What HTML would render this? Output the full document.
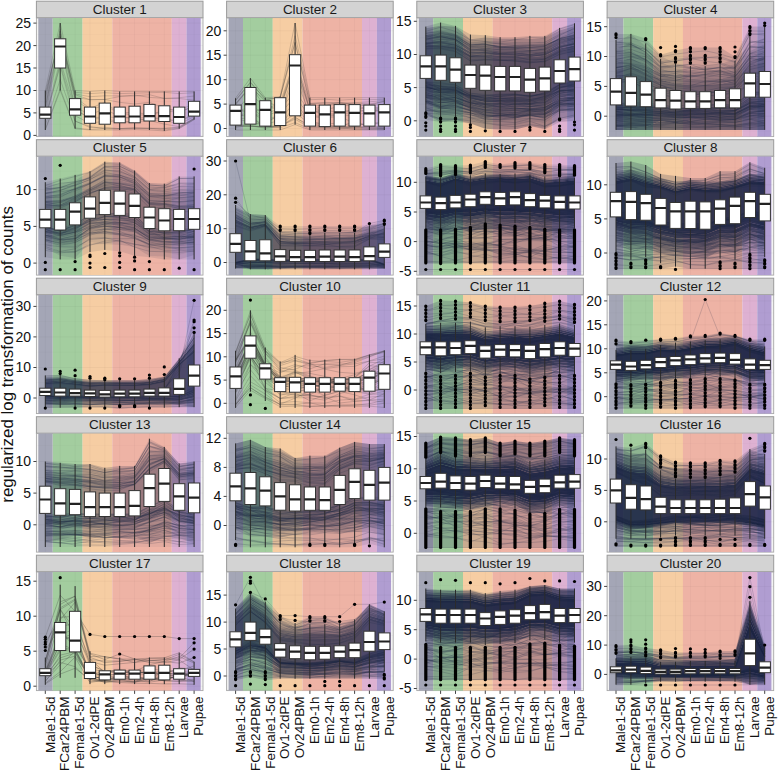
<!DOCTYPE html>
<html><head><meta charset="utf-8"><style>html,body{margin:0;padding:0;background:#fff}svg{display:block}</style></head>
<body><svg width="778" height="770" viewBox="0 0 778 770">
<defs><clipPath id="c1"><rect x="36.4" y="18" width="166.6" height="118.6"/></clipPath><clipPath id="c2"><rect x="226.6" y="18" width="166.6" height="118.6"/></clipPath><clipPath id="c3"><rect x="416.8" y="18" width="166.6" height="118.6"/></clipPath><clipPath id="c4"><rect x="607.1" y="18" width="166.6" height="118.6"/></clipPath><clipPath id="c5"><rect x="36.4" y="156.5" width="166.6" height="118.6"/></clipPath><clipPath id="c6"><rect x="226.6" y="156.5" width="166.6" height="118.6"/></clipPath><clipPath id="c7"><rect x="416.8" y="156.5" width="166.6" height="118.6"/></clipPath><clipPath id="c8"><rect x="607.1" y="156.5" width="166.6" height="118.6"/></clipPath><clipPath id="c9"><rect x="36.4" y="295" width="166.6" height="118.6"/></clipPath><clipPath id="c10"><rect x="226.6" y="295" width="166.6" height="118.6"/></clipPath><clipPath id="c11"><rect x="416.8" y="295" width="166.6" height="118.6"/></clipPath><clipPath id="c12"><rect x="607.1" y="295" width="166.6" height="118.6"/></clipPath><clipPath id="c13"><rect x="36.4" y="433.5" width="166.6" height="118.6"/></clipPath><clipPath id="c14"><rect x="226.6" y="433.5" width="166.6" height="118.6"/></clipPath><clipPath id="c15"><rect x="416.8" y="433.5" width="166.6" height="118.6"/></clipPath><clipPath id="c16"><rect x="607.1" y="433.5" width="166.6" height="118.6"/></clipPath><clipPath id="c17"><rect x="36.4" y="572" width="166.6" height="118.6"/></clipPath><clipPath id="c18"><rect x="226.6" y="572" width="166.6" height="118.6"/></clipPath><clipPath id="c19"><rect x="416.8" y="572" width="166.6" height="118.6"/></clipPath><clipPath id="c20"><rect x="607.1" y="572" width="166.6" height="118.6"/></clipPath></defs>
<style>
text{font-family:"Liberation Sans",sans-serif;fill:#111}
.st{font-size:13.5px;text-anchor:middle;fill:#1a1a1a}
.yl{font-size:14px;text-anchor:end}
.xl{font-size:13.5px;text-anchor:end}
.yt{font-size:16.9px;text-anchor:middle}
.tk{stroke:#444;stroke-width:1;fill:none}
.wh{stroke:#2b2b2b;stroke-width:1;fill:none}
.bx{fill:#fff;stroke:#333;stroke-width:1}
.md{stroke:#222;stroke-width:2.2}
.ob{stroke:#000;stroke-width:3.2;stroke-linecap:round}
.b1 .ob{stroke-dasharray:1.1 2.3}
.b2 .ob{stroke-dasharray:0.6 2.9}
circle{fill:#000}
</style>
<rect width="778" height="770" fill="#fff"/>
<rect x="36.4" y="1.2" width="166.6" height="16.5" fill="#d3d3d3" stroke="#9a9a9a" stroke-width="1"/><text x="119.7" y="13.5" class="st">Cluster 1</text><rect x="36.4" y="18" width="166.6" height="118.6" fill="#f3f3f3" stroke="#a8a8a8" stroke-width="0.9"/><rect x="38.3" y="18" width="14.4" height="118.6" fill="#a4a6b6"/><rect x="52.8" y="18" width="29.8" height="118.6" fill="#a3cd9f"/><rect x="82.5" y="18" width="29.8" height="118.6" fill="#f6cda3"/><rect x="112.3" y="18" width="59.5" height="118.6" fill="#eeb3a5"/><rect x="171.8" y="18" width="14.9" height="118.6" fill="#deb1d2"/><rect x="186.6" y="18" width="14.1" height="118.6" fill="#b09dd1"/><g stroke="#000" stroke-width="0.8"><path d="M36.4 135.4H203" stroke-opacity="0.045"/><path d="M36.4 124.2H203" stroke-opacity="0.025"/><path d="M36.4 112.9H203" stroke-opacity="0.045"/><path d="M36.4 101.7H203" stroke-opacity="0.025"/><path d="M36.4 90.5H203" stroke-opacity="0.045"/><path d="M36.4 79.2H203" stroke-opacity="0.025"/><path d="M36.4 68H203" stroke-opacity="0.045"/><path d="M36.4 56.8H203" stroke-opacity="0.025"/><path d="M36.4 45.6H203" stroke-opacity="0.045"/><path d="M36.4 34.3H203" stroke-opacity="0.025"/><path d="M36.4 23.1H203" stroke-opacity="0.045"/><path d="M45.3 18V136.6" stroke-opacity=".04"/><path d="M60.2 18V136.6" stroke-opacity=".04"/><path d="M75.1 18V136.6" stroke-opacity=".04"/><path d="M90 18V136.6" stroke-opacity=".04"/><path d="M104.8 18V136.6" stroke-opacity=".04"/><path d="M119.7 18V136.6" stroke-opacity=".04"/><path d="M134.6 18V136.6" stroke-opacity=".04"/><path d="M149.4 18V136.6" stroke-opacity=".04"/><path d="M164.3 18V136.6" stroke-opacity=".04"/><path d="M179.2 18V136.6" stroke-opacity=".04"/><path d="M194.1 18V136.6" stroke-opacity=".04"/></g><g transform="translate(45.32 0) scale(14.875 1)"><path vector-effect="non-scaling-stroke" d="M0 114.7 1 45.6 2 109.3 3 118.8 4 118.7 5 121.8 6 121.5 7 117.5 8 118.5 9 121.2 10 113.7M0 110.5 1 42 2 107 3 114.7 4 108.7 5 117 6 118.1 7 120.6 8 124.1 9 126.7 10 118.4M0 125.2 1 79.5 2 121.2 3 126.4 4 128.9 5 128.9 6 128.4 7 128.2 8 130 9 128.2 10 119.5M0 120.2 1 63.8 2 115.7 3 123.4 4 121 5 122.1 6 122.2 7 120.2 8 120.4 9 124.1 10 116.5M0 96.3 1 34 2 94.7 3 99.7 4 99.4 5 96.6 6 95.1 7 97.4 8 98.3 9 97.7 10 96M0 106.9 1 39.1 2 97.4 3 99.7 4 99.5 5 102.3 6 104 7 102.3 8 108.3 9 111.8 10 107M0 102.7 1 31 2 97.4 3 108.3 4 102.4 5 113.4 6 115 7 114.9 8 110.1 9 109.1 10 104.7M0 116.8 1 60.4 2 109.7 3 118 4 116.9 5 117.7 6 118 7 117.5 8 119.8 9 121.3 10 115.3M0 98.6 1 29.3 2 93.9 3 96.7 4 95.8 5 95.9 6 96 7 94.7 8 98.5 9 98.5 10 100.2M0 129 1 88.7 2 127.9 3 129.5 4 128.4 5 128.6 6 128.5 7 128.2 8 128.3 9 127.2 10 118.7M0 106.5 1 36.3 2 100.6 3 109.3 4 105.6 5 113.3 6 112 7 115 8 111.3 9 111.8 10 106M0 117.9 1 66 2 121 3 127.5 4 127.3 5 128.6 6 127.4 7 128.7 8 128.6 9 127.7 10 118.7M0 90.5 1 23.1 2 90.5 3 91.4 4 90.5 5 91.4 6 91.4 7 91.4 8 91.4 9 91.4 10 91.4M0 92.7 1 36.6 2 92.3 3 93.6 4 92.7 5 93.6 6 93.2 7 92.7 8 92.3 9 93.6 10 92.7M0 130 1 90.5 2 128.7 3 130 4 130 5 130 6 129.6 7 130 8 130.9 9 128.7 10 119.7" fill="none" stroke="#333" stroke-width="0.6" stroke-opacity="0.33"/></g><g clip-path="url(#c1)" class="b1"><path d="M45.3 90.5V107.1M45.3 118.3V130" class="wh"/><rect x="39.7" y="107.1" width="11.2" height="11.2" class="bx"/><path d="M39.7 114.7H50.9" class="md"/><path d="M60.2 23.1V38.8M60.2 68V90.5" class="wh"/><rect x="54.6" y="38.8" width="11.2" height="29.2" class="bx"/><path d="M54.6 46.5H65.8" class="md"/><path d="M75.1 90.5V98.6M75.1 115.2V128.7" class="wh"/><rect x="69.5" y="98.6" width="11.2" height="16.6" class="bx"/><path d="M69.5 109.3H80.7" class="md"/><path d="M90 91.4V107.1M90 123.3V130" class="wh"/><rect x="84.4" y="107.1" width="11.2" height="16.2" class="bx"/><path d="M84.4 116.5H95.5" class="md"/><path d="M104.8 90.5V103.1M104.8 124.2V130" class="wh"/><rect x="99.2" y="103.1" width="11.2" height="21.1" class="bx"/><path d="M99.2 113.4H110.4" class="md"/><path d="M119.7 91.4V107.1M119.7 122.8V130" class="wh"/><rect x="114.1" y="107.1" width="11.2" height="15.7" class="bx"/><path d="M114.1 116.5H125.3" class="md"/><path d="M134.6 91.4V106.2M134.6 122.8V129.6" class="wh"/><rect x="129" y="106.2" width="11.2" height="16.6" class="bx"/><path d="M129 116.5H140.2" class="md"/><path d="M149.4 91.4V104.4M149.4 121V130" class="wh"/><rect x="143.9" y="104.4" width="11.2" height="16.6" class="bx"/><path d="M143.9 116.1H155" class="md"/><path d="M164.3 91.4V105.8M164.3 121.5V130.9" class="wh"/><rect x="158.7" y="105.8" width="11.2" height="15.7" class="bx"/><path d="M158.7 116.1H169.9" class="md"/><path d="M179.2 91.4V107.1M179.2 123.3V128.7" class="wh"/><rect x="173.6" y="107.1" width="11.2" height="16.2" class="bx"/><path d="M173.6 117H184.8" class="md"/><path d="M194.1 91.4V101.3M194.1 116.1V119.7" class="wh"/><rect x="188.5" y="101.3" width="11.2" height="14.8" class="bx"/><path d="M188.5 111.6H199.7" class="md"/></g><path d="M33.4 135.4H36.4" class="tk"/><text x="31.1" y="140.3" class="yl">0</text><path d="M33.4 112.9H36.4" class="tk"/><text x="31.1" y="117.8" class="yl">5</text><path d="M33.4 90.5H36.4" class="tk"/><text x="31.1" y="95.4" class="yl">10</text><path d="M33.4 68H36.4" class="tk"/><text x="31.1" y="72.9" class="yl">15</text><path d="M33.4 45.6H36.4" class="tk"/><text x="31.1" y="50.5" class="yl">20</text><path d="M33.4 23.1H36.4" class="tk"/><text x="31.1" y="28" class="yl">25</text>
<rect x="226.6" y="1.2" width="166.6" height="16.5" fill="#d3d3d3" stroke="#9a9a9a" stroke-width="1"/><text x="309.9" y="13.5" class="st">Cluster 2</text><rect x="226.6" y="18" width="166.6" height="118.6" fill="#f3f3f3" stroke="#a8a8a8" stroke-width="0.9"/><rect x="228.6" y="18" width="14.4" height="118.6" fill="#a4a6b6"/><rect x="243" y="18" width="29.8" height="118.6" fill="#a3cd9f"/><rect x="272.7" y="18" width="29.8" height="118.6" fill="#f6cda3"/><rect x="302.5" y="18" width="59.5" height="118.6" fill="#eeb3a5"/><rect x="362" y="18" width="14.9" height="118.6" fill="#deb1d2"/><rect x="376.9" y="18" width="14.1" height="118.6" fill="#b09dd1"/><g stroke="#000" stroke-width="0.8"><path d="M226.6 128.5H393.2" stroke-opacity="0.045"/><path d="M226.6 116.3H393.2" stroke-opacity="0.025"/><path d="M226.6 104.1H393.2" stroke-opacity="0.045"/><path d="M226.6 91.9H393.2" stroke-opacity="0.025"/><path d="M226.6 79.7H393.2" stroke-opacity="0.045"/><path d="M226.6 67.4H393.2" stroke-opacity="0.025"/><path d="M226.6 55.2H393.2" stroke-opacity="0.045"/><path d="M226.6 43H393.2" stroke-opacity="0.025"/><path d="M226.6 30.8H393.2" stroke-opacity="0.045"/><path d="M226.6 18.6H393.2" stroke-opacity="0.025"/><path d="M235.6 18V136.6" stroke-opacity=".04"/><path d="M250.4 18V136.6" stroke-opacity=".04"/><path d="M265.3 18V136.6" stroke-opacity=".04"/><path d="M280.2 18V136.6" stroke-opacity=".04"/><path d="M295.1 18V136.6" stroke-opacity=".04"/><path d="M309.9 18V136.6" stroke-opacity=".04"/><path d="M324.8 18V136.6" stroke-opacity=".04"/><path d="M339.7 18V136.6" stroke-opacity=".04"/><path d="M354.6 18V136.6" stroke-opacity=".04"/><path d="M369.4 18V136.6" stroke-opacity=".04"/><path d="M384.3 18V136.6" stroke-opacity=".04"/></g><g transform="translate(235.55 0) scale(14.875 1)"><path vector-effect="non-scaling-stroke" d="M0 109.7 1 111.9 2 109 3 103 4 59 5 109.1 6 110.5 7 112.2 8 109.2 9 111.5 10 110.8M0 125.8 1 125.8 2 128.2 3 126.6 4 117.9 5 125 6 125.2 7 126.4 8 126.7 9 127.1 10 127M0 119.2 1 117.6 2 126.5 3 126.9 4 104.2 5 125.6 6 127.4 7 126.6 8 121.3 9 126.4 10 126.6M0 124.3 1 126.5 2 126.8 3 126.3 4 116.8 5 127.2 6 127 7 127.1 8 127.1 9 128 10 128.7M0 100.7 1 82.7 2 99.1 3 97.2 4 42.5 5 103.4 6 102.4 7 102.8 8 103.3 9 103.9 10 101.6M0 105 1 86.6 2 101.6 3 106.8 4 57.8 5 105 6 105.6 7 104 8 102.7 9 101.8 10 100.5M0 120.9 1 106.4 2 119.4 3 115.6 4 67.8 5 110.6 6 105.5 7 102.2 8 104.6 9 110.2 10 107.2M0 126.9 1 126.2 2 126.4 3 127.7 4 122.7 5 128.9 6 128.9 7 128.8 8 128.7 9 129.1 10 129.5M0 114.7 1 116.5 2 126.6 3 125 4 113.2 5 123.3 6 126.8 7 127 8 127.8 9 128.4 10 128.1M0 125.7 1 124.1 2 123.8 3 113.7 4 96.6 5 116.4 6 117.9 7 116.4 8 123.5 9 125.3 10 121.4M0 112.8 1 106 2 113.3 3 108.8 4 63 5 120.9 6 124.5 7 127.5 8 129.4 9 129.5 10 128.9M0 110.5 1 111.7 2 121.4 3 116 4 75.8 5 115.2 6 116.7 7 114.8 8 111.7 9 110.5 10 109.1M0 127.1 1 125.6 2 127.6 3 125.9 4 119.2 5 127.6 6 127.8 7 128.4 8 126.8 9 122.1 10 123.7M0 104.2 1 85.6 2 107.3 3 106.9 4 61.8 5 110.1 6 115.1 7 114.7 8 115.9 9 111.4 10 109.6M0 111 1 94.6 2 106.7 3 109.6 4 91.2 5 112.1 6 110 7 106.3 8 104.7 9 105.1 10 104.4M0 116.6 1 113.3 2 116.8 3 110 4 61.5 5 110.2 6 113.3 7 114.3 8 108.9 9 108 10 107.3M0 118.6 1 122.3 2 124.6 3 120.1 4 101 5 122.9 6 124.3 7 122.8 8 126.9 9 127.1 10 127.8M0 103.4 1 87.5 2 100.2 3 97.2 4 42.3 5 103.5 6 103.3 7 103.2 8 105.6 9 105.1 10 101.2M0 98.2 1 78.2 2 97.7 3 96.7 4 23 5 97.7 6 97.7 7 97.7 8 97.7 9 97.7 10 97.7M0 100.2 1 82.1 2 99.2 3 98.2 4 35.7 5 99.7 6 99.2 7 100.2 8 99.2 9 99.7 10 99.2M0 130 1 130 2 130 3 130 4 124.6 5 130 6 130 7 130 8 130 9 130 10 130" fill="none" stroke="#333" stroke-width="0.6" stroke-opacity="0.36"/></g><g clip-path="url(#c2)" class="b1"><path d="M235.6 98.2V105.1M235.6 125.1V130" class="wh"/><rect x="230" y="105.1" width="11.2" height="20" class="bx"/><path d="M230 110.9H241.1" class="md"/><path d="M250.4 78.2V87.5M250.4 124.1V130" class="wh"/><rect x="244.8" y="87.5" width="11.2" height="36.6" class="bx"/><path d="M244.8 104.1H256" class="md"/><path d="M265.3 97.7V100.7M265.3 126.1V130" class="wh"/><rect x="259.7" y="100.7" width="11.2" height="25.4" class="bx"/><path d="M259.7 109.9H270.9" class="md"/><path d="M280.2 96.7V97.7M280.2 125.6V130" class="wh"/><rect x="274.6" y="97.7" width="11.2" height="27.8" class="bx"/><path d="M274.6 112.4H285.8" class="md"/><path d="M295.1 23V54.7M295.1 115.8V124.6" class="wh"/><rect x="289.5" y="54.7" width="11.2" height="61.1" class="bx"/><path d="M289.5 65.5H300.6" class="md"/><path d="M309.9 97.7V105.1M309.9 126.1V130" class="wh"/><rect x="304.3" y="105.1" width="11.2" height="21" class="bx"/><path d="M304.3 112.9H315.5" class="md"/><path d="M324.8 97.7V105.1M324.8 126.5V130" class="wh"/><rect x="319.2" y="105.1" width="11.2" height="21.5" class="bx"/><path d="M319.2 114.3H330.4" class="md"/><path d="M339.7 97.7V104.6M339.7 126.1V130" class="wh"/><rect x="334.1" y="104.6" width="11.2" height="21.5" class="bx"/><path d="M334.1 112.4H345.3" class="md"/><path d="M354.6 97.7V104.6M354.6 126.1V130" class="wh"/><rect x="349" y="104.6" width="11.2" height="21.5" class="bx"/><path d="M349 112.9H360.1" class="md"/><path d="M369.4 97.7V105.1M369.4 126.1V130" class="wh"/><rect x="363.8" y="105.1" width="11.2" height="21" class="bx"/><path d="M363.8 113.4H375" class="md"/><path d="M384.3 97.7V104.6M384.3 126.1V130" class="wh"/><rect x="378.7" y="104.6" width="11.2" height="21.5" class="bx"/><path d="M378.7 112.4H389.9" class="md"/></g><path d="M223.6 128.5H226.6" class="tk"/><text x="221.3" y="133.4" class="yl">0</text><path d="M223.6 104.1H226.6" class="tk"/><text x="221.3" y="109" class="yl">5</text><path d="M223.6 79.7H226.6" class="tk"/><text x="221.3" y="84.6" class="yl">10</text><path d="M223.6 55.2H226.6" class="tk"/><text x="221.3" y="60.1" class="yl">15</text><path d="M223.6 30.8H226.6" class="tk"/><text x="221.3" y="35.7" class="yl">20</text>
<rect x="416.8" y="1.2" width="166.6" height="16.5" fill="#d3d3d3" stroke="#9a9a9a" stroke-width="1"/><text x="500.1" y="13.5" class="st">Cluster 3</text><rect x="416.8" y="18" width="166.6" height="118.6" fill="#f3f3f3" stroke="#a8a8a8" stroke-width="0.9"/><rect x="418.8" y="18" width="14.4" height="118.6" fill="#a4a6b6"/><rect x="433.2" y="18" width="29.8" height="118.6" fill="#a3cd9f"/><rect x="463" y="18" width="29.8" height="118.6" fill="#f6cda3"/><rect x="492.7" y="18" width="59.5" height="118.6" fill="#eeb3a5"/><rect x="552.2" y="18" width="14.9" height="118.6" fill="#deb1d2"/><rect x="567.1" y="18" width="14.1" height="118.6" fill="#b09dd1"/><g stroke="#000" stroke-width="0.8"><path d="M416.8 120.8H583.4" stroke-opacity="0.045"/><path d="M416.8 104.2H583.4" stroke-opacity="0.025"/><path d="M416.8 87.6H583.4" stroke-opacity="0.045"/><path d="M416.8 71H583.4" stroke-opacity="0.025"/><path d="M416.8 54.5H583.4" stroke-opacity="0.045"/><path d="M416.8 37.9H583.4" stroke-opacity="0.025"/><path d="M416.8 21.3H583.4" stroke-opacity="0.045"/><path d="M425.8 18V136.6" stroke-opacity=".04"/><path d="M440.6 18V136.6" stroke-opacity=".04"/><path d="M455.5 18V136.6" stroke-opacity=".04"/><path d="M470.4 18V136.6" stroke-opacity=".04"/><path d="M485.3 18V136.6" stroke-opacity=".04"/><path d="M500.1 18V136.6" stroke-opacity=".04"/><path d="M515 18V136.6" stroke-opacity=".04"/><path d="M529.9 18V136.6" stroke-opacity=".04"/><path d="M544.8 18V136.6" stroke-opacity=".04"/><path d="M559.6 18V136.6" stroke-opacity=".04"/><path d="M574.5 18V136.6" stroke-opacity=".04"/></g><g fill="#1c2545" clip-path="url(#c3)"><path d="M425.8 28.2L440.6 25.8V22.6L425.8 26.6ZM425.8 119.5L440.6 122.1V122.1L425.8 114.2ZM440.6 25.8L455.5 26.7V25.9L440.6 22.6ZM440.6 122.1L455.5 122.1V120.1L440.6 122.1ZM455.5 26.7L470.4 39.2V34.6L455.5 25.9ZM455.5 122.1L470.4 123.5V123.5L455.5 120.1ZM470.4 39.2L485.3 37.5V35.2L470.4 34.6ZM470.4 123.5L485.3 128.8V128.8L470.4 123.5ZM485.3 37.5L500.1 38.8V37.2L485.3 35.2ZM485.3 128.8L500.1 129.4V129.4L485.3 128.8ZM500.1 38.8L515 38.8V37.2L500.1 37.2ZM500.1 129.4L515 129.4V129.4L500.1 129.4ZM515 38.8L529.9 39.1V35.9L515 37.2ZM515 129.4L529.9 126.1V126.1L515 129.4ZM529.9 39.1L544.8 37.8V35.9L529.9 35.9ZM529.9 126.1L544.8 129.4V128.8L529.9 126.1ZM544.8 37.8L559.6 30.5V27.9L544.8 35.9ZM544.8 129.4L559.6 122.1V118.8L544.8 128.8ZM559.6 30.5L574.5 26.1V23.3L559.6 27.9ZM559.6 122.1L574.5 120.8V116.8L559.6 118.8Z" fill-opacity=".15"/><path d="M425.8 31.6L440.6 29.4V25.8L425.8 28.2ZM425.8 114.2L440.6 122.1V116L425.8 108.9ZM440.6 29.4L455.5 30.6V26.7L440.6 25.8ZM440.6 122.1L455.5 120.1V114.6L440.6 116ZM455.5 30.6L470.4 42.4V39.2L455.5 26.7ZM455.5 120.1L470.4 123.5V118.5L455.5 114.6ZM470.4 42.4L485.3 40.9V37.5L470.4 39.2ZM470.4 123.5L485.3 128.8V123.4L470.4 118.5ZM485.3 40.9L500.1 42.2V38.8L485.3 37.5ZM485.3 128.8L500.1 129.4V124L485.3 123.4ZM500.1 42.2L515 42.2V38.8L500.1 38.8ZM500.1 129.4L515 129.4V124L500.1 124ZM515 42.2L529.9 42.7V39.1L515 38.8ZM515 129.4L529.9 126.1V121.4L515 124ZM529.9 42.7L544.8 41.4V37.8L529.9 39.1ZM529.9 126.1L544.8 128.8V123.2L529.9 121.4ZM544.8 41.4L559.6 34.1V30.5L544.8 37.8ZM544.8 128.8L559.6 118.8V113.6L544.8 123.2ZM559.6 34.1L574.5 29.9V26.1L559.6 30.5ZM559.6 118.8L574.5 116.8V111.6L559.6 113.6Z" fill-opacity=".35"/><path d="M425.8 35L440.6 33V29.4L425.8 31.6ZM425.8 108.9L440.6 116V109.9L425.8 103.7ZM440.6 33L455.5 34.4V30.6L440.6 29.4ZM440.6 116L455.5 114.6V109L440.6 109.9ZM455.5 34.4L470.4 45.6V42.4L455.5 30.6ZM455.5 114.6L470.4 118.5V113.6L455.5 109ZM470.4 45.6L485.3 44.3V40.9L470.4 42.4ZM470.4 118.5L485.3 123.4V118L470.4 113.6ZM485.3 44.3L500.1 45.6V42.2L485.3 40.9ZM485.3 123.4L500.1 124V118.5L485.3 118ZM500.1 45.6L515 45.6V42.2L500.1 42.2ZM500.1 124L515 124V118.5L500.1 118.5ZM515 45.6L529.9 46.3V42.7L515 42.2ZM515 124L529.9 121.4V116.6L515 118.5ZM529.9 46.3L544.8 45V41.4L529.9 42.7ZM529.9 121.4L544.8 123.2V117.7L529.9 116.6ZM544.8 45L559.6 37.7V34.1L544.8 41.4ZM544.8 123.2L559.6 113.6V108.3L544.8 117.7ZM559.6 37.7L574.5 33.7V29.9L559.6 34.1ZM559.6 113.6L574.5 111.6V106.3L559.6 108.3Z" fill-opacity=".40"/><path d="M425.8 38.4L440.6 36.6V33L425.8 35ZM425.8 103.7L440.6 109.9V103.7L425.8 98.4ZM440.6 36.6L455.5 38.2V34.4L440.6 33ZM440.6 109.9L455.5 109V103.5L440.6 103.7ZM455.5 38.2L470.4 48.8V45.6L455.5 34.4ZM455.5 109L470.4 113.6V108.7L455.5 103.5ZM470.4 48.8L485.3 47.7V44.3L470.4 45.6ZM470.4 113.6L485.3 118V112.7L470.4 108.7ZM485.3 47.7L500.1 49V45.6L485.3 44.3ZM485.3 118L500.1 118.5V113L485.3 112.7ZM500.1 49L515 49V45.6L500.1 45.6ZM500.1 118.5L515 118.5V113L500.1 113ZM515 49L529.9 49.9V46.3L515 45.6ZM515 118.5L529.9 116.6V111.9L515 113ZM529.9 49.9L544.8 48.6V45L529.9 46.3ZM529.9 116.6L544.8 117.7V112.1L529.9 111.9ZM544.8 48.6L559.6 41.3V37.7L544.8 45ZM544.8 117.7L559.6 108.3V103L544.8 112.1ZM559.6 41.3L574.5 37.5V33.7L559.6 37.7ZM559.6 108.3L574.5 106.3V101.1L559.6 103Z" fill-opacity=".50"/><path d="M425.8 41.8L440.6 40.2V36.6L425.8 38.4ZM425.8 98.4L440.6 103.7V97.6L425.8 93.2ZM440.6 40.2L455.5 42V38.2L440.6 36.6ZM440.6 103.7L455.5 103.5V98L440.6 97.6ZM455.5 42L470.4 51.9V48.8L455.5 38.2ZM455.5 103.5L470.4 108.7V103.8L455.5 98ZM470.4 51.9L485.3 51.1V47.7L470.4 48.8ZM470.4 108.7L485.3 112.7V107.3L470.4 103.8ZM485.3 51.1L500.1 52.4V49L485.3 47.7ZM485.3 112.7L500.1 113V107.6L485.3 107.3ZM500.1 52.4L515 52.4V49L500.1 49ZM500.1 113L515 113V107.6L500.1 107.6ZM515 52.4L529.9 53.5V49.9L515 49ZM515 113L529.9 111.9V107.1L515 107.6ZM529.9 53.5L544.8 52.2V48.6L529.9 49.9ZM529.9 111.9L544.8 112.1V106.6L529.9 107.1ZM544.8 52.2L559.6 44.9V41.3L544.8 48.6ZM544.8 112.1L559.6 103V97.8L544.8 106.6ZM559.6 44.9L574.5 41.4V37.5L559.6 41.3ZM559.6 103L574.5 101.1V95.8L559.6 97.8Z" fill-opacity=".60"/><path d="M425.8 45.2L440.6 43.9V40.2L425.8 41.8ZM425.8 93.2L440.6 97.6V91.5L425.8 87.9ZM440.6 43.9L455.5 45.8V42L440.6 40.2ZM440.6 97.6L455.5 98V92.4L440.6 91.5ZM455.5 45.8L470.4 55.1V51.9L455.5 42ZM455.5 98L470.4 103.8V98.9L455.5 92.4ZM470.4 55.1L485.3 54.5V51.1L470.4 51.9ZM470.4 103.8L485.3 107.3V102L470.4 98.9ZM485.3 54.5L500.1 55.8V52.4L485.3 51.1ZM485.3 107.3L500.1 107.6V102.1L485.3 102ZM500.1 55.8L515 55.8V52.4L500.1 52.4ZM500.1 107.6L515 107.6V102.1L500.1 102.1ZM515 55.8L529.9 57.1V53.5L515 52.4ZM515 107.6L529.9 107.1V102.4L515 102.1ZM529.9 57.1L544.8 55.8V52.2L529.9 53.5ZM529.9 107.1L544.8 106.6V101L529.9 102.4ZM544.8 55.8L559.6 48.5V44.9L544.8 52.2ZM544.8 106.6L559.6 97.8V92.5L544.8 101ZM559.6 48.5L574.5 45.2V41.4L559.6 44.9ZM559.6 97.8L574.5 95.8V90.6L559.6 92.5Z" fill-opacity=".65"/><path d="M425.8 87.9L440.6 91.5V43.9L425.8 45.2ZM440.6 91.5L455.5 92.4V45.8L440.6 43.9ZM455.5 92.4L470.4 98.9V55.1L455.5 45.8ZM470.4 98.9L485.3 102V54.5L470.4 55.1ZM485.3 102L500.1 102.1V55.8L485.3 54.5ZM500.1 102.1L515 102.1V55.8L500.1 55.8ZM515 102.1L529.9 102.4V57.1L515 55.8ZM529.9 102.4L544.8 101V55.8L529.9 57.1ZM544.8 101L559.6 92.5V48.5L544.8 55.8ZM559.6 92.5L574.5 90.6V45.2L559.6 48.5Z" fill-opacity=".70"/></g><g transform="translate(425.77 0) scale(14.875 1)"><path vector-effect="non-scaling-stroke" d="M0 95 1 96.3 2 95.2 3 103 4 105.1 5 106.9 6 109.2 7 108.8 8 109.7 9 104.7 10 102.7M0 39.5 1 35.6 2 37 3 47.1 4 47.9 5 49.9 6 49.6 7 50.3 8 49.2 9 41.3 10 37.9M0 101.7 1 108.1 2 109.5 3 113.1 4 114.9 5 115.9 6 113 7 110 8 111.5 9 104.6 10 102.6M0 99.7 1 106.7 2 107.5 3 110.3 4 112.7 5 113 6 112.7 7 110.1 8 110.4 9 100.5 10 100.5M0 89.2 1 92.5 2 92.8 3 98.8 4 99.9 5 97.8 6 99 7 99.4 8 97.9 9 90.9 10 86M0 101.6 1 106.5 2 107.3 3 109.6 4 112.2 5 113.8 6 114.5 7 110.7 8 113.1 9 106 10 106.6M0 104.6 1 107.4 2 110.4 3 112.9 4 117.5 5 115.4 6 114.8 7 114.7 8 113.9 9 107.7 10 106.6M0 85.3 1 88.1 2 87.8 3 94.7 4 95.8 5 93.9 6 94 7 96.4 8 93.5 9 84.7 10 81.5M0 109.6 1 111.2 2 112.2 3 115 4 118.4 5 119.7 6 119.5 7 118.3 8 120 9 110.5 10 108.7M0 88.2 1 88.8 2 90.9 3 96.2 4 96.3 5 96.3 6 97.9 7 96.8 8 92.6 9 84.7 10 82.3M0 110.4 1 112.1 2 113.1 3 114.7 4 117.4 5 115.1 6 117.9 7 115.7 8 117.3 9 109.5 10 108.1M0 110.4 1 111.6 2 109.8 3 114.3 4 119.9 5 119 6 116.9 7 114.7 8 118 9 105.7 10 104.8M0 35.9 1 35 2 38.6 3 46 4 45.1 5 47.2 6 48.1 7 50.5 8 50 9 42.5 10 38.9M0 44 1 41 2 41.1 3 50.4 4 50.9 5 52.4 6 53 7 54.8 8 53.7 9 47.5 10 43.4M0 44.2 1 43.8 2 46 3 56 4 55 5 56.3 6 57.7 7 59.2 8 59.2 9 52.7 10 50.1M0 83.7 1 86.7 2 87.1 3 93.2 4 95.4 5 94.5 6 94.7 7 96.1 8 94 9 85.4 10 83M0 101.1 1 104.7 2 105.7 3 110.4 4 113.6 5 113.5 6 114.5 7 113.7 8 114.9 9 104.5 10 103.7M0 40.1 1 37 2 39.6 3 51.5 4 50.7 5 53.7 6 55 7 56.9 8 54.2 9 47.3 10 43.6M0 91.2 1 92.6 2 92.3 3 99.4 4 103.1 5 103.4 6 104.9 7 103.8 8 102.7 9 95.4 10 94.5M0 85 1 85.9 2 87.9 3 95.1 4 98.3 5 95.8 6 95.2 7 95.6 8 93.4 9 86.4 10 83.7M0 102.3 1 106.8 2 102.7 3 107.3 4 111.9 5 113.2 6 115.8 7 115.7 8 117.5 9 110.2 10 109.9M0 99.8 1 102.8 2 103.3 3 108.2 4 114 5 114.4 6 116.6 7 113.7 8 114.3 9 106 10 105.6M0 96.2 1 98.4 2 96.6 3 103.8 4 108 5 109 6 108.3 7 109.1 8 108.7 9 102.3 10 99M0 94.8 1 98.6 2 97.8 3 103.4 4 106.4 5 108 6 107 7 106.1 8 107.4 9 102.8 10 104.4M0 46.2 1 46.2 2 47.9 3 56.8 4 56.9 5 59.8 6 61.3 7 62.6 8 61.8 9 54.5 10 51.3M0 42.9 1 41.7 2 44.9 3 52.9 4 52.4 5 54.6 6 54.9 7 56.4 8 54.4 9 48.8 10 46.8M0 42 1 39.4 2 39.4 3 48.7 4 48.9 5 49.1 6 48.6 7 48.2 8 48 9 38.2 10 32.2M0 86.7 1 91.5 2 91.8 3 96.2 4 99.5 5 98.5 6 98 7 98 8 95.3 9 84.5 10 84.4M0 45.2 1 46 2 48.8 3 59.6 4 59.2 5 60.3 6 60.4 7 62 8 61.5 9 54 10 51.2M0 46.7 1 47.6 2 49.3 3 56.7 4 53.8 5 53.8 6 53.1 7 54.8 8 52 9 44.7 10 41.2M0 93.4 1 95 2 95.2 3 104.3 4 107.7 5 107.6 6 108.4 7 108.8 8 107 9 98.4 10 98.1M0 82.2 1 86.1 2 86.3 3 95.9 4 95.8 5 94.8 6 94 7 96.2 8 94.6 9 88.1 10 83.4M0 98.9 1 100.6 2 97.8 3 102.9 4 104.1 5 103.3 6 103.8 7 104.3 8 105.8 9 97.2 10 92.8M0 106.7 1 108.7 2 105.8 3 110.9 4 114.9 5 115.9 6 116 7 115.3 8 116.6 9 110.7 10 109.8M0 108 1 110.6 2 111.3 3 112.7 4 119.4 5 120 6 118.2 7 114.1 8 114.6 9 106.6 10 103.7M0 82.6 1 86.2 2 88.9 3 99.5 4 101.1 5 100.5 6 99.3 7 100.9 8 97.5 9 88.1 10 86M0 33.3 1 31.9 2 35.1 3 43.9 4 44.1 5 47.6 6 48.1 7 47.4 8 46.1 9 38.5 10 35.7M0 86 1 92.1 2 93.4 3 101.3 4 103.9 5 105.4 6 104.5 7 104.3 8 107.2 9 100.2 10 97.6M0 89 1 89.6 2 90.1 3 97 4 100.1 5 102.1 6 102.6 7 103.9 8 101.1 9 94.1 10 95.6M0 97.6 1 99.3 2 99.8 3 105.6 4 110.4 5 110.1 6 110.5 7 109.3 8 109.5 9 101.2 10 97.5M0 31.3 1 27.2 2 31.4 3 40 4 41.4 5 42.1 6 39.7 7 37.5 8 37.7 9 29 10 24.5M0 38.9 1 36.7 2 37.6 3 46.4 4 47 5 48.3 6 47.6 7 47.7 8 46.4 9 39.4 10 38M0 83.1 1 88.5 2 88.8 3 95 4 97.4 5 99.2 6 97.1 7 99.6 8 96.8 9 86.3 10 86.3M0 37.1 1 33.2 2 36.3 3 44.9 4 44.1 5 46.4 6 46.1 7 46.1 8 46 9 38.9 10 34.9M0 94 1 97.7 2 99.9 3 106.7 4 111.4 5 115.1 6 113.9 7 113.6 8 114 9 109.1 10 110.3M0 100.6 1 105.1 2 105.5 3 110.3 4 115.4 5 115.7 6 117.2 7 112.5 8 114.2 9 104.6 10 104.4M0 101.1 1 102.8 2 100.8 3 105.8 4 110.2 5 112.1 6 111.8 7 112.2 8 112.8 9 104.7 10 103.9M0 85.7 1 89.5 2 89 3 97.5 4 99.8 5 100.6 6 99.4 7 100.5 8 99.4 9 90.1 10 91.5M0 89.9 1 92.8 2 94.4 3 100.6 4 103.9 5 103.6 6 100.9 7 101 8 96 9 87.9 10 84.6M0 81.9 1 82.7 2 84.9 3 93.2 4 94.3 5 96.6 6 95.1 7 97.1 8 92.6 9 84.2 10 81.5M0 87 1 90.8 2 90.2 3 97.9 4 100.5 5 101.8 6 101.7 7 104.3 8 100.3 9 91.3 10 90.7M0 92.8 1 96.4 2 101.2 3 107.7 4 109.9 5 108.9 6 108.3 7 109 8 107.7 9 98.4 10 98M0 87.3 1 89.8 2 87.1 3 95.5 4 97.3 5 98.1 6 100.9 7 102.9 8 99.8 9 92.7 10 92.7M0 101.4 1 107.1 2 103.6 3 106.7 4 110.1 5 110 6 110.3 7 109.8 8 109.6 9 103.3 10 98M0 88.2 1 90.2 2 90.1 3 98.1 4 101.6 5 100.7 6 103.7 7 106.8 8 104.1 9 96.2 10 98.5M0 94.9 1 97.4 2 97.8 3 102.6 4 107.1 5 106.7 6 106.1 7 104.2 8 103.2 9 93.3 10 91.1M0 35.6 1 32.9 2 35.7 3 45 4 44.2 5 47 6 45.6 7 45.4 8 45.7 9 38.6 10 35.4M0 92.4 1 92.1 2 91.8 3 95.7 4 98.4 5 100 6 101 7 99.7 8 96.6 9 90.8 10 89.3M0 37.8 1 33.9 2 36.4 3 44.9 4 44.3 5 46.6 6 47.7 7 47.8 8 48.1 9 40.6 10 36.6M0 102.9 1 105.8 2 106.1 3 110.8 4 116.5 5 116.1 6 114.9 7 111.3 8 110.3 9 103.1 10 101.4M0 97.3 1 99.7 2 99.9 3 102.7 4 104.4 5 107 6 103.7 7 103.3 8 102.5 9 93.5 10 90.1M0 48.9 1 48.2 2 50.9 3 61 4 59.7 5 60.2 6 59.3 7 61.7 8 59 9 50.5 10 46M0 87.3 1 88.6 2 89.9 3 96.1 4 98.4 5 95.8 6 94.5 7 95.7 8 94.5 9 87.3 10 85.1M0 97.1 1 99.9 2 101.6 3 108.8 4 112.7 5 110.8 6 109.5 7 106.9 8 104.6 9 98.4 10 96.9M0 43.6 1 42.8 2 45.2 3 54.2 4 52.9 5 53.1 6 51.8 7 51.2 8 48.7 9 40.5 10 38.5M0 38.2 1 36.4 2 39.8 3 47.3 4 46.4 5 47.8 6 46.9 7 45.7 8 44.7 9 39.8 10 36.7M0 43.3 1 42.2 2 45.6 3 52.5 4 52.5 5 55.2 6 54.9 7 55.6 8 55.2 9 47 10 44.1M0 87.2 1 91.4 2 92.2 3 102.5 4 104.8 5 107.1 6 107 7 106.5 8 107.1 9 100.3 10 100.6M0 97.4 1 101.7 2 104.6 3 109.6 4 115.2 5 117.8 6 118.1 7 114.3 8 113.5 9 103.2 10 104.1M0 85.9 1 91.3 2 92 3 98.3 4 101.4 5 101.8 6 101 7 101.4 8 102.4 9 91.2 10 89.6M0 90 1 94.8 2 93 3 100.9 4 103.3 5 104.4 6 104.6 7 101.2 8 98.5 9 90.2 10 90.8M0 113.3 1 119.2 2 119.3 3 120.8 4 123.5 5 125.4 6 126.7 7 124.6 8 126.4 9 119.8 10 116.8M0 103.1 1 107.8 2 108.9 3 113 4 116.3 5 114.7 6 114.8 7 112.5 8 111.1 9 101 10 98.4M0 115.4 1 118.8 2 119.1 3 118.9 4 122.8 5 124.7 6 124.4 7 121.3 8 126.3 9 118.4 10 115M0 46.7 1 46.7 2 47.9 3 56.6 4 56.5 5 57.2 6 56.6 7 60.1 8 58.9 9 51.3 10 48.8M0 96.1 1 95.7 2 100.8 3 104.3 4 109.3 5 111.4 6 112.9 7 111.9 8 110.7 9 103.6 10 100.7M0 84.8 1 86.9 2 90.4 3 99.4 4 104.8 5 104.9 6 103.1 7 103 8 98.4 9 87 10 85M0 107.8 1 113 2 113.2 3 117.7 4 121.4 5 121.4 6 122.7 7 118.7 8 120.1 9 110.3 10 108.9M0 101.5 1 102.7 2 101.3 3 108.2 4 115.6 5 116.7 6 115.7 7 115.1 8 115.7 9 109.1 10 108M0 36.6 1 36.1 2 39 3 49.7 4 49.5 5 52 6 51.9 7 52.1 8 52.7 9 46.2 10 43.9M0 93.2 1 99.1 2 97.3 3 105 4 107.6 5 103.7 6 107.6 7 109.2 8 107.7 9 99.7 10 97.5M0 95.7 1 99.4 2 102.1 3 107 4 114.3 5 113.6 6 113.9 7 110.2 8 108.4 9 102.4 10 99M0 33.4 1 31 2 34.4 3 42.4 4 41.9 5 44.2 6 45.2 7 44.6 8 44.2 9 35.4 10 28M0 48.7 1 48.9 2 51.7 3 61 4 60 5 60.4 6 60.8 7 63.1 8 60.8 9 51.8 10 48.1M0 88 1 92.8 2 98.1 3 102 4 107.1 5 109.8 6 110.5 7 110.6 8 112.9 9 103.9 10 102.8M0 35.3 1 32.4 2 34.6 3 45.2 4 43 5 43.5 6 42.8 7 42.7 8 42.3 9 34 10 29.2M0 83.2 1 88.6 2 90.2 3 97 4 101.9 5 100.2 6 100.5 7 102.9 8 101.4 9 92.2 10 90.4M0 113.3 1 114 2 115.3 3 117.7 4 118.6 5 119 6 117.4 7 115 8 118.6 9 109 10 105.6M0 81.8 1 84 2 85 3 94.5 4 98.6 5 98.7 6 98.7 7 99.3 8 96.4 9 91 10 89M0 38.7 1 36.6 2 39.8 3 48.9 4 50.4 5 53.3 6 52.4 7 53.8 8 52.3 9 43.5 10 39" fill="none" stroke="#1c2545" stroke-width="0.6" stroke-opacity="0.3"/></g><g clip-path="url(#c3)" class="b1"><path d="M425.8 26.6V55.8M425.8 78.3V112.2" class="wh"/><rect x="420.2" y="55.8" width="11.2" height="22.6" class="bx"/><path d="M420.2 66.4H431.4" class="md"/><path d="M440.6 22.6V55.1M440.6 80.3V117.5" class="wh"/><rect x="435.1" y="55.1" width="11.2" height="25.2" class="bx"/><path d="M435.1 66.4H446.2" class="md"/><path d="M455.5 25.9V57.8M455.5 82.3V116.8" class="wh"/><rect x="449.9" y="57.8" width="11.2" height="24.5" class="bx"/><path d="M449.9 69.7H461.1" class="md"/><path d="M470.4 34.6V65.1M470.4 88.3V123.5" class="wh"/><rect x="464.8" y="65.1" width="11.2" height="23.2" class="bx"/><path d="M464.8 75H476" class="md"/><path d="M485.3 35.2V65.1M485.3 90.3V128.8" class="wh"/><rect x="479.7" y="65.1" width="11.2" height="25.2" class="bx"/><path d="M479.7 75.7H490.9" class="md"/><path d="M500.1 37.2V66.4M500.1 90.9V129.4" class="wh"/><rect x="494.6" y="66.4" width="11.2" height="24.5" class="bx"/><path d="M494.6 77H505.7" class="md"/><path d="M515 37.2V66.4M515 90.9V129.4" class="wh"/><rect x="509.4" y="66.4" width="11.2" height="24.5" class="bx"/><path d="M509.4 77H520.6" class="md"/><path d="M529.9 35.9V68.4M529.9 92.3V126.1" class="wh"/><rect x="524.3" y="68.4" width="11.2" height="23.9" class="bx"/><path d="M524.3 79.7H535.5" class="md"/><path d="M544.8 35.9V67.1M544.8 90.9V129.4" class="wh"/><rect x="539.2" y="67.1" width="11.2" height="23.9" class="bx"/><path d="M539.2 78.3H550.4" class="md"/><path d="M559.6 27.9V59.8M559.6 83V117.5" class="wh"/><rect x="554.1" y="59.8" width="11.2" height="23.2" class="bx"/><path d="M554.1 71H565.2" class="md"/><path d="M574.5 23.3V57.1M574.5 81V120.8" class="wh"/><rect x="568.9" y="57.1" width="11.2" height="23.9" class="bx"/><path d="M568.9 69.1H580.1" class="md"/><path d="M425.8 112.8V119.5" class="ob"/><circle cx="425.8" cy="122.8" r="1.6"/><circle cx="425.8" cy="126.1" r="1.6"/><circle cx="425.8" cy="130.1" r="1.6"/><path d="M440.6 118.1V122.1" class="ob"/><circle cx="440.6" cy="126.1" r="1.6"/><circle cx="440.6" cy="129.4" r="1.6"/><circle cx="440.6" cy="131.4" r="1.6"/><path d="M455.5 118.1V122.1" class="ob"/><circle cx="455.5" cy="126.1" r="1.6"/><circle cx="455.5" cy="129.4" r="1.6"/><circle cx="455.5" cy="131.4" r="1.6"/><circle cx="470.4" cy="124.8" r="1.6"/><circle cx="470.4" cy="127.4" r="1.6"/><circle cx="470.4" cy="131.4" r="1.6"/><circle cx="485.3" cy="130.8" r="1.6"/><circle cx="500.1" cy="131.4" r="1.6"/><circle cx="515" cy="131.4" r="1.6"/><circle cx="529.9" cy="127.4" r="1.6"/><circle cx="529.9" cy="130.1" r="1.6"/><circle cx="544.8" cy="131.4" r="1.6"/><path d="M559.6 118.8V122.1" class="ob"/><circle cx="559.6" cy="126.1" r="1.6"/><circle cx="559.6" cy="129.4" r="1.6"/><circle cx="559.6" cy="131.4" r="1.6"/><circle cx="574.5" cy="122.1" r="1.6"/><circle cx="574.5" cy="124.8" r="1.6"/><circle cx="574.5" cy="130.1" r="1.6"/></g><path d="M413.8 120.8H416.8" class="tk"/><text x="411.5" y="125.7" class="yl">0</text><path d="M413.8 87.6H416.8" class="tk"/><text x="411.5" y="92.5" class="yl">5</text><path d="M413.8 54.5H416.8" class="tk"/><text x="411.5" y="59.4" class="yl">10</text><path d="M413.8 21.3H416.8" class="tk"/><text x="411.5" y="26.2" class="yl">15</text>
<rect x="607.1" y="1.2" width="166.6" height="16.5" fill="#d3d3d3" stroke="#9a9a9a" stroke-width="1"/><text x="690.4" y="13.5" class="st">Cluster 4</text><rect x="607.1" y="18" width="166.6" height="118.6" fill="#f3f3f3" stroke="#a8a8a8" stroke-width="0.9"/><rect x="609" y="18" width="14.4" height="118.6" fill="#a4a6b6"/><rect x="623.4" y="18" width="29.8" height="118.6" fill="#a3cd9f"/><rect x="653.2" y="18" width="29.8" height="118.6" fill="#f6cda3"/><rect x="682.9" y="18" width="59.5" height="118.6" fill="#eeb3a5"/><rect x="742.4" y="18" width="14.9" height="118.6" fill="#deb1d2"/><rect x="757.3" y="18" width="14.1" height="118.6" fill="#b09dd1"/><g stroke="#000" stroke-width="0.8"><path d="M607.1 131.1H773.7" stroke-opacity="0.025"/><path d="M607.1 116.2H773.7" stroke-opacity="0.045"/><path d="M607.1 101.3H773.7" stroke-opacity="0.025"/><path d="M607.1 86.4H773.7" stroke-opacity="0.045"/><path d="M607.1 71.5H773.7" stroke-opacity="0.025"/><path d="M607.1 56.5H773.7" stroke-opacity="0.045"/><path d="M607.1 41.6H773.7" stroke-opacity="0.025"/><path d="M607.1 26.7H773.7" stroke-opacity="0.045"/><path d="M616 18V136.6" stroke-opacity=".04"/><path d="M630.9 18V136.6" stroke-opacity=".04"/><path d="M645.7 18V136.6" stroke-opacity=".04"/><path d="M660.6 18V136.6" stroke-opacity=".04"/><path d="M675.5 18V136.6" stroke-opacity=".04"/><path d="M690.4 18V136.6" stroke-opacity=".04"/><path d="M705.2 18V136.6" stroke-opacity=".04"/><path d="M720.1 18V136.6" stroke-opacity=".04"/><path d="M735 18V136.6" stroke-opacity=".04"/><path d="M749.9 18V136.6" stroke-opacity=".04"/><path d="M764.7 18V136.6" stroke-opacity=".04"/></g><g fill="#1c2545" clip-path="url(#c4)"><path d="M616 43.2L630.9 33.9V33.9L616 33.9ZM630.9 33.9L645.7 46.2V38.6L630.9 33.9ZM645.7 46.2L660.6 55.9V54.7L645.7 38.6ZM660.6 55.9L675.5 63.2V50.6L660.6 54.7ZM675.5 63.2L690.4 66V47.6L675.5 50.6ZM690.4 66L705.2 66V47.6L690.4 47.6ZM705.2 66L720.1 64.8V47.6L705.2 47.6ZM720.1 64.8L735 58.1V56.5L720.1 47.6ZM735 58.1L749.9 45.9V26.7L735 56.5ZM749.9 45.9L764.7 37.6V26.7L749.9 26.7Z" fill-opacity=".15"/><path d="M616 49.7L630.9 41.8V33.9L616 43.2ZM630.9 41.8L645.7 52.7V46.2L630.9 33.9ZM645.7 52.7L660.6 61.9V55.9L645.7 46.2ZM660.6 61.9L675.5 68.2V63.2L660.6 55.9ZM675.5 68.2L690.4 70.7V66L675.5 63.2ZM690.4 70.7L705.2 70.7V66L690.4 66ZM705.2 70.7L720.1 69.5V64.8L705.2 66ZM720.1 69.5L735 63.8V58.1L720.1 64.8ZM735 63.8L749.9 50.9V45.9L735 58.1ZM749.9 50.9L764.7 43.9V37.6L749.9 45.9Z" fill-opacity=".25"/><path d="M616 56.3L630.9 49.8V41.8L616 49.7ZM630.9 49.8L645.7 59.3V52.7L630.9 41.8ZM645.7 59.3L660.6 67.9V61.9L645.7 52.7ZM660.6 67.9L675.5 73.3V68.2L660.6 61.9ZM675.5 73.3L690.4 75.5V70.7L675.5 68.2ZM690.4 75.5L705.2 75.5V70.7L690.4 70.7ZM705.2 75.5L720.1 74.3V69.5L705.2 70.7ZM720.1 74.3L735 69.5V63.8L720.1 69.5ZM735 69.5L749.9 56V50.9L735 63.8ZM749.9 56L764.7 50.1V43.9L749.9 50.9Z" fill-opacity=".35"/><path d="M616 62.9L630.9 57.7V49.8L616 56.3ZM630.9 57.7L645.7 65.8V59.3L630.9 49.8ZM645.7 65.8L660.6 73.8V67.9L645.7 59.3ZM660.6 73.8L675.5 78.4V73.3L660.6 67.9ZM675.5 78.4L690.4 80.3V75.5L675.5 73.3ZM690.4 80.3L705.2 80.3V75.5L690.4 75.5ZM705.2 80.3L720.1 79.1V74.3L705.2 75.5ZM720.1 79.1L735 75.1V69.5L720.1 74.3ZM735 75.1L749.9 61.1V56L735 69.5ZM749.9 61.1L764.7 56.4V50.1L749.9 56Z" fill-opacity=".40"/><path d="M616 69.4L630.9 65.7V57.7L616 62.9ZM630.9 65.7L645.7 72.4V65.8L630.9 57.7ZM645.7 72.4L660.6 79.8V73.8L645.7 65.8ZM660.6 79.8L675.5 83.4V78.4L660.6 73.8ZM675.5 83.4L690.4 85.1V80.3L675.5 78.4ZM690.4 85.1L705.2 85.1V80.3L690.4 80.3ZM705.2 85.1L720.1 83.9V79.1L705.2 80.3ZM720.1 83.9L735 80.8V75.1L720.1 79.1ZM735 80.8L749.9 66.1V61.1L735 75.1ZM749.9 66.1L764.7 62.7V56.4L749.9 61.1Z" fill-opacity=".50"/><path d="M616 107.5L630.9 108.7V73.6L616 76ZM616 76L630.9 73.6V65.7L616 69.4ZM616 129.9L630.9 129.9V128.4L616 127.2ZM630.9 108.7L645.7 109V79L630.9 73.6ZM630.9 73.6L645.7 79V72.4L630.9 65.7ZM630.9 129.9L645.7 129.9V126.9L630.9 128.4ZM645.7 109L660.6 109.4V85.8L645.7 79ZM645.7 79L660.6 85.8V79.8L645.7 72.4ZM645.7 129.9L660.6 129.9V121L645.7 126.9ZM660.6 109.4L675.5 110.7V88.5L660.6 85.8ZM660.6 85.8L675.5 88.5V83.4L660.6 79.8ZM660.6 129.9L675.5 129.9V123.2L660.6 121ZM675.5 110.7L690.4 109.9V89.8L675.5 88.5ZM675.5 88.5L690.4 89.8V85.1L675.5 83.4ZM675.5 129.9L690.4 129.9V120.6L675.5 123.2ZM690.4 109.9L705.2 109.9V89.8L690.4 89.8ZM690.4 89.8L705.2 89.8V85.1L690.4 85.1ZM690.4 129.9L705.2 129.9V120.6L690.4 120.6ZM705.2 109.9L720.1 109.4V88.6L705.2 89.8ZM705.2 89.8L720.1 88.6V83.9L705.2 85.1ZM705.2 129.9L720.1 129.9V121L705.2 120.6ZM720.1 109.4L735 109.4V86.5L720.1 88.6ZM720.1 88.6L735 86.5V80.8L720.1 83.9ZM720.1 129.9L735 129.9V121L720.1 121ZM735 109.4L749.9 99.9V71.2L735 86.5ZM735 86.5L749.9 71.2V66.1L735 80.8ZM735 129.9L749.9 129.9V120.4L735 121ZM749.9 99.9L764.7 99.7V68.9L749.9 71.2ZM749.9 71.2L764.7 68.9V62.7L749.9 66.1ZM749.9 129.9L764.7 129.9V119.4L749.9 120.4Z" fill-opacity=".60"/><path d="M616 111.4L630.9 112.6V108.7L616 107.5ZM616 115.4L630.9 116.6V112.6L616 111.4ZM616 119.3L630.9 120.5V116.6L616 115.4ZM616 123.2L630.9 124.4V120.5L616 119.3ZM616 127.2L630.9 128.4V124.4L616 123.2ZM630.9 112.6L645.7 112.6V109L630.9 108.7ZM630.9 116.6L645.7 116.2V112.6L630.9 112.6ZM630.9 120.5L645.7 119.8V116.2L630.9 116.6ZM630.9 124.4L645.7 123.4V119.8L630.9 120.5ZM630.9 128.4L645.7 126.9V123.4L630.9 124.4ZM645.7 112.6L660.6 111.7V109.4L645.7 109ZM645.7 116.2L660.6 114.1V111.7L645.7 112.6ZM645.7 119.8L660.6 116.4V114.1L645.7 116.2ZM645.7 123.4L660.6 118.7V116.4L645.7 119.8ZM645.7 126.9L660.6 121V118.7L645.7 123.4ZM660.6 111.7L675.5 113.2V110.7L660.6 109.4ZM660.6 114.1L675.5 115.7V113.2L660.6 111.7ZM660.6 116.4L675.5 118.2V115.7L660.6 114.1ZM660.6 118.7L675.5 120.7V118.2L660.6 116.4ZM660.6 121L675.5 123.2V120.7L660.6 118.7ZM675.5 113.2L690.4 112V109.9L675.5 110.7ZM675.5 115.7L690.4 114.2V112L675.5 113.2ZM675.5 118.2L690.4 116.3V114.2L675.5 115.7ZM675.5 120.7L690.4 118.5V116.3L675.5 118.2ZM675.5 123.2L690.4 120.6V118.5L675.5 120.7ZM690.4 112L705.2 112V109.9L690.4 109.9ZM690.4 114.2L705.2 114.2V112L690.4 112ZM690.4 116.3L705.2 116.3V114.2L690.4 114.2ZM690.4 118.5L705.2 118.5V116.3L690.4 116.3ZM690.4 120.6L705.2 120.6V118.5L690.4 118.5ZM705.2 112L720.1 111.7V109.4L705.2 109.9ZM705.2 114.2L720.1 114.1V111.7L705.2 112ZM705.2 116.3L720.1 116.4V114.1L705.2 114.2ZM705.2 118.5L720.1 118.7V116.4L705.2 116.3ZM705.2 120.6L720.1 121V118.7L705.2 118.5ZM720.1 111.7L735 111.7V109.4L720.1 109.4ZM720.1 114.1L735 114.1V111.7L720.1 111.7ZM720.1 116.4L735 116.4V114.1L720.1 114.1ZM720.1 118.7L735 118.7V116.4L720.1 116.4ZM720.1 121L735 121V118.7L720.1 118.7ZM735 111.7L749.9 104V99.9L735 109.4ZM735 114.1L749.9 108.1V104L735 111.7ZM735 116.4L749.9 112.2V108.1L735 114.1ZM735 118.7L749.9 116.3V112.2L735 116.4ZM735 121L749.9 120.4V116.3L735 118.7ZM749.9 104L764.7 103.7V99.7L749.9 99.9ZM749.9 108.1L764.7 107.6V103.7L749.9 104ZM749.9 112.2L764.7 111.5V107.6L749.9 108.1ZM749.9 116.3L764.7 115.5V111.5L749.9 112.2ZM749.9 120.4L764.7 119.4V115.5L749.9 116.3Z" fill-opacity=".65"/></g><g transform="translate(616 0) scale(14.875 1)"><path vector-effect="non-scaling-stroke" d="M0 107.7 1 109.7 2 110.5 3 109.9 4 111.2 5 110.2 6 108 7 107.3 8 107 9 95.5 10 92.6M0 106 1 108.1 2 107 3 107.1 4 110 5 108.3 6 107.8 7 108.5 8 108 9 97.4 10 97.6M0 51 1 52.5 2 59.5 3 72.3 4 71.4 5 72.9 6 72.6 7 70.9 8 74.8 9 53.5 10 48.2M0 114.8 1 115.9 2 117.2 3 116.4 4 117.1 5 117.8 6 117.2 7 117.1 8 115.9 9 108 10 107.1M0 111.6 1 112.4 2 113.4 3 113.9 4 117.1 5 116.8 6 118.4 7 118.4 8 119.1 9 111.7 10 111.4M0 42.5 1 42.9 2 48.8 3 63 4 61.1 5 58.4 6 61.3 7 63 8 67.3 9 42.4 10 42.5M0 115.7 1 115.3 2 117.2 3 118.4 4 118.7 5 119.1 6 117.4 7 115.2 8 113.7 9 105.5 10 104.9M0 53 1 52.8 2 60.4 3 73.8 4 76 5 75.9 6 74.6 7 72.5 8 76.4 9 58.1 10 58.7M0 107.1 1 107.4 2 108.2 3 109.7 4 111.4 5 111.7 6 111.9 7 112.8 8 114.2 9 106.8 10 109.1M0 119.7 1 121.2 2 119.8 3 120.7 4 121.7 5 121.6 6 119.2 7 118.8 8 119.6 9 113.5 10 113.6M0 109.4 1 108.4 2 109.5 3 109.6 4 111.8 5 110 6 109.3 7 111.3 8 110.4 9 100.1 10 99.5M0 103.6 1 103 2 104.8 3 106.4 4 108.8 5 109.2 6 108.2 7 107.5 8 105.9 9 92.4 10 93.9M0 118.5 1 120 2 122.2 3 122.9 4 122.1 5 122.2 6 123.7 7 123 8 122.1 9 120.1 10 120.3M0 59 1 57.3 2 59.9 3 69.9 4 72.4 5 70.9 6 68.8 7 67.2 8 69.1 9 46.8 10 48M0 41.7 1 44.3 2 52.2 3 67.1 4 66.5 5 64.4 6 69.8 7 67.4 8 73 9 53.7 10 50.8M0 67.6 1 65.1 2 69.9 3 76.4 4 78 5 75.8 6 77.5 7 74.1 8 77.2 9 58.3 10 52.2M0 107.3 1 107.5 2 108.8 3 107.8 4 110.4 5 110.9 6 110.2 7 109.1 8 109.3 9 99.7 10 97.9M0 114.4 1 114.9 2 115.5 3 114.4 4 116 5 115.2 6 114.5 7 112.5 8 111.2 9 103.1 10 101.4M0 83.3 1 81.1 2 89 3 91.8 4 95.2 5 94.7 6 94.6 7 90.6 8 86.5 9 69.5 10 66.2M0 109.4 1 109.9 2 112.2 3 112.4 4 114.6 5 113.8 6 113.6 7 115.5 8 115.1 9 106.1 10 104.8M0 107.7 1 107.7 2 108.5 3 109.6 4 112.8 5 111.3 6 112 7 111.9 8 110.7 9 101.8 10 101.2M0 105.1 1 104.9 2 107 3 107.7 4 110.2 5 110.9 6 110.3 7 110.7 8 110.5 9 101.3 10 101.1M0 67.2 1 65.9 2 70.4 3 80.7 4 83.4 5 84.2 6 85.5 7 84.7 8 84.6 9 63.5 10 58.6M0 76.5 1 74.2 2 78.9 3 85.2 4 84.9 5 85.9 6 81 7 82 8 80.5 9 64.8 10 58.6M0 79.8 1 79.6 2 85.9 3 93.5 4 97.6 5 100.2 6 101 7 100.8 8 94.9 9 83.6 10 79.4M0 122.7 1 123.7 2 122.7 3 122.6 4 122 5 122.4 6 122.5 7 122.2 8 122.6 9 118.8 10 116.1M0 120.6 1 122.5 2 121.4 3 120.7 4 122.9 5 124.1 6 123.3 7 121.8 8 121.1 9 116.2 10 113.5M0 114.8 1 114.8 2 114.9 3 115.9 4 117.7 5 116.8 6 116.8 7 115.6 8 117.5 9 112.8 10 110.9M0 113.6 1 116 2 115.6 3 115.8 4 115.3 5 115 6 115.1 7 117.8 8 118 9 108.9 10 107.7M0 112.9 1 114.2 2 114.3 3 113.5 4 115.4 5 114.2 6 113.6 7 111.7 8 110.8 9 103 10 100.2M0 53.2 1 54.5 2 56.7 3 66.8 4 64.8 5 67.5 6 69.9 7 67.1 8 67.9 9 42.9 10 39.2M0 61.8 1 63.5 2 66.6 3 74 4 76.6 5 79.7 6 78.8 7 79.4 8 83.7 9 65.1 10 62.8M0 109.2 1 110.5 2 109.6 3 109.1 4 110.8 5 109.4 6 108.9 7 110.3 8 111.2 9 103.9 10 104.6M0 55.1 1 56 2 61.7 3 74.8 4 75.8 5 74.5 6 71.2 7 72 8 74.3 9 54 10 54.3M0 125.5 1 125.7 2 125.1 3 124 4 122.9 5 124.7 6 123.2 7 124.8 8 125.5 9 122.8 10 120.8M0 111.1 1 113.4 2 114 3 116.5 4 116.8 5 116.8 6 115.4 7 117.5 8 116.6 9 106.8 10 106.5M0 111.4 1 113.1 2 115.2 3 115.3 4 117.4 5 117.4 6 117.1 7 116.9 8 116.9 9 109.3 10 111.3M0 110.3 1 110.4 2 110.5 3 111.4 4 113.4 5 112.9 6 114 7 113 8 113.3 9 103 10 104.1M0 104 1 102.5 2 103 3 104.7 4 107.4 5 109.2 6 108.6 7 108.2 8 107.9 9 98.2 10 99.2M0 107.2 1 108.8 2 110.4 3 111.6 4 111.8 5 110.2 6 109.7 7 109.1 8 110.4 9 99.2 10 99.9M0 67.6 1 64.6 2 68 3 76.3 4 73.2 5 77.2 6 74.3 7 74.1 8 76.3 9 58.5 10 61.2M0 78.8 1 73.1 2 77.9 3 85.3 4 89.5 5 92.7 6 95.4 7 95.2 8 91.3 9 78.8 10 79.4M0 118.5 1 119.8 2 119.6 3 118 4 117.2 5 114.8 6 115.6 7 114.4 8 114.5 9 106.3 10 106.3M0 120.7 1 122.2 2 121.2 3 120.1 4 119.2 5 117.2 6 117.7 7 120.3 8 119.2 9 115.8 10 116.2M0 111.7 1 115 2 113 3 113.7 4 115.1 5 113.8 6 114 7 114.6 8 114.8 9 108.4 10 109.5M0 79.5 1 74.7 2 83.2 3 89.2 4 94.4 5 97.8 6 95.5 7 96 8 92.1 9 84.2 10 81.6M0 63 1 64 2 71.5 3 81.4 4 80.7 5 76.2 6 75.5 7 76.3 8 78.2 9 56.3 10 56.9M0 117.1 1 118.7 2 120.7 3 119.6 4 121.5 5 120.8 6 119.9 7 119.8 8 119.6 9 113.1 10 110.4M0 104.3 1 107 2 106.8 3 107.1 4 108.9 5 106.8 6 105.7 7 105.2 8 104.9 9 91.5 10 91.9M0 61.1 1 59.3 2 64.8 3 76 4 77.4 5 75.7 6 74.2 7 70.6 8 76.1 9 56.7 10 56.2M0 109.1 1 110.4 2 109.4 3 111.3 4 113.5 5 112.2 6 113.1 7 111.9 8 113.1 9 105 10 103.5M0 103.6 1 105.1 2 104.9 3 105.3 4 107 5 103.9 6 104.2 7 104.8 8 105.1 9 93 10 92.5M0 48.3 1 44.9 2 49.8 3 61.7 4 59.6 5 57.5 6 57.9 7 56.6 8 61.7 9 33.8 10 35M0 108.3 1 111.1 2 112.7 3 113.6 4 114.2 5 116.1 6 116.6 7 116.9 8 116.7 9 108.2 10 105.9M0 81.4 1 81.9 2 88.1 3 94.9 4 97.8 5 97.5 6 90.9 7 87.7 8 86.8 9 73.8 10 79.4M0 106.3 1 108.3 2 108.9 3 110 4 112.8 5 110.9 6 110.4 7 108.3 8 110.2 9 103.1 10 104.3M0 81 1 78.7 2 83 3 89.6 4 91.4 5 92.4 6 93.1 7 92.1 8 89.7 9 74 10 72.3M0 124.6 1 123.6 2 124.5 3 125.1 4 123.6 5 122.3 6 121.7 7 120.6 8 119.3 9 115.6 10 115.1M0 113.4 1 114.3 2 115.2 3 115.5 4 115.9 5 114.1 6 114.3 7 114.3 8 114 9 105.4 10 106.2M0 108.1 1 106.3 2 106.8 3 106.4 4 109.4 5 108.2 6 107.4 7 106.6 8 106.8 9 95.1 10 94.9M0 117.1 1 118.6 2 119.1 3 120.6 4 122.3 5 123.8 6 125 7 124.7 8 125 9 123.1 10 123.5M0 126.3 1 124.1 2 124.3 3 124.4 4 123 5 123.4 6 124.4 7 124.4 8 126.3 9 127.6 10 125.6M0 115.2 1 115.1 2 114.7 3 114 4 114.3 5 113.5 6 111.9 7 110.2 8 110.9 9 101.9 10 102.5M0 46 1 46.6 2 49.5 3 63.2 4 60.9 5 59 6 57.4 7 58.2 8 62.4 9 34.3 10 33.5M0 81.2 1 77.7 2 81.2 3 87.3 4 87.8 5 89 6 93.9 7 89.5 8 87 9 74.8 10 72.8M0 108.1 1 109.9 2 109.8 3 112.3 4 112.3 5 109.1 6 109.1 7 108.3 8 107.8 9 93.9 10 94.5M0 104.6 1 105.7 2 107.4 3 108.4 4 109.1 5 109 6 108.5 7 105.9 8 108.2 9 97.6 10 96.4M0 126.1 1 125.7 2 125.8 3 127.1 4 126.8 5 127.2 6 127.9 7 126.6 8 126.9 9 123.9 10 125.6M0 125.4 1 124.7 2 125.6 3 125.6 4 125 5 125.8 6 126.6 7 125.9 8 127.2 9 125.4 10 124.9M0 115 1 115.5 2 117.5 3 119.4 4 119.8 5 121.2 6 121.1 7 121.3 8 122.3 9 119.3 10 123.3M0 109.4 1 110.2 2 107.1 3 108.6 4 110.8 5 110.9 6 112 7 113.4 8 113.4 9 107.2 10 105.9M0 105.7 1 107.4 2 107.6 3 107 4 108.9 5 107.6 6 105.9 7 104 8 106 9 92.4 10 92.6M0 116 1 116.9 2 118.1 3 117.5 4 117.1 5 117.6 6 118.9 7 119 8 118.3 9 113.6 10 113.7M0 114.5 1 114.1 2 114.6 3 114.9 4 115.4 5 115.2 6 113.6 7 113.2 8 113.7 9 106.6 10 108.3M0 107.1 1 110.8 2 111.8 3 111.1 4 113.2 5 111.5 6 109.9 7 112.4 8 112.7 9 105.9 10 106.7M0 109.8 1 109.3 2 111.3 3 113.2 4 114.9 5 114.4 6 114.6 7 113.5 8 115.2 9 109.5 10 110.2M0 75.6 1 75.8 2 80 3 82.8 4 86 5 87.4 6 85.3 7 82.1 8 80.7 9 66.5 10 63.3M0 104.7 1 107 2 111 3 112.2 4 114.1 5 112.4 6 111.7 7 110.1 8 109.5 9 98.2 10 96.9M0 38.9 1 37.7 2 42.4 3 56.7 4 54.1 5 52.3 6 50.8 7 53.9 8 58.7 9 30.9 10 31.2M0 126.1 1 127.2 2 127.3 3 126.8 4 128 5 126.8 6 127.1 7 126.5 8 125.5 9 124.2 10 122.5M0 112.2 1 113.9 2 112.7 3 111.5 4 112.9 5 112.9 6 111.5 7 112.4 8 111.5 9 103.1 10 103.6M0 67.7 1 66.7 2 74.2 3 85 4 90.4 5 90.7 6 91.5 7 92.8 8 90.4 9 73.2 10 71.6M0 116 1 116 2 114.5 3 113.4 4 114 5 113 6 113.4 7 113.6 8 113.9 9 106.8 10 105M0 44.4 1 44.4 2 52.1 3 67 4 65.7 5 64.2 6 65.7 7 64.1 8 68.9 9 47.6 10 46.5M0 73.8 1 68.2 2 75.3 3 79.5 4 80.7 5 81.7 6 82.2 7 79.9 8 80 9 62 10 57.2M0 116 1 118.1 2 117 3 118.5 4 119.7 5 121.2 6 119.8 7 119.8 8 119.5 9 112.1 10 110.8M0 59.6 1 56 2 58.9 3 71.7 4 71.4 5 68.4 6 69.9 7 71 8 72.3 9 46.2 10 47.9M0 51.7 1 49.3 2 54.7 3 68.3 4 66.8 5 67.9 6 68 7 68.8 8 67.6 9 41.2 10 42.4M0 111.1 1 111.2 2 112.5 3 112.3 4 112.6 5 110.4 6 109.1 7 108.5 8 108.3 9 100.1 10 99M0 72.5 1 68.7 2 70.9 3 79.2 4 78.9 5 80.1 6 80.9 7 81.5 8 79.7 9 60.2 10 59.1" fill="none" stroke="#1c2545" stroke-width="0.6" stroke-opacity="0.3"/></g><g clip-path="url(#c4)" class="b1"><path d="M616 39.8V78.6M616 104.9V129.9" class="wh"/><rect x="610.4" y="78.6" width="11.2" height="26.3" class="bx"/><path d="M610.4 91.7H621.6" class="md"/><path d="M630.9 33.9V76.8M630.9 106.1V129.9" class="wh"/><rect x="625.3" y="76.8" width="11.2" height="29.2" class="bx"/><path d="M625.3 92.9H636.5" class="md"/><path d="M645.7 43.4V81.6M645.7 106.7V129.9" class="wh"/><rect x="640.2" y="81.6" width="11.2" height="25.1" class="bx"/><path d="M640.2 94.7H651.3" class="md"/><path d="M660.6 58.9V88.2M660.6 107.8V129.9" class="wh"/><rect x="655" y="88.2" width="11.2" height="19.7" class="bx"/><path d="M655 100.1H666.2" class="md"/><path d="M675.5 63.7V90.5M675.5 109V129.9" class="wh"/><rect x="669.9" y="90.5" width="11.2" height="18.5" class="bx"/><path d="M669.9 100.7H681.1" class="md"/><path d="M690.4 66.1V91.7M690.4 108.4V129.9" class="wh"/><rect x="684.8" y="91.7" width="11.2" height="16.7" class="bx"/><path d="M684.8 101.3H696" class="md"/><path d="M705.2 66.1V91.7M705.2 108.4V129.9" class="wh"/><rect x="699.7" y="91.7" width="11.2" height="16.7" class="bx"/><path d="M699.7 101.3H710.8" class="md"/><path d="M720.1 63.1V90.5M720.1 107.8V129.9" class="wh"/><rect x="714.5" y="90.5" width="11.2" height="17.3" class="bx"/><path d="M714.5 100.1H725.7" class="md"/><path d="M735 60.7V88.8M735 107.8V129.9" class="wh"/><rect x="729.4" y="88.8" width="11.2" height="19.1" class="bx"/><path d="M729.4 100.1H740.6" class="md"/><path d="M749.9 35.7V73.2M749.9 97.1V129.9" class="wh"/><rect x="744.3" y="73.2" width="11.2" height="23.9" class="bx"/><path d="M744.3 83.4H755.5" class="md"/><path d="M764.7 26.7V71.5M764.7 97.1V129.9" class="wh"/><rect x="759.2" y="71.5" width="11.2" height="25.7" class="bx"/><path d="M759.2 84H770.3" class="md"/><path d="M616 33.9V37.4" class="ob"/><path d="M645.7 38.6V41.6" class="ob"/><path d="M660.6 54.7V56.5" class="ob"/><circle cx="660.6" cy="47.6" r="1.6"/><path d="M675.5 57.7V62.5" class="ob"/><path d="M675.5 50.6V53.6" class="ob"/><circle cx="675.5" cy="46.4" r="1.6"/><path d="M690.4 55.3V64.9" class="ob"/><path d="M690.4 47.6V51.8" class="ob"/><path d="M705.2 55.3V64.9" class="ob"/><path d="M705.2 47.6V50.6" class="ob"/><path d="M720.1 57.7V61.9" class="ob"/><path d="M720.1 47.6V54.7" class="ob"/><path d="M735 56.5V59.5" class="ob"/><circle cx="735" cy="51.8" r="1.6"/><circle cx="735" cy="47" r="1.6"/><path d="M749.9 26.7V35.1" class="ob"/><circle cx="764.7" cy="25.5" r="1.6"/><circle cx="764.7" cy="23.1" r="1.6"/></g><path d="M604.1 116.2H607.1" class="tk"/><text x="601.8" y="121.1" class="yl">0</text><path d="M604.1 86.4H607.1" class="tk"/><text x="601.8" y="91.3" class="yl">5</text><path d="M604.1 56.5H607.1" class="tk"/><text x="601.8" y="61.4" class="yl">10</text><path d="M604.1 26.7H607.1" class="tk"/><text x="601.8" y="31.6" class="yl">15</text>
<rect x="36.4" y="139.7" width="166.6" height="16.5" fill="#d3d3d3" stroke="#9a9a9a" stroke-width="1"/><text x="119.7" y="152" class="st">Cluster 5</text><rect x="36.4" y="156.5" width="166.6" height="118.6" fill="#f3f3f3" stroke="#a8a8a8" stroke-width="0.9"/><rect x="38.3" y="156.5" width="14.4" height="118.6" fill="#a4a6b6"/><rect x="52.8" y="156.5" width="29.8" height="118.6" fill="#a3cd9f"/><rect x="82.5" y="156.5" width="29.8" height="118.6" fill="#f6cda3"/><rect x="112.3" y="156.5" width="59.5" height="118.6" fill="#eeb3a5"/><rect x="171.8" y="156.5" width="14.9" height="118.6" fill="#deb1d2"/><rect x="186.6" y="156.5" width="14.1" height="118.6" fill="#b09dd1"/><g stroke="#000" stroke-width="0.8"><path d="M36.4 263.1H203" stroke-opacity="0.045"/><path d="M36.4 244.7H203" stroke-opacity="0.025"/><path d="M36.4 226.4H203" stroke-opacity="0.045"/><path d="M36.4 208H203" stroke-opacity="0.025"/><path d="M36.4 189.6H203" stroke-opacity="0.045"/><path d="M36.4 171.2H203" stroke-opacity="0.025"/><path d="M45.3 156.5V275.1" stroke-opacity=".04"/><path d="M60.2 156.5V275.1" stroke-opacity=".04"/><path d="M75.1 156.5V275.1" stroke-opacity=".04"/><path d="M90 156.5V275.1" stroke-opacity=".04"/><path d="M104.8 156.5V275.1" stroke-opacity=".04"/><path d="M119.7 156.5V275.1" stroke-opacity=".04"/><path d="M134.6 156.5V275.1" stroke-opacity=".04"/><path d="M149.4 156.5V275.1" stroke-opacity=".04"/><path d="M164.3 156.5V275.1" stroke-opacity=".04"/><path d="M179.2 156.5V275.1" stroke-opacity=".04"/><path d="M194.1 156.5V275.1" stroke-opacity=".04"/></g><g fill="#1c2545" clip-path="url(#c5)"><path d="M45.3 183.7L60.2 183.7V178.6L45.3 182.2ZM45.3 257.2L60.2 259.4V255.8L45.3 248ZM60.2 183.7L75.1 180.8V174.9L60.2 178.6ZM60.2 259.4L75.1 259.4V258L60.2 255.8ZM75.1 180.8L90 171.2V171.2L75.1 174.9ZM75.1 259.4L90 252.1V242.2L75.1 258ZM90 171.2L104.8 161.7V161.7L90 171.2ZM90 252.1L104.8 249.9V244L90 242.2ZM104.8 161.7L119.7 162.4V162.4L104.8 161.7ZM104.8 249.9L119.7 251.3V244.7L104.8 244ZM119.7 162.4L134.6 170.5V170.5L119.7 162.4ZM119.7 251.3L134.6 255.8V246.9L119.7 244.7ZM134.6 170.5L149.4 183V183L134.6 170.5ZM134.6 255.8L149.4 257.2V256.1L134.6 246.9ZM149.4 183L164.3 183.7V183.7L149.4 183ZM149.4 257.2L164.3 259.4V256.5L149.4 256.1ZM164.3 183.7L179.2 185.6V176.4L164.3 183.7ZM164.3 259.4L179.2 259.4V259.4L164.3 256.5ZM179.2 185.6L194.1 183V176.4L179.2 176.4ZM179.2 259.4L194.1 259.4V255L179.2 259.4Z" fill-opacity=".10"/><path d="M45.3 187.8L60.2 187.8V183.7L45.3 183.7ZM45.3 248L60.2 255.8V251.6L45.3 244.8ZM60.2 187.8L75.1 184.3V180.8L60.2 183.7ZM60.2 255.8L75.1 258V252.7L60.2 251.6ZM75.1 184.3L90 175.2V171.2L75.1 180.8ZM75.1 258L90 242.2V238.3L75.1 252.7ZM90 175.2L104.8 166.2V161.7L90 171.2ZM90 242.2L104.8 244V239.3L90 238.3ZM104.8 166.2L119.7 166.9V162.4L104.8 161.7ZM104.8 244L119.7 244.7V240L104.8 239.3ZM119.7 166.9L134.6 174V170.5L119.7 162.4ZM119.7 244.7L134.6 246.9V242.2L119.7 240ZM134.6 174L149.4 186.8V183L134.6 170.5ZM134.6 246.9L149.4 256.1V251.7L134.6 242.2ZM149.4 186.8L164.3 187.5V183.7L149.4 183ZM149.4 256.1L164.3 256.5V252.4L149.4 251.7ZM164.3 187.5L179.2 189.4V185.6L164.3 183.7ZM164.3 256.5L179.2 259.4V254.9L164.3 252.4ZM179.2 189.4L194.1 187.1V183L179.2 185.6ZM179.2 259.4L194.1 255V250.9L179.2 254.9Z" fill-opacity=".20"/><path d="M45.3 192L60.2 192V187.8L45.3 187.8ZM45.3 244.8L60.2 251.6V247.5L45.3 241.6ZM60.2 192L75.1 187.8V184.3L60.2 187.8ZM60.2 251.6L75.1 252.7V247.4L60.2 247.5ZM75.1 187.8L90 179.2V175.2L75.1 184.3ZM75.1 252.7L90 238.3V234.5L75.1 247.4ZM90 179.2L104.8 170.6V166.2L90 175.2ZM90 238.3L104.8 239.3V234.6L90 234.5ZM104.8 170.6L119.7 171.4V166.9L104.8 166.2ZM104.8 239.3L119.7 240V235.3L104.8 234.6ZM119.7 171.4L134.6 177.5V174L119.7 166.9ZM119.7 240L134.6 242.2V237.5L119.7 235.3ZM134.6 177.5L149.4 190.6V186.8L134.6 174ZM134.6 242.2L149.4 251.7V247.3L134.6 237.5ZM149.4 190.6L164.3 191.4V187.5L149.4 186.8ZM149.4 251.7L164.3 252.4V248.3L149.4 247.3ZM164.3 191.4L179.2 193.2V189.4L164.3 187.5ZM164.3 252.4L179.2 254.9V250.3L164.3 248.3ZM179.2 193.2L194.1 191.2V187.1L179.2 189.4ZM179.2 254.9L194.1 250.9V246.8L179.2 250.3Z" fill-opacity=".25"/><path d="M45.3 196.1L60.2 196.1V192L45.3 192ZM45.3 241.6L60.2 247.5V243.4L45.3 238.3ZM60.2 196.1L75.1 191.4V187.8L60.2 192ZM60.2 247.5L75.1 247.4V242.1L60.2 243.4ZM75.1 191.4L90 183.1V179.2L75.1 187.8ZM75.1 247.4L90 234.5V230.7L75.1 242.1ZM90 183.1L104.8 175.1V170.6L90 179.2ZM90 234.5L104.8 234.6V229.9L90 230.7ZM104.8 175.1L119.7 175.9V171.4L104.8 170.6ZM104.8 234.6L119.7 235.3V230.6L104.8 229.9ZM119.7 175.9L134.6 181.1V177.5L119.7 171.4ZM119.7 235.3L134.6 237.5V232.8L119.7 230.6ZM134.6 181.1L149.4 194.5V190.6L134.6 177.5ZM134.6 237.5L149.4 247.3V242.9L134.6 232.8ZM149.4 194.5L164.3 195.2V191.4L149.4 190.6ZM149.4 247.3L164.3 248.3V244.1L149.4 242.9ZM164.3 195.2L179.2 197V193.2L164.3 191.4ZM164.3 248.3L179.2 250.3V245.8L164.3 244.1ZM179.2 197L194.1 195.3V191.2L179.2 193.2ZM179.2 250.3L194.1 246.8V242.7L179.2 245.8Z" fill-opacity=".30"/><path d="M45.3 200.2L60.2 200.2V196.1L45.3 196.1ZM45.3 238.3L60.2 243.4V239.3L45.3 235.1ZM60.2 200.2L75.1 194.9V191.4L60.2 196.1ZM60.2 243.4L75.1 242.1V236.8L60.2 239.3ZM75.1 194.9L90 187.1V183.1L75.1 191.4ZM75.1 242.1L90 230.7V226.9L75.1 236.8ZM90 187.1L104.8 179.6V175.1L90 183.1ZM90 230.7L104.8 229.9V225.2L90 226.9ZM104.8 179.6L119.7 180.3V175.9L104.8 175.1ZM104.8 229.9L119.7 230.6V225.9L104.8 225.2ZM119.7 180.3L134.6 184.6V181.1L119.7 175.9ZM119.7 230.6L134.6 232.8V228.1L119.7 225.9ZM134.6 184.6L149.4 198.3V194.5L134.6 181.1ZM134.6 232.8L149.4 242.9V238.5L134.6 228.1ZM149.4 198.3L164.3 199V195.2L149.4 194.5ZM149.4 242.9L164.3 244.1V240L149.4 238.5ZM164.3 199L179.2 200.8V197L164.3 195.2ZM164.3 244.1L179.2 245.8V241.2L164.3 240ZM179.2 200.8L194.1 199.4V195.3L179.2 197ZM179.2 245.8L194.1 242.7V238.6L179.2 241.2Z" fill-opacity=".35"/><path d="M45.3 204.3L60.2 204.3V200.2L45.3 200.2ZM45.3 235.1L60.2 239.3V235.2L45.3 231.9ZM60.2 204.3L75.1 198.4V194.9L60.2 200.2ZM60.2 239.3L75.1 236.8V231.5L60.2 235.2ZM75.1 198.4L90 191.1V187.1L75.1 194.9ZM75.1 236.8L90 226.9V223L75.1 231.5ZM90 191.1L104.8 184.1V179.6L90 187.1ZM90 226.9L104.8 225.2V220.5L90 223ZM104.8 184.1L119.7 184.8V180.3L104.8 179.6ZM104.8 225.2L119.7 225.9V221.2L104.8 220.5ZM119.7 184.8L134.6 188.1V184.6L119.7 180.3ZM119.7 225.9L134.6 228.1V223.4L119.7 221.2ZM134.6 188.1L149.4 202.1V198.3L134.6 184.6ZM134.6 228.1L149.4 238.5V234.1L134.6 223.4ZM149.4 202.1L164.3 202.8V199L149.4 198.3ZM149.4 238.5L164.3 240V235.9L149.4 234.1ZM164.3 202.8L179.2 204.7V200.8L164.3 199ZM164.3 240L179.2 241.2V236.6L164.3 235.9ZM179.2 204.7L194.1 203.6V199.4L179.2 200.8ZM179.2 241.2L194.1 238.6V234.4L179.2 236.6Z" fill-opacity=".40"/><path d="M45.3 231.9L60.2 235.2V204.3L45.3 204.3ZM60.2 235.2L75.1 231.5V198.4L60.2 204.3ZM75.1 231.5L90 223V191.1L75.1 198.4ZM90 223L104.8 220.5V184.1L90 191.1ZM104.8 220.5L119.7 221.2V184.8L104.8 184.1ZM119.7 221.2L134.6 223.4V188.1L119.7 184.8ZM134.6 223.4L149.4 234.1V202.1L134.6 188.1ZM149.4 234.1L164.3 235.9V202.8L149.4 202.1ZM164.3 235.9L179.2 236.6V204.7L164.3 202.8ZM179.2 236.6L194.1 234.4V203.6L179.2 204.7Z" fill-opacity=".45"/></g><g transform="translate(45.32 0) scale(14.875 1)"><path vector-effect="non-scaling-stroke" d="M0 229.2 1 234.9 2 231.6 3 223.2 4 223 5 225.5 6 227.9 7 238 8 238.5 9 238.3 10 233.2M0 235.4 1 237.2 2 233.6 3 225.6 4 224.1 5 227.8 6 231.2 7 240.7 8 241.9 9 243.3 10 242M0 227 1 231.1 2 226 3 216.2 4 214.7 5 212.5 6 214.5 7 229.6 8 229.8 9 229.9 10 227.9M0 241 1 245.2 2 242.7 3 235.2 4 231.3 5 233.7 6 234.8 7 241.9 8 245.1 9 244.2 10 242.2M0 203.9 1 206 2 200 3 193.3 4 187.4 5 188 6 191.4 7 204.6 8 206 9 207.9 10 206.7M0 236.2 1 240 2 238.6 3 233.8 4 233.4 5 234.9 6 237.7 7 244.8 8 246.8 9 249 10 249.3M0 196.2 1 195.2 2 188.5 3 183.2 4 175.5 5 176.8 6 183.7 7 196.4 8 198.4 9 199 10 199.2M0 201.5 1 201.1 2 197.4 3 189.9 4 182.3 5 183.1 6 184.8 7 197.9 8 198 9 197.3 10 196.8M0 248.6 1 251.9 2 252.2 3 245.3 4 241 5 240.3 6 247.1 7 251.4 8 251.7 9 252.3 10 251.2M0 250.4 1 252.9 2 251.5 3 244.3 4 242.9 5 240.8 6 243.9 7 247.7 8 248.1 9 247.8 10 246.5M0 188.7 1 187.6 2 185.3 3 179.7 4 170.5 5 170.7 6 178.1 7 190.2 8 191.7 9 190 10 190.4M0 193.5 1 190.4 2 185.6 3 179.3 4 172.5 5 175.2 6 179.8 7 194.5 8 195.6 9 194.1 10 194.1M0 231.4 1 234.7 2 232.1 3 226.6 4 222.1 5 223 6 225 7 235.9 8 238 9 239.5 10 237M0 201.9 1 201.7 2 197.6 3 188.6 4 181.5 5 183.9 6 186.4 7 201 8 201.2 9 202.2 10 200.8M0 202.2 1 205 2 199 3 191.1 4 185.4 5 187.8 6 188.4 7 202.8 8 201.3 9 201.6 10 200.5M0 227.4 1 231.1 2 227.1 3 220.6 4 219.4 5 218.4 6 219.3 7 231.5 8 232.5 9 232.9 10 229M0 233.1 1 239.1 2 235.9 3 232.7 4 231.9 5 233.7 6 236 7 239.5 8 241.2 9 242 10 242.9M0 235.7 1 235.5 2 232 3 223.1 4 221.6 5 222.5 6 222.8 7 234.8 8 237.6 9 239 10 238.4M0 185.5 1 180.4 2 176.5 3 172.4 4 163.6 5 164.3 6 171.9 7 184.9 8 186.4 9 178.6 10 178.2M0 190.6 1 187.3 2 183.1 3 178.1 4 169.8 5 171.9 6 176.7 7 189.3 8 187.5 9 183.1 10 183M0 239.9 1 243 2 241 3 232.8 4 232 5 234.7 6 238.4 7 244.9 8 246.5 9 247.6 10 247.7M0 231.5 1 233.5 2 230.7 3 223 4 222.9 5 223.8 6 227.8 7 238.9 8 242.1 9 241.9 10 239.9M0 197.8 1 197.3 2 189.5 3 183.9 4 176.2 5 177.2 6 182.8 7 195.9 8 196.6 9 192.9 10 191.4M0 189.1 1 187.8 2 182.1 3 177.4 4 166.5 5 166.4 6 172.8 7 185.2 8 185.8 9 178.4 10 178.5M0 227 1 230.2 2 224.7 3 215 4 214.3 5 215 6 217.2 7 232 8 237.1 9 236.6 10 235.9M0 204.6 1 202.4 2 195.9 3 188.6 4 179.7 5 179.3 6 183.4 7 196.6 8 195.5 9 193 10 192.5M0 193.7 1 191.6 2 189.5 3 183.5 4 174.7 5 175.2 6 181.5 7 193.6 8 195.1 9 195.1 10 195.9M0 201.2 1 200.4 2 196.4 3 190.1 4 184.1 5 185 6 190 7 204 8 204 9 206.7 10 204.8M0 198.2 1 195.8 2 191.2 3 183.7 4 176.1 5 175 6 179.9 7 193.7 8 193.6 9 192.2 10 192.9M0 239 1 241.4 2 240.9 3 232.1 4 228.5 5 231.5 6 237 7 244.2 8 244 9 243.7 10 243M0 237.4 1 239.6 2 238.6 3 230.3 4 229.5 5 229.4 6 229.7 7 237.2 8 238.3 9 237.6 10 237.2M0 244.9 1 246.8 2 247.1 3 239.7 4 238.2 5 238.7 6 238.6 7 243.9 8 244.5 9 245.4 10 244.2M0 231.4 1 233.5 2 229.2 3 219.6 4 216.3 5 217.8 6 222.8 7 231.4 8 233.2 9 234 10 231.5M0 207.4 1 208.1 2 201.9 3 193.9 4 187.5 5 187 6 189.8 7 203.7 8 204.5 9 208.7 10 208.7M0 229.7 1 233.4 2 230.3 3 219 4 219.1 5 219.8 6 221.8 7 234.2 8 236.2 9 236.1 10 236.9M0 232.3 1 235.5 2 232.4 3 227.9 4 223.9 5 224.7 6 228.3 7 237.7 8 238 9 239.2 10 237.4M0 197 1 194.3 2 188.8 3 182.6 4 175.9 5 176.8 6 181.6 7 195.4 8 196 9 195.9 10 192.9M0 234.8 1 239.6 2 237.3 3 229.2 4 226.4 5 227.5 6 228.3 7 238.5 8 239.4 9 240.7 10 239.1M0 231.9 1 236 2 232.1 3 224 4 221.6 5 223.9 6 222.7 7 234 8 233.9 9 236.2 10 231.2M0 239.8 1 242.9 2 239.6 3 228.6 4 225.6 5 227.5 6 229.9 7 239.9 8 241.4 9 241.9 10 239.7M0 230 1 232.6 2 227.4 3 221.1 4 216.7 5 215.8 6 217.5 7 229.3 8 233.6 9 231.4 10 229.2M0 246.6 1 251.4 2 248.8 3 238.5 4 237.7 5 241.4 6 244.5 7 246.3 8 250.3 9 250.3 10 251M0 187.9 1 183.2 2 181.9 3 178.1 4 167.3 5 168.5 6 176.6 7 189.6 8 190.4 9 186.5 10 186.8M0 227.2 1 230.3 2 225.7 3 219.1 4 217.1 5 217.5 6 220.4 7 232.4 8 235.7 9 237 10 237.3M0 239.8 1 243.9 2 242.4 3 234.2 4 229.4 5 227.3 6 230.6 7 240.2 8 243.1 9 242 10 241.8M0 229.1 1 231.7 2 224.4 3 214.5 4 214.4 5 215.7 6 217.6 7 231.1 8 233.3 9 233.4 10 231.3M0 235.6 1 238.8 2 235.7 3 227 4 225.9 5 229.6 6 231.8 7 239.6 8 238.6 9 239.1 10 236.5M0 205.9 1 206.7 2 201.8 3 193.1 4 188.3 5 189.4 6 189.8 7 203.9 8 204.1 9 206.8 10 207.4M0 235.2 1 240.1 2 238.8 3 228.1 4 224 5 222.1 6 226.3 7 236.9 8 239.7 9 239.2 10 235.7M0 232.5 1 234.4 2 227.4 3 218.4 4 216 5 216.2 6 217.3 7 228.8 8 231.5 9 232.3 10 229.8M0 231.2 1 232.8 2 228.3 3 221.7 4 219.4 5 222.5 6 224.6 7 234.5 8 234.5 9 234.6 10 234.2M0 228.4 1 230.4 2 225.6 3 217.1 4 215.6 5 217 6 219.7 7 231.6 8 232.4 9 232.9 10 229.1M0 202.7 1 202.9 2 198.6 3 191.3 4 182.7 5 183.7 6 186.6 7 200.4 8 201.5 9 197.8 10 196.8M0 237 1 241.1 2 238.5 3 228.1 4 226.4 5 226.8 6 228.9 7 236.1 8 237.2 9 237 10 234.8M0 205 1 206 2 201.1 3 192.3 4 188.6 5 189.8 6 193.2 7 207.6 8 207.4 9 212.5 10 210.9M0 227.4 1 229.1 2 223.4 3 216.3 4 213.3 5 213.5 6 215.7 7 227.3 8 230 9 231 10 228.9M0 206.3 1 205 2 197.9 3 190.1 4 182.2 5 186.2 6 188.4 7 202.7 8 203.3 9 205.9 10 206.8M0 228.4 1 230.7 2 228.5 3 218.6 4 219.3 5 220.1 6 220.6 7 233.3 8 237.4 9 236.2 10 236.1M0 193 1 190.5 2 184.6 3 177.1 4 166.2 5 166.1 6 173.6 7 186.9 8 187.9 9 183.9 10 184M0 229.1 1 233.5 2 228.9 3 221.2 4 216.6 5 216.3 6 214.8 7 229.7 8 232.3 9 231.6 10 228.9" fill="none" stroke="#1c2545" stroke-width="0.6" stroke-opacity="0.3"/></g><g clip-path="url(#c5)" class="b1"><path d="M45.3 182.2V209.4M45.3 227.8V257.2" class="wh"/><rect x="39.7" y="209.4" width="11.2" height="18.4" class="bx"/><path d="M39.7 219.7H50.9" class="md"/><path d="M60.2 178.6V209.4M60.2 230V259.4" class="wh"/><rect x="54.6" y="209.4" width="11.2" height="20.6" class="bx"/><path d="M54.6 219.7H65.8" class="md"/><path d="M75.1 174.9V202.8M75.1 224.9V259.4" class="wh"/><rect x="69.5" y="202.8" width="11.2" height="22.1" class="bx"/><path d="M69.5 211.7H80.7" class="md"/><path d="M90 171.2V196.9M90 218.3V252.1" class="wh"/><rect x="84.4" y="196.9" width="11.2" height="21.3" class="bx"/><path d="M84.4 208.7H95.5" class="md"/><path d="M104.8 161.7V190.3M104.8 214.6V249.9" class="wh"/><rect x="99.2" y="190.3" width="11.2" height="24.3" class="bx"/><path d="M99.2 202.8H110.4" class="md"/><path d="M119.7 162.4V191.1M119.7 215.3V251.3" class="wh"/><rect x="114.1" y="191.1" width="11.2" height="24.3" class="bx"/><path d="M114.1 203.6H125.3" class="md"/><path d="M134.6 170.5V194M134.6 217.5V255.8" class="wh"/><rect x="129" y="194" width="11.2" height="23.5" class="bx"/><path d="M129 205.8H140.2" class="md"/><path d="M149.4 183V207.2M149.4 228.6V257.2" class="wh"/><rect x="143.9" y="207.2" width="11.2" height="21.3" class="bx"/><path d="M143.9 217.5H155" class="md"/><path d="M164.3 183.7V208.7M164.3 230.8V259.4" class="wh"/><rect x="158.7" y="208.7" width="11.2" height="22.1" class="bx"/><path d="M158.7 220.5H169.9" class="md"/><path d="M179.2 176.4V209.4M179.2 230.8V259.4" class="wh"/><rect x="173.6" y="209.4" width="11.2" height="21.3" class="bx"/><path d="M173.6 219H184.8" class="md"/><path d="M194.1 176.4V208.7M194.1 229.3V259.4" class="wh"/><rect x="188.5" y="208.7" width="11.2" height="20.6" class="bx"/><path d="M188.5 219H199.7" class="md"/><circle cx="45.3" cy="178.6" r="1.6"/><circle cx="45.3" cy="262.4" r="1.6"/><circle cx="45.3" cy="269.7" r="1.6"/><circle cx="60.2" cy="165.3" r="1.6"/><circle cx="60.2" cy="269.7" r="1.6"/><circle cx="75.1" cy="261.6" r="1.6"/><circle cx="75.1" cy="269.7" r="1.6"/><circle cx="90" cy="255" r="1.6"/><circle cx="90" cy="256.5" r="1.6"/><circle cx="90" cy="263.1" r="1.6"/><circle cx="90" cy="267.5" r="1.6"/><circle cx="104.8" cy="253.5" r="1.6"/><circle cx="104.8" cy="267.5" r="1.6"/><circle cx="119.7" cy="252.8" r="1.6"/><circle cx="119.7" cy="255.8" r="1.6"/><circle cx="119.7" cy="262.4" r="1.6"/><circle cx="119.7" cy="267.5" r="1.6"/><circle cx="134.6" cy="257.2" r="1.6"/><circle cx="134.6" cy="260.9" r="1.6"/><circle cx="134.6" cy="269.7" r="1.6"/><circle cx="149.4" cy="261.6" r="1.6"/><circle cx="149.4" cy="269.7" r="1.6"/><circle cx="164.3" cy="269.7" r="1.6"/><circle cx="179.2" cy="268.2" r="1.6"/><circle cx="194.1" cy="169" r="1.6"/><circle cx="194.1" cy="269.7" r="1.6"/></g><path d="M33.4 263.1H36.4" class="tk"/><text x="31.1" y="268" class="yl">0</text><path d="M33.4 226.4H36.4" class="tk"/><text x="31.1" y="231.3" class="yl">5</text><path d="M33.4 189.6H36.4" class="tk"/><text x="31.1" y="194.5" class="yl">10</text>
<rect x="226.6" y="139.7" width="166.6" height="16.5" fill="#d3d3d3" stroke="#9a9a9a" stroke-width="1"/><text x="309.9" y="152" class="st">Cluster 6</text><rect x="226.6" y="156.5" width="166.6" height="118.6" fill="#f3f3f3" stroke="#a8a8a8" stroke-width="0.9"/><rect x="228.6" y="156.5" width="14.4" height="118.6" fill="#a4a6b6"/><rect x="243" y="156.5" width="29.8" height="118.6" fill="#a3cd9f"/><rect x="272.7" y="156.5" width="29.8" height="118.6" fill="#f6cda3"/><rect x="302.5" y="156.5" width="59.5" height="118.6" fill="#eeb3a5"/><rect x="362" y="156.5" width="14.9" height="118.6" fill="#deb1d2"/><rect x="376.9" y="156.5" width="14.1" height="118.6" fill="#b09dd1"/><g stroke="#000" stroke-width="0.8"><path d="M226.6 262.5H393.2" stroke-opacity="0.045"/><path d="M226.6 245.6H393.2" stroke-opacity="0.025"/><path d="M226.6 228.7H393.2" stroke-opacity="0.045"/><path d="M226.6 211.8H393.2" stroke-opacity="0.025"/><path d="M226.6 194.8H393.2" stroke-opacity="0.045"/><path d="M226.6 177.9H393.2" stroke-opacity="0.025"/><path d="M226.6 161H393.2" stroke-opacity="0.045"/><path d="M235.6 156.5V275.1" stroke-opacity=".04"/><path d="M250.4 156.5V275.1" stroke-opacity=".04"/><path d="M265.3 156.5V275.1" stroke-opacity=".04"/><path d="M280.2 156.5V275.1" stroke-opacity=".04"/><path d="M295.1 156.5V275.1" stroke-opacity=".04"/><path d="M309.9 156.5V275.1" stroke-opacity=".04"/><path d="M324.8 156.5V275.1" stroke-opacity=".04"/><path d="M339.7 156.5V275.1" stroke-opacity=".04"/><path d="M354.6 156.5V275.1" stroke-opacity=".04"/><path d="M369.4 156.5V275.1" stroke-opacity=".04"/><path d="M384.3 156.5V275.1" stroke-opacity=".04"/></g><g fill="#1c2545" clip-path="url(#c6)"><path d="M235.6 207.4L250.4 214.1V214.1L235.6 205ZM250.4 214.1L265.3 215.1V215.1L250.4 214.1ZM265.3 215.1L280.2 232.1V226L265.3 215.1ZM280.2 232.1L295.1 232.7V226L280.2 226ZM295.1 232.7L309.9 232.7V226L295.1 226ZM309.9 232.7L324.8 232.4V226L309.9 226ZM324.8 232.4L339.7 232.4V226L324.8 226ZM339.7 232.4L354.6 231.5V226L339.7 226ZM354.6 231.5L369.4 225.3V225.3L354.6 226ZM369.4 225.3L384.3 223.7V220.2L369.4 225.3Z" fill-opacity=".10"/><path d="M235.6 210.4L250.4 217V214.1L235.6 207.4ZM235.6 268.6L250.4 269.3V269.3L235.6 265ZM250.4 217L265.3 217.1V215.1L250.4 214.1ZM250.4 269.3L265.3 269.3V269.3L250.4 269.3ZM265.3 217.1L280.2 234.1V232.1L265.3 215.1ZM265.3 269.3L280.2 269.3V269.1L265.3 269.3ZM280.2 234.1L295.1 234.8V232.7L280.2 232.1ZM280.2 269.3L295.1 269.3V268.1L280.2 269.1ZM295.1 234.8L309.9 234.8V232.7L295.1 232.7ZM295.1 269.3L309.9 269.3V268.1L295.1 268.1ZM309.9 234.8L324.8 234.4V232.4L309.9 232.7ZM309.9 269.3L324.8 269.3V268.6L309.9 268.1ZM324.8 234.4L339.7 234.4V232.4L324.8 232.4ZM324.8 269.3L339.7 269.3V268.6L324.8 268.6ZM339.7 234.4L354.6 233.6V231.5L339.7 232.4ZM339.7 269.3L354.6 269.3V268.1L339.7 268.6ZM354.6 233.6L369.4 227.6V225.3L354.6 231.5ZM354.6 269.3L369.4 269.3V267.9L354.6 268.1ZM369.4 227.6L384.3 226V223.7L369.4 225.3ZM369.4 269.3L384.3 268.6V266.1L369.4 267.9Z" fill-opacity=".30"/><path d="M235.6 213.4L250.4 219.9V217L235.6 210.4ZM250.4 219.9L265.3 219.1V217.1L250.4 217ZM265.3 219.1L280.2 236.1V234.1L265.3 217.1ZM280.2 236.1L295.1 236.8V234.8L280.2 234.1ZM295.1 236.8L309.9 236.8V234.8L295.1 234.8ZM309.9 236.8L324.8 236.4V234.4L309.9 234.8ZM324.8 236.4L339.7 236.4V234.4L324.8 234.4ZM339.7 236.4L354.6 235.8V233.6L339.7 234.4ZM354.6 235.8L369.4 229.9V227.6L354.6 233.6ZM369.4 229.9L384.3 228.3V226L369.4 227.6Z" fill-opacity=".35"/><path d="M235.6 216.5L250.4 222.8V219.9L235.6 213.4ZM250.4 222.8L265.3 221V219.1L250.4 219.9ZM265.3 221L280.2 238.1V236.1L265.3 219.1ZM280.2 238.1L295.1 238.8V236.8L280.2 236.1ZM295.1 238.8L309.9 238.8V236.8L295.1 236.8ZM309.9 238.8L324.8 238.5V236.4L309.9 236.8ZM324.8 238.5L339.7 238.5V236.4L324.8 236.4ZM339.7 238.5L354.6 237.9V235.8L339.7 236.4ZM354.6 237.9L369.4 232.2V229.9L354.6 235.8ZM369.4 232.2L384.3 230.7V228.3L369.4 229.9Z" fill-opacity=".45"/><path d="M235.6 265L250.4 269.3V269.3L235.6 264.7ZM250.4 269.3L265.3 269.3V269.3L250.4 269.3ZM265.3 269.3L280.2 269.1V268.9L265.3 269.3ZM280.2 269.1L295.1 268.1V267.9L280.2 268.9ZM295.1 268.1L309.9 268.1V267.9L295.1 267.9ZM309.9 268.1L324.8 268.6V268.4L309.9 267.9ZM324.8 268.6L339.7 268.6V268.4L324.8 268.4ZM339.7 268.6L354.6 268.1V267.9L339.7 268.4ZM354.6 268.1L369.4 267.9V267.7L354.6 267.9ZM369.4 267.9L384.3 266.1V265.8L369.4 267.7Z" fill-opacity=".50"/><path d="M235.6 219.5L250.4 225.7V222.8L235.6 216.5ZM235.6 264.7L250.4 269.3V269.3L235.6 264.4ZM250.4 225.7L265.3 223V221L250.4 222.8ZM250.4 269.3L265.3 269.3V269.3L250.4 269.3ZM265.3 223L280.2 240.2V238.1L265.3 221ZM265.3 269.3L280.2 268.9V268.7L265.3 269.3ZM280.2 240.2L295.1 240.8V238.8L280.2 238.1ZM280.2 268.9L295.1 267.9V267.7L280.2 268.7ZM295.1 240.8L309.9 240.8V238.8L295.1 238.8ZM295.1 267.9L309.9 267.9V267.7L295.1 267.7ZM309.9 240.8L324.8 240.5V238.5L309.9 238.8ZM309.9 267.9L324.8 268.4V268.2L309.9 267.7ZM324.8 240.5L339.7 240.5V238.5L324.8 238.5ZM324.8 268.4L339.7 268.4V268.2L324.8 268.2ZM339.7 240.5L354.6 240V237.9L339.7 238.5ZM339.7 268.4L354.6 267.9V267.7L339.7 268.2ZM354.6 240L369.4 234.6V232.2L354.6 237.9ZM354.6 267.9L369.4 267.7V267.5L354.6 267.7ZM369.4 234.6L384.3 233V230.7L369.4 232.2ZM369.4 267.7L384.3 265.8V265.6L369.4 267.5Z" fill-opacity=".55"/><path d="M235.6 222.6L250.4 228.6V225.7L235.6 219.5ZM235.6 264L250.4 269.3V269.3L235.6 263.7ZM235.6 264.4L250.4 269.3V269.3L235.6 264ZM250.4 228.6L265.3 224.9V223L250.4 225.7ZM250.4 269.3L265.3 269.3V269.3L250.4 269.3ZM250.4 269.3L265.3 269.3V269.3L250.4 269.3ZM265.3 224.9L280.2 242.2V240.2L265.3 223ZM265.3 269.3L280.2 268.5V268.3L265.3 269.3ZM265.3 269.3L280.2 268.7V268.5L265.3 269.3ZM280.2 242.2L295.1 242.9V240.8L280.2 240.2ZM280.2 268.5L295.1 267.6V267.4L280.2 268.3ZM280.2 268.7L295.1 267.7V267.6L280.2 268.5ZM295.1 242.9L309.9 242.9V240.8L295.1 240.8ZM295.1 267.6L309.9 267.6V267.4L295.1 267.4ZM295.1 267.7L309.9 267.7V267.6L295.1 267.6ZM309.9 242.9L324.8 242.5V240.5L309.9 240.8ZM309.9 267.6L324.8 268V267.8L309.9 267.4ZM309.9 267.7L324.8 268.2V268L309.9 267.6ZM324.8 242.5L339.7 242.5V240.5L324.8 240.5ZM324.8 268L339.7 268V267.8L324.8 267.8ZM324.8 268.2L339.7 268.2V268L324.8 268ZM339.7 242.5L354.6 242.2V240L339.7 240.5ZM339.7 268L354.6 267.6V267.4L339.7 267.8ZM339.7 268.2L354.6 267.7V267.6L339.7 268ZM354.6 242.2L369.4 236.9V234.6L354.6 240ZM354.6 267.6L369.4 267.3V267.2L354.6 267.4ZM354.6 267.7L369.4 267.5V267.3L354.6 267.6ZM369.4 236.9L384.3 235.3V233L369.4 234.6ZM369.4 267.3L384.3 265.4V265.1L369.4 267.2ZM369.4 267.5L384.3 265.6V265.4L369.4 267.3Z" fill-opacity=".60"/><path d="M235.6 263.3L250.4 269.3V228.6L235.6 222.6ZM235.6 263.7L250.4 269.3V269.3L235.6 263.3ZM250.4 269.3L265.3 269.3V224.9L250.4 228.6ZM250.4 269.3L265.3 269.3V269.3L250.4 269.3ZM265.3 269.3L280.2 268.1V242.2L265.3 224.9ZM265.3 269.3L280.2 268.3V268.1L265.3 269.3ZM280.2 268.1L295.1 267.2V242.9L280.2 242.2ZM280.2 268.3L295.1 267.4V267.2L280.2 268.1ZM295.1 267.2L309.9 267.2V242.9L295.1 242.9ZM295.1 267.4L309.9 267.4V267.2L295.1 267.2ZM309.9 267.2L324.8 267.6V242.5L309.9 242.9ZM309.9 267.4L324.8 267.8V267.6L309.9 267.2ZM324.8 267.6L339.7 267.6V242.5L324.8 242.5ZM324.8 267.8L339.7 267.8V267.6L324.8 267.6ZM339.7 267.6L354.6 267.2V242.2L339.7 242.5ZM339.7 267.8L354.6 267.4V267.2L339.7 267.6ZM354.6 267.2L369.4 267V236.9L354.6 242.2ZM354.6 267.4L369.4 267.2V267L354.6 267.2ZM369.4 267L384.3 264.9V235.3L369.4 236.9ZM369.4 267.2L384.3 265.1V264.9L369.4 267Z" fill-opacity=".65"/></g><g transform="translate(235.55 0) scale(14.875 1)"><path vector-effect="non-scaling-stroke" d="M0 264.6 1 262.5 2 262.6 3 263.5 4 263.1 5 262.6 6 263.1 7 262.7 8 263.2 9 262.8 10 265.9M0 262.6 1 259.2 2 259.5 3 261 4 261.6 5 262.6 6 262.7 7 262.8 8 263.2 9 262.7 10 265.7M0 266 1 264.4 2 264.9 3 264.8 4 265.2 5 264.5 6 264.3 7 264.8 8 264.5 9 264.1 10 266.2M0 263.2 1 260.8 2 260.4 3 260.7 4 260.7 5 260.4 6 261.4 7 260.7 8 261.1 9 260.8 10 264.5M0 264.2 1 262.8 2 262.6 3 262.7 4 261.5 5 261.6 6 261.2 7 261.3 8 261.4 9 260.1 10 264.9M0 267.4 1 267.1 2 266.9 3 266.6 4 266.8 5 266.9 6 267 7 266.8 8 267.4 9 267.3 10 267.2M0 262.6 1 259.6 2 259.3 3 260.3 4 260.2 5 259.9 6 259.6 7 259.8 8 259.6 9 258.6 10 264.1M0 222 1 227.3 2 224.4 3 241.4 4 243.2 5 241.7 6 241 7 239.7 8 239.7 9 236.4 10 233.4M0 222.4 1 228 2 225.4 3 242 4 243.1 5 243.6 6 241.7 7 240.8 8 240.8 9 237.1 10 235.5M0 267.5 1 266.9 2 267 3 267.5 4 267.9 5 267.6 6 267.7 7 268 8 267.7 9 267.5 10 268.3M0 214.7 1 223.5 2 221.5 3 235.4 4 233.8 5 232.7 6 232 7 231.9 8 232.3 9 229.9 10 225.8M0 222 1 228.9 2 226.1 3 245.3 4 245 5 245.2 6 244.6 7 243.6 8 242.1 9 237.1 10 234.6M0 265 1 263.1 2 263 3 263.8 4 263.6 5 263.6 6 264 7 264.6 8 264.9 9 265.1 10 266.7M0 265.4 1 264.9 2 264.8 3 264.7 4 264.9 5 265.7 6 265.8 7 266.3 8 266.1 9 265.6 10 266.8M0 263 1 259.8 2 260.5 3 260.8 4 260.7 5 261.1 6 261.3 7 261.4 8 260.7 9 260.2 10 264.4M0 221.3 1 227.9 2 225.2 3 241.7 4 242.6 5 242.1 6 242.4 7 242.8 8 241.3 9 236.9 10 236.8M0 266.1 1 264.9 2 265.3 3 265.3 4 265.9 5 266.5 6 266.3 7 266.2 8 265.8 9 265.6 10 267.2M0 216.8 1 225.2 2 221.5 3 236.5 4 236.7 5 237.3 6 236.1 7 238.1 8 237.8 9 232.3 10 229.7M0 264.1 1 262.4 2 262.5 3 263.2 4 263 5 263.2 6 263.2 7 263.8 8 264.1 9 263.6 10 265.6M0 263.7 1 260.8 2 261.3 3 261.5 4 261.3 5 261.4 6 261.9 7 261.9 8 261.8 9 260.9 10 265.3M0 212.1 1 219.5 2 219.2 3 231.8 4 231.7 5 231.5 6 230.7 7 230.3 8 231 9 229.1 10 223.2M0 220.1 1 227.2 2 224.7 3 241.3 4 241 5 239.7 6 239.4 7 238.5 8 239.1 9 234.6 10 232.9M0 263.5 1 260.6 2 261.2 3 261.7 4 261.2 5 261.1 6 260.5 7 260.5 8 260.6 9 259.8 10 264.6M0 267.4 1 267 2 266.8 3 267 4 267 5 266.3 6 265.7 7 265.5 8 265.7 9 265.6 10 267.2M0 217.7 1 225.4 2 223 3 238.7 4 239.1 5 239.1 6 238.9 7 238.4 8 237.9 9 233.6 10 230.8M0 264.5 1 262.6 2 262.4 3 263.9 4 263.6 5 263.5 6 263.6 7 263.1 8 263.2 9 263.5 10 266.3M0 262.4 1 259.1 2 259.2 3 260.4 4 260.5 5 260.8 6 260 7 260.5 8 261.5 9 261.4 10 265.1M0 263.1 1 260.2 2 260.7 3 261.9 4 261.1 5 261.2 6 260.9 7 260.3 8 260 9 259.1 10 264.4M0 226 1 231 2 226.6 3 245.9 4 246.2 5 245.9 6 244.8 7 242.5 8 241.5 9 236.1 10 233M0 266.4 1 266.1 2 266 3 267 4 267.6 5 268 6 267.8 7 268.1 8 268.4 9 267.9 10 268M0 262.4 1 258.9 2 259 3 259.5 4 259.7 5 259.3 6 259.7 7 259.9 8 260.3 9 259.5 10 264M0 262.4 1 259.6 2 260.4 3 261.3 4 261.9 5 261.3 6 261.6 7 261.5 8 261.5 9 260.8 10 265M0 209.3 1 216.8 2 217.2 3 228.9 4 229.4 5 228.8 6 227.8 7 228.2 8 228.1 9 227.7 10 223.1M0 215 1 223.8 2 222.4 3 238.5 4 239 5 239.1 6 238.9 7 238.2 8 238.4 9 235 10 233.9M0 264.4 1 262.7 2 262.3 3 262.8 4 263.2 5 263.7 6 263.3 7 263.7 8 263.8 9 263.8 10 266.5M0 225.1 1 230.1 2 225.9 3 241.6 4 243.2 5 242.3 6 242.5 7 242.5 8 242 9 235.8 10 234.7M0 216.1 1 223 2 221.7 3 237.1 4 236.6 5 236.8 6 236 7 235.5 8 235.6 9 233.2 10 229.7M0 267.8 1 267 2 266.6 3 267.3 4 267.5 5 267.5 6 267.5 7 267.9 8 267.7 9 267.8 10 268M0 222.9 1 229 2 225.5 3 243.6 4 243.3 5 243.6 6 244.1 7 247 8 247 9 239.1 10 239.8M0 267 1 267 2 266.6 3 267.1 4 266.4 5 265.9 6 265.3 7 264.8 8 265.2 9 264.2 10 266.2M0 263.1 1 260.1 2 259.5 3 260.1 4 260.1 5 259.7 6 259.8 7 260.6 8 260.3 9 259.6 10 264.6M0 266.5 1 266.2 2 266.1 3 266.4 4 266.9 5 267.3 6 266.7 7 266.7 8 266.7 9 266.8 10 267.5M0 220 1 227.3 2 224.3 3 242.1 4 243.8 5 243.2 6 243.3 7 242.9 8 243.5 9 237.8 10 238M0 262.5 1 259.3 2 259.7 3 260.5 4 260.8 5 261.1 6 261 7 260.9 8 261 9 260.1 10 264.6M0 266.4 1 265.6 2 265.5 3 266.3 4 266.1 5 266 6 266.3 7 266.1 8 266 9 266.5 10 267.7M0 262.7 1 259.7 2 259.8 3 260.3 4 260.3 5 260.2 6 260.3 7 260.9 8 261 9 259.5 10 264.1M0 263 1 259.9 2 260 3 260.4 4 259.8 5 259.2 6 259.5 7 260.1 8 259.5 9 259.2 10 264.5M0 265.9 1 265.3 2 265.3 3 266 4 266.5 5 266.6 6 266.7 7 266.7 8 266.8 9 266 10 267.2M0 220.8 1 227.9 2 224.3 3 243 4 244.5 5 245.9 6 246.5 7 246.6 8 245.9 9 238.9 10 237.3M0 264.1 1 261.8 2 261.5 3 262.7 4 263.1 5 263.1 6 263.4 7 263.8 8 263.2 9 262.6 10 265.4M0 161 1 221.9 2 225.3 3 238.8 4 242.2 5 240.5 6 242.2 7 241.5 8 242.2 9 238.8 10 232.1M0 198.2 1 218.5 2 220.2 3 235.4 4 237.1 5 238.8 6 238.1 7 238.8 8 237.8 9 235.4 10 228.7M0 202.3 1 215.1 2 218.5 3 232.1 4 232.1 5 233.7 6 232.7 7 232.7 8 232.7 9 223.6 10 220.2" fill="none" stroke="#1c2545" stroke-width="0.6" stroke-opacity="0.3"/></g><g clip-path="url(#c6)" class="b1"><path d="M235.6 205V233.7M235.6 252.3V268.6" class="wh"/><rect x="230" y="233.7" width="11.2" height="18.6" class="bx"/><path d="M230 243.9H241.1" class="md"/><path d="M250.4 214.1V240.5M250.4 260.8V269.3" class="wh"/><rect x="244.8" y="240.5" width="11.2" height="20.3" class="bx"/><path d="M244.8 251.3H256" class="md"/><path d="M265.3 215.1V239.8M265.3 260.8V269.3" class="wh"/><rect x="259.7" y="239.8" width="11.2" height="21" class="bx"/><path d="M259.7 253.4H270.9" class="md"/><path d="M280.2 232.1V249.6M280.2 261.5V269.3" class="wh"/><rect x="274.6" y="249.6" width="11.2" height="11.8" class="bx"/><path d="M274.6 256.4H285.8" class="md"/><path d="M295.1 232.1V250.3M295.1 261.5V269.3" class="wh"/><rect x="289.5" y="250.3" width="11.2" height="11.2" class="bx"/><path d="M289.5 257.1H300.6" class="md"/><path d="M309.9 233.4V250.3M309.9 261.5V269.3" class="wh"/><rect x="304.3" y="250.3" width="11.2" height="11.2" class="bx"/><path d="M304.3 257.1H315.5" class="md"/><path d="M324.8 232.7V250M324.8 261.5V269.3" class="wh"/><rect x="319.2" y="250" width="11.2" height="11.5" class="bx"/><path d="M319.2 256.7H330.4" class="md"/><path d="M339.7 232.7V250M339.7 261.5V269.3" class="wh"/><rect x="334.1" y="250" width="11.2" height="11.5" class="bx"/><path d="M334.1 256.7H345.3" class="md"/><path d="M354.6 232.7V250M354.6 261.5V269.3" class="wh"/><rect x="349" y="250" width="11.2" height="11.5" class="bx"/><path d="M349 257.1H360.1" class="md"/><path d="M369.4 225.3V246.9M369.4 260.8V269.3" class="wh"/><rect x="363.8" y="246.9" width="11.2" height="13.9" class="bx"/><path d="M363.8 256.1H375" class="md"/><path d="M384.3 225.3V243.9M384.3 257.4V268.6" class="wh"/><rect x="378.7" y="243.9" width="11.2" height="13.5" class="bx"/><path d="M378.7 251.7H389.9" class="md"/><circle cx="235.6" cy="202.3" r="1.6"/><circle cx="235.6" cy="198.2" r="1.6"/><circle cx="235.6" cy="161" r="1.6"/><path d="M280.2 226V231" class="ob"/><path d="M295.1 226V231" class="ob"/><path d="M309.9 226V233.4" class="ob"/><path d="M324.8 226V232.1" class="ob"/><path d="M339.7 226V232.1" class="ob"/><path d="M354.6 226V232.1" class="ob"/><circle cx="369.4" cy="223.6" r="1.6"/><path d="M384.3 220.2V224.3" class="ob"/></g><path d="M223.6 262.5H226.6" class="tk"/><text x="221.3" y="267.4" class="yl">0</text><path d="M223.6 228.7H226.6" class="tk"/><text x="221.3" y="233.6" class="yl">10</text><path d="M223.6 194.8H226.6" class="tk"/><text x="221.3" y="199.7" class="yl">20</text><path d="M223.6 161H226.6" class="tk"/><text x="221.3" y="165.9" class="yl">30</text>
<rect x="416.8" y="139.7" width="166.6" height="16.5" fill="#d3d3d3" stroke="#9a9a9a" stroke-width="1"/><text x="500.1" y="152" class="st">Cluster 7</text><rect x="416.8" y="156.5" width="166.6" height="118.6" fill="#f3f3f3" stroke="#a8a8a8" stroke-width="0.9"/><rect x="418.8" y="156.5" width="14.4" height="118.6" fill="#a4a6b6"/><rect x="433.2" y="156.5" width="29.8" height="118.6" fill="#a3cd9f"/><rect x="463" y="156.5" width="29.8" height="118.6" fill="#f6cda3"/><rect x="492.7" y="156.5" width="59.5" height="118.6" fill="#eeb3a5"/><rect x="552.2" y="156.5" width="14.9" height="118.6" fill="#deb1d2"/><rect x="567.1" y="156.5" width="14.1" height="118.6" fill="#b09dd1"/><g stroke="#000" stroke-width="0.8"><path d="M416.8 271.3H583.4" stroke-opacity="0.045"/><path d="M416.8 256.5H583.4" stroke-opacity="0.025"/><path d="M416.8 241.6H583.4" stroke-opacity="0.045"/><path d="M416.8 226.8H583.4" stroke-opacity="0.025"/><path d="M416.8 212H583.4" stroke-opacity="0.045"/><path d="M416.8 197.1H583.4" stroke-opacity="0.025"/><path d="M416.8 182.3H583.4" stroke-opacity="0.045"/><path d="M416.8 167.5H583.4" stroke-opacity="0.025"/><path d="M425.8 156.5V275.1" stroke-opacity=".04"/><path d="M440.6 156.5V275.1" stroke-opacity=".04"/><path d="M455.5 156.5V275.1" stroke-opacity=".04"/><path d="M470.4 156.5V275.1" stroke-opacity=".04"/><path d="M485.3 156.5V275.1" stroke-opacity=".04"/><path d="M500.1 156.5V275.1" stroke-opacity=".04"/><path d="M515 156.5V275.1" stroke-opacity=".04"/><path d="M529.9 156.5V275.1" stroke-opacity=".04"/><path d="M544.8 156.5V275.1" stroke-opacity=".04"/><path d="M559.6 156.5V275.1" stroke-opacity=".04"/><path d="M574.5 156.5V275.1" stroke-opacity=".04"/></g><g fill="#1c2545" clip-path="url(#c7)"><path d="M425.8 175.1L440.6 178.1V164.5L425.8 168.7ZM440.6 178.1L455.5 172.6V165.7L440.6 164.5ZM455.5 172.6L470.4 177.1V165.1L455.5 165.7ZM470.4 177.1L485.3 174.7V161.5L470.4 165.1ZM485.3 174.7L500.1 173.4V164.5L485.3 161.5ZM500.1 173.4L515 174.7V162.7L500.1 164.5ZM515 174.7L529.9 172.7V162.7L515 162.7ZM529.9 172.7L544.8 178.3V164.5L529.9 162.7ZM544.8 178.3L559.6 177V164.5L544.8 164.5ZM559.6 177L574.5 175.1V165.7L559.6 164.5Z" fill-opacity=".10"/><path d="M425.8 263L440.6 263.6V231.8L425.8 228.6ZM440.6 263.6L455.5 263V226L440.6 231.8ZM455.5 263L470.4 263V230.8L455.5 226ZM470.4 263L485.3 263V228.5L470.4 230.8ZM485.3 263L500.1 263V229.6L485.3 228.5ZM500.1 263L515 263V231.1L500.1 229.6ZM515 263L529.9 263V228.8L515 231.1ZM529.9 263L544.8 263V232L529.9 228.8ZM544.8 263L559.6 263V233.2L544.8 232ZM559.6 263L574.5 263V231.2L559.6 233.2Z" fill-opacity=".25"/><path d="M425.8 176.1L440.6 179.1V178.1L425.8 175.1ZM440.6 179.1L455.5 173.7V172.6L440.6 178.1ZM455.5 173.7L470.4 177.9V177.1L455.5 172.6ZM470.4 177.9L485.3 175.6V174.7L470.4 177.1ZM485.3 175.6L500.1 174.3V173.4L485.3 174.7ZM500.1 174.3L515 175.6V174.7L500.1 173.4ZM515 175.6L529.9 173.7V172.7L515 174.7ZM529.9 173.7L544.8 179.1V178.3L529.9 172.7ZM544.8 179.1L559.6 177.9V177L544.8 178.3ZM559.6 177.9L574.5 176.1V175.1L559.6 177Z" fill-opacity=".35"/><path d="M425.8 177.2L440.6 180V179.1L425.8 176.1ZM425.8 228.6L440.6 231.8V228.5L425.8 225.6ZM440.6 180L455.5 174.8V173.7L440.6 179.1ZM440.6 231.8L455.5 226V223.3L440.6 228.5ZM455.5 174.8L470.4 178.8V177.9L455.5 173.7ZM455.5 226L470.4 230.8V227.3L455.5 223.3ZM470.4 178.8L485.3 176.4V175.6L470.4 177.9ZM470.4 230.8L485.3 228.5V224.9L470.4 227.3ZM485.3 176.4L500.1 175.3V174.3L485.3 175.6ZM485.3 228.5L500.1 229.6V226.1L485.3 224.9ZM500.1 175.3L515 176.4V175.6L500.1 174.3ZM500.1 229.6L515 231.1V227.2L500.1 226.1ZM515 176.4L529.9 174.8V173.7L515 175.6ZM515 231.1L529.9 228.8V225.6L515 227.2ZM529.9 174.8L544.8 180V179.1L529.9 173.7ZM529.9 228.8L544.8 232V228.5L529.9 225.6ZM544.8 180L559.6 178.9V177.9L544.8 179.1ZM544.8 232L559.6 233.2V229.6L544.8 228.5ZM559.6 178.9L574.5 177.2V176.1L559.6 177.9ZM559.6 233.2L574.5 231.2V227.9L559.6 229.6Z" fill-opacity=".50"/><path d="M425.8 225.6L440.6 228.5V225.3L425.8 222.6ZM440.6 228.5L455.5 223.3V220.6L440.6 225.3ZM455.5 223.3L470.4 227.3V223.7L455.5 220.6ZM470.4 227.3L485.3 224.9V221.3L470.4 223.7ZM485.3 224.9L500.1 226.1V222.5L485.3 221.3ZM500.1 226.1L515 227.2V223.4L500.1 222.5ZM515 227.2L529.9 225.6V222.3L515 223.4ZM529.9 225.6L544.8 228.5V224.9L529.9 222.3ZM544.8 228.5L559.6 229.6V226.1L544.8 224.9ZM559.6 229.6L574.5 227.9V224.7L559.6 226.1Z" fill-opacity=".60"/><path d="M425.8 178.2L440.6 181V180L425.8 177.2ZM440.6 181L455.5 176V174.8L440.6 180ZM455.5 176L470.4 179.6V178.8L455.5 174.8ZM470.4 179.6L485.3 177.3V176.4L470.4 178.8ZM485.3 177.3L500.1 176.2V175.3L485.3 176.4ZM500.1 176.2L515 177.3V176.4L500.1 175.3ZM515 177.3L529.9 175.8V174.8L515 176.4ZM529.9 175.8L544.8 180.8V180L529.9 174.8ZM544.8 180.8L559.6 179.8V178.9L544.8 180ZM559.6 179.8L574.5 178.2V177.2L559.6 178.9Z" fill-opacity=".65"/><path d="M425.8 222.6L440.6 225.3V222L425.8 219.7ZM440.6 225.3L455.5 220.6V218L440.6 222ZM455.5 220.6L470.4 223.7V220.2L455.5 218ZM470.4 223.7L485.3 221.3V217.8L470.4 220.2ZM485.3 221.3L500.1 222.5V219L485.3 217.8ZM500.1 222.5L515 223.4V219.5L500.1 219ZM515 223.4L529.9 222.3V219L515 219.5ZM529.9 222.3L544.8 224.9V221.3L529.9 219ZM544.8 224.9L559.6 226.1V222.5L544.8 221.3ZM559.6 226.1L574.5 224.7V221.4L559.6 222.5Z" fill-opacity=".70"/><path d="M425.8 179.2L440.6 181.9V181L425.8 178.2ZM440.6 181.9L455.5 177.1V176L440.6 181ZM455.5 177.1L470.4 180.5V179.6L455.5 176ZM470.4 180.5L485.3 178.1V177.3L470.4 179.6ZM485.3 178.1L500.1 177.2V176.2L485.3 177.3ZM500.1 177.2L515 178.1V177.3L500.1 176.2ZM515 178.1L529.9 176.9V175.8L515 177.3ZM529.9 176.9L544.8 181.7V180.8L529.9 175.8ZM544.8 181.7L559.6 180.8V179.8L544.8 180.8ZM559.6 180.8L574.5 179.2V178.2L559.6 179.8Z" fill-opacity=".75"/><path d="M425.8 219.7L440.6 222V218.7L425.8 216.7ZM440.6 222L455.5 218V215.3L440.6 218.7ZM455.5 218L470.4 220.2V216.6L455.5 215.3ZM470.4 220.2L485.3 217.8V214.2L470.4 216.6ZM485.3 217.8L500.1 219V215.4L485.3 214.2ZM500.1 219L515 219.5V215.6L500.1 215.4ZM515 219.5L529.9 219V215.8L515 215.6ZM529.9 219L544.8 221.3V217.8L529.9 215.8ZM544.8 221.3L559.6 222.5V219L544.8 217.8ZM559.6 222.5L574.5 221.4V218.1L559.6 219Z" fill-opacity=".80"/><path d="M425.8 180.3L440.6 182.9V181.9L425.8 179.2ZM425.8 216.7L440.6 218.7V215.5L425.8 213.7ZM440.6 182.9L455.5 178.3V177.1L440.6 181.9ZM440.6 218.7L455.5 215.3V212.6L440.6 215.5ZM455.5 178.3L470.4 181.4V180.5L455.5 177.1ZM455.5 215.3L470.4 216.6V213L455.5 212.6ZM470.4 181.4L485.3 179V178.1L470.4 180.5ZM470.4 216.6L485.3 214.2V210.7L470.4 213ZM485.3 179L500.1 178.1V177.2L485.3 178.1ZM485.3 214.2L500.1 215.4V211.8L485.3 210.7ZM500.1 178.1L515 179V178.1L500.1 177.2ZM500.1 215.4L515 215.6V211.8L500.1 211.8ZM515 179L529.9 177.9V176.9L515 178.1ZM515 215.6L529.9 215.8V212.5L515 211.8ZM529.9 177.9L544.8 182.5V181.7L529.9 176.9ZM529.9 215.8L544.8 217.8V214.2L529.9 212.5ZM544.8 182.5L559.6 181.7V180.8L544.8 181.7ZM544.8 217.8L559.6 219V215.4L544.8 214.2ZM559.6 181.7L574.5 180.3V179.2L559.6 180.8ZM559.6 219L574.5 218.1V214.9L559.6 215.4Z" fill-opacity=".90"/><path d="M425.8 213.7L440.6 215.5V182.9L425.8 180.3ZM440.6 215.5L455.5 212.6V178.3L440.6 182.9ZM455.5 212.6L470.4 213V181.4L455.5 178.3ZM470.4 213L485.3 210.7V179L470.4 181.4ZM485.3 210.7L500.1 211.8V178.1L485.3 179ZM500.1 211.8L515 211.8V179L500.1 178.1ZM515 211.8L529.9 212.5V177.9L515 179ZM529.9 212.5L544.8 214.2V182.5L529.9 177.9ZM544.8 214.2L559.6 215.4V181.7L544.8 182.5ZM559.6 215.4L574.5 214.9V180.3L559.6 181.7Z" fill-opacity=".95"/></g><g transform="translate(425.77 0) scale(14.875 1)"><path vector-effect="non-scaling-stroke" d="M0 182.2 1 186.9 2 181 3 186 4 184 5 181.7 6 183.1 7 181.5 8 187.2 9 185.8 10 183.5M0 211.2 1 213.4 2 211.4 3 213.6 4 209.4 5 211 6 207.5 7 204.2 8 207.5 9 208.6 10 203.5M0 213.9 1 217.5 2 209.7 3 209.7 4 208.4 5 210.6 6 211.5 7 211.4 8 217.7 9 222.5 10 221.7M0 225.5 1 231.8 2 227 3 227.9 4 225.1 5 227.2 6 227.9 7 233.6 8 236 9 236.5 10 239.1M0 221.7 1 221.8 2 219.2 3 216.5 4 208.1 5 212.1 6 209.7 7 208.8 8 209.4 9 208 10 204.4M0 218.4 1 215.9 2 212.8 3 209.8 4 209.3 5 209.8 6 209.6 7 210 8 210.1 9 207.2 10 208M0 228.8 1 230.8 2 231.3 3 232 4 231 5 231.6 6 233.8 7 228.9 8 230.9 9 229.1 10 225.3M0 220.2 1 215.4 2 212.2 3 217.9 4 218 5 223 6 223 7 219.4 8 217.8 9 220.6 10 222.5M0 241.6 1 241.6 2 244.3 3 250.3 4 249.2 5 254.5 6 252.9 7 250.6 8 244.9 9 247.7 10 246.4M0 178.4 1 180.3 2 176.7 3 181.3 4 178.1 5 176.8 6 177.9 7 176.9 8 181 9 179.4 10 178.3M0 245.3 1 239.5 2 235.4 3 238.2 4 237.6 5 235.7 6 236.5 7 231.1 8 231.3 9 233.3 10 234.7M0 181 1 183.4 2 179.7 3 185 4 182.4 5 180.8 6 182 7 181.3 8 186.9 9 185.2 10 181.9M0 236.5 1 239.4 2 238 3 244.5 4 243.6 5 245.4 6 240 7 238.6 8 237.4 9 237.8 10 238.3M0 248.8 1 250.2 2 245.4 3 247 4 247.9 5 247.3 6 252.5 7 252.7 8 253.7 9 251.3 10 246.5M0 176.9 1 180.1 2 177.2 3 181.6 4 178 5 177.8 6 179.1 7 179 8 183 9 182.6 10 180.9M0 214.3 1 219.1 2 215.8 3 215.6 4 215.2 5 217.4 6 216.5 7 217.1 8 217.2 9 220.1 10 221.9M0 171.1 1 166.6 2 167.5 3 168.9 4 164.3 5 166.3 6 165.9 7 165.1 8 168.4 9 169.6 10 170.1M0 213.2 1 215 2 211.9 3 214.2 4 210.5 5 207.8 6 203.8 7 203.8 8 209.9 9 213.3 10 210.9M0 212.9 1 216.5 2 215.3 3 214.8 4 213.4 5 211.3 6 210.9 7 214.6 8 227.1 9 229.7 10 229.4M0 253.8 1 255.4 2 251 3 255.2 4 257.9 5 256.2 6 254.5 7 250.9 8 247.4 9 248.8 10 250.2M0 225.5 1 222.9 2 220.3 3 224.6 4 226.4 5 225.8 6 224.7 7 228.9 8 234.8 9 231.4 10 229.8M0 242.4 1 242.6 2 247.5 3 248.7 4 247.5 5 246.7 6 249.6 7 251.5 8 248.9 9 249.7 10 245.9M0 245.4 1 243.6 2 243.4 3 245.7 4 244 5 241.2 6 243.3 7 237.8 8 233.3 9 235.9 10 237.2M0 241.4 1 243.9 2 240.1 3 238.2 4 232.9 5 230.2 6 232.4 7 233.9 8 231.7 9 229.5 10 227.5M0 231.7 1 229.6 2 228.4 3 231.1 4 226.1 5 224.6 6 226.7 7 226 8 225.7 9 227.8 10 227.8M0 234.5 1 235.5 2 229.7 3 227.2 4 228.1 5 224.3 6 227 7 228.2 8 228.9 9 231 10 231.8M0 210.5 1 217.2 2 216.9 3 214.6 4 211.3 5 210.3 6 210.2 7 211.4 8 219.2 9 215.4 10 217.5M0 178.5 1 180.1 2 175.7 3 179.4 4 175.7 5 175.9 6 174.9 7 173.8 8 176.5 9 175.4 10 174.1M0 222.2 1 229.2 2 221.3 3 221 4 222 5 219.3 6 218.5 7 224.9 8 229.9 9 228.3 10 231.6M0 213.3 1 212.7 2 208.1 3 210.5 4 208.4 5 214.7 6 213.6 7 207.6 8 208.5 9 210.4 10 210.8M0 205.2 1 209 2 204.9 3 202.1 4 203.2 5 197.4 6 198 7 200.1 8 201.2 9 204.6 10 203.6M0 233.1 1 231.4 2 227.2 3 229.2 4 229.2 5 229.9 6 227.8 7 230.1 8 226.6 9 226.6 10 225.4M0 174.1 1 171.3 2 169.8 3 169.4 4 166.1 5 167.4 6 165.5 7 164.3 8 166.8 9 166.9 10 167.5M0 244.4 1 247.1 2 244.1 3 247.4 4 250.3 5 249.4 6 253.4 7 258.3 8 259.7 9 257.2 10 260.1M0 229.2 1 233.4 2 233.5 3 237.1 4 237.6 5 235.9 6 235.4 7 238.3 8 238 9 246.3 10 245.4M0 228.8 1 229.6 2 228.6 3 231.1 4 231.8 5 231.7 6 232.9 7 235.6 8 238.6 9 231.1 10 228.4M0 240.7 1 243.5 2 241.6 3 241.8 4 245.9 5 244.6 6 245.4 7 250 8 251.4 9 246.3 10 247.1M0 236.4 1 236.9 2 237.5 3 238.9 4 238 5 239.5 6 240.1 7 239.5 8 239.1 9 239.7 10 237M0 178.8 1 180.7 2 176.8 3 179.4 4 176.8 5 177.1 6 176.9 7 176.5 8 179.9 9 181 10 180.5M0 177.3 1 179.2 2 175.7 3 180 4 178 5 177.9 6 178.2 7 176.4 8 181.6 9 179.3 10 178.7M0 211 1 211.1 2 206 3 203.4 4 204.5 5 205.6 6 210.6 7 210.8 8 206.2 9 209.8 10 208.2M0 245.4 1 246.4 2 242.9 3 244.5 4 241.9 5 245.8 6 248.5 7 248.9 8 251 9 252.8 10 251.9M0 232.4 1 234 2 233.2 3 231.3 4 228.6 5 227.8 6 229.9 7 228.3 8 230.7 9 235.5 10 236.1M0 178.8 1 179.4 2 175.4 3 177.3 4 174.9 5 175.3 6 175.8 7 174.9 8 178.5 9 177.4 10 176.9M0 178.6 1 181 2 177.1 3 180.1 4 177.8 5 177.9 6 178.1 7 176.8 8 182.9 9 182 10 181.4M0 227 1 227.9 2 225.5 3 230.1 4 229.3 5 232.4 6 235.6 7 233.3 8 238.9 9 241.4 10 243.7M0 236.5 1 243.8 2 243.9 3 243.5 4 243.1 5 246.2 6 249.4 7 251.3 8 255 9 259.1 10 255.8M0 222.5 1 225.8 2 220.6 3 220.2 4 221.2 5 220.7 6 220.4 7 221.9 8 218.5 9 221.7 10 222.2M0 174 1 172.7 2 171.2 3 172.1 4 167.4 5 168.1 6 167.6 7 167.8 8 168.8 9 168.9 10 168.3M0 179.4 1 182.4 2 178.6 3 182.1 4 178.9 5 178.4 6 179.5 7 178.7 8 184.9 9 182.5 10 182.8M0 251.7 1 255.9 2 252.7 3 253.4 4 249.8 5 251.6 6 251.9 7 252.7 8 256.7 9 258.2 10 259.4M0 176.4 1 178.1 2 174.1 3 175.8 4 172.7 5 173.9 6 173.8 7 172.8 8 176.8 9 176.1 10 177.3M0 177.7 1 179.7 2 175.9 3 179.1 4 174.4 5 174.1 6 172.4 7 172.6 8 175.6 9 176 10 174.9M0 236.4 1 233.7 2 229.7 3 227.4 4 221.6 5 222.8 6 224.3 7 221.3 8 221.2 9 222.3 10 221.3M0 206.9 1 208.3 2 210.6 3 215.9 4 212.5 5 213.3 6 216.7 7 215.1 8 217.8 9 219.1 10 216.8M0 213.7 1 221.5 2 223.1 3 226.8 4 226 5 229.7 6 233.2 7 236.5 8 239.9 9 238.1 10 239M0 228 1 232.2 2 226.3 3 231.4 4 234.2 5 233.8 6 232.5 7 232.7 8 236.4 9 236 10 232.8M0 174.5 1 173.4 2 171.3 3 171.9 4 168.1 5 169.5 6 169.4 7 169.2 8 172.3 9 170.7 10 169.6M0 230.3 1 235.3 2 234.3 3 234.4 4 230.9 5 234.1 6 234.8 7 235.1 8 236.3 9 241.4 10 240.7M0 209.3 1 210.8 2 205.4 3 205.1 4 199.8 5 202.6 6 202.6 7 205 8 209.2 9 202.4 10 202.5M0 217.6 1 222.8 2 215.6 3 216.5 4 214.1 5 209.9 6 211.6 7 212.5 8 212.8 9 212.1 10 220.1M0 248.9 1 248.8 2 247.3 3 244.5 4 245.2 5 244.2 6 240.4 7 238.4 8 238.2 9 241.1 10 242.1M0 204.5 1 204.8 2 202.8 3 205.3 4 199.8 5 201.8 6 202.2 7 201.7 8 205.3 9 209.4 10 211.8M0 182.1 1 185.5 2 179.4 3 182.7 4 179.8 5 178.7 6 178.9 7 176.8 8 181.4 9 180.5 10 179.3M0 251.1 1 256.5 2 260.2 3 257.2 4 254.2 5 258.6 6 256.6 7 256.6 8 259.4 9 256.7 10 258.8M0 173.6 1 172.9 2 170.7 3 170.5 4 168.6 5 170.4 6 170.1 7 170.6 8 174.9 9 174.4 10 174.2M0 209.1 1 208.5 2 209.7 3 213.7 4 206.7 5 204.2 6 205.2 7 202.7 8 204.1 9 204.3 10 205.1M0 253.3 1 253.7 2 247.9 3 249.4 4 250.8 5 250.4 6 249.5 7 250.9 8 254.5 9 255.1 10 256.4M0 171.3 1 169 2 168.9 3 168.4 4 164.6 5 166.3 6 166.2 7 165.5 8 168.4 9 169 10 170.2M0 245.8 1 246.9 2 244.2 3 248.9 4 244.1 5 239.3 6 238.6 7 239 8 240.1 9 242.7 10 247.9M0 245.1 1 248.4 2 246.4 3 249.7 4 249.2 5 253.8 6 254.7 7 251.9 8 250.6 9 246.8 10 242.1M0 217.3 1 218.3 2 212.6 3 215.7 4 214.6 5 214 6 215.9 7 218.1 8 214.6 9 217.7 10 217.6M0 182.4 1 186.4 2 179.6 3 181.4 4 180.2 5 179.6 6 179.9 7 179.8 8 185.4 9 186.2 10 182.6M0 230.5 1 232.4 2 229.2 3 228.4 4 228.5 5 227.3 6 230.7 7 229.8 8 228.6 9 232.8 10 232.1M0 172.7 1 172.3 2 170.3 3 172.4 4 171.2 5 171.8 6 171 7 170.4 8 174.8 9 173.5 10 174.5M0 229.7 1 229.4 2 228.8 3 231 4 224.5 5 222.1 6 221 7 219.9 8 222.2 9 218.2 10 219.6M0 228.3 1 228.3 2 227.6 3 227.6 4 228.1 5 227.6 6 231.7 7 225.7 8 224.2 9 226.5 10 222.1M0 207.2 1 207.9 2 205.1 3 205.3 4 201.5 5 208.9 6 208.9 7 207 8 211.4 9 214.8 10 217.5M0 210 1 211.8 2 209.4 3 201.6 4 197.1 5 203.6 6 198.5 7 197.9 8 200.9 9 203.9 10 207.6M0 226.6 1 227.9 2 230.8 3 234.7 4 234.9 5 228.2 6 227.8 7 229.4 8 229.7 9 230.3 10 238.1M0 211.7 1 212.6 2 209.4 3 212 4 210.3 5 208.1 6 207.6 7 209.7 8 210.3 9 214.6 10 216.1M0 204 1 205.8 2 205 3 203.6 4 196.6 5 199.7 6 200.3 7 202.6 8 204.6 9 206.9 10 204.9M0 218.9 1 221.2 2 218.3 3 215.2 4 214 5 217.3 6 213.1 7 215.3 8 218.3 9 220.5 10 217M0 213 1 211.7 2 212.4 3 216 4 211.9 5 219.2 6 216.4 7 217.9 8 222.6 9 217.6 10 219.8M0 242 1 240.2 2 235.8 3 234.8 4 229.9 5 235.1 6 231.3 7 229.6 8 229.9 9 230.7 10 232.5M0 175.9 1 175.1 2 172.4 3 174.3 4 173.4 5 172.1 6 171 7 170.2 8 173.1 9 173.2 10 173.8M0 247 1 247.2 2 247.4 3 246.2 4 245.4 5 240 6 239.4 7 239.4 8 236.9 9 233 10 233.8M0 172.3 1 170.6 2 170.9 3 171.9 4 169.1 5 169.9 6 169.6 7 169.5 8 171.7 9 170.2 10 169.9M0 177.3 1 177.7 2 174.7 3 176.6 4 171.6 5 172.3 6 172.3 7 171.9 8 175.5 9 174.8 10 175.3M0 238.4 1 240 2 241.5 3 246.2 4 246.5 5 245.3 6 242 7 240.1 8 241 9 236.1 10 236M0 214.3 1 214 2 209.8 3 205.4 4 203 5 208.8 6 209.1 7 210.9 8 210.1 9 215.1 10 212.5M0 206.4 1 208.3 2 205.7 3 207.4 4 204.7 5 204.9 6 206.2 7 205.8 8 208 9 207.6 10 203M0 177 1 179.3 2 175.7 3 180.1 4 178.6 5 178.2 6 181.1 7 181.4 8 186.6 9 185.5 10 183.6M0 217.1 1 223.2 2 222.4 3 221.7 4 223.2 5 224.5 6 226.3 7 227.5 8 225.9 9 229.4 10 229.4M0 178 1 179.3 2 175.3 3 177.4 4 176.3 5 175.5 6 175 7 173.5 8 175.7 9 174.8 10 173.8M0 176.3 1 175.7 2 172.1 3 172.6 4 170.4 5 170.6 6 169.7 7 168.9 8 171.7 9 170.1 10 170M0 215.8 1 216.4 2 212.5 3 211.3 4 209.8 5 213.9 6 219.1 7 223.1 8 227.2 9 231 10 234.2M0 178.3 1 180.2 2 176.7 3 179.6 4 178.3 5 177.2 6 177.9 7 176.8 8 180.9 9 179.5 10 178.9M0 205.9 1 209.1 2 210 3 209.2 4 211.3 5 217.7 6 220.3 7 227.5 8 230.4 9 229.3 10 230.3M0 174.2 1 173.8 2 172.1 3 173.9 4 170.9 5 172 6 172 7 172.4 8 177.4 9 177.5 10 176.5M0 205.2 1 206.9 2 200 3 200.6 4 198.4 5 199.1 6 203.6 7 205.4 8 210.5 9 210.8 10 206.6M0 181.2 1 185 2 179.9 3 183.6 4 181.7 5 181.2 6 182.5 7 180.9 8 185.7 9 185.8 10 183.8M0 218.2 1 218.4 2 212.8 3 208.4 4 210.9 5 212.9 6 213.7 7 220.3 8 221.5 9 224.1 10 223.7M0 182.2 1 185.6 2 179.3 3 184.5 4 182.5 5 181.2 6 182.8 7 181.8 8 186.4 9 186.2 10 184.2M0 233.6 1 232.4 2 229.6 3 229.9 4 228.6 5 229.1 6 235.2 7 236.9 8 234.6 9 233.7 10 231.8M0 250.9 1 252 2 250 3 249.5 4 248.3 5 252.7 6 254.1 7 257.4 8 249.3 9 250.6 10 253.4M0 231.3 1 234.3 2 230.7 3 226.2 4 222.7 5 226.7 6 230.2 7 232.7 8 231 9 238.5 10 235.2M0 210.9 1 215.2 2 212.7 3 213 4 211.2 5 207.2 6 210 7 213.4 8 214.2 9 215.4 10 215.8M0 174 1 174.5 2 172.9 3 174.3 4 171.6 5 172.3 6 171.3 7 170.3 8 173.2 9 172.2 10 172M0 247.7 1 245.3 2 246.3 3 246.6 4 249.2 5 249.7 6 247.2 7 250.5 8 251.6 9 252.3 10 252.5M0 269.5 1 269.5 2 269.5 3 269.5 4 269.5 5 269.5 6 269.5 7 269.5 8 269.5 9 269.5 10 269.5M0 263 1 263 2 263 3 263 4 263 5 263 6 263 7 263 8 263 9 263 10 263M0 261.2 1 261.8 2 260.6 3 262.4 4 261.2 5 261.8 6 260.6 7 261.2 8 261.8 9 261.2 10 260.6" fill="none" stroke="#1c2545" stroke-width="0.6" stroke-opacity="0.3"/></g><g clip-path="url(#c7)" class="b0"><path d="M425.8 176.4V195.9M425.8 208.4V228.6" class="wh"/><rect x="420.2" y="195.9" width="11.2" height="12.5" class="bx"/><path d="M420.2 202.5H431.4" class="md"/><path d="M440.6 177.6V197.1M440.6 209.6V228.6" class="wh"/><rect x="435.1" y="197.1" width="11.2" height="12.5" class="bx"/><path d="M435.1 203.1H446.2" class="md"/><path d="M455.5 176.4V195.4M455.5 207.8V227.4" class="wh"/><rect x="449.9" y="195.4" width="11.2" height="12.5" class="bx"/><path d="M449.9 202.5H461.1" class="md"/><path d="M470.4 175.2V194.2M470.4 206.6V225" class="wh"/><rect x="464.8" y="194.2" width="11.2" height="12.5" class="bx"/><path d="M464.8 199.5H476" class="md"/><path d="M485.3 173.4V191.8M485.3 204.3V222.6" class="wh"/><rect x="479.7" y="191.8" width="11.2" height="12.5" class="bx"/><path d="M479.7 197.1H490.9" class="md"/><path d="M500.1 174V192.4M500.1 205.4V223.8" class="wh"/><rect x="494.6" y="192.4" width="11.2" height="13.1" class="bx"/><path d="M494.6 198.3H505.7" class="md"/><path d="M515 173.4V191.8M515 204.8V223.2" class="wh"/><rect x="509.4" y="191.8" width="11.2" height="13.1" class="bx"/><path d="M509.4 197.1H520.6" class="md"/><path d="M529.9 174.6V193.6M529.9 206.6V225" class="wh"/><rect x="524.3" y="193.6" width="11.2" height="13.1" class="bx"/><path d="M524.3 200.1H535.5" class="md"/><path d="M544.8 176.4V195.4M544.8 207.8V226.8" class="wh"/><rect x="539.2" y="195.4" width="11.2" height="12.5" class="bx"/><path d="M539.2 200.7H550.4" class="md"/><path d="M559.6 177.6V195.9M559.6 209V228" class="wh"/><rect x="554.1" y="195.9" width="11.2" height="13.1" class="bx"/><path d="M554.1 201.9H565.2" class="md"/><path d="M574.5 177.6V195.9M574.5 209V228" class="wh"/><rect x="568.9" y="195.9" width="11.2" height="13.1" class="bx"/><path d="M568.9 202.5H580.1" class="md"/><path d="M425.8 229.8V263" class="ob"/><path d="M425.8 168.7V173.4" class="ob"/><circle cx="425.8" cy="269.5" r="1.6"/><path d="M440.6 229.8V263.6" class="ob"/><path d="M440.6 164.5V175.8" class="ob"/><circle cx="440.6" cy="269.5" r="1.6"/><path d="M455.5 229.2V263" class="ob"/><path d="M455.5 165.7V174.6" class="ob"/><circle cx="455.5" cy="269.5" r="1.6"/><path d="M470.4 227.4V263" class="ob"/><path d="M470.4 165.1V172.8" class="ob"/><circle cx="470.4" cy="269.5" r="1.6"/><path d="M485.3 223.8V263" class="ob"/><path d="M485.3 161.5V167.5" class="ob"/><circle cx="485.3" cy="269.5" r="1.6"/><path d="M500.1 225V263" class="ob"/><path d="M500.1 164.5V167.5" class="ob"/><circle cx="500.1" cy="269.5" r="1.6"/><path d="M515 226.2V263" class="ob"/><path d="M515 162.7V168.1" class="ob"/><circle cx="515" cy="269.5" r="1.6"/><path d="M529.9 227.4V263" class="ob"/><path d="M529.9 162.7V168.7" class="ob"/><circle cx="529.9" cy="269.5" r="1.6"/><path d="M544.8 229.2V263" class="ob"/><path d="M544.8 164.5V172.8" class="ob"/><circle cx="544.8" cy="269.5" r="1.6"/><path d="M559.6 229.8V263" class="ob"/><path d="M559.6 164.5V175.8" class="ob"/><circle cx="559.6" cy="269.5" r="1.6"/><path d="M574.5 229.8V263" class="ob"/><path d="M574.5 165.7V175.2" class="ob"/><circle cx="574.5" cy="269.5" r="1.6"/></g><path d="M413.8 271.3H416.8" class="tk"/><text x="411.5" y="276.2" class="yl">-5</text><path d="M413.8 241.6H416.8" class="tk"/><text x="411.5" y="246.5" class="yl">0</text><path d="M413.8 212H416.8" class="tk"/><text x="411.5" y="216.9" class="yl">5</text><path d="M413.8 182.3H416.8" class="tk"/><text x="411.5" y="187.2" class="yl">10</text>
<rect x="607.1" y="139.7" width="166.6" height="16.5" fill="#d3d3d3" stroke="#9a9a9a" stroke-width="1"/><text x="690.4" y="152" class="st">Cluster 8</text><rect x="607.1" y="156.5" width="166.6" height="118.6" fill="#f3f3f3" stroke="#a8a8a8" stroke-width="0.9"/><rect x="609" y="156.5" width="14.4" height="118.6" fill="#a4a6b6"/><rect x="623.4" y="156.5" width="29.8" height="118.6" fill="#a3cd9f"/><rect x="653.2" y="156.5" width="29.8" height="118.6" fill="#f6cda3"/><rect x="682.9" y="156.5" width="59.5" height="118.6" fill="#eeb3a5"/><rect x="742.4" y="156.5" width="14.9" height="118.6" fill="#deb1d2"/><rect x="757.3" y="156.5" width="14.1" height="118.6" fill="#b09dd1"/><g stroke="#000" stroke-width="0.8"><path d="M607.1 270.1H773.7" stroke-opacity="0.025"/><path d="M607.1 253H773.7" stroke-opacity="0.045"/><path d="M607.1 235.9H773.7" stroke-opacity="0.025"/><path d="M607.1 218.9H773.7" stroke-opacity="0.045"/><path d="M607.1 201.9H773.7" stroke-opacity="0.025"/><path d="M607.1 184.8H773.7" stroke-opacity="0.045"/><path d="M607.1 167.8H773.7" stroke-opacity="0.025"/><path d="M616 156.5V275.1" stroke-opacity=".04"/><path d="M630.9 156.5V275.1" stroke-opacity=".04"/><path d="M645.7 156.5V275.1" stroke-opacity=".04"/><path d="M660.6 156.5V275.1" stroke-opacity=".04"/><path d="M675.5 156.5V275.1" stroke-opacity=".04"/><path d="M690.4 156.5V275.1" stroke-opacity=".04"/><path d="M705.2 156.5V275.1" stroke-opacity=".04"/><path d="M720.1 156.5V275.1" stroke-opacity=".04"/><path d="M735 156.5V275.1" stroke-opacity=".04"/><path d="M749.9 156.5V275.1" stroke-opacity=".04"/><path d="M764.7 156.5V275.1" stroke-opacity=".04"/></g><g fill="#1c2545" clip-path="url(#c8)"><path d="M616 173.7L630.9 170.1V161.6L616 163ZM616 268.7L630.9 268.7V248.8L616 242.7ZM630.9 170.1L645.7 175.7V165L630.9 161.6ZM630.9 268.7L645.7 268.7V248.4L630.9 248.8ZM645.7 175.7L660.6 178.4V173.9L645.7 165ZM645.7 268.7L660.6 268.7V253.2L645.7 248.4ZM660.6 178.4L675.5 183.9V175.9L660.6 173.9ZM660.6 268.7L675.5 266.6V256.6L660.6 253.2ZM675.5 183.9L690.4 179.7V178L675.5 175.9ZM675.5 266.6L690.4 268.7V256.6L675.5 256.6ZM690.4 179.7L705.2 181.8V178L690.4 178ZM690.4 268.7L705.2 268.7V258.4L690.4 256.6ZM705.2 181.8L720.1 181.2V171.2L705.2 178ZM705.2 268.7L720.1 268.7V250.2L705.2 258.4ZM720.1 181.2L735 178.5V171.2L720.1 171.2ZM720.1 268.7L735 268.7V252.9L720.1 250.2ZM735 178.5L749.9 173.7V162.3L735 171.2ZM735 268.7L749.9 268.7V244.5L735 252.9ZM749.9 173.7L764.7 174.3V167.8L749.9 162.3ZM749.9 268.7L764.7 268.7V249.1L749.9 244.5Z" fill-opacity=".20"/><path d="M616 242.7L630.9 248.8V244.1L616 238.5ZM630.9 248.8L645.7 248.4V243.8L630.9 244.1ZM645.7 248.4L660.6 253.2V248.6L645.7 243.8ZM660.6 253.2L675.5 256.6V252L660.6 248.6ZM675.5 256.6L690.4 256.6V252L675.5 252ZM690.4 256.6L705.2 258.4V253.6L690.4 252ZM705.2 258.4L720.1 250.2V246L705.2 253.6ZM720.1 250.2L735 252.9V248.1L720.1 246ZM735 252.9L749.9 244.5V240.1L735 248.1ZM749.9 244.5L764.7 249.1V244.5L749.9 240.1Z" fill-opacity=".40"/><path d="M616 175.1L630.9 171.8V170.1L616 173.7ZM630.9 171.8L645.7 177.1V175.7L630.9 170.1ZM645.7 177.1L660.6 179.9V178.4L645.7 175.7ZM660.6 179.9L675.5 185.3V183.9L660.6 178.4ZM675.5 185.3L690.4 181.3V179.7L675.5 183.9ZM690.4 181.3L705.2 183.3V181.8L690.4 179.7ZM705.2 183.3L720.1 182.6V181.2L705.2 181.8ZM720.1 182.6L735 179.9V178.5L720.1 181.2ZM735 179.9L749.9 175.1V173.7L735 178.5ZM749.9 175.1L764.7 175.8V174.3L749.9 173.7Z" fill-opacity=".45"/><path d="M616 238.5L630.9 244.1V239.3L616 234.3ZM630.9 244.1L645.7 243.8V239.2L630.9 239.3ZM645.7 243.8L660.6 248.6V244L645.7 239.2ZM660.6 248.6L675.5 252V247.4L660.6 244ZM675.5 252L690.4 252V247.4L675.5 247.4ZM690.4 252L705.2 253.6V248.8L690.4 247.4ZM705.2 253.6L720.1 246V241.8L705.2 248.8ZM720.1 246L735 248.1V243.4L720.1 241.8ZM735 248.1L749.9 240.1V235.7L735 243.4ZM749.9 240.1L764.7 244.5V239.9L749.9 235.7Z" fill-opacity=".50"/><path d="M616 176.5L630.9 173.4V171.8L616 175.1ZM630.9 173.4L645.7 178.6V177.1L630.9 171.8ZM645.7 178.6L660.6 181.4V179.9L645.7 177.1ZM660.6 181.4L675.5 186.8V185.3L660.6 179.9ZM675.5 186.8L690.4 183V181.3L675.5 185.3ZM690.4 183L705.2 184.9V183.3L690.4 181.3ZM705.2 184.9L720.1 184V182.6L705.2 183.3ZM720.1 184L735 181.3V179.9L720.1 182.6ZM735 181.3L749.9 176.5V175.1L735 179.9ZM749.9 176.5L764.7 177.4V175.8L749.9 175.1Z" fill-opacity=".55"/><path d="M616 234.3L630.9 239.3V234.5L616 230ZM630.9 239.3L645.7 239.2V234.6L630.9 234.5ZM645.7 239.2L660.6 244V239.4L645.7 234.6ZM660.6 244L675.5 247.4V242.8L660.6 239.4ZM675.5 247.4L690.4 247.4V242.8L675.5 242.8ZM690.4 247.4L705.2 248.8V244L690.4 242.8ZM705.2 248.8L720.1 241.8V237.5L705.2 244ZM720.1 241.8L735 243.4V238.6L720.1 237.5ZM735 243.4L749.9 235.7V231.3L735 238.6ZM749.9 235.7L764.7 239.9V235.3L749.9 231.3Z" fill-opacity=".60"/><path d="M616 177.9L630.9 175V173.4L616 176.5ZM630.9 175L645.7 180V178.6L630.9 173.4ZM645.7 180L660.6 183V181.4L645.7 178.6ZM660.6 183L675.5 188.2V186.8L660.6 181.4ZM675.5 188.2L690.4 184.6V183L675.5 186.8ZM690.4 184.6L705.2 186.4V184.9L690.4 183ZM705.2 186.4L720.1 185.4V184L705.2 184.9ZM720.1 185.4L735 182.7V181.3L720.1 184ZM735 182.7L749.9 177.9V176.5L735 181.3ZM749.9 177.9L764.7 178.9V177.4L749.9 176.5Z" fill-opacity=".65"/><path d="M616 179.4L630.9 176.7V175L616 177.9ZM616 230L630.9 234.5V229.7L616 225.8ZM630.9 176.7L645.7 181.4V180L630.9 175ZM630.9 234.5L645.7 234.6V230L630.9 229.7ZM645.7 181.4L660.6 184.5V183L645.7 180ZM645.7 234.6L660.6 239.4V234.8L645.7 230ZM660.6 184.5L675.5 189.6V188.2L660.6 183ZM660.6 239.4L675.5 242.8V238.2L660.6 234.8ZM675.5 189.6L690.4 186.2V184.6L675.5 188.2ZM675.5 242.8L690.4 242.8V238.2L675.5 238.2ZM690.4 186.2L705.2 187.9V186.4L690.4 184.6ZM690.4 242.8L705.2 244V239.2L690.4 238.2ZM705.2 187.9L720.1 186.9V185.4L705.2 186.4ZM705.2 244L720.1 237.5V233.3L705.2 239.2ZM720.1 186.9L735 184.1V182.7L720.1 185.4ZM720.1 237.5L735 238.6V233.8L720.1 233.3ZM735 184.1L749.9 179.4V177.9L735 182.7ZM735 238.6L749.9 231.3V226.9L735 233.8ZM749.9 179.4L764.7 180.4V178.9L749.9 177.9ZM749.9 231.3L764.7 235.3V230.7L749.9 226.9Z" fill-opacity=".75"/><path d="M616 180.8L630.9 178.3V176.7L616 179.4ZM616 225.8L630.9 229.7V224.9L616 221.6ZM630.9 178.3L645.7 182.8V181.4L630.9 176.7ZM630.9 229.7L645.7 230V225.4L630.9 224.9ZM645.7 182.8L660.6 186V184.5L645.7 181.4ZM645.7 230L660.6 234.8V230.2L645.7 225.4ZM660.6 186L675.5 191V189.6L660.6 184.5ZM660.6 234.8L675.5 238.2V233.6L660.6 230.2ZM675.5 191L690.4 187.9V186.2L675.5 189.6ZM675.5 238.2L690.4 238.2V233.6L675.5 233.6ZM690.4 187.9L705.2 189.4V187.9L690.4 186.2ZM690.4 238.2L705.2 239.2V234.4L690.4 233.6ZM705.2 189.4L720.1 188.3V186.9L705.2 187.9ZM705.2 239.2L720.1 233.3V229.1L705.2 234.4ZM720.1 188.3L735 185.6V184.1L720.1 186.9ZM720.1 233.3L735 233.8V229L720.1 229.1ZM735 185.6L749.9 180.8V179.4L735 184.1ZM735 233.8L749.9 226.9V222.4L735 229ZM749.9 180.8L764.7 181.9V180.4L749.9 179.4ZM749.9 226.9L764.7 230.7V226.1L749.9 222.4Z" fill-opacity=".85"/><path d="M616 221.6L630.9 224.9V178.3L616 180.8ZM630.9 224.9L645.7 225.4V182.8L630.9 178.3ZM645.7 225.4L660.6 230.2V186L645.7 182.8ZM660.6 230.2L675.5 233.6V191L660.6 186ZM675.5 233.6L690.4 233.6V187.9L675.5 191ZM690.4 233.6L705.2 234.4V189.4L690.4 187.9ZM705.2 234.4L720.1 229.1V188.3L705.2 189.4ZM720.1 229.1L735 229V185.6L720.1 188.3ZM735 229L749.9 222.4V180.8L735 185.6ZM749.9 222.4L764.7 226.1V181.9L749.9 180.8Z" fill-opacity=".90"/></g><g transform="translate(616 0) scale(14.875 1)"><path vector-effect="non-scaling-stroke" d="M0 227.3 1 229.4 2 230.2 3 238.3 4 241.4 5 241.8 6 244.8 7 240.9 8 241 9 236.9 10 236M0 214.3 1 218.8 2 222.8 3 226.6 4 228.7 5 229.3 6 227.4 7 218.2 8 217.2 9 210 10 214.1M0 229.7 1 231.5 2 233.6 3 239.6 4 243.4 5 245.5 6 240 7 233.4 8 232.8 9 227.5 10 227.1M0 171.8 1 170.1 2 174.8 3 180.2 4 184.1 5 184 6 185.4 7 182.3 8 181.3 9 174 10 177.5M0 173 1 169.9 2 174 3 180.7 4 184.3 5 182.4 6 183.9 7 179.5 8 178.1 9 171.3 10 174.9M0 220.3 1 227.6 2 225.1 3 231.5 4 235.2 5 237.7 6 239.3 7 237.1 8 237.2 9 234.6 10 238.3M0 182 1 179.2 2 184.3 3 186.7 4 193 5 189.9 6 191.3 7 192.4 8 187.8 9 183.9 10 184.1M0 226.5 1 229.3 2 232.4 3 239 4 243.6 5 245.1 6 245.4 7 238.3 8 239.8 9 237.4 10 239.1M0 235.4 1 238.7 2 235.1 3 237.9 4 239.6 5 241.2 6 240.4 7 235.1 8 233.1 9 227.4 10 231M0 232.4 1 235.5 2 239.7 3 237.8 4 239.9 5 241.1 6 244 7 237.9 8 238.8 9 236.3 10 237.9M0 255.4 1 254.5 2 259 3 260.6 4 258.3 5 259.1 6 257.4 7 256.6 8 260 9 258.2 10 261.4M0 178.3 1 174.8 2 177.9 3 183.9 4 189.4 5 187.3 6 188.1 7 186.7 8 184.3 9 178.3 10 179.9M0 174.5 1 170.8 2 175.1 3 181.2 4 184.4 5 183.3 6 185.3 7 181.8 8 181.1 9 175.9 10 177.5M0 252.6 1 253.7 2 251.2 3 250.9 4 249.9 5 251.3 6 251.9 7 251.5 8 252 9 249.7 10 252.1M0 213 1 215.8 2 212.4 3 220.1 4 225.6 5 225.6 6 225.9 7 220.3 8 219.2 9 208.8 10 217.8M0 182.3 1 180.8 2 182.8 3 186.6 4 191.8 5 189 6 190.6 7 191.3 8 188 9 182.8 10 183.3M0 232.3 1 234.3 2 235.3 3 239.2 4 241.6 5 242.1 6 241.4 7 236 8 237 9 231.7 10 232M0 169.6 1 167.7 2 172.1 3 178.7 4 183 5 184.2 6 185.2 7 183.4 8 182.2 9 177.6 10 179M0 172.6 1 172.1 2 175.7 3 180.9 4 184 5 182.2 6 182.7 7 178 8 177 9 169.6 10 173.6M0 254.7 1 256.8 2 257.4 3 256.6 4 255.9 5 256.5 6 254.8 7 252.5 8 251.6 9 247.4 10 250.7M0 235.5 1 238 2 238.9 3 240.1 4 240.7 5 239.5 6 240.6 7 237.8 8 240.1 9 234.1 10 237M0 167 1 166.8 2 172.3 3 178.5 4 182.3 5 183.1 6 182.4 7 177.7 8 176.9 9 169 10 173.5M0 256.6 1 255.6 2 259 3 256.6 4 254.9 5 256.7 6 258 7 258.4 8 259.1 9 263 10 262.3M0 233.6 1 234.9 2 233.6 3 235 4 236.7 5 233.8 6 235.3 7 226.5 8 230.9 9 228.9 10 234.5M0 223.1 1 227.6 2 226.2 3 233.1 4 234.5 5 234.7 6 232.3 7 225 8 225.9 9 217.6 10 220.4M0 226.2 1 230.5 2 232 3 232.6 4 233.3 5 234.8 6 233.6 7 226.6 8 227.7 9 220 10 224.8M0 220 1 218.1 2 220.1 3 225.4 4 227.8 5 230 6 227.6 7 225.1 8 223.5 9 219.9 10 223.5M0 212.3 1 218.7 2 217 3 223.6 4 229.2 5 228.3 6 227.5 7 218.8 8 220.2 9 214.1 10 216.3M0 167.3 1 166.4 2 171.9 3 178.5 4 181.9 5 181.2 6 180.3 7 174.8 8 173.5 9 164.3 10 169.7M0 220.7 1 223.2 2 223.3 3 226.9 4 232 5 234.2 6 234.3 7 225.8 8 225.7 9 214.7 10 217.3M0 248.7 1 251.8 2 246.5 3 247.4 4 251 5 253.4 6 251.1 7 244.6 8 246.3 9 242.4 10 242.9M0 245.2 1 243.5 2 244.2 3 245.1 4 247.4 5 247.7 6 250.1 7 246.2 8 244.7 9 235.6 10 235.5M0 251.7 1 253.6 2 254.7 3 254.7 4 254.7 5 252.8 6 252.5 7 251.8 8 255.2 9 252.5 10 253M0 223.6 1 227.5 2 230.1 3 232.8 4 233.3 5 234.1 6 235.6 7 232.4 8 232.4 9 224.6 10 226.9M0 222.1 1 228 2 225.4 3 229.9 4 232.2 5 234.9 6 236.1 7 230.1 8 231.7 9 225.6 10 227.8M0 216.3 1 221.8 2 222.5 3 225.2 4 230.5 5 230.3 6 232.5 7 226.7 8 225 9 215.1 10 220.9M0 180.4 1 178.7 2 183.6 3 187.4 4 191.7 5 188.2 6 190.2 7 191 8 188 9 182.9 10 183.8M0 257.8 1 259.9 2 258 3 257.4 4 257.3 5 258.5 6 258.3 7 257 8 257.4 9 253.1 10 252.6M0 179.3 1 176 2 179.6 3 183.9 4 188 5 185.5 6 185.6 7 183.5 8 181.1 9 175.2 10 177.9M0 234.8 1 237.6 2 234.6 3 240.1 4 241.9 5 242.6 6 243.9 7 243.8 8 243.8 9 238.7 10 245M0 220.1 1 224.1 2 225.6 3 230.7 4 233.7 5 232.2 6 231.6 7 226.6 8 226.7 9 223.8 10 225.5M0 227.6 1 232.3 2 236 3 239.3 4 242.6 5 239.1 6 239 7 230.7 8 231 9 224.7 10 226.3M0 246.2 1 244.2 2 244 3 251.1 4 250.2 5 252 6 251.3 7 250.3 8 251.1 9 247.6 10 245M0 222.5 1 224.6 2 220.6 3 226.8 4 231.2 5 229.9 6 230.1 7 224.6 8 223.2 9 216.5 10 220.1M0 237.2 1 240.3 2 239.4 3 243.7 4 247.1 5 248.2 6 245.8 7 240.6 8 242.4 9 237.4 10 237.9M0 239 1 239.1 2 238.7 3 241.5 4 243.2 5 239.7 6 240 7 232.5 8 235.4 9 233.8 10 240.4M0 220.7 1 225.5 2 223.8 3 227.5 4 232.1 5 235.3 6 236.1 7 235.8 8 241.6 9 233.9 10 236.5M0 215.6 1 221.6 2 224.3 3 229.7 4 233.2 5 233.3 6 234.4 7 230.2 8 230.1 9 225 10 225.3M0 180.8 1 177.1 2 181.8 3 187.3 4 192.8 5 188.7 6 190.2 7 188.3 8 185.1 9 180.1 10 182.9M0 222.9 1 224.6 2 226.2 3 226.8 4 227.2 5 226.3 6 227.8 7 220.4 8 218.9 9 210.7 10 214.4M0 224.7 1 226.5 2 228.9 3 235.9 4 239.2 5 242 6 241.5 7 239.2 8 239.7 9 232.4 10 235M0 178.5 1 176.5 2 180.8 3 185.6 4 190.4 5 186.8 6 187.8 7 185.3 8 183.5 9 179.1 10 180.8M0 243.6 1 249.6 2 246.5 3 249.8 4 248.3 5 249.5 6 248 7 244.8 8 244.4 9 239.3 10 242.7M0 230.2 1 232.8 2 238.4 3 237.1 4 238.3 5 235.1 6 235.4 7 229.6 8 237.7 9 233.5 10 240.4M0 238.5 1 241.1 2 241.8 3 245.8 4 244.3 5 243.4 6 244.6 7 242 8 239.9 9 234.3 10 236.7M0 182.3 1 181.1 2 186.8 3 188.5 4 195.4 5 190.6 6 192.7 7 192.9 8 189 9 185.9 10 185.9M0 235.2 1 239.8 2 239.2 3 237.2 4 242 5 240.4 6 240.9 7 233.6 8 231.1 9 223.6 10 229.1M0 246.5 1 248.3 2 248.8 3 252.3 4 251.4 5 252.2 6 253 7 250.6 8 248.8 9 249.8 10 250.2M0 177.2 1 173.1 2 177.5 3 183.2 4 187.4 5 184.3 6 185 7 182.9 8 181.4 9 174.1 10 177.9M0 183.9 1 180.1 2 185.4 3 188.4 4 193.1 5 188.9 6 191.8 7 191.2 8 187.5 9 183.9 10 184.2M0 216.4 1 219.4 2 216.7 3 222.3 4 224 5 223.5 6 224.4 7 219.2 8 220.9 9 217.8 10 224.8M0 240.4 1 240.9 2 241.1 3 247 4 248.9 5 249 6 248.2 7 244 8 245.1 9 245.9 10 245.1M0 249.3 1 251.9 2 248.7 3 248.6 4 251.5 5 253.2 6 254.5 7 251.1 8 250.1 9 248.1 10 248.5M0 181.9 1 178.4 2 182.3 3 186.3 4 191.3 5 188.1 6 189.4 7 187.6 8 186 9 182.8 10 182.7M0 183.7 1 180.2 2 185.6 3 187.5 4 191.7 5 189.1 6 190.6 7 190.4 8 187.5 9 183.3 10 184.7M0 257.8 1 260.5 2 259.2 3 257.1 4 260.8 5 264.5 6 265.3 7 262.4 8 261.1 9 260.4 10 258.7M0 174.8 1 173.6 2 178.6 3 183 4 187.4 5 185.7 6 186.8 7 184.1 8 180.9 9 175 10 178.3M0 240.8 1 241.4 2 241.7 3 243.9 4 246 5 247.2 6 246.2 7 242 8 244 9 242.5 10 246.6M0 177.9 1 176.7 2 181.1 3 186.1 4 191.5 5 188.6 6 191 7 190.1 8 187.7 9 183.9 10 184.6M0 222.2 1 222.3 2 221.7 3 226.1 4 229.5 5 228 6 229.3 7 226.3 8 225.9 9 218.4 10 221.4M0 220.5 1 222.2 2 222.2 3 227.7 4 231.6 5 229.8 6 229.3 7 224.2 8 224.7 9 212.1 10 216.6M0 216.7 1 222.3 2 220.1 3 222.8 4 226.6 5 230.6 6 230.4 7 221.6 8 222.5 9 215.3 10 223.3M0 241.8 1 244.5 2 247.2 3 246.4 4 246 5 246.5 6 248.5 7 246.3 8 245.3 9 238.8 10 243.1M0 179.2 1 177.9 2 183 3 186.6 4 192.1 5 189.1 6 191.2 7 191 8 188.2 9 183.5 10 184.1M0 221.9 1 225.1 2 225.6 3 231.5 4 233.2 5 235.3 6 239 7 236.7 8 235.6 9 226.1 10 228.3M0 251.6 1 256.3 2 254.8 3 258.5 4 259.5 5 258.5 6 259.2 7 256.5 8 254.3 9 247.3 10 245.3M0 219.6 1 222.3 2 222.1 3 223.9 4 225.2 5 225.5 6 226.8 7 218.1 8 217.8 9 211 10 219.6M0 183.9 1 180 2 187.1 3 188 4 193.5 5 190.5 6 192 7 191.2 8 187.1 9 181.6 10 182.6M0 171.1 1 169.7 2 173.6 3 179.2 4 182.3 5 180.9 6 180.1 7 175.4 8 175.2 9 168.8 10 173.7M0 237.5 1 241.5 2 240.9 3 243.2 4 246.3 5 248 6 249.3 7 248.2 8 245.9 9 242.6 10 243.1M0 175 1 173.9 2 177.1 3 182 4 186.7 5 185.7 6 187.1 7 184.8 8 183.2 9 177.3 10 180.3M0 225.3 1 229 2 226.4 3 225.8 4 228.7 5 227.9 6 230.5 7 223.4 8 226.4 9 223 10 229M0 214.2 1 220.3 2 221.3 3 225.9 4 227.1 5 227.9 6 229.5 7 220.5 8 220.6 9 214.4 10 218.3M0 233 1 236.6 2 239.1 3 245.2 4 243 5 243.4 6 245.3 7 244.2 8 247.7 9 241.8 10 243M0 212.6 1 212.2 2 213.7 3 221.2 4 224 5 223.2 6 224.3 7 219.1 8 219.6 9 212.1 10 215.4M0 222.3 1 228 2 224.4 3 231.7 4 234.5 5 236.7 6 237.6 7 234.5 8 237.6 9 231 10 234M0 240.4 1 241.8 2 240.1 3 242.8 4 241.6 5 244.7 6 246.1 7 246.5 8 244.5 9 237.5 10 240.5M0 215.8 1 220.1 2 220.7 3 229.8 4 234.3 5 231.8 6 234.5 7 226.2 8 226.2 9 216 10 218.1M0 217.2 1 220 2 223.9 3 226.3 4 227.9 5 228.6 6 226.6 7 219.1 8 221.4 9 213.5 10 216.6M0 245.2 1 249.7 2 252.1 3 252.6 4 251.5 5 253.8 6 250.7 7 246.9 8 246 9 239.4 10 239.3M0 255.5 1 254.8 2 255 3 253.5 4 255.5 5 256.2 6 255.9 7 253 8 251.4 9 245.9 10 250.2M0 181.9 1 178.9 2 183.4 3 187.1 4 191.7 5 189.2 6 190.6 7 190.9 8 187.5 9 182 10 182.5M0 212.5 1 213.6 2 214.2 3 221.1 4 224.7 5 223.9 6 225.8 7 219.2 8 217.4 9 211.3 10 213.7M0 264.8 1 265.6 2 266 3 264.5 4 262.3 5 261.3 6 261.6 7 261.4 8 259.8 9 255.8 10 255.5M0 176.3 1 175.4 2 182.4 3 185.4 4 189.2 5 187.5 6 189.4 7 188.1 8 184.7 9 179.2 10 179.8M0 225.7 1 231.4 2 233 3 238.8 4 240.1 5 242.3 6 240.8 7 237 8 231.2 9 222.2 10 227.3M0 257.9 1 259.8 2 259.6 3 261.3 4 260.7 5 264.8 6 265.1 7 261.2 8 260.4 9 262 10 263.6M0 218.1 1 217.8 2 216 3 223 4 226.8 5 226.9 6 231.3 7 224.6 8 224.8 9 215.9 10 218.4M0 240 1 242.1 2 242.5 3 246.5 4 248.7 5 247.2 6 249.8 7 244.5 8 244.7 9 246.8 10 248.5M0 241.6 1 244.3 2 242.3 3 243.1 4 245.1 5 242.7 6 241.6 7 238.5 8 236.9 9 229.2 10 229.5M0 268.7 1 268.7 2 268.7 3 268.7 4 268.7 5 268.7 6 268.7 7 268.7 8 268.7 9 268.7 10 268.7" fill="none" stroke="#1c2545" stroke-width="0.6" stroke-opacity="0.3"/></g><g clip-path="url(#c8)" class="b1"><path d="M616 163V192.3M616 216.9V253" class="wh"/><rect x="610.4" y="192.3" width="11.2" height="24.6" class="bx"/><path d="M610.4 201.2H621.6" class="md"/><path d="M630.9 161.6V191.6M630.9 219.6V259.8" class="wh"/><rect x="625.3" y="191.6" width="11.2" height="28" class="bx"/><path d="M625.3 201.9H636.5" class="md"/><path d="M645.7 165V194.3M645.7 220.3V257.1" class="wh"/><rect x="640.2" y="194.3" width="11.2" height="25.9" class="bx"/><path d="M640.2 203.2H651.3" class="md"/><path d="M660.6 173.9V198.4M660.6 225V263.2" class="wh"/><rect x="655" y="198.4" width="11.2" height="26.6" class="bx"/><path d="M655 208H666.2" class="md"/><path d="M675.5 175.9V202.5M675.5 228.4V266.6" class="wh"/><rect x="669.9" y="202.5" width="11.2" height="25.9" class="bx"/><path d="M669.9 211.4H681.1" class="md"/><path d="M690.4 178V201.2M690.4 228.4V268.7" class="wh"/><rect x="684.8" y="201.2" width="11.2" height="27.3" class="bx"/><path d="M684.8 211.4H696" class="md"/><path d="M705.2 178V201.9M705.2 229.1V268.7" class="wh"/><rect x="699.7" y="201.9" width="11.2" height="27.3" class="bx"/><path d="M699.7 211.4H710.8" class="md"/><path d="M720.1 171.2V199.8M720.1 224.4V258.5" class="wh"/><rect x="714.5" y="199.8" width="11.2" height="24.6" class="bx"/><path d="M714.5 208.7H725.7" class="md"/><path d="M735 171.2V197.1M735 223.7V259.8" class="wh"/><rect x="729.4" y="197.1" width="11.2" height="26.6" class="bx"/><path d="M729.4 205.9H740.6" class="md"/><path d="M749.9 162.3V192.3M749.9 217.5V253" class="wh"/><rect x="744.3" y="192.3" width="11.2" height="25.2" class="bx"/><path d="M744.3 201.2H755.5" class="md"/><path d="M764.7 167.8V194.3M764.7 220.9V257.1" class="wh"/><rect x="759.2" y="194.3" width="11.2" height="26.6" class="bx"/><path d="M759.2 203.9H770.3" class="md"/><path d="M616 253.7V268.7" class="ob"/><path d="M630.9 263.2V268.7" class="ob"/><path d="M645.7 259.8V268.7" class="ob"/><path d="M660.6 266.6V268.7" class="ob"/><circle cx="675.5" cy="269.4" r="1.6"/><path d="M720.1 261.9V268.7" class="ob"/><path d="M735 263.2V268.7" class="ob"/><path d="M749.9 254.4V268.7" class="ob"/><path d="M764.7 259.8V268.7" class="ob"/></g><path d="M604.1 253H607.1" class="tk"/><text x="601.8" y="257.9" class="yl">0</text><path d="M604.1 218.9H607.1" class="tk"/><text x="601.8" y="223.8" class="yl">5</text><path d="M604.1 184.8H607.1" class="tk"/><text x="601.8" y="189.7" class="yl">10</text>
<rect x="36.4" y="278.2" width="166.6" height="16.5" fill="#d3d3d3" stroke="#9a9a9a" stroke-width="1"/><text x="119.7" y="290.5" class="st">Cluster 9</text><rect x="36.4" y="295" width="166.6" height="118.6" fill="#f3f3f3" stroke="#a8a8a8" stroke-width="0.9"/><rect x="38.3" y="295" width="14.4" height="118.6" fill="#a4a6b6"/><rect x="52.8" y="295" width="29.8" height="118.6" fill="#a3cd9f"/><rect x="82.5" y="295" width="29.8" height="118.6" fill="#f6cda3"/><rect x="112.3" y="295" width="59.5" height="118.6" fill="#eeb3a5"/><rect x="171.8" y="295" width="14.9" height="118.6" fill="#deb1d2"/><rect x="186.6" y="295" width="14.1" height="118.6" fill="#b09dd1"/><g stroke="#000" stroke-width="0.8"><path d="M36.4 413.3H203" stroke-opacity="0.025"/><path d="M36.4 398H203" stroke-opacity="0.045"/><path d="M36.4 382.7H203" stroke-opacity="0.025"/><path d="M36.4 367.5H203" stroke-opacity="0.045"/><path d="M36.4 352.2H203" stroke-opacity="0.025"/><path d="M36.4 336.9H203" stroke-opacity="0.045"/><path d="M36.4 321.7H203" stroke-opacity="0.025"/><path d="M36.4 306.4H203" stroke-opacity="0.045"/><path d="M45.3 295V413.6" stroke-opacity=".04"/><path d="M60.2 295V413.6" stroke-opacity=".04"/><path d="M75.1 295V413.6" stroke-opacity=".04"/><path d="M90 295V413.6" stroke-opacity=".04"/><path d="M104.8 295V413.6" stroke-opacity=".04"/><path d="M119.7 295V413.6" stroke-opacity=".04"/><path d="M134.6 295V413.6" stroke-opacity=".04"/><path d="M149.4 295V413.6" stroke-opacity=".04"/><path d="M164.3 295V413.6" stroke-opacity=".04"/><path d="M179.2 295V413.6" stroke-opacity=".04"/><path d="M194.1 295V413.6" stroke-opacity=".04"/></g><g fill="#1c2545" clip-path="url(#c9)"><path d="M45.3 377.2L60.2 375.4V374.8L45.3 375.4ZM60.2 375.4L75.1 378.2V378.2L60.2 374.8ZM75.1 378.2L90 380V379.7L75.1 378.2ZM90 380L104.8 380.3V380.3L90 379.7ZM104.8 380.3L119.7 380.3V380.3L104.8 380.3ZM119.7 380.3L134.6 380.3V380.3L119.7 380.3ZM134.6 380.3L149.4 379.1V379.1L134.6 380.3ZM149.4 379.1L164.3 376.6V376.6L149.4 379.1ZM164.3 376.6L179.2 358.3V358.3L164.3 376.6ZM179.2 358.3L194.1 333.9V333.9L179.2 358.3Z" fill-opacity=".10"/><path d="M45.3 407.8L60.2 407.8V403.5L45.3 402.9ZM60.2 407.8L75.1 407.8V402.3L60.2 403.5ZM75.1 407.8L90 407.8V402.6L75.1 402.3ZM90 407.8L104.8 407.8V402.6L90 402.6ZM104.8 407.8L119.7 408.7V402.9L104.8 402.6ZM119.7 408.7L134.6 408.1V402.9L119.7 402.9ZM134.6 408.1L149.4 407.8V402.9L134.6 402.9ZM149.4 407.8L164.3 407.8V402.9L149.4 402.9ZM164.3 407.8L179.2 407.2V405.3L164.3 402.9ZM179.2 407.2L194.1 407.2V406.9L179.2 405.3Z" fill-opacity=".20"/><path d="M45.3 378.3L60.2 376.7V375.4L45.3 377.2ZM60.2 376.7L75.1 379.2V378.2L60.2 375.4ZM75.1 379.2L90 381V380L75.1 378.2ZM90 381L104.8 381.1V380.3L90 380ZM104.8 381.1L119.7 381.1V380.3L104.8 380.3ZM119.7 381.1L134.6 381.1V380.3L119.7 380.3ZM134.6 381.1L149.4 380V379.1L134.6 380.3ZM149.4 380L164.3 377.4V376.6L149.4 379.1ZM164.3 377.4L179.2 359.4V358.3L164.3 376.6ZM179.2 359.4L194.1 336.9V333.9L179.2 358.3Z" fill-opacity=".25"/><path d="M45.3 379.4L60.2 378V376.7L45.3 378.3ZM60.2 378L75.1 380.2V379.2L60.2 376.7ZM75.1 380.2L90 382V381L75.1 379.2ZM90 382L104.8 381.9V381.1L90 381ZM104.8 381.9L119.7 382V381.1L104.8 381.1ZM119.7 382L134.6 382V381.1L119.7 381.1ZM134.6 382L149.4 380.9V380L134.6 381.1ZM149.4 380.9L164.3 378.2V377.4L149.4 380ZM164.3 378.2L179.2 360.4V359.4L164.3 377.4ZM179.2 360.4L194.1 339.9V336.9L179.2 359.4Z" fill-opacity=".35"/><path d="M45.3 402.9L60.2 403.5V402.4L45.3 401.8ZM60.2 403.5L75.1 402.3V401.4L60.2 402.4ZM75.1 402.3L90 402.6V401.7L75.1 401.4ZM90 402.6L104.8 402.6V401.8L90 401.7ZM104.8 402.6L119.7 402.9V402L104.8 401.8ZM119.7 402.9L134.6 402.9V402L119.7 402ZM134.6 402.9L149.4 402.9V401.9L134.6 402ZM149.4 402.9L164.3 402.9V401.9L149.4 401.9ZM164.3 402.9L179.2 405.3V403.7L164.3 401.9ZM179.2 405.3L194.1 406.9V403.7L179.2 403.7Z" fill-opacity=".40"/><path d="M45.3 401.8L60.2 402.4V401.3L45.3 400.7ZM60.2 402.4L75.1 401.4V400.4L60.2 401.3ZM75.1 401.4L90 401.7V400.7L75.1 400.4ZM90 401.7L104.8 401.8V400.9L90 400.7ZM104.8 401.8L119.7 402V401.1L104.8 400.9ZM119.7 402L134.6 402V401.1L119.7 401.1ZM134.6 402L149.4 401.9V400.9L134.6 401.1ZM149.4 401.9L164.3 401.9V400.9L149.4 400.9ZM164.3 401.9L179.2 403.7V402L164.3 400.9ZM179.2 403.7L194.1 403.7V400.6L179.2 402Z" fill-opacity=".45"/><path d="M45.3 380.5L60.2 379.3V378L45.3 379.4ZM60.2 379.3L75.1 381.2V380.2L60.2 378ZM75.1 381.2L90 383V382L75.1 380.2ZM90 383L104.8 382.8V381.9L90 382ZM104.8 382.8L119.7 382.9V382L104.8 381.9ZM119.7 382.9L134.6 382.9V382L119.7 382ZM134.6 382.9L149.4 381.8V380.9L134.6 382ZM149.4 381.8L164.3 379V378.2L149.4 380.9ZM164.3 379L179.2 361.5V360.4L164.3 378.2ZM179.2 361.5L194.1 342.9V339.9L179.2 360.4Z" fill-opacity=".50"/><path d="M45.3 400.7L60.2 401.3V400.2L45.3 399.6ZM60.2 401.3L75.1 400.4V399.5L60.2 400.2ZM75.1 400.4L90 400.7V399.8L75.1 399.5ZM90 400.7L104.8 400.9V400.1L90 399.8ZM104.8 400.9L119.7 401.1V400.1L104.8 400.1ZM119.7 401.1L134.6 401.1V400.1L119.7 400.1ZM134.6 401.1L149.4 400.9V399.9L134.6 400.1ZM149.4 400.9L164.3 400.9V399.9L149.4 399.9ZM164.3 400.9L179.2 402V400.4L164.3 399.9ZM179.2 402L194.1 400.6V397.5L179.2 400.4Z" fill-opacity=".55"/><path d="M45.3 381.6L60.2 380.5V379.3L45.3 380.5ZM60.2 380.5L75.1 382.2V381.2L60.2 379.3ZM75.1 382.2L90 384V383L75.1 381.2ZM90 384L104.8 383.6V382.8L90 383ZM104.8 383.6L119.7 383.7V382.9L104.8 382.8ZM119.7 383.7L134.6 383.7V382.9L119.7 382.9ZM134.6 383.7L149.4 382.7V381.8L134.6 382.9ZM149.4 382.7L164.3 379.8V379L149.4 381.8ZM164.3 379.8L179.2 362.6V361.5L164.3 379ZM179.2 362.6L194.1 346V342.9L179.2 361.5Z" fill-opacity=".60"/><path d="M45.3 399.6L60.2 400.2V399.1L45.3 398.5ZM60.2 400.2L75.1 399.5V398.6L60.2 399.1ZM75.1 399.5L90 399.8V398.9L75.1 398.6ZM90 399.8L104.8 400.1V399.3L90 398.9ZM104.8 400.1L119.7 400.1V399.2L104.8 399.3ZM119.7 400.1L134.6 400.1V399.2L119.7 399.2ZM134.6 400.1L149.4 399.9V398.9L134.6 399.2ZM149.4 399.9L164.3 399.9V398.9L149.4 398.9ZM164.3 399.9L179.2 400.4V398.7L164.3 398.9ZM179.2 400.4L194.1 397.5V394.4L179.2 398.7Z" fill-opacity=".65"/><path d="M45.3 382.7L60.2 381.8V380.5L45.3 381.6ZM45.3 398.5L60.2 399.1V398L45.3 397.4ZM60.2 381.8L75.1 383.2V382.2L60.2 380.5ZM60.2 399.1L75.1 398.6V397.7L60.2 398ZM75.1 383.2L90 385V384L75.1 382.2ZM75.1 398.6L90 398.9V398L75.1 397.7ZM90 385L104.8 384.4V383.6L90 384ZM90 398.9L104.8 399.3V398.5L90 398ZM104.8 384.4L119.7 384.6V383.7L104.8 383.6ZM104.8 399.3L119.7 399.2V398.3L104.8 398.5ZM119.7 384.6L134.6 384.6V383.7L119.7 383.7ZM119.7 399.2L134.6 399.2V398.3L119.7 398.3ZM134.6 384.6L149.4 383.6V382.7L134.6 383.7ZM134.6 399.2L149.4 398.9V397.8L134.6 398.3ZM149.4 383.6L164.3 380.6V379.8L149.4 382.7ZM149.4 398.9L164.3 398.9V397.8L149.4 397.8ZM164.3 380.6L179.2 363.6V362.6L164.3 379.8ZM164.3 398.9L179.2 398.7V397.1L164.3 397.8ZM179.2 363.6L194.1 349V346L179.2 362.6ZM179.2 398.7L194.1 394.4V391.3L179.2 397.1Z" fill-opacity=".70"/><path d="M45.3 397.4L60.2 398V381.8L45.3 382.7ZM60.2 398L75.1 397.7V383.2L60.2 381.8ZM75.1 397.7L90 398V385L75.1 383.2ZM90 398L104.8 398.5V384.4L90 385ZM104.8 398.5L119.7 398.3V384.6L104.8 384.4ZM119.7 398.3L134.6 398.3V384.6L119.7 384.6ZM134.6 398.3L149.4 397.8V383.6L134.6 384.6ZM149.4 397.8L164.3 397.8V380.6L149.4 383.6ZM164.3 397.8L179.2 397.1V363.6L164.3 380.6ZM179.2 397.1L194.1 391.3V349L179.2 363.6Z" fill-opacity=".75"/></g><g transform="translate(45.32 0) scale(14.875 1)"><path vector-effect="non-scaling-stroke" d="M0 403.9 1 404 2 404.8 3 404.6 4 403.7 5 404.2 6 403.8 7 403.4 8 402.5 9 402.4 10 399.5M0 383 1 381.6 2 383.2 3 385.4 4 384.7 5 385.1 6 385 7 384.4 8 381.3 9 364.7 10 352M0 381.6 1 380.8 2 382.5 3 385 4 384.4 5 384.3 6 384.2 7 383.2 8 380.1 9 363.2 10 348.8M0 399.7 1 400.3 2 400 3 400.3 4 400.6 5 400.9 6 400.2 7 399.4 8 399.6 9 398.6 10 391.6M0 397.4 1 398.3 2 397.6 3 397.3 4 397.7 5 397.4 6 397 7 396.5 8 396.8 9 396.3 10 389.1M0 395.7 1 397.2 2 397.7 3 398.1 4 399 5 399.8 6 399.7 7 399.3 8 399.7 9 398.9 10 393.7M0 402.9 1 402.9 2 403.5 3 404.2 4 403.7 5 404.7 6 404.1 7 404.4 8 404.6 9 403.9 10 402.5M0 398.1 1 398.8 2 398 3 398.5 4 398.3 5 398.4 6 398.6 7 398.5 8 398.2 9 399 10 394M0 379.6 1 378.5 2 381 3 382.7 4 382.7 5 382.6 6 382.7 7 381.8 8 378.9 9 361.8 10 344.5M0 400.3 1 400.2 2 400.1 3 400.6 4 400.6 5 400.6 6 400.8 7 400.8 8 400.7 9 399.6 10 394.4M0 381.9 1 380.5 2 382.3 3 384.2 4 383.9 5 383.6 6 384.1 7 383.1 8 380 9 362.9 10 345M0 401.7 1 401.9 2 401.7 3 402 4 402 5 402.6 6 403.1 7 403.3 8 403.4 9 401.7 10 399.4M0 403 1 402.9 2 403.1 3 402.7 4 402.5 5 402.8 6 401.8 7 401.4 8 401.7 9 400.3 10 397.1M0 383.9 1 383.6 2 384.6 3 386.5 4 385.2 5 385.2 6 385.5 7 384.4 8 381.2 9 364.6 10 351.3M0 380 1 379.5 2 381.5 3 383.3 4 383.2 5 383.5 6 383.4 7 382.2 8 379.3 9 362.1 10 344.1M0 396.4 1 397 2 396.4 3 396.3 4 397.8 5 398.1 6 397.2 7 396.9 8 396.6 9 396.5 10 390.4M0 399.1 1 399.5 2 399.1 3 399.6 4 399.5 5 399.4 6 399.3 7 398.6 8 399 9 397.6 10 391.8M0 403.1 1 403.6 2 402.6 3 403 4 402.9 5 403.1 6 402.8 7 402.8 8 403.2 9 403.4 10 401.4M0 380.4 1 379.5 2 381.7 3 383.3 4 383 5 383.1 6 383.3 7 382.9 8 380 9 362.6 10 345.9M0 380.4 1 379.3 2 381.6 3 383.2 4 383 5 383.3 6 383.2 7 382.5 8 379.3 9 361.9 10 344.9M0 400.7 1 402 2 401.9 3 401.9 4 402.2 5 402.3 6 402.8 7 402.5 8 401.5 9 401.9 10 399.6M0 403.4 1 403.8 2 403.8 3 403.6 4 403.5 5 404.3 6 403.9 7 404.7 8 404.3 9 404 10 402.3M0 379.3 1 378.7 2 380.7 3 382.7 4 382.3 5 382.2 6 382.3 7 380.9 8 377.9 9 359.8 10 338M0 402.1 1 402.3 2 401.9 3 401.4 4 402.1 5 402.4 6 402.2 7 402.5 8 402.2 9 401.5 10 398.5M0 396.5 1 397.8 2 397.1 3 397.5 4 397.3 5 397 6 396.7 7 396.9 8 397.3 9 396.8 10 392.4M0 404.3 1 404.5 2 404.2 3 404 4 404 5 403.6 6 404.1 7 403.1 8 402.8 9 402.4 10 398.3M0 380.4 1 379.7 2 382.2 3 383.5 4 383.3 5 383.5 6 383.7 7 382.6 8 379.4 9 362.4 10 345.9M0 396 1 396.7 2 396.1 3 396.1 4 397 5 395.8 6 396.4 7 396 8 395.7 9 394.5 10 388M0 401.1 1 401.2 2 400.9 3 400.5 4 400.7 5 400.8 6 400.4 7 399.6 8 398.8 9 397.4 10 390.9M0 400.3 1 401.1 2 400.4 3 400.3 4 401 5 401.4 6 400.7 7 400.5 8 400.4 9 400.3 10 395.6M0 403.4 1 404.2 2 403.4 3 404.5 4 404.1 5 404.1 6 403.6 7 403.6 8 403.9 9 403.2 10 402M0 382.5 1 382.5 2 383.8 3 386 4 385.1 5 385.3 6 385.6 7 385 8 381.8 9 365.2 10 351.5M0 398.8 1 398.8 2 398.5 3 399.3 4 400.2 5 400.5 6 400.3 7 399.4 8 400.1 9 399.7 10 395M0 376 1 375.3 2 378.7 3 380.4 4 380.7 5 380.5 6 380.8 7 379.7 8 377.4 9 359.9 10 338.1M0 397 1 397.8 2 398 3 397.5 4 397.1 5 397.8 6 398 7 398.4 8 398.5 9 398.6 10 393.1M0 383.7 1 382.4 2 383.8 3 386.1 4 385.1 5 385 6 384.8 7 384.2 8 380.9 9 363.8 10 349.8M0 383.1 1 382.9 2 384.4 3 386 4 385 5 385 6 385.1 7 384.1 8 381.1 9 364.4 10 351.9M0 398 1 398.2 2 398.9 3 398.5 4 399.2 5 399.8 6 400.4 7 398.7 8 399.3 9 399.2 10 395.9M0 403.1 1 404.1 2 403.6 3 404.4 4 404.8 5 404.6 6 403.7 7 403 8 403.1 9 403 10 400.4M0 407.2 1 407 2 406.8 3 406.3 4 406.6 5 407.9 6 407.2 7 406.5 8 406.1 9 406.5 10 406.1M0 395.9 1 397.1 2 397.2 3 397.8 4 398.8 5 398.4 6 398.3 7 397.6 8 398 9 396.9 10 391.3M0 404.7 1 404.9 2 404.7 3 404.7 4 403.8 5 404.9 6 404.2 7 403.7 8 403.2 9 403.1 10 400M0 397.9 1 398.8 2 397.8 3 398.8 4 399.8 5 400.3 6 400.6 7 400.3 8 400 9 399.9 10 396.8M0 395.5 1 396.4 2 396.7 3 397.6 4 398.5 5 397.6 6 398.1 7 397.6 8 397 9 396.6 10 389.4M0 378.2 1 377.9 2 380.2 3 381.7 4 381.7 5 382 6 381.9 7 380.7 8 377.9 9 360 10 337.8M0 382.4 1 381.1 2 382.6 3 384.2 4 383.9 5 383.8 6 383.6 7 382.6 8 379.5 9 362 10 345.3M0 396.6 1 397.4 2 396.8 3 398.1 4 398.6 5 398.4 6 398.1 7 397.8 8 397.5 9 396.3 10 390M0 396.2 1 396.6 2 395.5 3 396.8 4 396.2 5 396.7 6 396 7 395.6 8 396.8 9 394.9 10 386.7M0 395.9 1 396.2 2 395.9 3 397 4 397.4 5 397.2 6 397.9 7 398.5 8 398.2 9 397.7 10 391.7M0 400.9 1 400.3 2 399.7 3 400 4 401 5 400.9 6 400.7 7 400.6 8 401 9 400.3 10 396.3M8 388.8 9 370.5 10 300.3M8 389.5 9 364.4 10 320.1M8 387.9 9 373.6 10 321.7M8 391.3 9 361.4 10 327.8M8 390.4 9 367.5 10 332.4" fill="none" stroke="#1c2545" stroke-width="0.6" stroke-opacity="0.3"/></g><g clip-path="url(#c9)" class="b1"><path d="M45.3 375.4V388.2M45.3 395.6V407.8" class="wh"/><rect x="39.7" y="388.2" width="11.2" height="7.3" class="bx"/><path d="M39.7 391.9H50.9" class="md"/><path d="M60.2 374.8V388.2M60.2 396.2V407.8" class="wh"/><rect x="54.6" y="388.2" width="11.2" height="7.9" class="bx"/><path d="M54.6 392.5H65.8" class="md"/><path d="M75.1 378.2V389.1M75.1 396.2V407.8" class="wh"/><rect x="69.5" y="389.1" width="11.2" height="7" class="bx"/><path d="M69.5 393.1H80.7" class="md"/><path d="M90 379.7V390.1M90 396.5V407.8" class="wh"/><rect x="84.4" y="390.1" width="11.2" height="6.4" class="bx"/><path d="M84.4 393.4H95.5" class="md"/><path d="M104.8 380.3V390.4M104.8 397.1V407.8" class="wh"/><rect x="99.2" y="390.4" width="11.2" height="6.7" class="bx"/><path d="M99.2 394.3H110.4" class="md"/><path d="M119.7 380.3V390.1M119.7 396.8V405" class="wh"/><rect x="114.1" y="390.1" width="11.2" height="6.7" class="bx"/><path d="M114.1 393.7H125.3" class="md"/><path d="M134.6 380.3V390.1M134.6 396.8V405" class="wh"/><rect x="129" y="390.1" width="11.2" height="6.7" class="bx"/><path d="M129 393.7H140.2" class="md"/><path d="M149.4 379.1V389.1M149.4 396.2V407.8" class="wh"/><rect x="143.9" y="389.1" width="11.2" height="7" class="bx"/><path d="M143.9 392.8H155" class="md"/><path d="M164.3 376.6V387.9M164.3 396.2V407.8" class="wh"/><rect x="158.7" y="387.9" width="11.2" height="8.2" class="bx"/><path d="M158.7 392.8H169.9" class="md"/><path d="M179.2 358.3V378.8M179.2 394.3V407.2" class="wh"/><rect x="173.6" y="378.8" width="11.2" height="15.6" class="bx"/><path d="M173.6 388.8H184.8" class="md"/><path d="M194.1 333.9V365M194.1 386.1V407.2" class="wh"/><rect x="188.5" y="365" width="11.2" height="21.1" class="bx"/><path d="M188.5 375.7H199.7" class="md"/><circle cx="45.3" cy="369" r="1.6"/><circle cx="45.3" cy="408.1" r="1.6"/><circle cx="60.2" cy="373.6" r="1.6"/><circle cx="60.2" cy="371.4" r="1.6"/><circle cx="75.1" cy="375.7" r="1.6"/><circle cx="75.1" cy="370.2" r="1.6"/><circle cx="75.1" cy="408.1" r="1.6"/><circle cx="90" cy="378.2" r="1.6"/><circle cx="90" cy="376.6" r="1.6"/><circle cx="90" cy="408.1" r="1.6"/><circle cx="104.8" cy="379.7" r="1.6"/><circle cx="104.8" cy="378.2" r="1.6"/><circle cx="104.8" cy="408.1" r="1.6"/><circle cx="119.7" cy="378.8" r="1.6"/><path d="M119.7 405.6V408.7" class="ob"/><circle cx="134.6" cy="378.8" r="1.6"/><path d="M134.6 405.6V408.1" class="ob"/><circle cx="149.4" cy="378.2" r="1.6"/><circle cx="149.4" cy="375.1" r="1.6"/><circle cx="149.4" cy="408.1" r="1.6"/><circle cx="164.3" cy="374.5" r="1.6"/><circle cx="164.3" cy="366.9" r="1.6"/><circle cx="194.1" cy="332.4" r="1.6"/><circle cx="194.1" cy="327.8" r="1.6"/><circle cx="194.1" cy="321.7" r="1.6"/><circle cx="194.1" cy="320.1" r="1.6"/><circle cx="194.1" cy="300.3" r="1.6"/></g><path d="M33.4 398H36.4" class="tk"/><text x="31.1" y="402.9" class="yl">0</text><path d="M33.4 367.5H36.4" class="tk"/><text x="31.1" y="372.4" class="yl">10</text><path d="M33.4 336.9H36.4" class="tk"/><text x="31.1" y="341.8" class="yl">20</text><path d="M33.4 306.4H36.4" class="tk"/><text x="31.1" y="311.3" class="yl">30</text>
<rect x="226.6" y="278.2" width="166.6" height="16.5" fill="#d3d3d3" stroke="#9a9a9a" stroke-width="1"/><text x="309.9" y="290.5" class="st">Cluster 10</text><rect x="226.6" y="295" width="166.6" height="118.6" fill="#f3f3f3" stroke="#a8a8a8" stroke-width="0.9"/><rect x="228.6" y="295" width="14.4" height="118.6" fill="#a4a6b6"/><rect x="243" y="295" width="29.8" height="118.6" fill="#a3cd9f"/><rect x="272.7" y="295" width="29.8" height="118.6" fill="#f6cda3"/><rect x="302.5" y="295" width="59.5" height="118.6" fill="#eeb3a5"/><rect x="362" y="295" width="14.9" height="118.6" fill="#deb1d2"/><rect x="376.9" y="295" width="14.1" height="118.6" fill="#b09dd1"/><g stroke="#000" stroke-width="0.8"><path d="M226.6 403.3H393.2" stroke-opacity="0.045"/><path d="M226.6 391.7H393.2" stroke-opacity="0.025"/><path d="M226.6 380.1H393.2" stroke-opacity="0.045"/><path d="M226.6 368.4H393.2" stroke-opacity="0.025"/><path d="M226.6 356.8H393.2" stroke-opacity="0.045"/><path d="M226.6 345.2H393.2" stroke-opacity="0.025"/><path d="M226.6 333.6H393.2" stroke-opacity="0.045"/><path d="M226.6 321.9H393.2" stroke-opacity="0.025"/><path d="M226.6 310.3H393.2" stroke-opacity="0.045"/><path d="M226.6 298.7H393.2" stroke-opacity="0.025"/><path d="M235.6 295V413.6" stroke-opacity=".04"/><path d="M250.4 295V413.6" stroke-opacity=".04"/><path d="M265.3 295V413.6" stroke-opacity=".04"/><path d="M280.2 295V413.6" stroke-opacity=".04"/><path d="M295.1 295V413.6" stroke-opacity=".04"/><path d="M309.9 295V413.6" stroke-opacity=".04"/><path d="M324.8 295V413.6" stroke-opacity=".04"/><path d="M339.7 295V413.6" stroke-opacity=".04"/><path d="M354.6 295V413.6" stroke-opacity=".04"/><path d="M369.4 295V413.6" stroke-opacity=".04"/><path d="M384.3 295V413.6" stroke-opacity=".04"/></g><g transform="translate(235.55 0) scale(14.875 1)"><path vector-effect="non-scaling-stroke" d="M0 352.8 1 314.5 2 351.2 3 369.5 4 364.6 5 368.8 6 363.8 7 364.2 8 362.7 9 356.9 10 351.2M0 399.7 1 364.4 2 382.3 3 393.9 4 395 5 396.1 6 396.9 7 403 8 401.4 9 400.5 10 401.9M0 376.9 1 337.8 2 364.2 3 378.6 4 371.1 5 377.1 6 377.9 7 379.1 8 379.6 9 371.7 10 363.5M0 388.5 1 358.5 2 378.5 3 392.2 4 392.3 5 395 6 397.4 7 395.9 8 399.5 9 397.1 10 396M0 392.9 1 369.7 2 388.2 3 398.4 4 397.7 5 397.9 6 400.2 7 393.5 8 390.3 9 387.8 10 379.6M0 371.3 1 341.3 2 366.2 3 372.9 4 366.2 5 365.8 6 367.4 7 365.4 8 361.1 9 356.4 10 351.3M0 357.6 1 319 2 350.3 3 364.2 4 358.2 5 363.6 6 360.6 7 359.7 8 359.8 9 355 10 351M0 376 1 348.7 2 370.8 3 385.3 4 383.6 5 385.1 6 386.8 7 387.1 8 387.5 9 386.1 10 377.6M0 366.9 1 335.1 2 365.5 3 378.6 4 380.7 5 381.3 6 381.2 7 382.6 8 384.6 9 382.4 10 369.7M0 380.7 1 350.9 2 368.8 3 381.4 4 379.7 5 383.4 6 386.5 7 378.4 8 378.6 9 372.9 10 366.6M0 361.3 1 335.6 2 362.6 3 377 4 372.5 5 373.4 6 376.4 7 379 8 384.6 9 376 10 377.8M0 383.2 1 344.9 2 369.3 3 381.2 4 381.9 5 381.6 6 381.6 7 382.7 8 379.7 9 374 10 372.9M0 381.9 1 348.6 2 375.1 3 385 4 382.5 5 379.2 6 380.6 7 379.2 8 382.9 9 377.8 10 373.1M0 370.3 1 339.6 2 365.7 3 380.4 4 381.4 5 381.9 6 380.7 7 379.4 8 377.2 9 365.8 10 366.6M0 385.2 1 355.1 2 378.4 3 387.3 4 384.9 5 386.1 6 385.6 7 382.1 8 382.9 9 377.5 10 370.2M0 369.5 1 332 2 360.1 3 371.4 4 372.1 5 378.1 6 378.2 7 383.9 8 382.9 9 374.5 10 368.9M0 379.9 1 344.4 2 367.9 3 379.9 4 373.5 5 371.7 6 368.5 7 366.8 8 366.4 9 360.9 10 356M0 360.1 1 336 2 364.3 3 376.6 4 378.3 5 379.3 6 380.8 7 379.9 8 378.2 9 366.2 10 359M0 388.2 1 356.6 2 375.4 3 383 4 390.7 5 389.6 6 395.6 7 391.1 8 390.2 9 385.9 10 377.8M0 370.6 1 341.9 2 366.1 3 378.2 4 378.1 5 378.7 6 381.3 7 378.9 8 380 9 375.4 10 371.8M0 391.3 1 364.2 2 376.6 3 386.4 4 381.9 5 380 6 381.9 7 380.9 8 377.9 9 362.6 10 362.3M0 400.8 1 375.7 2 391.2 3 402.7 4 401.5 5 402.9 6 406.1 7 405.7 8 405.3 9 403.7 10 400.2M0 373.4 1 343.4 2 368.6 3 387.8 4 389.4 5 386.7 6 384.5 7 379.8 8 380.1 9 378.5 10 371.2M0 360.9 1 334.5 2 366.1 3 379.6 4 378.3 5 381.4 6 382.2 7 383.9 8 387.3 9 389.5 10 386.1M0 382.7 1 354.8 2 388.4 3 391 4 394.9 5 394.9 6 398.7 7 396.2 8 401.1 9 400.1 10 399.2M0 362.9 1 336.6 2 365.2 3 379.4 4 372.2 5 379.1 6 378.7 7 380.1 8 379.5 9 371.9 10 365.4M0 372.5 1 340.7 2 367.1 3 381.1 4 386.4 5 388.1 6 390.1 7 389.9 8 388.1 9 383 10 376.7M0 360.1 1 338.4 2 364.4 3 378.4 4 378.4 5 381.9 6 380.8 7 378.5 8 374.8 9 369.5 10 361.2M0 363 1 320.5 2 351.6 3 365.6 4 360.9 5 364.5 6 364.4 7 365.5 8 363.9 9 361.2 10 358.7M0 371.3 1 342.5 2 367.4 3 387.2 4 384.7 5 385.7 6 386 7 384.4 8 383.8 9 381.3 10 369.3M0 384.3 1 349.4 2 366.6 3 381.3 4 381.5 5 384.8 6 382.2 7 382.9 8 385.9 9 376.3 10 368.7M0 392.4 1 356 2 376.3 3 380.8 4 378.1 5 379.9 6 380.6 7 382.6 8 382.3 9 376.1 10 369M0 375.1 1 350.8 2 375.7 3 383.4 4 381 5 382.5 6 382.8 7 383.2 8 383.2 9 384.8 10 376.4M0 387.7 1 356.5 2 389.9 3 398.5 4 392.9 5 400.8 6 394.9 7 391.5 8 394.8 9 400 10 393.7M0 372.7 1 339.9 2 366.2 3 381.2 4 379.9 5 383 6 381.1 7 385.1 8 387.8 9 390.8 10 381.6M0 404.3 1 387.7 2 396.9 3 404.2 4 398.2 5 390.9 6 389 7 386.4 8 391.4 9 394.3 10 393.9M0 379.6 1 355 2 379.4 3 395.3 4 391.1 5 389.9 6 390.6 7 390.3 8 389.8 9 390.7 10 389.7M0 404.1 1 381.7 2 390.5 3 398.5 4 396.5 5 394.6 6 387.7 7 386.7 8 390.3 9 393.3 10 387.5M0 360.8 1 322.7 2 353.5 3 367.4 4 370.3 5 376 6 380.8 7 381.8 8 385.2 9 379.7 10 376.8M0 405.5 1 385 2 394.1 3 405 4 404.6 5 402.9 6 403.1 7 400.1 8 399.2 9 394.3 10 391.3M0 379.5 1 346.5 2 367.4 3 380.6 4 381.7 5 385.2 6 386.4 7 387.6 8 387.1 9 382.5 10 379.5M0 376.6 1 345.3 2 365.6 3 377.8 4 378.5 5 378.5 6 379.3 7 379.7 8 380.3 9 375.6 10 376.6M0 407.3 1 390.1 2 398.6 3 406.7 4 406.2 5 406.3 6 405.8 7 406.3 8 406.3 9 406.2 10 407.4M0 373.5 1 343.3 2 375.7 3 386.2 4 386.8 5 386.9 6 385.7 7 386.7 8 389.8 9 389.7 10 389.4M0 351.9 1 311 2 348.2 3 362.6 4 356.4 5 360.6 6 361.4 7 362.4 8 360.2 9 355.3 10 352.4M0 404.7 1 387.7 2 397.7 3 404.4 4 404.8 5 406.4 6 406 7 404.9 8 404.7 9 405.1 10 403.3M0 377.9 1 352.6 2 373.9 3 391.1 4 388.3 5 387.4 6 390.3 7 388.9 8 385.6 9 390.9 10 389.4M0 354.5 1 323.1 2 356.8 3 377.4 4 377.4 5 383.3 6 388.2 7 389.1 8 389 9 384.7 10 379.2M0 359.7 1 321.8 2 353.3 3 370.8 4 369.3 5 362.8 6 360.6 7 359.4 8 359.3 9 354.8 10 350.8M0 352.7 1 314.5 2 350.7 3 362.6 4 360.3 5 363.7 6 369.2 7 372.3 8 373.4 9 369.7 10 363.2" fill="none" stroke="#333" stroke-width="0.6" stroke-opacity="0.35"/></g><g clip-path="url(#c10)" class="b1"><path d="M235.6 350.8V367M235.6 388.4V407.9" class="wh"/><rect x="230" y="367" width="11.2" height="21.4" class="bx"/><path d="M230 376.3H241.1" class="md"/><path d="M250.4 310.3V335.9M250.4 358.2V391.7" class="wh"/><rect x="244.8" y="335.9" width="11.2" height="22.3" class="bx"/><path d="M244.8 345.6H256" class="md"/><path d="M265.3 347.5V363.8M265.3 379.1V401" class="wh"/><rect x="259.7" y="363.8" width="11.2" height="15.3" class="bx"/><path d="M259.7 368.4H270.9" class="md"/><path d="M280.2 361.4V377.7M280.2 391.7V407.9" class="wh"/><rect x="274.6" y="377.7" width="11.2" height="13.9" class="bx"/><path d="M274.6 381.9H285.8" class="md"/><path d="M295.1 354.9V377.3M295.1 392.1V407.9" class="wh"/><rect x="289.5" y="377.3" width="11.2" height="14.9" class="bx"/><path d="M289.5 382.4H300.6" class="md"/><path d="M309.9 359.6V377.7M309.9 392.1V407.9" class="wh"/><rect x="304.3" y="377.7" width="11.2" height="14.4" class="bx"/><path d="M304.3 383.8H315.5" class="md"/><path d="M324.8 359.6V377.7M324.8 392.1V407.9" class="wh"/><rect x="319.2" y="377.7" width="11.2" height="14.4" class="bx"/><path d="M319.2 383.8H330.4" class="md"/><path d="M339.7 358.7V377.7M339.7 391.2V407.9" class="wh"/><rect x="334.1" y="377.7" width="11.2" height="13.5" class="bx"/><path d="M334.1 383.8H345.3" class="md"/><path d="M354.6 358.7V377.7M354.6 391.7V407.9" class="wh"/><rect x="349" y="377.7" width="11.2" height="13.9" class="bx"/><path d="M349 383.8H360.1" class="md"/><path d="M369.4 354.5V371.2M369.4 391.2V407.9" class="wh"/><rect x="363.8" y="371.2" width="11.2" height="20" class="bx"/><path d="M363.8 377.7H375" class="md"/><path d="M384.3 350.3V364.7M384.3 389.4V407.9" class="wh"/><rect x="378.7" y="364.7" width="11.2" height="24.6" class="bx"/><path d="M378.7 373.5H389.9" class="md"/><circle cx="250.4" cy="300.1" r="1.6"/><circle cx="250.4" cy="394.9" r="1.6"/><circle cx="250.4" cy="404.7" r="1.6"/><circle cx="265.3" cy="408.4" r="1.6"/></g><path d="M223.6 403.3H226.6" class="tk"/><text x="221.3" y="408.2" class="yl">0</text><path d="M223.6 380.1H226.6" class="tk"/><text x="221.3" y="384.9" class="yl">5</text><path d="M223.6 356.8H226.6" class="tk"/><text x="221.3" y="361.7" class="yl">10</text><path d="M223.6 333.6H226.6" class="tk"/><text x="221.3" y="338.4" class="yl">15</text><path d="M223.6 310.3H226.6" class="tk"/><text x="221.3" y="315.2" class="yl">20</text>
<rect x="416.8" y="278.2" width="166.6" height="16.5" fill="#d3d3d3" stroke="#9a9a9a" stroke-width="1"/><text x="500.1" y="290.5" class="st">Cluster 11</text><rect x="416.8" y="295" width="166.6" height="118.6" fill="#f3f3f3" stroke="#a8a8a8" stroke-width="0.9"/><rect x="418.8" y="295" width="14.4" height="118.6" fill="#a4a6b6"/><rect x="433.2" y="295" width="29.8" height="118.6" fill="#a3cd9f"/><rect x="463" y="295" width="29.8" height="118.6" fill="#f6cda3"/><rect x="492.7" y="295" width="59.5" height="118.6" fill="#eeb3a5"/><rect x="552.2" y="295" width="14.9" height="118.6" fill="#deb1d2"/><rect x="567.1" y="295" width="14.1" height="118.6" fill="#b09dd1"/><g stroke="#000" stroke-width="0.8"><path d="M416.8 404H583.4" stroke-opacity="0.025"/><path d="M416.8 390H583.4" stroke-opacity="0.045"/><path d="M416.8 376H583.4" stroke-opacity="0.025"/><path d="M416.8 362H583.4" stroke-opacity="0.045"/><path d="M416.8 348H583.4" stroke-opacity="0.025"/><path d="M416.8 334H583.4" stroke-opacity="0.045"/><path d="M416.8 320H583.4" stroke-opacity="0.025"/><path d="M416.8 306H583.4" stroke-opacity="0.045"/><path d="M425.8 295V413.6" stroke-opacity=".04"/><path d="M440.6 295V413.6" stroke-opacity=".04"/><path d="M455.5 295V413.6" stroke-opacity=".04"/><path d="M470.4 295V413.6" stroke-opacity=".04"/><path d="M485.3 295V413.6" stroke-opacity=".04"/><path d="M500.1 295V413.6" stroke-opacity=".04"/><path d="M515 295V413.6" stroke-opacity=".04"/><path d="M529.9 295V413.6" stroke-opacity=".04"/><path d="M544.8 295V413.6" stroke-opacity=".04"/><path d="M559.6 295V413.6" stroke-opacity=".04"/><path d="M574.5 295V413.6" stroke-opacity=".04"/></g><g fill="#1c2545" clip-path="url(#c11)"><path d="M425.8 325.6L440.6 325.6V300.4L425.8 306ZM440.6 325.6L455.5 324V301L440.6 300.4ZM455.5 324L470.4 326.1V302.6L455.5 301ZM470.4 326.1L485.3 331.1V306L470.4 302.6ZM485.3 331.1L500.1 330V307.1L485.3 306ZM500.1 330L515 328.4V307.1L500.1 307.1ZM515 328.4L529.9 329V306L515 307.1ZM529.9 329L544.8 327.3V303.2L529.9 306ZM544.8 327.3L559.6 324V301L544.8 303.2ZM559.6 324L574.5 328.9V304.3L559.6 301Z" fill-opacity=".20"/><path d="M425.8 408.5L440.6 408.5V372.6L425.8 369.3ZM440.6 408.5L455.5 408.5V368.2L440.6 372.6ZM455.5 408.5L470.4 408.5V369.3L455.5 368.2ZM470.4 408.5L485.3 408.5V372.6L470.4 369.3ZM485.3 408.5L500.1 408.5V369.8L485.3 372.6ZM500.1 408.5L515 408.5V370.4L500.1 369.8ZM515 408.5L529.9 408.5V374.3L515 370.4ZM529.9 408.5L544.8 408.5V372.6L529.9 374.3ZM544.8 408.5L559.6 408.5V369.8L544.8 372.6ZM559.6 408.5L574.5 408.5V372.1L559.6 369.8Z" fill-opacity=".25"/><path d="M425.8 327.3L440.6 327.3V325.6L425.8 325.6ZM440.6 327.3L455.5 325.8V324L440.6 325.6ZM455.5 325.8L470.4 327.6V326.1L455.5 324ZM470.4 327.6L485.3 332.7V331.1L470.4 326.1ZM485.3 332.7L500.1 331.5V330L485.3 331.1ZM500.1 331.5L515 330.1V328.4L500.1 330ZM515 330.1L529.9 330.6V329L515 328.4ZM529.9 330.6L544.8 329V327.3L529.9 329ZM544.8 329L559.6 325.8V324L544.8 327.3ZM559.6 325.8L574.5 330.4V328.9L559.6 324Z" fill-opacity=".40"/><path d="M425.8 369.3L440.6 372.6V369.6L425.8 366.7ZM440.6 372.6L455.5 368.2V365.7L440.6 369.6ZM455.5 368.2L470.4 369.3V366.5L455.5 365.7ZM470.4 369.3L485.3 372.6V370L470.4 366.5ZM485.3 372.6L500.1 369.8V367.4L485.3 370ZM500.1 369.8L515 370.4V368L500.1 367.4ZM515 370.4L529.9 374.3V371.5L515 368ZM529.9 374.3L544.8 372.6V369.8L529.9 371.5ZM544.8 372.6L559.6 369.8V367.2L544.8 369.8ZM559.6 369.8L574.5 372.1V369.3L559.6 367.2Z" fill-opacity=".45"/><path d="M425.8 329L440.6 329V327.3L425.8 327.3ZM440.6 329L455.5 327.7V325.8L440.6 327.3ZM455.5 327.7L470.4 329.1V327.6L455.5 325.8ZM470.4 329.1L485.3 334.2V332.7L470.4 327.6ZM485.3 334.2L500.1 333V331.5L485.3 332.7ZM500.1 333L515 331.8V330.1L500.1 331.5ZM515 331.8L529.9 332.3V330.6L515 330.1ZM529.9 332.3L544.8 330.6V329L529.9 330.6ZM544.8 330.6L559.6 327.7V325.8L544.8 329ZM559.6 327.7L574.5 331.9V330.4L559.6 325.8Z" fill-opacity=".55"/><path d="M425.8 366.7L440.6 369.6V366.6L425.8 364ZM440.6 369.6L455.5 365.7V363.3L440.6 366.6ZM455.5 365.7L470.4 366.5V363.6L455.5 363.3ZM470.4 366.5L485.3 370V367.4L470.4 363.6ZM485.3 370L500.1 367.4V365L485.3 367.4ZM500.1 367.4L515 368V365.6L500.1 365ZM515 368L529.9 371.5V368.7L515 365.6ZM529.9 371.5L544.8 369.8V367L529.9 368.7ZM544.8 369.8L559.6 367.2V364.6L544.8 367ZM559.6 367.2L574.5 369.3V366.4L559.6 364.6Z" fill-opacity=".60"/><path d="M425.8 330.6L440.6 330.6V329L425.8 329ZM440.6 330.6L455.5 329.5V327.7L440.6 329ZM455.5 329.5L470.4 330.6V329.1L455.5 327.7ZM470.4 330.6L485.3 335.7V334.2L470.4 329.1ZM485.3 335.7L500.1 334.6V333L485.3 334.2ZM500.1 334.6L515 333.4V331.8L500.1 333ZM515 333.4L529.9 334V332.3L515 331.8ZM529.9 334L544.8 332.3V330.6L529.9 332.3ZM544.8 332.3L559.6 329.5V327.7L544.8 330.6ZM559.6 329.5L574.5 333.4V331.9L559.6 327.7Z" fill-opacity=".65"/><path d="M425.8 364L440.6 366.6V363.6L425.8 361.4ZM440.6 366.6L455.5 363.3V360.9L440.6 363.6ZM455.5 363.3L470.4 363.6V360.8L455.5 360.9ZM470.4 363.6L485.3 367.4V364.8L470.4 360.8ZM485.3 367.4L500.1 365V362.6L485.3 364.8ZM500.1 365L515 365.6V363.1L500.1 362.6ZM515 365.6L529.9 368.7V365.9L515 363.1ZM529.9 368.7L544.8 367V364.2L529.9 365.9ZM544.8 367L559.6 364.6V362L544.8 364.2ZM559.6 364.6L574.5 366.4V363.6L559.6 362Z" fill-opacity=".70"/><path d="M425.8 332.3L440.6 332.3V330.6L425.8 330.6ZM425.8 361.4L440.6 363.6V360.5L425.8 358.8ZM440.6 332.3L455.5 331.4V329.5L440.6 330.6ZM440.6 363.6L455.5 360.9V358.5L440.6 360.5ZM455.5 331.4L470.4 332.2V330.6L455.5 329.5ZM455.5 360.9L470.4 360.8V358L455.5 358.5ZM470.4 332.2L485.3 337.2V335.7L470.4 330.6ZM470.4 360.8L485.3 364.8V362.2L470.4 358ZM485.3 337.2L500.1 336.1V334.6L485.3 335.7ZM485.3 364.8L500.1 362.6V360.2L485.3 362.2ZM500.1 336.1L515 335.1V333.4L500.1 334.6ZM500.1 362.6L515 363.1V360.7L500.1 360.2ZM515 335.1L529.9 335.7V334L515 333.4ZM515 363.1L529.9 365.9V363L515 360.7ZM529.9 335.7L544.8 334V332.3L529.9 334ZM529.9 365.9L544.8 364.2V361.4L529.9 363ZM544.8 334L559.6 331.4V329.5L544.8 332.3ZM544.8 364.2L559.6 362V359.4L544.8 361.4ZM559.6 331.4L574.5 335V333.4L559.6 329.5ZM559.6 362L574.5 363.6V360.8L559.6 359.4Z" fill-opacity=".80"/><path d="M425.8 334L440.6 334V332.3L425.8 332.3ZM425.8 358.8L440.6 360.5V357.5L425.8 356.2ZM440.6 334L455.5 333.2V331.4L440.6 332.3ZM440.6 360.5L455.5 358.5V356.1L440.6 357.5ZM455.5 333.2L470.4 333.7V332.2L455.5 331.4ZM455.5 358.5L470.4 358V355.2L455.5 356.1ZM470.4 333.7L485.3 338.7V337.2L470.4 332.2ZM470.4 358L485.3 362.2V359.5L470.4 355.2ZM485.3 338.7L500.1 337.6V336.1L485.3 337.2ZM485.3 362.2L500.1 360.2V357.7L485.3 359.5ZM500.1 337.6L515 336.8V335.1L500.1 336.1ZM500.1 360.2L515 360.7V358.3L500.1 357.7ZM515 336.8L529.9 337.4V335.7L515 335.1ZM515 360.7L529.9 363V360.2L515 358.3ZM529.9 337.4L544.8 335.7V334L529.9 335.7ZM529.9 363L544.8 361.4V358.5L529.9 360.2ZM544.8 335.7L559.6 333.2V331.4L544.8 334ZM544.8 361.4L559.6 359.4V356.7L544.8 358.5ZM559.6 333.2L574.5 336.5V335L559.6 331.4ZM559.6 359.4L574.5 360.8V358L559.6 356.7Z" fill-opacity=".90"/><path d="M425.8 356.2L440.6 357.5V334L425.8 334ZM440.6 357.5L455.5 356.1V333.2L440.6 334ZM455.5 356.1L470.4 355.2V333.7L455.5 333.2ZM470.4 355.2L485.3 359.5V338.7L470.4 333.7ZM485.3 359.5L500.1 357.7V337.6L485.3 338.7ZM500.1 357.7L515 358.3V336.8L500.1 337.6ZM515 358.3L529.9 360.2V337.4L515 336.8ZM529.9 360.2L544.8 358.5V335.7L529.9 337.4ZM544.8 358.5L559.6 356.7V333.2L544.8 335.7ZM559.6 356.7L574.5 358V336.5L559.6 333.2Z" fill-opacity=".95"/></g><g transform="translate(425.77 0) scale(14.875 1)"><path vector-effect="non-scaling-stroke" d="M0 377 1 373.9 2 374.7 3 370.3 4 375.2 5 372.7 6 372.2 7 376.6 8 375.7 9 369.1 10 371.4M0 351.1 1 352.8 2 350.2 3 354.9 4 358.1 5 361.5 6 365.7 7 365.6 8 361.8 9 363.8 10 364.4M0 395 1 392.6 2 387.7 3 386.4 4 392.9 5 396.7 6 396.6 7 397.3 8 398.3 9 401.7 10 402.6M0 339.3 1 341.5 2 341.7 3 340.5 4 346.1 5 344.3 6 341.4 7 342.1 8 343 9 341.8 10 345.1M0 361.9 1 365.7 2 360.1 3 358.2 4 361 5 360.9 6 365 7 366.1 8 362.2 9 366 10 367.9M0 357.3 1 360.4 2 361.2 3 357.8 4 360.2 5 358.1 6 358.8 7 360.7 8 359.8 9 358 10 358M0 373.8 1 376 2 376.1 3 375.7 4 373.4 5 368.7 6 367.4 7 373.2 8 369.5 9 367 10 364.9M0 335.7 1 334.9 2 334.1 3 335.5 4 339 5 336.3 6 339 7 340 8 336.5 9 335.2 10 339.1M0 386.4 1 383.2 2 384 3 378.5 4 383.5 5 378 6 378.4 7 375.5 8 373.5 9 375 10 378.9M0 363.5 1 366.3 2 363.9 3 366.3 4 370.6 5 372.3 6 373.9 7 377 8 373.8 9 371.3 10 368.5M0 357.8 1 368.1 2 366.5 3 369.4 4 375.4 5 367 6 366.7 7 372.1 8 364.1 9 364.6 10 363.1M0 311.3 1 308 2 309.6 3 309.8 4 308 5 308.8 6 309.3 7 308.4 8 307 9 304.4 10 306.8M0 322.9 1 323.8 2 322.5 3 322.4 4 326.4 5 328.1 6 329.5 7 330.1 8 328 9 327.8 10 333M0 361.2 1 360.3 2 365.9 3 366.6 4 369.7 5 371 6 377.7 7 381.9 8 376.9 9 375.4 10 375M0 327.2 1 325.3 2 324.9 3 328.1 4 336 5 335.9 6 334.2 7 333.8 8 332.2 9 335.7 10 339.9M0 385.7 1 384.3 2 391.4 3 393 4 393.7 5 392.9 6 392.6 7 393.6 8 391.9 9 391.1 10 394.3M0 347.5 1 346.2 2 341.4 3 340.2 4 345.5 5 344.2 6 347.8 7 348.5 8 344.1 9 343.8 10 348.5M0 381.9 1 382.3 2 375.4 3 378.7 4 382.7 5 382 6 380.9 7 378.6 8 377.1 9 375.6 10 379.3M0 338.5 1 341.3 2 339.7 3 337.9 4 343 5 344.1 6 343.8 7 343.9 8 345 9 340.7 10 343.5M0 376.2 1 374.7 2 378 3 374.8 4 377.4 5 376.9 6 374.5 7 378.6 8 377.9 9 378 10 373.9M0 323.9 1 320.6 2 317.8 3 319.3 4 324.1 5 323.3 6 320.5 7 321.6 8 318.3 9 316.5 10 320.4M0 378.7 1 379.3 2 377.6 3 376.6 4 380.4 5 378.3 6 380.6 7 382.7 8 385.7 9 388.4 10 391.2M0 361.3 1 361.7 2 361.9 3 365 4 364.8 5 360.8 6 360.1 7 359.2 8 353.9 9 350.4 10 355.3M0 355.3 1 358.5 2 358.2 3 354.1 4 359 5 356.6 6 355.6 7 354.9 8 351.1 9 346.3 10 348.9M0 348.9 1 356 2 349.1 3 351.5 4 357 5 355.2 6 354.3 7 355.7 8 350.6 9 344.4 10 345.6M0 366.4 1 365.9 2 360.1 3 360 4 364.5 5 363.1 6 364.7 7 368.2 8 369.1 9 372.7 10 373.6M0 378.8 1 383.4 2 389.3 3 390.5 4 388.4 5 387.3 6 387.5 7 388.8 8 391 9 393.1 10 386M0 391 1 390.7 2 386.1 3 381.8 4 384.1 5 385.7 6 390 7 390.2 8 388.2 9 392 10 391.1M0 351.7 1 353.9 2 351 3 347.9 4 352.5 5 348.5 6 350 7 352.4 8 349.6 9 346.9 10 347.6M0 375.8 1 378.4 2 376.9 3 375.9 4 377.8 5 377.1 6 378.4 7 380.7 8 375.2 9 370.9 10 364.4M0 347.2 1 351.9 2 350.1 3 348.7 4 349.4 5 345 6 344 7 348.8 8 351.2 9 347.7 10 350.1M0 401.3 1 397.4 2 396.1 3 395.4 4 395.9 5 394.9 6 396.3 7 394.2 8 396.1 9 390.8 10 391.3M0 401.4 1 399.6 2 401.5 3 403.6 4 403.9 5 403.6 6 405.6 7 405.5 8 402.8 9 403 10 404.5M0 369.9 1 368.2 2 362.9 3 365.3 4 367.1 5 366.1 6 362.4 7 364.5 8 360.6 9 367.2 10 365.3M0 356 1 357.9 2 358.9 3 354.4 4 360.6 5 357.3 6 355.1 7 356.1 8 352.9 9 346.9 10 354.5M0 347.4 1 352.6 2 350.1 3 350.1 4 355 5 353.5 6 353.4 7 355.1 8 357.8 9 354 10 353.7M0 355.3 1 352.9 2 351.9 3 350.4 4 354.3 5 352.7 6 347.8 7 350.8 8 349.1 9 342.8 10 344M0 334.1 1 335.7 2 336.5 3 337.6 4 340.6 5 338 6 338.4 7 337.4 8 336 9 334.8 10 337.3M0 363.2 1 365.8 2 360.2 3 359.2 4 362.6 5 359.6 6 354.1 7 355.8 8 353.8 9 349.3 10 350.4M0 330.2 1 328.8 2 327.1 3 323.7 4 326.6 5 325.6 6 322.9 7 324.5 8 320.5 9 319.1 10 323.5M0 357 1 359 2 356 3 354.3 4 353.6 5 354.1 6 355.2 7 354.6 8 349 9 344.4 10 349.7M0 360.1 1 361.9 2 362.7 3 362.8 4 368.8 5 364 6 364.7 7 365.4 8 364.1 9 362.4 10 361.7M0 385.5 1 387.7 2 389.8 3 388.7 4 390.6 5 387.7 6 387.3 7 391 8 392.5 9 392.3 10 392M0 376.2 1 382.5 2 382.8 3 385.1 4 384.1 5 386.5 6 389.1 7 393.4 8 394.6 9 395.4 10 399.7M0 326.4 1 327 2 325.7 3 326.3 4 329.8 5 328.2 6 328.9 7 328.4 8 324.5 9 322.7 10 326.4M0 346.7 1 350.4 2 351.3 3 348.8 4 352.7 5 347.9 6 346.5 7 349.3 8 349 9 347.2 10 351.1M0 353.4 1 353 2 356.4 3 356.9 4 361.5 5 365.1 6 358.9 7 356.7 8 356.8 9 354.3 10 353.1M0 361 1 364.6 2 368.4 3 362.1 4 366.6 5 364.1 6 360 7 361.4 8 355.6 9 352.3 10 358.1M0 336.8 1 335.5 2 336.6 3 337.5 4 341.2 5 341 6 340.8 7 339.5 8 335.2 9 333.7 10 338.3M0 357.7 1 360.6 2 359.6 3 367.3 4 374.3 5 375.4 6 378.6 7 387.5 8 389.9 9 387.3 10 388.8M0 352.5 1 353.9 2 351.1 3 352.6 4 353.1 5 353.5 6 354.2 7 357.1 8 349 9 351.7 10 348.5M0 363.9 1 359.1 2 356.5 3 356.4 4 362.6 5 360.2 6 361.5 7 364.5 8 361.3 9 357.6 10 364.3M0 332.3 1 333 2 331.3 3 331.2 4 336.4 5 334.9 6 335.3 7 335.8 8 334.7 9 330.9 10 334.2M0 366.9 1 371.7 2 372 3 373.9 4 374.8 5 372.6 6 375.9 7 373.5 8 373.4 9 372.5 10 372.1M0 328.8 1 330 2 326.9 3 328.7 4 337.1 5 334.4 6 334.9 7 341.2 8 339.7 9 335.5 10 338M0 323.3 1 320.8 2 317.8 3 317.9 4 321.8 5 325 6 325 7 327 8 323.5 9 322.4 10 325M0 393.4 1 401.2 2 401.7 3 399.2 4 401.7 5 404.4 6 405 7 400.2 8 400.6 9 394.5 10 400.1M0 369.9 1 367.7 2 371.3 3 370.1 4 368.7 5 371.3 6 376 7 380.6 8 381.3 9 377.9 10 381.4M0 363.5 1 367.6 2 369.2 3 364.4 4 363.8 5 360.3 6 361.2 7 364.3 8 362.3 9 360.6 10 361.6M0 359 1 361.1 2 358.6 3 360.3 4 363 5 366 6 366.6 7 369 8 365.7 9 363.4 10 365M0 310.8 1 305.7 2 305 3 304.3 4 308.2 5 312.4 6 312.5 7 314.7 8 314.4 9 310.2 10 312.4M0 369.3 1 371.8 2 369.9 3 374.8 4 374.8 5 376.5 6 375.2 7 379.3 8 375.7 9 376.8 10 376.5M0 357.4 1 363.2 2 364.5 3 356.2 4 359.5 5 352.4 6 352.1 7 356 8 350.7 9 345.4 10 347.5M0 363.3 1 369.5 2 367.1 3 366.6 4 367.5 5 366.9 6 370.3 7 375.6 8 374.5 9 371.4 10 370.3M0 336.2 1 340.6 2 336.9 3 339.9 4 344.6 5 345 6 342.7 7 342.1 8 340.2 9 336.1 10 339.2M0 337.7 1 339.8 2 339.1 3 339.6 4 344.7 5 344.1 6 342 7 342.7 8 340.4 9 337.8 10 339.8M0 337.4 1 336.8 2 333.9 3 332.9 4 337.4 5 336.5 6 338.3 7 338.5 8 337.3 9 335.2 10 334.1M0 345.9 1 351.2 2 346.1 3 342.5 4 349.7 5 347 6 352.6 7 355.5 8 354.4 9 354 10 354.7M0 376.3 1 378.1 2 373.4 3 368.6 4 373.4 5 372.9 6 370.9 7 371.9 8 368 9 372.6 10 369.4M0 326.3 1 325.3 2 323 3 322.3 4 327.1 5 328.2 6 324.1 7 321.4 8 318.7 9 316.7 10 319.4M0 395.3 1 393.7 2 397.3 3 402.6 4 403.1 5 404.7 6 403.1 7 402.7 8 400.2 9 403.1 10 404.9M0 356.8 1 359.4 2 358.1 3 363 4 366.9 5 365.1 6 367 7 369.5 8 364.5 9 363.5 10 363.9M0 394.3 1 392.6 2 390.5 3 388.5 4 390.5 5 393.1 6 390 7 386.8 8 381.3 9 383.7 10 388.2M0 334.8 1 333 2 331.7 3 330.9 4 335 5 334.9 6 330.9 7 331 8 330.9 9 329.2 10 335M0 396.6 1 403 2 404.2 3 401 4 399.6 5 398.6 6 395.4 7 392.8 8 391.8 9 391 10 393.4M0 348.5 1 348.4 2 352 3 350.3 4 360.2 5 361.7 6 360 7 360.9 8 364.7 9 366.2 10 367.1M0 376.8 1 376 2 374.2 3 375.2 4 375.6 5 376.7 6 377.6 7 381.1 8 382.8 9 385.7 10 388.3M0 348.1 1 349.3 2 350 3 349.1 4 355.5 5 350.8 6 355.5 7 356.2 8 355.8 9 354.1 10 358.2M0 391.6 1 388.9 2 390.2 3 394.4 4 389.8 5 385.8 6 387.1 7 391.5 8 392 9 392.6 10 394.7M0 335.6 1 336.6 2 335.1 3 336.7 4 342.2 5 341.6 6 341.7 7 341.2 8 340.2 9 339.5 10 343.8M0 369.1 1 371.7 2 364.7 3 365.4 4 366.8 5 361.8 6 359.6 7 366.5 8 360.9 9 357.7 10 362.4M0 337.6 1 338.6 2 336.1 3 337.3 4 342.9 5 338.9 6 340.9 7 342.2 8 339.7 9 339.3 10 343.5M0 359.7 1 364.1 2 363.3 3 361.6 4 366.4 5 365.3 6 362.6 7 367.5 8 366.9 9 368 10 365.4M0 334.7 1 334.6 2 333.7 3 333.6 4 338.9 5 336.8 6 336.6 7 336.6 8 336 9 333.2 10 334.5M0 357.7 1 358.5 2 361 3 358.2 4 365.8 5 360.4 6 360.7 7 365.2 8 365.9 9 361.7 10 359.6M0 357 1 358.6 2 364.1 3 368.2 4 374 5 369.1 6 370.7 7 372.5 8 371.2 9 373.9 10 370.2M0 385.9 1 386.8 2 386.7 3 380 4 378.7 5 375.1 6 377.9 7 381.8 8 382.8 9 382.8 10 377.4M0 370.1 1 377.7 2 379.1 3 381.2 4 380.9 5 380.3 6 377.4 7 381.2 8 377.2 9 375.6 10 374.3M0 386.6 1 384.6 2 388.2 3 386.2 4 390.9 5 396.6 6 390.1 7 388.3 8 387.3 9 390.1 10 389.4M0 352.6 1 356.6 2 346.6 3 340.2 4 350.9 5 349.5 6 347.9 7 356.3 8 357.6 9 359.3 10 359.4M0 400.1 1 400 2 403.8 3 403.8 4 402.6 5 400.9 6 401.7 7 403.9 8 402.8 9 402.5 10 404.6M0 349 1 345.7 2 346.5 3 344.6 4 349.1 5 346.3 6 343.8 7 346.1 8 350.3 9 347.2 10 346.3M0 389.9 1 392.7 2 390.2 3 389.4 4 390.2 5 396.8 6 397.3 7 392.5 8 394.4 9 401.6 10 399.3M0 351.5 1 351.5 2 349.3 3 344.7 4 347.2 5 346 6 350.2 7 349.4 8 348.6 9 347.6 10 347.3M0 323.6 1 321.3 2 322.7 3 325.8 4 331.8 5 330.9 6 327.8 7 325.2 8 322.4 9 318.2 10 321.1M0 366.8 1 368 2 372.7 3 368.6 4 372 5 369.2 6 372.5 7 379 8 377.3 9 368.2 10 371M0 355.6 1 350.5 2 351 3 351.5 4 357 5 352.2 6 350.9 7 351.5 8 351 9 346.2 10 352.1M0 332.9 1 333.7 2 332.6 3 336.2 4 340.9 5 343.9 6 344.6 7 343 8 339.1 9 337.2 10 342.1M0 381.8 1 379.5 2 381.2 3 374.4 4 381.4 5 376 6 374.7 7 374.3 8 375.3 9 376.4 10 378.3M0 378.4 1 372.6 2 364.8 3 364 4 367.1 5 365.3 6 366.5 7 367.6 8 363.4 9 357.5 10 353.3M0 351.4 1 354.2 2 357.6 3 355 4 359.9 5 361.6 6 357.2 7 357.3 8 355.5 9 351.5 10 359.1M0 349.3 1 352.7 2 349.7 3 347.4 4 348.4 5 346.1 6 349.3 7 354.4 8 354.3 9 354.9 10 354.6M0 324.8 1 322 2 320.1 3 319.7 4 323.8 5 324.5 6 323.4 7 320.1 8 317.4 9 316.3 10 318.9M0 318 1 314.6 2 312.6 3 309.7 4 313.8 5 315.8 6 314.7 7 314.2 8 311.3 9 310.1 10 312.4M0 324.6 1 320.4 2 321.2 3 323.5 4 325.8 5 326.5 6 325.8 7 324.9 8 321.3 9 318.9 10 324.2M0 386.6 1 389.8 2 386.2 3 384.4 4 385.7 5 382.8 6 377.6 7 381.1 8 382.4 9 382.2 10 381.8M0 391.5 1 390.4 2 392 3 392.6 4 390.3 5 387.9 6 393.3 7 391.2 8 391.1 9 388.7 10 392.8M0 390.2 1 393.1 2 394.7 3 390.5 4 396.4 5 395.3 6 392.4 7 393.4 8 391.2 9 388.9 10 387.6M0 391.5 1 390.5 2 393.6 3 395 4 397.9 5 398 6 401.9 7 401.3 8 398.2 9 398.9 10 391.3M0 320.7 1 316.7 2 316.4 3 318.2 4 320.3 5 321.6 6 321.9 7 320.3 8 316.9 9 310.8 10 314.5M0 338.9 1 336.9 2 332.7 3 334.3 4 340.3 5 341.2 6 339.4 7 338.8 8 336.1 9 335.9 10 340.5M0 387.9 1 387.9 2 388.6 3 390.1 4 391.6 5 389 6 389.2 7 391.5 8 390.1 9 389.6 10 389.2M0 314.3 1 313.4 2 312.6 3 316.2 4 317.5 5 316.3 6 317.4 7 317.7 8 317.4 9 315.2 10 317.7M0 366.6 1 368.5 2 369.9 3 370.9 4 375.2 5 373.4 6 373.8 7 375.5 8 377.7 9 372.3 10 371.8M0 375.4 1 382.5 2 385.8 3 381.8 4 384.2 5 380 6 381.6 7 386.1 8 387 9 388.8 10 388.8M0 353.5 1 350.2 2 350.3 3 353.1 4 356.7 5 355 6 356.3 7 361.2 8 359.3 9 354.4 10 358.8M0 399.8 1 395.1 2 388.7 3 387.7 4 388.2 5 389.1 6 393.4 7 393.8 8 398.4 9 396.3 10 398.8M0 354.1 1 357.2 2 350.1 3 349.5 4 352.1 5 350.3 6 352.1 7 353.2 8 350.2 9 344.8 10 347.8M0 399 1 396.3 2 399.3 3 397.8 4 400.2 5 399.5 6 401.5 7 401.8 8 405.1 9 404.8 10 405.1M0 336.7 1 340.1 2 338.2 3 338.8 4 341 5 340.6 6 339.6 7 339.9 8 341.8 9 338.4 10 343.4M0 408.5 1 408.5 2 408.5 3 408.5 4 408.5 5 408.5 6 408.5 7 408.5 8 408.5 9 408.5 10 408.5" fill="none" stroke="#1c2545" stroke-width="0.6" stroke-opacity="0.3"/></g><g clip-path="url(#c11)" class="b2"><path d="M425.8 323.9V341.8M425.8 354.7V371.5" class="wh"/><rect x="420.2" y="341.8" width="11.2" height="12.9" class="bx"/><path d="M420.2 347.4H431.4" class="md"/><path d="M440.6 322.8V341.8M440.6 355.8V373.2" class="wh"/><rect x="435.1" y="341.8" width="11.2" height="14" class="bx"/><path d="M435.1 347.4H446.2" class="md"/><path d="M455.5 322.8V341.8M455.5 354.7V372.1" class="wh"/><rect x="449.9" y="341.8" width="11.2" height="12.9" class="bx"/><path d="M449.9 348H461.1" class="md"/><path d="M470.4 321.7V340.7M470.4 353.6V371.5" class="wh"/><rect x="464.8" y="340.7" width="11.2" height="12.9" class="bx"/><path d="M464.8 345.8H476" class="md"/><path d="M485.3 327.3V345.8M485.3 358.1V376" class="wh"/><rect x="479.7" y="345.8" width="11.2" height="12.3" class="bx"/><path d="M479.7 350.8H490.9" class="md"/><path d="M500.1 326.2V344.6M500.1 356.4V374.3" class="wh"/><rect x="494.6" y="344.6" width="11.2" height="11.8" class="bx"/><path d="M494.6 349.7H505.7" class="md"/><path d="M515 326.2V344.6M515 357V374.3" class="wh"/><rect x="509.4" y="344.6" width="11.2" height="12.3" class="bx"/><path d="M509.4 350.2H520.6" class="md"/><path d="M529.9 326.7V345.2M529.9 358.6V377.1" class="wh"/><rect x="524.3" y="345.2" width="11.2" height="13.4" class="bx"/><path d="M524.3 350.8H535.5" class="md"/><path d="M544.8 325V343.5M544.8 357V375.4" class="wh"/><rect x="539.2" y="343.5" width="11.2" height="13.4" class="bx"/><path d="M539.2 349.1H550.4" class="md"/><path d="M559.6 323.4V341.8M559.6 355.3V373.8" class="wh"/><rect x="554.1" y="341.8" width="11.2" height="13.4" class="bx"/><path d="M554.1 348H565.2" class="md"/><path d="M574.5 325V343.5M574.5 356.4V374.3" class="wh"/><rect x="568.9" y="343.5" width="11.2" height="12.9" class="bx"/><path d="M568.9 348.6H580.1" class="md"/><path d="M425.8 373.2V408.5" class="ob"/><path d="M425.8 306V321.7" class="ob"/><path d="M440.6 376.6V408.5" class="ob"/><path d="M440.6 300.4V320" class="ob"/><path d="M455.5 375.4V408.5" class="ob"/><path d="M455.5 301V321.7" class="ob"/><path d="M470.4 373.2V408.5" class="ob"/><path d="M470.4 302.6V320" class="ob"/><path d="M485.3 377.1V408.5" class="ob"/><path d="M485.3 306V322.8" class="ob"/><path d="M500.1 375.4V408.5" class="ob"/><path d="M500.1 307.1V322.8" class="ob"/><path d="M515 375.4V408.5" class="ob"/><path d="M515 307.1V322.8" class="ob"/><path d="M529.9 378.8V408.5" class="ob"/><path d="M529.9 306V322.8" class="ob"/><path d="M544.8 377.1V408.5" class="ob"/><path d="M544.8 303.2V322.8" class="ob"/><path d="M559.6 375.4V408.5" class="ob"/><path d="M559.6 301V321.7" class="ob"/><path d="M574.5 375.4V408.5" class="ob"/><path d="M574.5 304.3V322.8" class="ob"/></g><path d="M413.8 390H416.8" class="tk"/><text x="411.5" y="394.9" class="yl">0</text><path d="M413.8 362H416.8" class="tk"/><text x="411.5" y="366.9" class="yl">5</text><path d="M413.8 334H416.8" class="tk"/><text x="411.5" y="338.9" class="yl">10</text><path d="M413.8 306H416.8" class="tk"/><text x="411.5" y="310.9" class="yl">15</text>
<rect x="607.1" y="278.2" width="166.6" height="16.5" fill="#d3d3d3" stroke="#9a9a9a" stroke-width="1"/><text x="690.4" y="290.5" class="st">Cluster 12</text><rect x="607.1" y="295" width="166.6" height="118.6" fill="#f3f3f3" stroke="#a8a8a8" stroke-width="0.9"/><rect x="609" y="295" width="14.4" height="118.6" fill="#a4a6b6"/><rect x="623.4" y="295" width="29.8" height="118.6" fill="#a3cd9f"/><rect x="653.2" y="295" width="29.8" height="118.6" fill="#f6cda3"/><rect x="682.9" y="295" width="59.5" height="118.6" fill="#eeb3a5"/><rect x="742.4" y="295" width="14.9" height="118.6" fill="#deb1d2"/><rect x="757.3" y="295" width="14.1" height="118.6" fill="#b09dd1"/><g stroke="#000" stroke-width="0.8"><path d="M607.1 408.7H773.7" stroke-opacity="0.025"/><path d="M607.1 396.7H773.7" stroke-opacity="0.045"/><path d="M607.1 384.7H773.7" stroke-opacity="0.025"/><path d="M607.1 372.8H773.7" stroke-opacity="0.045"/><path d="M607.1 360.8H773.7" stroke-opacity="0.025"/><path d="M607.1 348.8H773.7" stroke-opacity="0.045"/><path d="M607.1 336.8H773.7" stroke-opacity="0.025"/><path d="M607.1 324.8H773.7" stroke-opacity="0.045"/><path d="M607.1 312.9H773.7" stroke-opacity="0.025"/><path d="M607.1 300.9H773.7" stroke-opacity="0.045"/><path d="M616 295V413.6" stroke-opacity=".04"/><path d="M630.9 295V413.6" stroke-opacity=".04"/><path d="M645.7 295V413.6" stroke-opacity=".04"/><path d="M660.6 295V413.6" stroke-opacity=".04"/><path d="M675.5 295V413.6" stroke-opacity=".04"/><path d="M690.4 295V413.6" stroke-opacity=".04"/><path d="M705.2 295V413.6" stroke-opacity=".04"/><path d="M720.1 295V413.6" stroke-opacity=".04"/><path d="M735 295V413.6" stroke-opacity=".04"/><path d="M749.9 295V413.6" stroke-opacity=".04"/><path d="M764.7 295V413.6" stroke-opacity=".04"/></g><g fill="#1c2545" clip-path="url(#c12)"><path d="M616 348.5L630.9 344.4V341.6L616 340.2ZM630.9 344.4L645.7 345V340.2L630.9 341.6ZM645.7 345L660.6 342.1V339.2L645.7 340.2ZM660.6 342.1L675.5 344.2V338.3L660.6 339.2ZM675.5 344.2L690.4 341.2V335.9L675.5 338.3ZM690.4 341.2L705.2 338.3V335.4L690.4 335.9ZM705.2 338.3L720.1 337.8V333L705.2 335.4ZM720.1 337.8L735 335.4V335.4L720.1 333ZM735 335.4L749.9 340.5V339.2L735 335.4ZM749.9 340.5L764.7 345V339.2L749.9 339.2Z" fill-opacity=".15"/><path d="M616 408.2L630.9 408.2V379.9L616 381.4ZM630.9 408.2L645.7 408.2V378.5L630.9 379.9ZM645.7 408.2L660.6 408.2V380.7L645.7 378.5ZM660.6 408.2L675.5 408.2V378.7L660.6 380.7ZM675.5 408.2L690.4 408.2V377.8L675.5 378.7ZM690.4 408.2L705.2 408.2V375.1L690.4 377.8ZM705.2 408.2L720.1 408.2V374.7L705.2 375.1ZM720.1 408.2L735 408.2V374.9L720.1 374.7ZM735 408.2L749.9 408.2V381.4L735 374.9ZM749.9 408.2L764.7 408.2V380.2L749.9 381.4Z" fill-opacity=".20"/><path d="M616 349.7L630.9 346V344.4L616 348.5ZM630.9 346L645.7 346.4V345L630.9 344.4ZM645.7 346.4L660.6 343.5V342.1L645.7 345ZM660.6 343.5L675.5 345.4V344.2L660.6 342.1ZM675.5 345.4L690.4 342.5V341.2L675.5 344.2ZM690.4 342.5L705.2 339.7V338.3L690.4 341.2ZM705.2 339.7L720.1 339.2V337.8L705.2 338.3ZM720.1 339.2L735 336.9V335.4L720.1 337.8ZM735 336.9L749.9 342.2V340.5L735 335.4ZM749.9 342.2L764.7 346.4V345L749.9 340.5Z" fill-opacity=".35"/><path d="M616 381.4L630.9 379.9V378.3L616 379.4ZM630.9 379.9L645.7 378.5V376.9L630.9 378.3ZM645.7 378.5L660.6 380.7V378.4L645.7 376.9ZM660.6 380.7L675.5 378.7V376.5L660.6 378.4ZM675.5 378.7L690.4 377.8V375.6L675.5 376.5ZM690.4 377.8L705.2 375.1V373.1L690.4 375.6ZM705.2 375.1L720.1 374.7V372.7L705.2 373.1ZM720.1 374.7L735 374.9V373.1L720.1 372.7ZM735 374.9L749.9 381.4V379.4L735 373.1ZM749.9 381.4L764.7 380.2V378.4L749.9 379.4Z" fill-opacity=".40"/><path d="M616 350.8L630.9 347.6V346L616 349.7ZM630.9 347.6L645.7 347.8V346.4L630.9 346ZM645.7 347.8L660.6 345V343.5L645.7 346.4ZM660.6 345L675.5 346.5V345.4L660.6 343.5ZM675.5 346.5L690.4 343.8V342.5L675.5 345.4ZM690.4 343.8L705.2 341.1V339.7L690.4 342.5ZM705.2 341.1L720.1 340.7V339.2L705.2 339.7ZM720.1 340.7L735 338.4V336.9L720.1 339.2ZM735 338.4L749.9 343.9V342.2L735 336.9ZM749.9 343.9L764.7 347.8V346.4L749.9 342.2Z" fill-opacity=".50"/><path d="M616 379.4L630.9 378.3V376.7L616 377.3ZM630.9 378.3L645.7 376.9V375.3L630.9 376.7ZM645.7 376.9L660.6 378.4V376.2L645.7 375.3ZM660.6 378.4L675.5 376.5V374.3L660.6 376.2ZM675.5 376.5L690.4 375.6V373.4L675.5 374.3ZM690.4 375.6L705.2 373.1V371.1L690.4 373.4ZM705.2 373.1L720.1 372.7V370.6L705.2 371.1ZM720.1 372.7L735 373.1V371.3L720.1 370.6ZM735 373.1L749.9 379.4V377.3L735 371.3ZM749.9 379.4L764.7 378.4V376.6L749.9 377.3Z" fill-opacity=".55"/><path d="M616 352L630.9 349.1V347.6L616 350.8ZM616 377.3L630.9 376.7V375.1L616 375.3ZM630.9 349.1L645.7 349.3V347.8L630.9 347.6ZM630.9 376.7L645.7 375.3V373.7L630.9 375.1ZM645.7 349.3L660.6 346.4V345L645.7 347.8ZM645.7 375.3L660.6 376.2V374L645.7 373.7ZM660.6 346.4L675.5 347.7V346.5L660.6 345ZM660.6 376.2L675.5 374.3V372.1L660.6 374ZM675.5 347.7L690.4 345.1V343.8L675.5 346.5ZM675.5 374.3L690.4 373.4V371.1L675.5 372.1ZM690.4 345.1L705.2 342.6V341.1L690.4 343.8ZM690.4 373.4L705.2 371.1V369.1L690.4 371.1ZM705.2 342.6L720.1 342.1V340.7L705.2 341.1ZM705.2 371.1L720.1 370.6V368.6L705.2 369.1ZM720.1 342.1L735 340V338.4L720.1 340.7ZM720.1 370.6L735 371.3V369.5L720.1 368.6ZM735 340L749.9 345.6V343.9L735 338.4ZM735 371.3L749.9 377.3V375.3L735 369.5ZM749.9 345.6L764.7 349.3V347.8L749.9 343.9ZM749.9 377.3L764.7 376.6V374.7L749.9 375.3Z" fill-opacity=".65"/><path d="M616 353.1L630.9 350.7V349.1L616 352ZM630.9 350.7L645.7 350.7V349.3L630.9 349.1ZM645.7 350.7L660.6 347.8V346.4L645.7 349.3ZM660.6 347.8L675.5 348.8V347.7L660.6 346.4ZM675.5 348.8L690.4 346.4V345.1L675.5 347.7ZM690.4 346.4L705.2 344V342.6L690.4 345.1ZM705.2 344L720.1 343.5V342.1L705.2 342.6ZM720.1 343.5L735 341.5V340L720.1 342.1ZM735 341.5L749.9 347.4V345.6L735 340ZM749.9 347.4L764.7 350.7V349.3L749.9 345.6Z" fill-opacity=".75"/><path d="M616 375.3L630.9 375.1V373.5L616 373.3ZM630.9 375.1L645.7 373.7V372.1L630.9 373.5ZM645.7 373.7L660.6 374V371.8L645.7 372.1ZM660.6 374L675.5 372.1V369.9L660.6 371.8ZM675.5 372.1L690.4 371.1V368.9L675.5 369.9ZM690.4 371.1L705.2 369.1V367.1L690.4 368.9ZM705.2 369.1L720.1 368.6V366.6L705.2 367.1ZM720.1 368.6L735 369.5V367.7L720.1 366.6ZM735 369.5L749.9 375.3V373.3L735 367.7ZM749.9 375.3L764.7 374.7V372.9L749.9 373.3Z" fill-opacity=".80"/><path d="M616 354.3L630.9 352.3V350.7L616 353.1ZM616 373.3L630.9 373.5V371.9L616 371.3ZM630.9 352.3L645.7 352.2V350.7L630.9 350.7ZM630.9 373.5L645.7 372.1V370.5L630.9 371.9ZM645.7 352.2L660.6 349.3V347.8L645.7 350.7ZM645.7 372.1L660.6 371.8V369.6L645.7 370.5ZM660.6 349.3L675.5 349.9V348.8L660.6 347.8ZM660.6 371.8L675.5 369.9V367.7L660.6 369.6ZM675.5 349.9L690.4 347.7V346.4L675.5 348.8ZM675.5 369.9L690.4 368.9V366.7L675.5 367.7ZM690.4 347.7L705.2 345.4V344L690.4 346.4ZM690.4 368.9L705.2 367.1V365.1L690.4 366.7ZM705.2 345.4L720.1 345V343.5L705.2 344ZM705.2 367.1L720.1 366.6V364.6L705.2 365.1ZM720.1 345L735 343V341.5L720.1 343.5ZM720.1 366.6L735 367.7V365.9L720.1 364.6ZM735 343L749.9 349.1V347.4L735 341.5ZM735 367.7L749.9 373.3V371.3L735 365.9ZM749.9 349.1L764.7 352.2V350.7L749.9 347.4ZM749.9 373.3L764.7 372.9V371.1L749.9 371.3Z" fill-opacity=".90"/><path d="M616 371.3L630.9 371.9V352.3L616 354.3ZM630.9 371.9L645.7 370.5V352.2L630.9 352.3ZM645.7 370.5L660.6 369.6V349.3L645.7 352.2ZM660.6 369.6L675.5 367.7V349.9L660.6 349.3ZM675.5 367.7L690.4 366.7V347.7L675.5 349.9ZM690.4 366.7L705.2 365.1V345.4L690.4 347.7ZM705.2 365.1L720.1 364.6V345L705.2 345.4ZM720.1 364.6L735 365.9V343L720.1 345ZM735 365.9L749.9 371.3V349.1L735 343ZM749.9 371.3L764.7 371.1V352.2L749.9 349.1Z" fill-opacity=".95"/></g><g transform="translate(616 0) scale(14.875 1)"><path vector-effect="non-scaling-stroke" d="M0 372.6 1 374.2 2 369.5 3 369 4 367.5 5 368.2 6 365.9 7 362.5 8 363.5 9 367.3 10 370.8M0 386.6 1 386 2 384.9 3 383.3 4 381.4 5 383.7 6 383.8 7 380.2 8 380 9 385.2 10 383.7M0 375.8 1 376 2 372.9 3 372.9 4 369 5 372.2 6 370.7 7 369.7 8 372.7 9 377.1 10 377.1M0 368 1 370.9 2 368.1 3 366.3 4 363.2 5 363.8 6 366.8 7 364.1 8 366.7 9 372.3 10 371.5M0 381.7 1 380.1 2 382.4 3 383.6 4 385.1 5 381.1 6 379.4 7 377.8 8 380.2 9 386.6 10 382.5M0 351.7 1 349.8 2 349.4 3 347.7 4 348.2 5 346.6 6 345 7 344.4 8 342.8 9 348.7 10 352.7M0 368.3 1 364.5 2 361 3 359.4 4 362.1 5 364 6 361 7 363.4 8 367.6 9 372.9 10 375.3M0 397.8 1 400 2 396.8 3 393 4 393.5 5 386.8 6 390.4 7 389.1 8 391.4 9 397.4 10 394.3M0 387.8 1 388.6 2 390.1 3 392.5 4 392 5 390.8 6 390.1 7 390.6 8 394.2 9 396.3 10 400.1M0 374.9 1 374 2 372.3 3 372.1 4 369.8 5 365.5 6 362 7 362.7 8 366 9 368.6 10 367.6M0 364.4 1 364.4 2 361.4 3 358.3 4 359.5 5 358.2 6 355.6 7 358.6 8 356.1 9 363.8 10 366.3M0 397.1 1 400.3 2 399.9 3 400.4 4 398.4 5 398.9 6 401.2 7 400.7 8 400.6 9 402.4 10 404.1M0 374.9 1 377.5 2 377 3 379.1 4 375.4 5 373.6 6 369.9 7 369.6 8 370.9 9 375.3 10 372.6M0 371.4 1 374.3 2 373.5 3 368.6 4 366.3 5 362 6 362.5 7 365.5 8 366.7 9 372.9 10 369.7M0 368.8 1 369.6 2 368.8 3 369.3 4 370.9 5 371.9 6 369.6 7 369.4 8 371.9 9 374.4 10 377M0 383.6 1 385.2 2 384.1 3 385.4 4 386.4 5 390.1 6 391.8 7 392.1 8 394.3 9 394.2 10 395.6M0 356.6 1 352.9 2 353.6 3 349.9 4 351 5 348.6 6 346.6 7 344.6 8 342.3 9 347.2 10 349.1M0 356.6 1 354 2 354.1 3 351.7 4 353 5 350.3 6 347.9 7 347.7 8 344.8 9 352 10 355.5M0 379.8 1 378 2 372.5 3 373.3 4 370.5 5 369.4 6 374.1 7 377.4 8 379.8 9 385.5 10 385.6M0 369.7 1 373.6 2 375.6 3 373.6 4 374.6 5 373.5 6 374.8 7 373.7 8 377.1 9 380.9 10 380.2M0 348.4 1 346.8 2 346.2 3 345.3 4 346.8 5 346.4 6 344.7 7 343.1 8 342.5 9 348.6 10 352.8M0 379 1 382.9 2 384.2 3 382.5 4 378.2 5 375.2 6 369.7 7 373.8 8 374.4 9 379.1 10 379.5M0 354.7 1 352.7 2 353.9 3 350.2 4 351.5 5 349.5 6 346.8 7 346.5 8 343.5 9 350.1 10 353.3M0 365 1 368.3 2 365.3 3 361.2 4 358.9 5 360.6 6 357.6 7 355.6 8 356.3 9 363.5 10 362.9M0 355.9 1 354.1 2 353.2 3 349.9 4 349.6 5 348.1 6 344.8 7 344.2 8 343.4 9 349.1 10 352.4M0 404.8 1 404.5 2 403.8 3 405.6 4 405.7 5 404.2 6 401.8 7 401.7 8 404.5 9 403.8 10 401.7M0 379.7 1 377.7 2 377 3 372.5 4 370.2 5 370.7 6 372.1 7 368.7 8 371.9 9 378.3 10 378M0 345 1 346.4 2 344.4 3 342.2 4 342 5 339.2 6 337.9 7 334.6 8 336.7 9 341.6 10 343.8M0 387.3 1 386.8 2 384.1 3 386.2 4 384.7 5 384.8 6 386.3 7 383 8 381.6 9 390.3 10 390M0 397.8 1 397.2 2 396.8 3 396.6 4 397.3 5 393.1 6 389 7 390.8 8 390.3 9 395.2 10 395.9M0 387.1 1 390.1 2 393.9 3 393.5 4 394.5 5 395 6 396.5 7 390.2 8 389.9 9 392.9 10 393.9M0 372.2 1 372.4 2 370.3 3 369.8 4 370.7 5 373.4 6 371 7 368.4 8 367.7 9 375.1 10 375.5M0 374.3 1 372.8 2 370.1 3 369.6 4 368.7 5 367 6 364.4 7 367.4 8 367.6 9 373.4 10 372.6M0 348.5 1 347.4 2 347.4 3 345.5 4 345.1 5 342.9 6 341 7 339.1 8 340 9 345.4 10 347.9M0 370.9 1 370.8 2 369.6 3 369.7 4 367.3 5 369.3 6 369.9 7 372 8 373.2 9 377.1 10 376.3M0 371.2 1 371.8 2 369.4 3 368.7 4 367.4 5 367.3 6 370.1 7 367.7 8 369.8 9 376.2 10 376.3M0 345.7 1 344.9 2 344.3 3 342.4 4 341.6 5 338.6 6 337.5 7 335.2 8 336.4 9 341.2 10 341.7M0 356.1 1 353.3 2 352.6 3 349.8 4 350.7 5 348.6 6 346.3 7 345.9 8 343.4 9 349.9 10 353.7M0 372.5 1 372.6 2 374.1 3 370.9 4 367.5 5 367.8 6 367.4 7 366.7 8 372.7 9 377.5 10 378M0 355.5 1 354.2 2 354 3 351 4 351.7 5 348.9 6 346.8 7 346.5 8 343.6 9 349.7 10 353.2M0 342.3 1 343.1 2 342.6 3 341.3 4 341.5 5 341.2 6 339.3 7 336.8 8 338.4 9 343.5 10 344.7M0 382.5 1 381.8 2 381.3 3 380.3 4 377.2 5 376.6 6 371.5 7 374.7 8 371.6 9 376.2 10 376.8M0 355.8 1 353.5 2 353.4 3 350.5 4 351.8 5 348.7 6 346.7 7 346.7 8 344.2 9 350.8 10 354.2M0 352.9 1 350.3 2 350.2 3 347.3 4 347.5 5 345.4 6 344.5 7 342.8 8 341.9 9 348.1 10 350.1M0 371.3 1 372.4 2 372.6 3 369.1 4 367.6 5 367 6 364.3 7 364.5 8 362.4 9 370.2 10 372.7M0 372.1 1 370.6 2 367.2 3 368.1 4 370.2 5 366.9 6 365.4 7 363.1 8 363.8 9 370.2 10 370M0 376.4 1 379.1 2 378.1 3 377 4 377.6 5 374.6 6 375 7 377.2 8 379.6 9 383 10 382.9M0 349.6 1 348.6 2 348.3 3 346.5 4 346.7 5 344.3 6 341.9 7 340.8 8 340.5 9 345.9 10 348.3M0 401.7 1 402.7 2 402.4 3 402.6 4 404.9 5 402.5 6 405 7 406 8 404.4 9 404.8 10 401.9M0 364.8 1 361.3 2 359.4 3 358.1 4 361.3 5 363.3 6 361.9 7 358.8 8 361.1 9 364.8 10 365M0 370.9 1 370.4 2 372.1 3 372.5 4 370.1 5 367.5 6 366.3 7 367.3 8 370.4 9 378.3 10 379.1M0 374.8 1 377.9 2 373.7 3 372.2 4 369.3 5 371.1 6 366.9 7 365.7 8 370.5 9 376.7 10 375.8M0 377.9 1 379.5 2 377.8 3 375.4 4 374.2 5 370.5 6 370.3 7 369.1 8 372.4 9 376.2 10 374.7M0 402.7 1 404.1 2 401 3 399 4 400 5 398 6 396.1 7 400.1 8 398.2 9 397.7 10 393.1M0 377.4 1 375.4 2 378.1 3 379.1 4 377.3 5 378.4 6 378.1 7 376 8 372.9 9 375.7 10 375.5M0 386.1 1 388.2 2 386.4 3 386.2 4 382.6 5 382 6 379.2 7 374.8 8 375.7 9 379.8 10 381.3M0 396.8 1 394.8 2 396.9 3 399.9 4 401.1 5 401.7 6 402.8 7 403.9 8 400.1 9 399.4 10 401.7M0 370 1 369.5 2 366.1 3 361.1 4 359.1 5 357 6 354.5 7 357.9 8 360.8 9 365.5 10 366.4M0 375.9 1 377.5 2 379.3 3 377.7 4 374 5 378 6 376.8 7 380 8 379.3 9 383.8 10 382.4M0 394.1 1 395 2 390.3 3 389.4 4 386.4 5 383.2 6 380.8 7 379.4 8 380.3 9 382.3 10 378.4M0 399.8 1 398 2 398.8 3 399.6 4 398.2 5 398.7 6 396.5 7 395.5 8 393.5 9 396.3 10 399M0 383.8 1 383 2 383.6 3 378.7 4 377.5 5 378.1 6 376.8 7 370 8 371.5 9 377.9 10 380.4M0 387.7 1 386.4 2 386.7 3 385.2 4 384.3 5 385.5 6 382.9 7 389.5 8 390.4 9 393.3 10 391.8M0 387.7 1 388.6 2 387.6 3 381.6 4 375.5 5 374 6 372.5 7 373.5 8 371.7 9 377.6 10 376.8M0 368.6 1 371 2 368.1 3 366.5 4 361.9 5 359.5 6 356.7 7 355 8 358.2 9 365.5 10 366.8M0 355.6 1 353 2 352.5 3 349.6 4 351.1 5 349.8 6 346.2 7 345.6 8 343.2 9 349.4 10 353M0 375.5 1 373.8 2 369.8 3 367.4 4 364.6 5 362.5 6 362.6 7 359.3 8 361.6 9 370.6 10 372.2M0 370.4 1 369.8 2 371 3 369.3 4 367.6 5 364.2 6 363.3 7 361.7 8 361.9 9 370.1 10 370.3M0 365.2 1 365.1 2 363.5 3 361.9 4 359.9 5 360.3 6 357.2 7 361.6 8 361.3 9 366.3 10 370.1M0 364.9 1 363.8 2 362.9 3 364.8 4 364.2 5 368.2 6 369.4 7 370 8 371 9 376.9 10 379.2M0 381.2 1 384.1 2 382.8 3 379.4 4 381.8 5 382.6 6 380.5 7 380.8 8 381 9 381 10 380.5M0 375.6 1 375.9 2 375.4 3 374 4 371.5 5 367.4 6 368.2 7 368.1 8 367.9 9 373.5 10 372.5M0 354.6 1 353.4 2 353.8 3 349.7 4 350.9 5 347.9 6 345.8 7 344.9 8 343 9 349.9 10 353.5M0 384.8 1 384.9 2 384.6 3 385.1 4 388.9 5 388.4 6 387.2 7 385.4 8 383 9 383 10 384.2M0 375.2 1 373.4 2 372.1 3 371.4 4 372.1 5 369.5 6 367.1 7 366.5 8 367.1 9 371.1 10 367.4M0 344.8 1 343.8 2 341.4 3 340.1 4 339.7 5 337.4 6 336.9 7 333.9 8 336.4 9 340.7 10 341.4M0 381.8 1 379.8 2 379.1 3 378.8 4 374.8 5 372 6 368.8 7 370.6 8 372.8 9 377.9 10 378.7M0 392.8 1 391.6 2 391.4 3 391.2 4 392.8 5 388.6 6 387.3 7 388 8 386.4 9 389.7 10 388.8M0 368.6 1 368.4 2 364.9 3 362 4 358.1 5 355 6 353.6 7 354.6 8 359 9 367.1 10 369.7M0 379.2 1 380.3 2 378.1 3 377.3 4 376.1 5 371.8 6 374.7 7 371.7 8 373.4 9 380.1 10 378.3M0 393.8 1 394.6 2 394.6 3 395.8 4 394.7 5 393.9 6 395.7 7 396.2 8 397.7 9 396.7 10 396.7M0 352.8 1 351.6 2 351 3 347.6 4 347.9 5 344.8 6 343.1 7 341.4 8 341.1 9 346.6 10 349.6M0 394.8 1 394.2 2 390.6 3 388.2 4 385.3 5 386.6 6 389.1 7 387.8 8 387.8 9 390.9 10 389.8M0 378.8 1 378.1 2 380 3 378.1 4 376.9 5 373.9 6 371.1 7 371 8 371.2 9 377.1 10 377.1M0 349.8 1 348.1 2 347.4 3 345.7 4 345.4 5 343.3 6 341.7 7 341.1 8 340.3 9 344.9 10 347.1M0 348 1 348.7 2 346.7 3 343.9 4 343 5 341.7 6 340.3 7 338.5 8 338.9 9 343.5 10 345.5M0 351.9 1 350.9 2 350.8 3 348.4 4 348.9 5 346 6 343.9 7 342.8 8 342.2 9 348.3 10 350.5M0 392.2 1 391.5 2 389.4 3 390.3 4 391.9 5 392.6 6 394.4 7 394.8 8 394.9 9 395.7 10 394.6M0 355.7 1 353.1 2 353 3 350.8 4 352.2 5 350.7 6 347.9 7 347.8 8 345.3 9 351.4 10 355.9M0 370.8 1 370.6 2 370.3 3 370.7 4 369.1 5 365.8 6 363.1 7 359.7 8 360.5 9 366.9 10 369.7M0 380.1 1 386.1 2 388.4 3 393.5 4 393.7 5 394.3 6 396.2 7 396.5 8 397.6 9 397 10 398.8M0 366.5 1 368.2 2 369 3 365.4 4 361.1 5 359.3 6 356.8 7 352.2 8 357.9 9 366.4 10 365M0 373.1 1 375.9 2 372.7 3 372.4 4 367.3 5 370.8 6 370.7 7 365.2 8 362.1 9 369.1 10 369.1M0 354.3 1 353.4 2 353.4 3 351.1 4 352.6 5 350.1 6 347.6 7 348.3 8 345.1 9 351.8 10 355.4M0 365.3 1 365.7 2 364 3 361.8 4 359.8 5 354.6 6 358.8 7 356.5 8 358.2 9 363.7 10 362.4M0 393 1 391.4 2 388.2 3 391.6 4 387.8 5 384.8 6 384.3 7 387.4 8 384.1 9 384 10 384.1M0 397.6 1 399.2 2 398.7 3 400 4 399.4 5 399 6 400.1 7 399.7 8 400.4 9 399.5 10 398.2M0 399.7 1 400.9 2 400.6 3 398.7 4 400.2 5 405.7 6 403.6 7 399.8 8 398.2 9 397.5 10 394.8M0 356 1 353.2 2 353.5 3 349.8 4 351 5 349 6 347.2 7 346.3 8 343.4 9 349.9 10 353.5M0 375.2 1 376.5 2 372.1 3 370.6 4 364.6 5 367.6 6 369.3 7 370.5 8 374.1 9 382.5 10 384.2M0 403.6 1 401.2 2 400.8 3 401.4 4 398.9 5 398 6 398.2 7 397.6 8 397.4 9 393.9 10 392.8M0 354.1 1 352 2 352.5 3 349.2 4 350.4 5 348.4 6 346.2 7 344.4 8 342.8 9 349.1 10 351.7M0 397.2 1 397.3 2 394.1 3 396.5 4 395.4 5 394.5 6 390.8 7 386.6 8 385.8 9 385.5 10 386.3M0 404 1 401.9 2 401.9 3 402.1 4 400.8 5 400.7 6 402.7 7 405.4 8 404.1 9 406.1 10 405.5M0 365.8 1 367.1 2 365 3 361.7 4 363.3 5 364.2 6 363 7 364.7 8 368.8 9 373.4 10 374.3M0 375.7 1 375.4 2 375.1 3 375.3 4 372.8 5 374 6 372.3 7 370.9 8 371.8 9 374.9 10 377.1M0 350.6 1 350 2 349.5 3 346.4 4 346.5 5 344.3 6 342 7 340.2 8 339.2 9 345.2 10 346.9M0 346.1 1 347.4 2 347.3 3 345.4 4 344.2 5 342.4 6 341.6 7 341.7 8 341.1 9 346.8 10 349.1M0 344.3 1 345.7 2 346.6 3 344 4 343.5 5 341 6 339.5 7 338.7 8 338.6 9 343.9 10 344M0 372.7 1 372.7 2 373.4 3 372.1 4 368.8 5 361.9 6 362.9 7 361.2 8 363.4 9 366.8 10 364.6M5 341.6 6 299.5 7 336.8M0 408.2 1 408.2 2 408.2 3 408.2 4 408.2 5 408.2 6 408.2 7 408.2 8 408.2 9 408.2 10 408.2" fill="none" stroke="#1c2545" stroke-width="0.6" stroke-opacity="0.3"/></g><g clip-path="url(#c12)" class="b1"><path d="M616 349.8V360.8M616 369.4V382.3" class="wh"/><rect x="610.4" y="360.8" width="11.2" height="8.6" class="bx"/><path d="M610.4 364.6H621.6" class="md"/><path d="M630.9 350.2V361.3M630.9 370.4V382.3" class="wh"/><rect x="625.3" y="361.3" width="11.2" height="9.1" class="bx"/><path d="M625.3 366.5H636.5" class="md"/><path d="M645.7 348.8V360.3M645.7 368.9V381.9" class="wh"/><rect x="640.2" y="360.3" width="11.2" height="8.6" class="bx"/><path d="M640.2 365.1H651.3" class="md"/><path d="M660.6 345V357.4M660.6 367.5V380.9" class="wh"/><rect x="655" y="357.4" width="11.2" height="10.1" class="bx"/><path d="M655 362.2H666.2" class="md"/><path d="M675.5 342.6V356.5M675.5 365.6V379.5" class="wh"/><rect x="669.9" y="356.5" width="11.2" height="9.1" class="bx"/><path d="M669.9 360.3H681.1" class="md"/><path d="M690.4 341.6V355M690.4 364.6V378.5" class="wh"/><rect x="684.8" y="355" width="11.2" height="9.6" class="bx"/><path d="M684.8 359.3H696" class="md"/><path d="M705.2 340.2V353.6M705.2 363.2V377.5" class="wh"/><rect x="699.7" y="353.6" width="11.2" height="9.6" class="bx"/><path d="M699.7 358.4H710.8" class="md"/><path d="M720.1 339.2V353.1M720.1 362.7V376.6" class="wh"/><rect x="714.5" y="353.1" width="11.2" height="9.6" class="bx"/><path d="M714.5 357.9H725.7" class="md"/><path d="M735 340.2V353.6M735 364.1V378.5" class="wh"/><rect x="729.4" y="353.6" width="11.2" height="10.5" class="bx"/><path d="M729.4 359.8H740.6" class="md"/><path d="M749.9 345V358.9M749.9 369.4V381.9" class="wh"/><rect x="744.3" y="358.9" width="11.2" height="10.5" class="bx"/><path d="M744.3 364.6H755.5" class="md"/><path d="M764.7 346.4V360.3M764.7 369.4V382.3" class="wh"/><rect x="759.2" y="360.3" width="11.2" height="9.1" class="bx"/><path d="M759.2 365.1H770.3" class="md"/><circle cx="705.2" cy="299.5" r="1.6"/><path d="M616 383.8V408.2" class="ob"/><path d="M616 340.2V344" class="ob"/><path d="M630.9 384.7V408.2" class="ob"/><path d="M630.9 341.6V344" class="ob"/><path d="M645.7 384.2V408.2" class="ob"/><path d="M645.7 340.2V340.2" class="ob"/><path d="M660.6 382.3V408.2" class="ob"/><path d="M660.6 339.2V341.6" class="ob"/><path d="M675.5 380.4V408.2" class="ob"/><path d="M675.5 338.3V339.2" class="ob"/><path d="M690.4 379.5V408.2" class="ob"/><path d="M690.4 335.9V337.8" class="ob"/><path d="M705.2 378.5V408.2" class="ob"/><path d="M705.2 335.4V336.8" class="ob"/><path d="M720.1 378.5V408.2" class="ob"/><path d="M720.1 333V335.4" class="ob"/><path d="M735 379.9V408.2" class="ob"/><path d="M735 335.4V336.8" class="ob"/><path d="M749.9 384.2V408.2" class="ob"/><path d="M749.9 339.2V341.6" class="ob"/><path d="M764.7 384.2V408.2" class="ob"/><path d="M764.7 339.2V341.6" class="ob"/></g><path d="M604.1 396.7H607.1" class="tk"/><text x="601.8" y="401.6" class="yl">0</text><path d="M604.1 372.8H607.1" class="tk"/><text x="601.8" y="377.6" class="yl">5</text><path d="M604.1 348.8H607.1" class="tk"/><text x="601.8" y="353.7" class="yl">10</text><path d="M604.1 324.8H607.1" class="tk"/><text x="601.8" y="329.7" class="yl">15</text><path d="M604.1 300.9H607.1" class="tk"/><text x="601.8" y="305.8" class="yl">20</text>
<rect x="36.4" y="416.7" width="166.6" height="16.5" fill="#d3d3d3" stroke="#9a9a9a" stroke-width="1"/><text x="119.7" y="429" class="st">Cluster 13</text><rect x="36.4" y="433.5" width="166.6" height="118.6" fill="#f3f3f3" stroke="#a8a8a8" stroke-width="0.9"/><rect x="38.3" y="433.5" width="14.4" height="118.6" fill="#a4a6b6"/><rect x="52.8" y="433.5" width="29.8" height="118.6" fill="#a3cd9f"/><rect x="82.5" y="433.5" width="29.8" height="118.6" fill="#f6cda3"/><rect x="112.3" y="433.5" width="59.5" height="118.6" fill="#eeb3a5"/><rect x="171.8" y="433.5" width="14.9" height="118.6" fill="#deb1d2"/><rect x="186.6" y="433.5" width="14.1" height="118.6" fill="#b09dd1"/><g stroke="#000" stroke-width="0.8"><path d="M36.4 540.6H203" stroke-opacity="0.025"/><path d="M36.4 524.8H203" stroke-opacity="0.045"/><path d="M36.4 509H203" stroke-opacity="0.025"/><path d="M36.4 493.1H203" stroke-opacity="0.045"/><path d="M36.4 477.3H203" stroke-opacity="0.025"/><path d="M36.4 461.5H203" stroke-opacity="0.045"/><path d="M36.4 445.7H203" stroke-opacity="0.025"/><path d="M45.3 433.5V552.1" stroke-opacity=".04"/><path d="M60.2 433.5V552.1" stroke-opacity=".04"/><path d="M75.1 433.5V552.1" stroke-opacity=".04"/><path d="M90 433.5V552.1" stroke-opacity=".04"/><path d="M104.8 433.5V552.1" stroke-opacity=".04"/><path d="M119.7 433.5V552.1" stroke-opacity=".04"/><path d="M134.6 433.5V552.1" stroke-opacity=".04"/><path d="M149.4 433.5V552.1" stroke-opacity=".04"/><path d="M164.3 433.5V552.1" stroke-opacity=".04"/><path d="M179.2 433.5V552.1" stroke-opacity=".04"/><path d="M194.1 433.5V552.1" stroke-opacity=".04"/></g><g fill="#1c2545" clip-path="url(#c13)"><path d="M45.3 547L60.2 547V539.4L45.3 541.3ZM60.2 547L75.1 547V536.2L60.2 539.4ZM75.1 547L90 547V535.6L75.1 536.2ZM90 547L104.8 547V535.6L90 535.6ZM104.8 547L119.7 547V535.6L104.8 535.6ZM119.7 547L134.6 547V536.2L119.7 535.6ZM134.6 547L149.4 547V543.2L134.6 536.2ZM149.4 547L164.3 547V536.8L149.4 543.2ZM164.3 547L179.2 547V538.1L164.3 536.8ZM179.2 547L194.1 547V543.2L179.2 538.1Z" fill-opacity=".05"/><path d="M45.3 461.5L60.2 462.8V462.8L45.3 461.5ZM60.2 462.8L75.1 464V464L60.2 462.8ZM75.1 464L90 464V464L75.1 464ZM90 464L104.8 467.8V467.8L90 464ZM104.8 467.8L119.7 465.9V465.9L104.8 467.8ZM119.7 465.9L134.6 465.9V465.9L119.7 465.9ZM134.6 465.9L149.4 446.3V438.7L134.6 465.9ZM149.4 446.3L164.3 446.9V446.9L149.4 438.7ZM164.3 446.9L179.2 463.4V463.4L164.3 446.9ZM179.2 463.4L194.1 461.5V461.5L179.2 463.4Z" fill-opacity=".10"/><path d="M45.3 465.1L60.2 466.5V462.8L45.3 461.5ZM45.3 541.3L60.2 539.4V535.8L45.3 537.1ZM60.2 466.5L75.1 467.6V464L60.2 462.8ZM60.2 539.4L75.1 536.2V533L60.2 535.8ZM75.1 467.6L90 468.1V464L75.1 464ZM75.1 536.2L90 535.6V532.7L75.1 533ZM90 468.1L104.8 471.5V467.8L90 464ZM90 535.6L104.8 535.6V532.7L90 532.7ZM104.8 471.5L119.7 470V465.9L104.8 467.8ZM104.8 535.6L119.7 535.6V532.7L104.8 532.7ZM119.7 470L134.6 469.3V465.9L119.7 465.9ZM119.7 535.6L134.6 536.2V533.2L119.7 532.7ZM134.6 469.3L149.4 450.5V446.3L134.6 465.9ZM134.6 536.2L149.4 543.2V537.6L134.6 533.2ZM149.4 450.5L164.3 449.7V446.9L149.4 446.3ZM149.4 543.2L164.3 536.8V531.5L149.4 537.6ZM164.3 449.7L179.2 466.2V463.4L164.3 446.9ZM164.3 536.8L179.2 538.1V533.9L164.3 531.5ZM179.2 466.2L194.1 464.3V461.5L179.2 463.4ZM179.2 538.1L194.1 543.2V538.6L179.2 533.9Z" fill-opacity=".20"/><path d="M45.3 468.7L60.2 470.2V466.5L45.3 465.1ZM45.3 537.1L60.2 535.8V532.1L45.3 532.9ZM60.2 470.2L75.1 471.2V467.6L60.2 466.5ZM60.2 535.8L75.1 533V529.7L60.2 532.1ZM75.1 471.2L90 472.1V468.1L75.1 467.6ZM75.1 533L90 532.7V529.9L75.1 529.7ZM90 472.1L104.8 475.2V471.5L90 468.1ZM90 532.7L104.8 532.7V529.9L90 529.9ZM104.8 475.2L119.7 474V470L104.8 471.5ZM104.8 532.7L119.7 532.7V529.9L104.8 529.9ZM119.7 474L134.6 472.8V469.3L119.7 470ZM119.7 532.7L134.6 533.2V530.1L119.7 529.9ZM134.6 472.8L149.4 454.7V450.5L134.6 469.3ZM134.6 533.2L149.4 537.6V532.1L134.6 530.1ZM149.4 454.7L164.3 452.5V449.7L149.4 450.5ZM149.4 537.6L164.3 531.5V526.2L149.4 532.1ZM164.3 452.5L179.2 469V466.2L164.3 449.7ZM164.3 531.5L179.2 533.9V529.7L164.3 526.2ZM179.2 469L194.1 467.2V464.3L179.2 466.2ZM179.2 533.9L194.1 538.6V534L179.2 529.7Z" fill-opacity=".25"/><path d="M45.3 528.7L60.2 528.5V524.9L45.3 524.5ZM45.3 472.3L60.2 474V470.2L45.3 468.7ZM45.3 532.9L60.2 532.1V528.5L45.3 528.7ZM60.2 528.5L75.1 526.5V523.3L60.2 524.9ZM60.2 474L75.1 474.9V471.2L60.2 470.2ZM60.2 532.1L75.1 529.7V526.5L60.2 528.5ZM75.1 526.5L90 527V524.2L75.1 523.3ZM75.1 474.9L90 476.2V472.1L75.1 471.2ZM75.1 529.7L90 529.9V527L75.1 526.5ZM90 527L104.8 527V524.2L90 524.2ZM90 476.2L104.8 478.8V475.2L90 472.1ZM90 529.9L104.8 529.9V527L90 527ZM104.8 527L119.7 527V524.2L104.8 524.2ZM104.8 478.8L119.7 478.1V474L104.8 475.2ZM104.8 529.9L119.7 529.9V527L104.8 527ZM119.7 527L134.6 527.1V524L119.7 524.2ZM119.7 478.1L134.6 476.2V472.8L119.7 474ZM119.7 529.9L134.6 530.1V527.1L119.7 527ZM134.6 527.1L149.4 526.6V521.1L134.6 524ZM134.6 476.2L149.4 458.8V454.7L134.6 472.8ZM134.6 530.1L149.4 532.1V526.6L134.6 527.1ZM149.4 526.6L164.3 520.9V515.6L149.4 521.1ZM149.4 458.8L164.3 455.3V452.5L149.4 454.7ZM149.4 532.1L164.3 526.2V520.9L149.4 526.6ZM164.3 520.9L179.2 525.6V521.4L164.3 515.6ZM164.3 455.3L179.2 471.8V469L164.3 452.5ZM164.3 526.2L179.2 529.7V525.6L164.3 520.9ZM179.2 525.6L194.1 529.5V524.9L179.2 521.4ZM179.2 471.8L194.1 470V467.2L179.2 469ZM179.2 529.7L194.1 534V529.5L179.2 525.6Z" fill-opacity=".30"/><path d="M45.3 475.9L60.2 477.7V474L45.3 472.3ZM60.2 477.7L75.1 478.5V474.9L60.2 474ZM75.1 478.5L90 480.2V476.2L75.1 474.9ZM90 480.2L104.8 482.5V478.8L90 476.2ZM104.8 482.5L119.7 482.1V478.1L104.8 478.8ZM119.7 482.1L134.6 479.6V476.2L119.7 478.1ZM134.6 479.6L149.4 463V458.8L134.6 476.2ZM149.4 463L164.3 458.1V455.3L149.4 458.8ZM164.3 458.1L179.2 474.5V471.8L164.3 455.3ZM179.2 474.5L194.1 472.9V470L179.2 471.8Z" fill-opacity=".35"/><path d="M45.3 520.4L60.2 521.3V481.4L45.3 479.5ZM45.3 479.5L60.2 481.4V477.7L45.3 475.9ZM45.3 524.5L60.2 524.9V521.3L45.3 520.4ZM60.2 521.3L75.1 520.1V482.1L60.2 481.4ZM60.2 481.4L75.1 482.1V478.5L60.2 477.7ZM60.2 524.9L75.1 523.3V520.1L60.2 521.3ZM75.1 520.1L90 521.3V484.3L75.1 482.1ZM75.1 482.1L90 484.3V480.2L75.1 478.5ZM75.1 523.3L90 524.2V521.3L75.1 520.1ZM90 521.3L104.8 521.3V486.2L90 484.3ZM90 484.3L104.8 486.2V482.5L90 480.2ZM90 524.2L104.8 524.2V521.3L90 521.3ZM104.8 521.3L119.7 521.3V486.2L104.8 486.2ZM104.8 486.2L119.7 486.2V482.1L104.8 482.5ZM104.8 524.2L119.7 524.2V521.3L104.8 521.3ZM119.7 521.3L134.6 521V483L119.7 486.2ZM119.7 486.2L134.6 483V479.6L119.7 482.1ZM119.7 524.2L134.6 524V521L119.7 521.3ZM134.6 521L149.4 515.6V467.2L134.6 483ZM134.6 483L149.4 467.2V463L134.6 479.6ZM134.6 524L149.4 521.1V515.6L134.6 521ZM149.4 515.6L164.3 510.2V460.9L149.4 467.2ZM149.4 467.2L164.3 460.9V458.1L149.4 463ZM149.4 521.1L164.3 515.6V510.2L149.4 515.6ZM164.3 510.2L179.2 517.2V477.3L164.3 460.9ZM164.3 460.9L179.2 477.3V474.5L164.3 458.1ZM164.3 515.6L179.2 521.4V517.2L164.3 510.2ZM179.2 517.2L194.1 520.4V475.7L179.2 477.3ZM179.2 477.3L194.1 475.7V472.9L179.2 474.5ZM179.2 521.4L194.1 524.9V520.4L179.2 517.2Z" fill-opacity=".40"/></g><g transform="translate(45.32 0) scale(14.875 1)"><path vector-effect="non-scaling-stroke" d="M0 533 1 533.7 2 534.2 3 534.1 4 533.7 5 532 6 533.7 7 529.8 8 526.5 9 533.1 10 534.2M0 534.1 1 534.8 2 533.8 3 535.5 4 537.3 5 536.2 6 538.1 7 537.7 8 536.9 9 534.9 10 536.4M0 523.8 1 523.1 2 522.8 3 524.3 4 525.5 5 525.1 6 526.7 7 521.4 8 517.3 9 520.8 10 522.4M0 533 1 533.8 2 534.3 3 535.9 4 537.3 5 537.6 6 536.7 7 531.7 8 528.4 9 530.5 10 529.6M0 476 1 478.1 2 476.3 3 477.8 4 481.1 5 478.6 6 477.4 7 460.1 8 458.2 9 475.2 10 473.5M0 528.4 1 528 2 526.8 3 528.7 4 530.4 5 529.4 6 527.8 7 522 8 519.9 9 526.5 10 525.4M0 542 1 542.4 2 545.1 3 545 4 545.2 5 544.5 6 543.2 7 539.9 8 538.7 9 541.8 10 539.9M0 539 1 538.9 2 538.6 3 540.1 4 538.9 5 540.4 6 541.5 7 542 8 537 9 535.8 10 538M0 521.9 1 522.4 2 520.1 3 520.4 4 521 5 519.3 6 520.5 7 511.1 8 510.1 9 514.8 10 519M0 520.1 1 518.5 2 517.6 3 520.6 4 519.7 5 517.3 6 516 7 510.1 8 504.4 9 514.2 10 518.5M0 481.9 1 483 2 484 3 486.6 4 488.2 5 486.7 6 482 7 464.6 8 458.1 9 474.8 10 472.8M0 523.8 1 527.1 2 522.9 3 527.2 4 527.6 5 527.1 6 524.1 7 518.8 8 509.1 9 516.4 10 519.4M0 519.6 1 523.6 2 522 3 524.3 4 522.1 5 520.4 6 519.7 7 514 8 505.8 9 512.9 10 517.5M0 518.7 1 522.2 2 521.3 3 522.3 4 524.7 5 525.4 6 524.1 7 517 8 510.6 9 521.2 10 523M0 537.8 1 537.7 2 537.8 3 536.7 4 534.9 5 533.9 6 534 7 530.2 8 523.2 9 528.5 10 530.2M0 470.5 1 470.6 2 470.5 3 471 4 474.2 5 472.6 6 470.7 7 445.7 8 450.7 9 466.8 10 464.7M0 517.4 1 519.7 2 518.4 3 518.9 4 517.6 5 517.3 6 517.8 7 513.9 8 508.1 9 514.6 10 517.3M0 515.2 1 514.4 2 513 3 514.5 4 514.3 5 514.6 6 515.7 7 512.1 8 503.4 9 511.9 10 516.6M0 517.3 1 521.3 2 520.1 3 521.8 4 524.3 5 521.3 6 517.8 7 513.3 8 509.1 9 514 10 518.3M0 480.8 1 483.7 2 484.2 3 486.9 4 486.8 5 486.2 6 484.5 7 469 8 460.6 9 476.9 10 474.4M0 540.6 1 538.9 2 540.4 3 538.5 4 535.5 5 536.3 6 535.9 7 533.8 8 532.4 9 535.1 10 535M0 516.6 1 516.6 2 515.2 3 517.5 4 516.8 5 515.1 6 513.9 7 508.9 8 501.8 9 511.4 10 514.1M0 466.7 1 468 2 467.6 3 469.9 4 472.7 5 469.4 6 467.6 7 442 8 449.1 9 465.9 10 463.9M0 520.7 1 520 2 516.8 3 516.3 4 516.1 5 516.6 6 519.9 7 515.3 8 509.9 9 519.3 10 521.1M0 530.5 1 532.3 2 532.2 3 532.3 4 530.6 5 530.3 6 529.3 7 526.8 8 523.1 9 528.5 10 528.1M0 540.9 1 540.2 2 541.6 3 542.9 4 541.2 5 541.3 6 541.1 7 537.1 8 533.3 9 532.5 10 532.7M0 476 1 478.6 2 478.2 3 480.3 4 482.3 5 481.1 6 477.8 7 457.5 8 456.5 9 473.9 10 472.8M0 532 1 532.4 2 534.4 3 536.5 4 535.8 5 537.1 6 532.7 7 532.2 8 530.5 9 534.3 10 533.1M0 535.7 1 535.8 2 534 3 535.6 4 534.1 5 535.2 6 535.2 7 534.8 8 530.2 9 535.5 10 537.1M0 476.9 1 477.8 2 479.3 3 480.6 4 482.1 5 482.6 6 481.1 7 465.3 8 458.8 9 475.1 10 472.8M0 519.2 1 522 2 521 3 522.6 4 520.6 5 521 6 519.7 7 513.2 8 509.5 9 514.8 10 517.9M0 525.4 1 526.6 2 523.8 3 521.8 4 519.1 5 519.9 6 519.7 7 511.7 8 504.4 9 511.8 10 515M0 536.2 1 535.5 2 533.9 3 533.3 4 533 5 532.2 6 532.5 7 529.9 8 525.1 9 532.4 10 532.2M0 541 1 543.3 2 543.6 3 541.1 4 543.1 5 543.3 6 542.4 7 543.7 8 541.7 9 544.5 10 543.9M0 473.1 1 475.6 2 476.2 3 477.9 4 480.2 5 478.1 6 476.3 7 459 8 457.1 9 473.5 10 471M0 482.1 1 485.6 2 484.8 3 486.9 4 488 5 488.6 6 485 7 471.6 8 462.6 9 480.1 10 477.8M0 523.7 1 524.8 2 523.7 3 524.7 4 523.1 5 521.5 6 520.4 7 514.3 8 506.3 9 512.1 10 515.3M0 524.9 1 526.8 2 525.2 3 525.6 4 522.9 5 521.9 6 522.3 7 515.3 8 512.6 9 521.5 10 523.7M0 535.8 1 536.2 2 535.4 3 534.7 4 537.5 5 537.9 6 538.2 7 537.6 8 536.4 9 538 10 538.1M0 534.9 1 534.2 2 531.1 3 534.7 4 535.2 5 537.3 6 539.3 7 538.7 8 538.4 9 538.9 10 539.6M0 531.8 1 531.3 2 532.5 3 534.3 4 534.1 5 531.7 6 532.5 7 531.1 8 528.2 9 529.6 10 532.1M0 522.3 1 523.3 2 524.7 3 525.9 4 526.6 5 526.1 6 525.9 7 525.6 8 524.7 9 528.4 10 529.8M0 526.4 1 526.6 2 523.7 3 526.7 4 526.6 5 525.5 6 524.2 7 518.3 8 512.1 9 516.1 10 521.2M0 481.1 1 482.8 2 482.2 3 483.5 4 485.1 5 485.8 6 483.8 7 469.8 8 462.6 9 479.5 10 479M0 466.6 1 467 2 469.1 3 469 4 472.6 5 469.9 6 468 7 441.6 8 447.8 9 464.3 10 462.7M0 525.8 1 526.4 2 525.1 3 524.7 4 523.9 5 525.6 6 525 7 522.8 8 516.3 9 519.9 10 523M0 529.4 1 531.5 2 530.6 3 531.3 4 529 5 529 6 529.2 7 527.9 8 522.1 9 525.4 10 526.2M0 541.6 1 542.7 2 540.5 3 540.7 4 541.9 5 542.7 6 542.3 7 540 8 540.5 9 541.7 10 543.5M0 518.3 1 519.9 2 517.6 3 518.7 4 518.3 5 517.4 6 517.4 7 513.5 8 511.6 9 520.7 10 523.2M0 515.9 1 518.2 2 514.9 3 518.5 4 517.6 5 519.3 6 518.3 7 513.9 8 507.7 9 512 10 514.3M0 463.2 1 465.3 2 466.7 3 466.8 4 471.1 5 471.3 6 470.2 7 446.3 8 450 9 466.8 10 464.5M0 481.7 1 484.7 2 485.3 3 488.9 4 490.5 5 490.2 6 483.6 7 468.1 8 460.8 9 477.1 10 474.7M0 520.6 1 523.5 2 519.8 3 521.5 4 521.6 5 518.5 6 516.9 7 509.9 8 502 9 510.8 10 512.8M0 516.4 1 517.5 2 515.4 3 518.5 4 519.2 5 522.1 6 521.2 7 518.4 8 512.4 9 518.6 10 520.1M0 478.8 1 480.7 2 481 3 482.1 4 484.2 5 484.7 6 481.4 7 463.7 8 458.5 9 474.4 10 473.2M0 535.2 1 534.8 2 534.5 3 537.5 4 537.8 5 536.4 6 536.8 7 535.1 8 535.3 9 535.3 10 535.2M0 521.9 1 521.6 2 518.2 3 518.6 4 519.8 5 520.6 6 521.7 7 517.5 8 508.3 9 516.1 10 516.7M0 474 1 476.5 2 475.6 3 476.3 4 477.8 5 476.1 6 473.6 7 451.6 8 451.7 9 469 10 466.8M0 519.3 1 521.5 2 521.4 3 522.8 4 523.8 5 522.4 6 519.5 7 512.8 8 506.5 9 518.3 10 521M0 519.7 1 521.6 2 520.1 3 520.1 4 518.7 5 517.6 6 519.3 7 514.1 8 508.2 9 515.6 10 518.1M0 470.4 1 473.6 2 474.3 3 474 4 477.9 5 477.3 6 475.3 7 452.7 8 453.3 9 469.9 10 467.8M0 516.8 1 516.5 2 513.8 3 515.2 4 514.9 5 515.8 6 515.9 7 512.5 8 508.2 9 518 10 520M0 472.4 1 473.8 2 475.3 3 474.8 4 476.4 5 477.1 6 475.9 7 455.3 8 454.5 9 471 10 470.4M0 522.6 1 524.9 2 525.1 3 527.4 4 526.7 5 528.2 6 528.3 7 522.3 8 517.3 9 522.4 10 525.7M0 522.1 1 521.5 2 521.5 3 521.7 4 520 5 521.1 6 522.1 7 515.8 8 512.7 9 520.9 10 522.9M0 478.3 1 479.5 2 480.8 3 482.3 4 486.1 5 484.8 6 480.5 7 459.9 8 459.5 9 475.5 10 473.6M0 531.5 1 530.9 2 530.5 3 531.2 4 531.8 5 531.3 6 532.4 7 531.1 8 525.8 9 531.7 10 532.3M0 474.6 1 475.5 2 475.7 3 477.7 4 481.1 5 479.8 6 476.9 7 456.4 8 455.7 9 471.4 10 469.7M0 515.7 1 515.7 2 513.1 3 515.2 4 514.7 5 514.6 6 515.7 7 509.9 8 507.4 9 515.4 10 521.4M0 481 1 481.6 2 482.7 3 485.4 4 486.9 5 486.4 6 484.5 7 469.1 8 462 9 478.4 10 476.7M0 478 1 479.7 2 479.3 3 480.2 4 481.1 5 480.6 6 478.1 7 455.7 8 455.2 9 470.3 10 467.8M0 480.5 1 483.1 2 485.3 3 486.5 4 487.9 5 488 6 484.1 7 468.4 8 461.3 9 477.3 10 475.9M0 524.1 1 527.3 2 524.5 3 521.6 4 523.8 5 524.6 6 522.1 7 516.5 8 512.7 9 517.4 10 521.5M0 526.7 1 527.7 2 526.4 3 526.2 4 524.4 5 527.3 6 527.3 7 521.7 8 516.7 9 525 10 529.8M0 523.2 1 522.6 2 520.1 3 521.5 4 520.6 5 518.9 6 518.4 7 514.3 8 510.2 9 517 10 523.1M0 528.5 1 529.1 2 525.9 3 525.9 4 528.6 5 529.7 6 529.8 7 527.9 8 521.6 9 525.3 10 525.8M0 472.3 1 472.9 2 471 3 472.3 4 475.3 5 473.5 6 473 7 450.8 8 452.4 9 469.5 10 467.3M0 534.2 1 534.2 2 534.1 3 536.4 4 537.7 5 537.3 6 535.7 7 529.2 8 522 9 525.6 10 528.1M0 478.5 1 482.1 2 482 3 486.3 4 487.3 5 488.4 6 484.3 7 468.9 8 461.1 9 476.6 10 475.6M0 523.5 1 524.2 2 523.1 3 524.9 4 524.2 5 525.8 6 523 7 518.4 8 514.5 9 519.5 10 521.4M0 463.8 1 464.1 2 466.2 3 465.1 4 470.1 5 468.6 6 467.7 7 443 8 449.3 9 466.3 10 464M0 519.3 1 520.4 2 519.8 3 518.1 4 515.6 5 514.4 6 513.7 7 507 8 500.5 9 512.6 10 517.2M0 478.4 1 479.5 2 480.4 3 481.7 4 482.3 5 482.8 6 482.2 7 464.6 8 459 9 475.7 10 474.4M0 465.8 1 466.8 2 468.5 3 469.5 4 472.5 5 471.6 6 470.6 7 446.6 8 451.6 9 468 10 467.1M0 517.1 1 517.5 2 514.2 3 517.8 4 517.6 5 518.3 6 515.4 7 506.7 8 499.4 9 510.3 10 515.9M0 521.1 1 523.1 2 520.9 3 522.6 4 524.2 5 524.5 6 524.4 7 519.1 8 514.4 9 521.6 10 523.9M0 533.3 1 533.8 2 535.4 3 534.2 4 532.9 5 533.7 6 532.1 7 529.5 8 526.4 9 527.1 10 530.1M0 515.5 1 517.1 2 514.5 3 513.6 4 513.8 5 513.7 6 514.3 7 506.2 8 500.7 9 509.2 10 512.5M0 474.8 1 477.9 2 479.1 3 481.6 4 483.7 5 482.3 6 478.9 7 459.4 8 457 9 473.7 10 471.8M0 480 1 482.1 2 480.9 3 482.4 4 484.9 5 484 6 481.6 7 463.4 8 458.4 9 472.8 10 471.9" fill="none" stroke="#1c2545" stroke-width="0.6" stroke-opacity="0.3"/></g><g clip-path="url(#c13)" class="b1"><path d="M45.3 461.5V486.2M45.3 513.4V547" class="wh"/><rect x="39.7" y="486.2" width="11.2" height="27.2" class="bx"/><path d="M39.7 499.5H50.9" class="md"/><path d="M60.2 462.8V488.7M60.2 515.3V547" class="wh"/><rect x="54.6" y="488.7" width="11.2" height="26.6" class="bx"/><path d="M54.6 503.3H65.8" class="md"/><path d="M75.1 464V489.4M75.1 514.7V547" class="wh"/><rect x="69.5" y="489.4" width="11.2" height="25.3" class="bx"/><path d="M69.5 503.9H80.7" class="md"/><path d="M90 464V491.9M90 516.6V547" class="wh"/><rect x="84.4" y="491.9" width="11.2" height="24.7" class="bx"/><path d="M84.4 507.1H95.5" class="md"/><path d="M104.8 467.8V493.1M104.8 516.6V547" class="wh"/><rect x="99.2" y="493.1" width="11.2" height="23.4" class="bx"/><path d="M99.2 507.1H110.4" class="md"/><path d="M119.7 465.9V493.1M119.7 516.6V547" class="wh"/><rect x="114.1" y="493.1" width="11.2" height="23.4" class="bx"/><path d="M114.1 507.1H125.3" class="md"/><path d="M134.6 465.9V490.6M134.6 515.9V547" class="wh"/><rect x="129" y="490.6" width="11.2" height="25.3" class="bx"/><path d="M129 505.8H140.2" class="md"/><path d="M149.4 438.7V474.2M149.4 506.4V547" class="wh"/><rect x="143.9" y="474.2" width="11.2" height="32.3" class="bx"/><path d="M143.9 488.1H155" class="md"/><path d="M164.3 446.9V468.5M164.3 501.4V547" class="wh"/><rect x="158.7" y="468.5" width="11.2" height="32.9" class="bx"/><path d="M158.7 483.7H169.9" class="md"/><path d="M179.2 463.4V483.7M179.2 510.2V547" class="wh"/><rect x="173.6" y="483.7" width="11.2" height="26.6" class="bx"/><path d="M173.6 496.3H184.8" class="md"/><path d="M194.1 461.5V483M194.1 512.8V547" class="wh"/><rect x="188.5" y="483" width="11.2" height="29.8" class="bx"/><path d="M188.5 497.6H199.7" class="md"/></g><path d="M33.4 524.8H36.4" class="tk"/><text x="31.1" y="529.7" class="yl">0</text><path d="M33.4 493.1H36.4" class="tk"/><text x="31.1" y="498" class="yl">5</text><path d="M33.4 461.5H36.4" class="tk"/><text x="31.1" y="466.4" class="yl">10</text>
<rect x="226.6" y="416.7" width="166.6" height="16.5" fill="#d3d3d3" stroke="#9a9a9a" stroke-width="1"/><text x="309.9" y="429" class="st">Cluster 14</text><rect x="226.6" y="433.5" width="166.6" height="118.6" fill="#f3f3f3" stroke="#a8a8a8" stroke-width="0.9"/><rect x="228.6" y="433.5" width="14.4" height="118.6" fill="#a4a6b6"/><rect x="243" y="433.5" width="29.8" height="118.6" fill="#a3cd9f"/><rect x="272.7" y="433.5" width="29.8" height="118.6" fill="#f6cda3"/><rect x="302.5" y="433.5" width="59.5" height="118.6" fill="#eeb3a5"/><rect x="362" y="433.5" width="14.9" height="118.6" fill="#deb1d2"/><rect x="376.9" y="433.5" width="14.1" height="118.6" fill="#b09dd1"/><g stroke="#000" stroke-width="0.8"><path d="M226.6 540H393.2" stroke-opacity="0.025"/><path d="M226.6 525.5H393.2" stroke-opacity="0.045"/><path d="M226.6 511H393.2" stroke-opacity="0.025"/><path d="M226.6 496.4H393.2" stroke-opacity="0.045"/><path d="M226.6 481.9H393.2" stroke-opacity="0.025"/><path d="M226.6 467.4H393.2" stroke-opacity="0.045"/><path d="M226.6 452.8H393.2" stroke-opacity="0.025"/><path d="M226.6 438.3H393.2" stroke-opacity="0.045"/><path d="M235.6 433.5V552.1" stroke-opacity=".04"/><path d="M250.4 433.5V552.1" stroke-opacity=".04"/><path d="M265.3 433.5V552.1" stroke-opacity=".04"/><path d="M280.2 433.5V552.1" stroke-opacity=".04"/><path d="M295.1 433.5V552.1" stroke-opacity=".04"/><path d="M309.9 433.5V552.1" stroke-opacity=".04"/><path d="M324.8 433.5V552.1" stroke-opacity=".04"/><path d="M339.7 433.5V552.1" stroke-opacity=".04"/><path d="M354.6 433.5V552.1" stroke-opacity=".04"/><path d="M369.4 433.5V552.1" stroke-opacity=".04"/><path d="M384.3 433.5V552.1" stroke-opacity=".04"/></g><g fill="#1c2545" clip-path="url(#c14)"><path d="M235.6 547.3L250.4 547.3V536.4L235.6 529.9ZM250.4 547.3L265.3 547.3V536.4L250.4 536.4ZM265.3 547.3L280.2 547.3V537.9L265.3 536.4ZM280.2 547.3L295.1 547.3V534.2L280.2 537.9ZM295.1 547.3L309.9 547.3V532L295.1 534.2ZM309.9 547.3L324.8 547.3V530.6L309.9 532ZM324.8 547.3L339.7 547.3V533.5L324.8 530.6ZM339.7 547.3L354.6 547.3V532L339.7 533.5ZM354.6 547.3L369.4 543.7V530.6L354.6 532ZM369.4 543.7L384.3 547.3V534.9L369.4 530.6Z" fill-opacity=".10"/><path d="M235.6 443.4L250.4 439.8V439.8L235.6 443.4ZM250.4 439.8L265.3 447V447L250.4 439.8ZM265.3 447L280.2 450.9V448.5L265.3 447ZM280.2 450.9L295.1 457.9V457.9L280.2 448.5ZM295.1 457.9L309.9 458.6V455.7L295.1 457.9ZM309.9 458.6L324.8 456.9V455.7L309.9 455.7ZM324.8 456.9L339.7 447.7V447.7L324.8 455.7ZM339.7 447.7L354.6 441.9V441.9L339.7 447.7ZM354.6 441.9L369.4 444.1V444.1L354.6 441.9ZM369.4 444.1L384.3 444.1V444.1L369.4 444.1Z" fill-opacity=".20"/><path d="M235.6 529.9L250.4 536.4V531.6L235.6 525.5ZM250.4 536.4L265.3 536.4V531.8L250.4 531.6ZM265.3 536.4L280.2 537.9V533.7L265.3 531.8ZM280.2 537.9L295.1 534.2V530.7L280.2 533.7ZM295.1 534.2L309.9 532V528.8L295.1 530.7ZM309.9 532L324.8 530.6V527.5L309.9 528.8ZM324.8 530.6L339.7 533.5V529.1L324.8 527.5ZM339.7 533.5L354.6 532V527L339.7 529.1ZM354.6 532L369.4 530.6V526L354.6 527ZM369.4 530.6L384.3 534.9V529.7L369.4 526Z" fill-opacity=".25"/><path d="M235.6 525.5L250.4 531.6V526.8L235.6 521.1ZM250.4 531.6L265.3 531.8V527.2L250.4 526.8ZM265.3 531.8L280.2 533.7V529.6L265.3 527.2ZM280.2 533.7L295.1 530.7V527.2L280.2 529.6ZM295.1 530.7L309.9 528.8V525.5L295.1 527.2ZM309.9 528.8L324.8 527.5V524.5L309.9 525.5ZM324.8 527.5L339.7 529.1V524.8L324.8 524.5ZM339.7 529.1L354.6 527V522L339.7 524.8ZM354.6 527L369.4 526V521.4L354.6 522ZM369.4 526L384.3 529.7V524.5L369.4 521.4Z" fill-opacity=".30"/><path d="M235.6 448L250.4 444.7V439.8L235.6 443.4ZM250.4 444.7L265.3 451.6V447L250.4 439.8ZM265.3 451.6L280.2 455.8V450.9L265.3 447ZM280.2 455.8L295.1 461.8V457.9L280.2 450.9ZM295.1 461.8L309.9 463V458.6L295.1 457.9ZM309.9 463L324.8 461.6V456.9L309.9 458.6ZM324.8 461.6L339.7 451.8V447.7L324.8 456.9ZM339.7 451.8L354.6 446V441.9L339.7 447.7ZM354.6 446L369.4 447.9V444.1L354.6 441.9ZM369.4 447.9L384.3 447.2V444.1L369.4 444.1Z" fill-opacity=".35"/><path d="M235.6 521.1L250.4 526.8V522L235.6 516.8ZM235.6 452.7L250.4 449.6V444.7L235.6 448ZM250.4 526.8L265.3 527.2V522.7L250.4 522ZM250.4 449.6L265.3 456.2V451.6L250.4 444.7ZM265.3 527.2L280.2 529.6V525.4L265.3 522.7ZM265.3 456.2L280.2 460.8V455.8L265.3 451.6ZM280.2 529.6L295.1 527.2V523.8L280.2 525.4ZM280.2 460.8L295.1 465.8V461.8L280.2 455.8ZM295.1 527.2L309.9 525.5V522.2L295.1 523.8ZM295.1 465.8L309.9 467.5V463L295.1 461.8ZM309.9 525.5L324.8 524.5V521.4L309.9 522.2ZM309.9 467.5L324.8 466.3V461.6L309.9 463ZM324.8 524.5L339.7 524.8V520.4L324.8 521.4ZM324.8 466.3L339.7 455.9V451.8L324.8 461.6ZM339.7 524.8L354.6 522V517L339.7 520.4ZM339.7 455.9L354.6 450.1V446L339.7 451.8ZM354.6 522L369.4 521.4V516.9L354.6 517ZM354.6 450.1L369.4 451.7V447.9L354.6 446ZM369.4 521.4L384.3 524.5V519.3L369.4 516.9ZM369.4 451.7L384.3 450.4V447.2L369.4 447.9Z" fill-opacity=".40"/><path d="M235.6 516.8L250.4 522V517.2L235.6 512.4ZM235.6 457.3L250.4 454.6V449.6L235.6 452.7ZM250.4 522L265.3 522.7V518.1L250.4 517.2ZM250.4 454.6L265.3 460.8V456.2L250.4 449.6ZM265.3 522.7L280.2 525.4V521.3L265.3 518.1ZM265.3 460.8L280.2 465.8V460.8L265.3 456.2ZM280.2 525.4L295.1 523.8V520.3L280.2 521.3ZM280.2 465.8L295.1 469.7V465.8L280.2 460.8ZM295.1 523.8L309.9 522.2V519L295.1 520.3ZM295.1 469.7L309.9 471.9V467.5L295.1 465.8ZM309.9 522.2L324.8 521.4V518.4L309.9 519ZM309.9 471.9L324.8 471V466.3L309.9 467.5ZM324.8 521.4L339.7 520.4V516.1L324.8 518.4ZM324.8 471L339.7 460V455.9L324.8 466.3ZM339.7 520.4L354.6 517V512L339.7 516.1ZM339.7 460L354.6 454.1V450.1L339.7 455.9ZM354.6 517L369.4 516.9V512.3L354.6 512ZM354.6 454.1L369.4 455.4V451.7L354.6 450.1ZM369.4 516.9L384.3 519.3V514L369.4 512.3ZM369.4 455.4L384.3 453.5V450.4L369.4 451.7Z" fill-opacity=".45"/><path d="M235.6 512.4L250.4 517.2V512.4L235.6 508.1ZM235.6 462L250.4 459.5V454.6L235.6 457.3ZM250.4 517.2L265.3 518.1V513.5L250.4 512.4ZM250.4 459.5L265.3 465.3V460.8L250.4 454.6ZM265.3 518.1L280.2 521.3V517.1L265.3 513.5ZM265.3 465.3L280.2 470.8V465.8L265.3 460.8ZM280.2 521.3L295.1 520.3V516.8L280.2 517.1ZM280.2 470.8L295.1 473.6V469.7L280.2 465.8ZM295.1 520.3L309.9 519V515.7L295.1 516.8ZM295.1 473.6L309.9 476.4V471.9L295.1 469.7ZM309.9 519L324.8 518.4V515.3L309.9 515.7ZM309.9 476.4L324.8 475.7V471L309.9 471.9ZM324.8 518.4L339.7 516.1V511.7L324.8 515.3ZM324.8 475.7L339.7 464V460L324.8 471ZM339.7 516.1L354.6 512V507L339.7 511.7ZM339.7 464L354.6 458.2V454.1L339.7 460ZM354.6 512L369.4 512.3V507.7L354.6 507ZM354.6 458.2L369.4 459.2V455.4L354.6 454.1ZM369.4 512.3L384.3 514V508.8L369.4 507.7ZM369.4 459.2L384.3 456.6V453.5L369.4 455.4Z" fill-opacity=".50"/><path d="M235.6 508.1L250.4 512.4V464.5L235.6 466.6ZM235.6 466.6L250.4 464.5V459.5L235.6 462ZM250.4 512.4L265.3 513.5V469.9L250.4 464.5ZM250.4 464.5L265.3 469.9V465.3L250.4 459.5ZM265.3 513.5L280.2 517.1V475.7L265.3 469.9ZM265.3 469.9L280.2 475.7V470.8L265.3 465.3ZM280.2 517.1L295.1 516.8V477.5L280.2 475.7ZM280.2 475.7L295.1 477.5V473.6L280.2 470.8ZM295.1 516.8L309.9 515.7V480.8L295.1 477.5ZM295.1 477.5L309.9 480.8V476.4L295.1 473.6ZM309.9 515.7L324.8 515.3V480.4L309.9 480.8ZM309.9 480.8L324.8 480.4V475.7L309.9 476.4ZM324.8 515.3L339.7 511.7V468.1L324.8 480.4ZM324.8 480.4L339.7 468.1V464L324.8 475.7ZM339.7 511.7L354.6 507V462.3L339.7 468.1ZM339.7 468.1L354.6 462.3V458.2L339.7 464ZM354.6 507L369.4 507.7V463L354.6 462.3ZM354.6 462.3L369.4 463V459.2L354.6 458.2ZM369.4 507.7L384.3 508.8V459.7L369.4 463ZM369.4 463L384.3 459.7V456.6L369.4 459.2Z" fill-opacity=".55"/></g><g transform="translate(235.55 0) scale(14.875 1)"><path vector-effect="non-scaling-stroke" d="M0 511.5 1 513.6 2 513.3 3 517.4 4 518.6 5 515.6 6 512.5 7 510.7 8 507.5 9 510.2 10 509.4M0 525 1 527.3 2 529.7 3 530.8 4 529.7 5 528.3 6 527.1 7 525 8 521.5 9 519.8 10 524.6M0 518.6 1 521.8 2 522.3 3 524 4 523.1 5 522.3 6 519.5 7 515.6 8 511.8 9 512.5 10 514.4M0 503 1 507.9 2 509.8 3 513.3 4 515.3 5 512.2 6 512.8 7 509.8 8 502.3 9 504.7 10 506.6M0 513.8 1 516.5 2 516.1 3 519.8 4 519.5 5 516.1 6 514 7 508.8 8 502.7 9 503.2 10 502.5M0 505.2 1 509.5 2 511.6 3 515.2 4 515.2 5 514.2 6 511.2 7 502.4 8 497.6 9 498.3 10 499.5M0 464.8 1 462.6 2 469.5 3 475.2 4 476.7 5 479 6 478.5 7 468 8 462 9 461.9 10 458M0 513 1 516.9 2 519.6 3 520.7 4 521.8 5 521.9 6 520.1 7 518 8 512.4 9 512.5 10 513.2M0 523.7 1 525.5 2 525.1 3 529.9 4 530.5 5 529 6 527.2 7 525 8 520.6 9 524 10 520.5M0 467.4 1 463.3 2 469.5 3 473.8 4 476 5 477.3 6 477 7 468.5 8 463.5 9 465.7 10 461.2M0 511.5 1 514.3 2 518.7 3 522.1 4 521.4 5 518 6 516.6 7 513.1 8 508.1 9 507.7 10 508.6M0 523.6 1 524.8 2 527 3 529.9 4 529.7 5 527.1 6 526.2 7 525.2 8 524.8 9 520.8 10 521.8M0 527.3 1 526.8 2 530.2 3 530.1 4 530 5 530.1 6 531.8 7 531.7 8 531.4 9 531.8 10 534.2M0 449.8 1 444.8 2 450.2 3 452.8 4 460.8 5 458.9 6 457.5 7 451.2 8 446.1 9 448.2 10 447.3M0 526.4 1 534.3 2 536.2 3 538.7 4 537.5 5 537.8 6 541.1 7 543.8 8 543.4 9 537.8 10 541.3M0 466.7 1 464.2 2 470.2 3 474.6 4 477.9 5 483 6 483.1 7 469.4 8 463.9 9 465.1 10 460.8M0 521.7 1 525.6 2 526.5 3 527.5 4 526.4 5 525 6 525.3 7 523.5 8 518.5 9 517.6 10 520M0 502.6 1 506.9 2 506.4 3 510.9 4 511.2 5 510.4 6 510.2 7 505.3 8 498 9 499.1 10 500.5M0 537.5 1 540.5 2 542.9 3 544 4 545 5 544.1 6 543.9 7 544.5 8 541.7 9 537.2 10 540.7M0 527.3 1 529.5 2 529 3 529.5 4 528.4 5 524 6 523 7 520.4 8 519.4 9 517.7 10 519.2M0 510.9 1 517.1 2 518.9 3 520.4 4 518.5 5 518.4 6 522 7 518.7 8 518.2 9 521.3 10 520.8M0 521.8 1 524.6 2 526.4 3 527.6 4 531.4 5 528.8 6 525.6 7 523.3 8 523.2 9 521.2 10 523.1M0 505.7 1 508.5 2 507 3 510.5 4 513 5 511.6 6 511.5 7 511.6 8 505.5 9 504.4 10 506.3M0 504 1 507.8 2 512.1 3 514.1 4 512.6 5 511.7 6 510.7 7 504.9 8 502.7 9 502.7 10 504.1M0 539.9 1 539.9 2 542.4 3 541 4 540.1 5 540.6 6 540.7 7 538.7 8 537.2 9 532.1 10 535M0 506.3 1 512.4 2 512.7 3 517.1 4 516.1 5 514.8 6 514.2 7 504.1 8 500.3 9 502.5 10 504.9M0 468 1 468.3 2 473.4 3 480.9 4 481.3 5 486.5 6 484.1 7 473.2 8 467.9 9 468.1 10 463.8M0 537.8 1 541.2 2 543.3 3 544.6 4 545.1 5 545 6 543.5 7 544.3 8 542.7 9 539.1 10 538.1M0 525 1 529.3 2 527.8 3 528.8 4 530.1 5 529.6 6 529.5 7 530.1 8 530.2 9 526.8 10 529.7M0 512.2 1 518.9 2 523.4 3 526.7 4 528 5 529.8 6 529.3 7 529.2 8 527.6 9 523.2 10 523.5M0 465.3 1 463.7 2 470.7 3 473.7 4 473.3 5 474.8 6 474.8 7 462.2 8 457.5 9 458.8 10 457.5M0 515.2 1 516 2 515.5 3 520.9 4 520 5 521.1 6 519.3 7 516 8 510.9 9 510.7 10 513.6M0 502.8 1 507.9 2 508.7 3 514 4 513.7 5 511.1 6 510.9 7 508.6 8 504.2 9 505.3 10 506.7M0 507.7 1 510.4 2 513.2 3 517.1 4 517 5 516.7 6 517.5 7 514.1 8 507.9 9 511.8 10 513.3M0 515.4 1 521.4 2 522 3 527.9 4 528.7 5 527.9 6 529.8 7 530.2 8 527.1 9 526.1 10 527.5M0 456.7 1 453.1 2 462.1 3 467.9 4 471.6 5 473.7 6 474 7 463.8 8 458.5 9 461.3 10 458M0 508.3 1 513.5 2 516.3 3 520.2 4 520 5 517.8 6 513 7 510.3 8 505.2 9 509.9 10 507.1M0 515.7 1 519.9 2 520.7 3 525 4 524.9 5 524.9 6 526.8 7 525.5 8 522.3 9 523.7 10 525.7M0 514.2 1 519.1 2 518 3 522.3 4 524.9 5 521.9 6 523.1 7 520.2 8 517.6 9 514.9 10 516.6M0 506.5 1 510.4 2 515.5 3 518.7 4 518.3 5 517.5 6 517.9 7 515.9 8 510.6 9 510.7 10 515.8M0 508.2 1 514.4 2 514.6 3 518.3 4 517.3 5 515.2 6 514.9 7 511.3 8 505.3 9 506.1 10 507.2M0 461.1 1 457.1 2 462.8 3 467.7 4 471.7 5 470.9 6 469.5 7 460 8 454.3 9 456.1 10 454.3M0 456.4 1 451.6 2 456.8 3 461.3 4 468.2 5 470.1 6 472.3 7 462.4 8 456.8 9 459 10 455.8M0 469.5 1 467.4 2 470.4 3 474.4 4 477.3 5 480 6 480.2 7 469.4 8 461.6 9 460.8 10 459M0 457.2 1 454.8 2 459.4 3 463.2 4 468.8 5 468.4 6 468.5 7 457.3 8 451.5 9 452.2 10 450.2M0 508.3 1 515.9 2 515.9 3 518.9 4 518.1 5 519.1 6 518 7 515.5 8 508 9 507.8 10 509.4M0 506.2 1 515 2 517.2 3 521.2 4 520.2 5 519 6 519.5 7 512.7 8 510.3 9 508.5 10 509.1M0 517.6 1 521.6 2 521.7 3 524.8 4 526.5 5 525 6 525.7 7 524.6 8 521.2 9 520.8 10 523.3M0 455.4 1 451.1 2 460 3 463.5 4 467.6 5 467 6 468 7 457.6 8 453 9 455.5 10 453.7M0 518.3 1 519.3 2 518.1 3 520.5 4 523.1 5 520 6 517 7 513.4 8 511.5 9 508.7 10 509.4M0 517.7 1 520.9 2 521.4 3 524.4 4 523.1 5 520.8 6 518.6 7 515.4 8 509.5 9 511.6 10 508.7M0 505.6 1 507.4 2 507 3 513.2 4 512.3 5 510.4 6 509 7 504.6 8 498.4 9 497.1 10 498.2M0 517 1 522.9 2 523.4 3 524.1 4 523.6 5 523.9 6 526.4 7 523.1 8 521 9 519.6 10 523.9M0 508.7 1 512.4 2 507 3 512.7 4 512.3 5 510.7 6 509.7 7 505.5 8 500.5 9 499.4 10 500.2M0 527.8 1 527.6 2 528.8 3 533 4 534.2 5 533.2 6 532.1 7 529.3 8 527.7 9 524.9 10 526.2M0 461.7 1 457.6 2 465.2 3 472.1 4 474.3 5 477.9 6 477.8 7 465.7 8 459.9 9 461.6 10 457.8M0 512 1 515.6 2 514.8 3 517.6 4 518.6 5 515.9 6 516 7 513.2 8 507.2 9 509 10 511.6M0 527.6 1 530.9 2 533.2 3 533.3 4 534.7 5 534.8 6 532.7 7 533.5 8 530 9 526.3 10 529.6M0 469.7 1 466.6 2 471.9 3 476.9 4 477.5 5 481.8 6 480.3 7 467.3 8 461.3 9 461 10 456.7M0 533.3 1 534.4 2 535.5 3 536.2 4 538.8 5 538.9 6 538.9 7 539.5 8 540.2 9 539.6 10 544.3M0 543.6 1 545.1 2 544.6 3 543.7 4 544.9 5 542.7 6 543.3 7 542.7 8 540.5 9 538.4 10 541.2M0 507.1 1 510.1 2 512.2 3 514.9 4 515.4 5 514.8 6 513.1 7 509.6 8 503 9 502.6 10 505.7M0 511.9 1 517.9 2 520.5 3 521.3 4 521.9 5 521.8 6 520.2 7 518.3 8 516.1 9 514.5 10 512M0 449 1 448.8 2 455.8 3 456.7 4 466.8 5 466.5 6 467.5 7 457.9 8 453 9 453.8 10 452.1M0 514.1 1 515.5 2 517.3 3 521.1 4 517.6 5 518.4 6 518 7 519 8 519 9 518 10 519.5M0 522.2 1 524.3 2 524.7 3 528.3 4 529.6 5 529 6 528.5 7 526.6 8 528.4 9 522.8 10 522.6M0 515.2 1 522.5 2 521.9 3 525.6 4 525 5 525.9 6 526 7 525.4 8 520.9 9 520.5 10 521.4M0 450.7 1 447.1 2 452.5 3 456.4 4 465.7 5 466.5 6 466.5 7 455.7 8 448.7 9 449.1 10 447M0 469.1 1 467.7 2 473.9 3 479.6 4 480.1 5 482.8 6 483.4 7 469.2 8 463 9 463.8 10 461M0 461.6 1 458.3 2 464.4 3 470 4 473.9 5 476.3 6 474.7 7 462.7 8 456.9 9 459.4 10 458.2M0 451.4 1 447 2 453.4 3 454.6 4 463.8 5 464.9 6 465 7 455.3 8 449.6 9 450.7 10 450.2M0 465 1 459.9 2 465.6 3 469.7 4 474.1 5 475.1 6 474.4 7 462.8 8 456 9 458.3 10 455.3M0 464.4 1 459.1 2 465.4 3 471 4 472.2 5 470.6 6 470.2 7 460.4 8 455.2 9 456.8 10 455.3M0 511.1 1 515.2 2 514 3 518.8 4 518.9 5 516.9 6 516.2 7 513.3 8 509 9 509.3 10 512.1M0 514.5 1 517.9 2 519.7 3 524.1 4 524.2 5 523.2 6 521.7 7 519.3 8 513.2 9 513.6 10 515.2M0 506.5 1 510.1 2 512.2 3 518.6 4 518.5 5 518.9 6 517.5 7 513.5 8 504.9 9 505.6 10 504.2M0 457.6 1 454.3 2 462.5 3 467.5 4 468.9 5 468.7 6 468.2 7 461 8 456.2 9 456.8 10 454.4M0 509.6 1 510.5 2 516.2 3 519.1 4 517.7 5 519.2 6 520 7 518.8 8 513.7 9 514.2 10 517.3M0 513.2 1 515.7 2 514.4 3 518.6 4 518.7 5 519.7 6 519.3 7 514.8 8 507.4 9 508.3 10 508.8M0 505.8 1 507.8 2 508.6 3 511.4 4 513.3 5 512.3 6 511.2 7 507.1 8 504.5 9 503.7 10 505.5M0 528 1 530.5 2 533.2 3 535.8 4 534.7 5 532 6 530.5 7 527.7 8 524.7 9 522 10 526.4M0 520.5 1 523.4 2 524.1 3 524 4 523 5 519 6 518.7 7 516.8 8 510.4 9 511.1 10 511.2M0 512.1 1 515.2 2 517 3 519.9 4 520.4 5 517.9 6 517.4 7 513.3 8 505.7 9 509.9 10 512.8M0 528.8 1 529.7 2 527.5 3 528.3 4 528.2 5 528.2 6 524.6 7 522 8 516.5 9 514.2 10 515.1M0 466 1 464.6 2 467.8 3 470.5 4 473.4 5 475.7 6 474 7 461.2 8 456 9 455.3 10 453.5M0 460 1 457.3 2 462 3 467.7 4 472.1 5 473.1 6 473.4 7 460.1 8 455.9 9 454.4 10 453.2M0 458 1 455.7 2 461.7 3 465.2 4 468.9 5 468.2 6 466 7 457.3 8 450.4 9 453.7 10 451.9M0 511.7 1 517.5 2 515.5 3 517 4 516.4 5 514.2 6 513.9 7 508.9 8 503.1 9 502 10 505.4M0 457.5 1 454.5 2 460.4 3 465 4 469.9 5 474.1 6 475.9 7 465.7 8 459.6 9 459.3 10 456.8M0 519.2 1 523.1 2 521.5 3 524.8 4 524.8 5 522 6 520 7 514.4 8 513 9 517.3 10 520.5" fill="none" stroke="#1c2545" stroke-width="0.6" stroke-opacity="0.3"/></g><g clip-path="url(#c14)" class="b1"><path d="M235.6 443.4V473.2M235.6 500.8V540" class="wh"/><rect x="230" y="473.2" width="11.2" height="27.6" class="bx"/><path d="M230 486.3H241.1" class="md"/><path d="M250.4 439.8V472.5M250.4 504.4V547.3" class="wh"/><rect x="244.8" y="472.5" width="11.2" height="32" class="bx"/><path d="M244.8 488.4H256" class="md"/><path d="M265.3 447V476.8M265.3 505.9V547.3" class="wh"/><rect x="259.7" y="476.8" width="11.2" height="29.1" class="bx"/><path d="M259.7 490.6H270.9" class="md"/><path d="M280.2 448.5V482.6M280.2 510.2V547.3" class="wh"/><rect x="274.6" y="482.6" width="11.2" height="27.6" class="bx"/><path d="M274.6 496.4H285.8" class="md"/><path d="M295.1 457.9V484.8M295.1 511V547.3" class="wh"/><rect x="289.5" y="484.8" width="11.2" height="26.2" class="bx"/><path d="M289.5 499.3H300.6" class="md"/><path d="M309.9 455.7V487M309.9 510.2V543.7" class="wh"/><rect x="304.3" y="487" width="11.2" height="23.3" class="bx"/><path d="M304.3 499.3H315.5" class="md"/><path d="M324.8 455.7V487M324.8 510.2V543.7" class="wh"/><rect x="319.2" y="487" width="11.2" height="23.3" class="bx"/><path d="M319.2 500.1H330.4" class="md"/><path d="M339.7 447.7V475.4M339.7 504.4V547.3" class="wh"/><rect x="334.1" y="475.4" width="11.2" height="29.1" class="bx"/><path d="M334.1 489.9H345.3" class="md"/><path d="M354.6 441.9V468.8M354.6 498.6V543.7" class="wh"/><rect x="349" y="468.8" width="11.2" height="29.8" class="bx"/><path d="M349 481.9H360.1" class="md"/><path d="M369.4 444.1V470.3M369.4 500.1V543.7" class="wh"/><rect x="363.8" y="470.3" width="11.2" height="29.8" class="bx"/><path d="M363.8 484.8H375" class="md"/><path d="M384.3 444.1V467.4M384.3 500.1V547.3" class="wh"/><rect x="378.7" y="467.4" width="11.2" height="32.7" class="bx"/><path d="M378.7 482.6H389.9" class="md"/><path d="M235.6 544.4V547.3" class="ob"/><path d="M309.9 544.4V547.3" class="ob"/><path d="M324.8 544.4V547.3" class="ob"/><path d="M354.6 544.4V547.3" class="ob"/><circle cx="369.4" cy="545.8" r="1.6"/></g><path d="M223.6 525.5H226.6" class="tk"/><text x="221.3" y="530.4" class="yl">0</text><path d="M223.6 496.4H226.6" class="tk"/><text x="221.3" y="501.3" class="yl">4</text><path d="M223.6 467.4H226.6" class="tk"/><text x="221.3" y="472.3" class="yl">8</text><path d="M223.6 438.3H226.6" class="tk"/><text x="221.3" y="443.2" class="yl">12</text>
<rect x="416.8" y="416.7" width="166.6" height="16.5" fill="#d3d3d3" stroke="#9a9a9a" stroke-width="1"/><text x="500.1" y="429" class="st">Cluster 15</text><rect x="416.8" y="433.5" width="166.6" height="118.6" fill="#f3f3f3" stroke="#a8a8a8" stroke-width="0.9"/><rect x="418.8" y="433.5" width="14.4" height="118.6" fill="#a4a6b6"/><rect x="433.2" y="433.5" width="29.8" height="118.6" fill="#a3cd9f"/><rect x="463" y="433.5" width="29.8" height="118.6" fill="#f6cda3"/><rect x="492.7" y="433.5" width="59.5" height="118.6" fill="#eeb3a5"/><rect x="552.2" y="433.5" width="14.9" height="118.6" fill="#deb1d2"/><rect x="567.1" y="433.5" width="14.1" height="118.6" fill="#b09dd1"/><g stroke="#000" stroke-width="0.8"><path d="M416.8 549.4H583.4" stroke-opacity="0.025"/><path d="M416.8 533.3H583.4" stroke-opacity="0.045"/><path d="M416.8 517.2H583.4" stroke-opacity="0.025"/><path d="M416.8 501H583.4" stroke-opacity="0.045"/><path d="M416.8 484.9H583.4" stroke-opacity="0.025"/><path d="M416.8 468.8H583.4" stroke-opacity="0.045"/><path d="M416.8 452.6H583.4" stroke-opacity="0.025"/><path d="M416.8 436.5H583.4" stroke-opacity="0.045"/><path d="M425.8 433.5V552.1" stroke-opacity=".04"/><path d="M440.6 433.5V552.1" stroke-opacity=".04"/><path d="M455.5 433.5V552.1" stroke-opacity=".04"/><path d="M470.4 433.5V552.1" stroke-opacity=".04"/><path d="M485.3 433.5V552.1" stroke-opacity=".04"/><path d="M500.1 433.5V552.1" stroke-opacity=".04"/><path d="M515 433.5V552.1" stroke-opacity=".04"/><path d="M529.9 433.5V552.1" stroke-opacity=".04"/><path d="M544.8 433.5V552.1" stroke-opacity=".04"/><path d="M559.6 433.5V552.1" stroke-opacity=".04"/><path d="M574.5 433.5V552.1" stroke-opacity=".04"/></g><g fill="#1c2545" clip-path="url(#c15)"><path d="M425.8 547.5L440.6 547.5V507.5L425.8 506.2ZM440.6 547.5L455.5 547.5V508.8L440.6 507.5ZM455.5 547.5L470.4 547.5V509.4L455.5 508.8ZM470.4 547.5L485.3 547.5V506.8L470.4 509.4ZM485.3 547.5L500.1 547.5V504.3L485.3 506.8ZM500.1 547.5L515 547.5V504.9L500.1 504.3ZM515 547.5L529.9 547.5V512.6L515 504.9ZM529.9 547.5L544.8 547.5V512L529.9 512.6ZM544.8 547.5L559.6 547.5V505.6L544.8 512ZM559.6 547.5L574.5 547.5V507.5L559.6 505.6Z" fill-opacity=".20"/><path d="M425.8 458.4L440.6 449.8V437.1L425.8 443ZM440.6 449.8L455.5 456V437.8L440.6 437.1ZM455.5 456L470.4 456.6V439.7L455.5 437.8ZM470.4 456.6L485.3 459V437.8L470.4 439.7ZM485.3 459L500.1 456.6V443L485.3 437.8ZM500.1 456.6L515 454.8V441L500.1 443ZM515 454.8L529.9 462.3V443L515 441ZM529.9 462.3L544.8 459.2V441L529.9 443ZM544.8 459.2L559.6 455.3V437.8L544.8 441ZM559.6 455.3L574.5 454.7V439.7L559.6 437.8Z" fill-opacity=".40"/><path d="M425.8 506.2L440.6 507.5V505L425.8 504ZM440.6 507.5L455.5 508.8V506.3L440.6 505ZM455.5 508.8L470.4 509.4V507L455.5 506.3ZM470.4 509.4L485.3 506.8V504.4L470.4 507ZM485.3 506.8L500.1 504.3V502.3L485.3 504.4ZM500.1 504.3L515 504.9V502.9L500.1 502.3ZM515 504.9L529.9 512.6V510.2L515 502.9ZM529.9 512.6L544.8 512V509.6L529.9 510.2ZM544.8 512L559.6 505.6V503.3L544.8 509.6ZM559.6 505.6L574.5 507.5V505L559.6 503.3Z" fill-opacity=".45"/><path d="M425.8 504L440.6 505V502.6L425.8 501.8ZM425.8 460.6L440.6 452.6V449.8L425.8 458.4ZM440.6 505L455.5 506.3V503.9L440.6 502.6ZM440.6 452.6L455.5 458.4V456L440.6 449.8ZM455.5 506.3L470.4 507V504.5L455.5 503.9ZM455.5 458.4L470.4 459V456.6L455.5 456ZM470.4 507L485.3 504.4V501.9L470.4 504.5ZM470.4 459L485.3 460.9V459L470.4 456.6ZM485.3 504.4L500.1 502.3V500.3L485.3 501.9ZM485.3 460.9L500.1 459V456.6L485.3 459ZM500.1 502.3L515 502.9V501L500.1 500.3ZM500.1 459L515 457.5V454.8L500.1 456.6ZM515 502.9L529.9 510.2V507.7L515 501ZM515 457.5L529.9 464.5V462.3L515 454.8ZM529.9 510.2L544.8 509.6V507.1L529.9 507.7ZM529.9 464.5L544.8 461.6V459.2L529.9 462.3ZM544.8 509.6L559.6 503.3V501.1L544.8 507.1ZM544.8 461.6L559.6 457.8V455.3L544.8 459.2ZM559.6 503.3L574.5 505V502.6L559.6 501.1ZM559.6 457.8L574.5 457.1V454.7L559.6 455.3Z" fill-opacity=".55"/><path d="M425.8 462.8L440.6 455.5V452.6L425.8 460.6ZM440.6 455.5L455.5 460.8V458.4L440.6 452.6ZM455.5 460.8L470.4 461.5V459L455.5 458.4ZM470.4 461.5L485.3 462.9V460.9L470.4 459ZM485.3 462.9L500.1 461.5V459L485.3 460.9ZM500.1 461.5L515 460.1V457.5L500.1 459ZM515 460.1L529.9 466.7V464.5L515 457.5ZM529.9 466.7L544.8 464V461.6L529.9 464.5ZM544.8 464L559.6 460.2V457.8L544.8 461.6ZM559.6 460.2L574.5 459.5V457.1L559.6 457.8Z" fill-opacity=".65"/><path d="M425.8 501.8L440.6 502.6V500.1L425.8 499.6ZM440.6 502.6L455.5 503.9V501.4L440.6 500.1ZM455.5 503.9L470.4 504.5V502.1L455.5 501.4ZM470.4 504.5L485.3 501.9V499.5L470.4 502.1ZM485.3 501.9L500.1 500.3V498.4L485.3 499.5ZM500.1 500.3L515 501V499L500.1 498.4ZM515 501L529.9 507.7V505.3L515 499ZM529.9 507.7L544.8 507.1V504.6L529.9 505.3ZM544.8 507.1L559.6 501.1V498.9L544.8 504.6ZM559.6 501.1L574.5 502.6V500.1L559.6 498.9Z" fill-opacity=".70"/><path d="M425.8 465L440.6 458.4V455.5L425.8 462.8ZM440.6 458.4L455.5 463.2V460.8L440.6 455.5ZM455.5 463.2L470.4 463.9V461.5L455.5 460.8ZM470.4 463.9L485.3 464.9V462.9L470.4 461.5ZM485.3 464.9L500.1 463.9V461.5L485.3 462.9ZM500.1 463.9L515 462.7V460.1L500.1 461.5ZM515 462.7L529.9 468.9V466.7L515 460.1ZM529.9 468.9L544.8 466.5V464L529.9 466.7ZM544.8 466.5L559.6 462.6V460.2L544.8 464ZM559.6 462.6L574.5 461.9V459.5L559.6 460.2Z" fill-opacity=".75"/><path d="M425.8 467.2L440.6 461.2V458.4L425.8 465ZM425.8 499.6L440.6 500.1V497.7L425.8 497.4ZM440.6 461.2L455.5 465.6V463.2L440.6 458.4ZM440.6 500.1L455.5 501.4V499L440.6 497.7ZM455.5 465.6L470.4 466.3V463.9L455.5 463.2ZM455.5 501.4L470.4 502.1V499.6L455.5 499ZM470.4 466.3L485.3 466.9V464.9L470.4 463.9ZM470.4 502.1L485.3 499.5V497L470.4 499.6ZM485.3 466.9L500.1 466.3V463.9L485.3 464.9ZM485.3 499.5L500.1 498.4V496.4L485.3 497ZM500.1 466.3L515 465.4V462.7L500.1 463.9ZM500.1 498.4L515 499V497.1L500.1 496.4ZM515 465.4L529.9 471.1V468.9L515 462.7ZM515 499L529.9 505.3V502.8L515 497.1ZM529.9 471.1L544.8 468.9V466.5L529.9 468.9ZM529.9 505.3L544.8 504.6V502.2L529.9 502.8ZM544.8 468.9L559.6 465V462.6L544.8 466.5ZM544.8 504.6L559.6 498.9V496.7L544.8 502.2ZM559.6 465L574.5 464.4V461.9L559.6 462.6ZM559.6 498.9L574.5 500.1V497.7L559.6 496.7Z" fill-opacity=".80"/><path d="M425.8 469.4L440.6 464.1V461.2L425.8 467.2ZM425.8 497.4L440.6 497.7V495.2L425.8 495.2ZM440.6 464.1L455.5 468.1V465.6L440.6 461.2ZM440.6 497.7L455.5 499V496.5L440.6 495.2ZM455.5 468.1L470.4 468.7V466.3L455.5 465.6ZM455.5 499L470.4 499.6V497.2L455.5 496.5ZM470.4 468.7L485.3 468.8V466.9L470.4 466.3ZM470.4 499.6L485.3 497V494.6L470.4 497.2ZM485.3 468.8L500.1 468.7V466.3L485.3 466.9ZM485.3 497L500.1 496.4V494.5L485.3 494.6ZM500.1 468.7L515 468V465.4L500.1 466.3ZM500.1 496.4L515 497.1V495.1L500.1 494.5ZM515 468L529.9 473.3V471.1L515 465.4ZM515 497.1L529.9 502.8V500.4L515 495.1ZM529.9 473.3L544.8 471.3V468.9L529.9 471.1ZM529.9 502.8L544.8 502.2V499.7L529.9 500.4ZM544.8 471.3L559.6 467.4V465L544.8 468.9ZM544.8 502.2L559.6 496.7V494.5L544.8 499.7ZM559.6 467.4L574.5 466.8V464.4L559.6 465ZM559.6 496.7L574.5 497.7V495.2L559.6 494.5Z" fill-opacity=".90"/><path d="M425.8 495.2L440.6 495.2V464.1L425.8 469.4ZM440.6 495.2L455.5 496.5V468.1L440.6 464.1ZM455.5 496.5L470.4 497.2V468.7L455.5 468.1ZM470.4 497.2L485.3 494.6V468.8L470.4 468.7ZM485.3 494.6L500.1 494.5V468.7L485.3 468.8ZM500.1 494.5L515 495.1V468L500.1 468.7ZM515 495.1L529.9 500.4V473.3L515 468ZM529.9 500.4L544.8 499.7V471.3L529.9 473.3ZM544.8 499.7L559.6 494.5V467.4L544.8 471.3ZM559.6 494.5L574.5 495.2V466.8L559.6 467.4Z" fill-opacity=".95"/></g><g transform="translate(425.77 0) scale(14.875 1)"><path vector-effect="non-scaling-stroke" d="M0 487.6 1 492.3 2 491.1 3 494.8 4 491.7 5 494.7 6 493.5 7 499 8 496.9 9 492.7 10 493.2M0 487.3 1 486.5 2 488 3 490.9 4 488.3 5 489.1 6 489.7 7 495.3 8 492.9 9 481.5 10 484M0 488.5 1 491.4 2 493.5 3 495.1 4 495.7 5 498.3 6 498.9 7 501.1 8 497.3 9 492.4 10 497.6M0 517.3 1 522.3 2 520.8 3 523.1 4 522.7 5 520.5 6 517.9 7 524.2 8 524.7 9 521.6 10 522.3M0 512.5 1 510.3 2 510.9 3 508.8 4 505.8 5 509.3 6 514.7 7 519.6 8 519.8 9 514.1 10 511.7M0 509.7 1 514.2 2 517.8 3 518.4 4 517.6 5 521.2 6 522.6 7 525.7 8 521.3 9 513.6 10 508.6M0 500.4 1 501.7 2 504.1 3 504.4 4 497.9 5 502 6 506.6 7 509.2 8 513.8 9 510.3 10 508.5M0 533.3 1 536.5 2 537.7 3 534 4 535 5 530 6 530.7 7 533.6 8 533.6 9 528.8 10 528.8M0 472.8 1 465.1 2 470.3 3 472.1 4 472.4 5 471 6 473.5 7 480.5 8 475.5 9 473.5 10 473.4M0 468.5 1 465.4 2 468.5 3 469.1 4 470.4 5 470 6 468.1 7 475.9 8 476.5 9 474.2 10 474.2M0 457.2 1 452.2 2 453 3 458.9 4 458.5 5 458.1 6 454.6 7 459.1 8 458.5 9 454.2 10 456.5M0 453.5 1 447.7 2 449.7 3 448.5 4 446.6 5 451.2 6 449.8 7 454.9 8 452.9 9 449.8 10 450M0 467 1 463.4 2 464.1 3 466.1 4 461.8 5 461.8 6 459.3 7 463 8 459.4 9 457.4 10 458.9M0 467.4 1 461.1 2 467 3 466.5 4 466.1 5 466.1 6 464.6 7 469.5 8 467.5 9 462 10 463.3M0 487.6 1 493.2 2 485.9 3 484.7 4 480.2 5 480.8 6 485.5 7 491.2 8 487.8 9 483.7 10 489M0 514.3 1 513 2 514.7 3 515.2 4 512.8 5 509.3 6 510.6 7 512.6 8 512.3 9 506.7 10 507.9M0 501.4 1 502.7 2 504.7 3 503.5 4 500.7 5 492.4 6 493.3 7 497.7 8 491.1 9 486.4 10 485.3M0 497.3 1 496.5 2 499.2 3 502.1 4 493.1 5 493.1 6 492 7 494.7 8 497.4 9 494.7 10 492.4M0 500 1 494.4 2 495.3 3 499.1 4 495.3 5 494.8 6 500.4 7 507.5 8 510.6 9 508.4 10 512.4M0 499.2 1 497.1 2 495.5 3 488.3 4 491.8 5 491.4 6 492.3 7 494.2 8 493.3 9 488.4 10 488.9M0 494.5 1 496.2 2 498.5 3 498.8 4 493.4 5 494.9 6 494.3 7 497.2 8 498.5 9 488.5 10 487.6M0 458 1 451.7 2 454.3 3 456.7 4 455.3 5 457.3 6 455.9 7 457.8 8 455.3 9 452.6 10 453M0 517.2 1 518.3 2 515.4 3 517 4 517.7 5 515.3 6 513.2 7 512.8 8 512.4 9 505.3 10 504.1M0 467.2 1 465 2 470.4 3 470.6 4 472.7 5 472.7 6 471.8 7 475.3 8 471.3 9 468 10 467.1M0 473.1 1 469.6 2 477.1 3 476.9 4 475.9 5 473.5 6 475.8 7 482.4 8 479.3 9 474.8 10 474.6M0 473.9 1 471.5 2 476.8 3 474.7 4 475.2 5 472.6 6 471.4 7 478 8 475.5 9 469.8 10 467.1M0 501.7 1 501.4 2 501.9 3 504.2 4 502.9 5 506.4 6 505.1 7 511.6 8 512.1 9 508.2 10 505.3M0 486.9 1 486.2 2 488.8 3 490.8 4 489.9 5 495.3 6 494.1 7 504.7 8 496.3 9 493.5 10 491.9M0 471.4 1 467.8 2 470.9 3 470.1 4 471.5 5 467.5 6 467.2 7 469.8 8 469.5 9 467.3 10 466.5M0 535.2 1 533.6 2 531.3 3 532.1 4 530.6 5 529.3 6 531.8 7 534.1 8 534.9 9 537.4 10 537.3M0 465.1 1 460.5 2 466.5 3 469.3 4 471.1 5 469.8 6 469.3 7 475.3 8 472.5 9 467.4 10 464.7M0 503.1 1 503.5 2 502 3 502 4 500.9 5 495.8 6 493.9 7 497.2 8 496.8 9 489.1 10 490.9M0 498.5 1 499 2 500.1 3 503.4 4 505.1 5 503.9 6 502.4 7 504.2 8 508.2 9 501.3 10 498.1M0 535.7 1 531.6 2 530 3 534.7 4 534.5 5 533.7 6 534.1 7 536.2 8 535.7 9 531 10 527.8M0 515.2 1 519 2 521.6 3 521.3 4 525.8 5 523 6 522.7 7 523 8 520.6 9 516.6 10 514.3M0 447.1 1 442.8 2 444.9 3 444.9 4 442.1 5 445.9 6 443.8 7 446.8 8 446.8 9 445.3 10 446.6M0 516.4 1 515.7 2 514.5 3 513.6 4 508.7 5 512.5 6 514.2 7 522.3 8 520.6 9 517.9 10 517.5M0 452.8 1 447.6 2 448.4 3 452.9 4 452.5 5 454.4 6 451.1 7 454.4 8 451.7 9 445.4 10 444.8M0 494.5 1 493 2 493.7 3 495.3 4 492 5 491.2 6 491.2 7 493 8 496.8 9 494.8 10 499.8M0 485 1 479.9 2 482.5 3 483.5 4 480 5 479.1 6 484.8 7 492.6 8 491.7 9 489.6 10 490.2M0 528 1 530.4 2 530.5 3 530.5 4 532.6 5 533.4 6 536.3 7 537.7 8 534.2 9 529.5 10 525M0 471.1 1 465.3 2 469.6 3 469.7 4 471.4 5 472.4 6 469.5 7 476.6 8 474.6 9 468.5 10 470.5M0 523.9 1 520.6 2 515.1 3 520.7 4 518.5 5 521 6 524.4 7 527.5 8 528.4 9 528.4 10 533.1M0 517.4 1 517.7 2 519.5 3 521.4 4 525.6 5 528 6 528.4 7 535.5 8 536.2 9 536 10 537.5M0 500.2 1 497.8 2 499.4 3 499.4 4 495.3 5 490 6 490.2 7 500.5 8 502.2 9 500.4 10 500.9M0 499.1 1 495.1 2 496.6 3 498.1 4 500.4 5 498.3 6 500.1 7 503.2 8 501.2 9 488.3 10 486.5M0 485.3 1 486.9 2 485 3 485.2 4 481.9 5 486.4 6 484.6 7 492 8 493.8 9 485.6 10 486.7M0 448.2 1 440 2 440.3 3 442 4 440 5 446.7 6 444.1 7 444.7 8 443.5 9 440.9 10 444.1M0 492.8 1 492.5 2 492.4 3 485.2 4 480.3 5 481 6 483.7 7 490.2 8 487.6 9 481.5 10 479.6M0 464.1 1 459.5 2 461.3 3 461.9 4 463 5 463.2 6 461.8 7 467.8 8 464.6 9 459.8 10 460M0 512.3 1 509.7 2 509 3 512.7 4 509.3 5 508.2 6 506.9 7 509 8 510.9 9 513.3 10 517.6M0 474.1 1 470.6 2 473 3 474 4 475.7 5 475.2 6 474.6 7 481.6 8 479.5 9 475.2 10 471.9M0 515.1 1 519.8 2 522.2 3 521.5 4 521.6 5 521.5 6 525 7 526 8 527 9 524.2 10 524.6M0 490.2 1 488.6 2 489 3 490.7 4 485.7 5 488.1 6 490.8 7 490.7 8 488.3 9 478.7 10 482M0 536.3 1 535.3 2 537.6 3 540.4 4 541.8 5 544.8 6 542.3 7 542.6 8 541.5 9 538.7 10 541.2M0 509.2 1 510.1 2 514.5 3 515.9 4 515 5 512.6 6 514.3 7 519 8 516.2 9 517.9 10 515.7M0 504.4 1 502.9 2 506 3 506 4 503 5 505.4 6 508 7 512.5 8 512.6 9 513.8 10 513.8M0 522 1 522.5 2 525.5 3 526.4 4 523.8 5 521.9 6 524.6 7 526.2 8 521.7 9 520.9 10 522M0 485.9 1 485.6 2 481.3 3 483 4 479.3 5 482.9 6 487.4 7 494.7 8 497.6 9 491.9 10 492.6M0 518.8 1 516.8 2 519.8 3 526.6 4 521.7 5 520.9 6 521.3 7 526.6 8 531.5 9 533.3 10 533.4M0 455.8 1 451.5 2 451.4 3 453.9 4 451.8 5 454.2 6 454.4 7 457.9 8 455.9 9 452.6 10 452.1M0 502.5 1 495.5 2 500.3 3 501.6 4 499.5 5 496.6 6 493.2 7 493.9 8 499.9 9 499.3 10 498.4M0 509.6 1 507.2 2 507 3 504.6 4 502.6 5 506.3 6 509.6 7 514.6 8 517 9 508.6 10 514.9M0 465 1 459.4 2 462.3 3 466.9 4 464.8 5 462.9 6 463.4 7 465.7 8 461.6 9 456.3 10 454.2M0 527.2 1 524.5 2 521.6 3 525.1 4 525.7 5 525.8 6 526.4 7 530.2 8 534.4 9 531 10 529.6M0 503 1 504 2 501.5 3 501.2 4 498.2 5 497.3 6 502.2 7 511 8 513.4 9 514.2 10 513.9M0 511.6 1 507.8 2 507.1 3 507.2 4 506.2 5 505.7 6 503.8 7 505.2 8 504.7 9 496.5 10 493.8M0 486.9 1 487.8 2 491.5 3 491.1 4 487.1 5 480.2 6 483.6 7 487.2 8 488.3 9 480.1 10 480.6M0 466.2 1 461.2 2 462.5 3 466.4 4 466.6 5 466.1 6 465.1 7 469.4 8 468.7 9 467.5 10 468.8M0 470.8 1 465.3 2 469.2 3 469.5 4 472.6 5 471 6 472.1 7 478.5 8 472.6 9 470.7 10 469.6M0 485.6 1 491.4 2 487.2 3 485.1 4 486.2 5 487.7 6 486.2 7 490.1 8 488.6 9 489.9 10 492.1M0 526.9 1 527.8 2 531.8 3 532.5 4 537.6 5 538.8 6 539.7 7 537.9 8 536.6 9 536.6 10 535.3M0 524 1 522.5 2 524.3 3 524.3 4 521 5 525 6 525.6 7 530.6 8 529.5 9 523.3 10 520.1M0 466.3 1 462.7 2 466.1 3 468.8 4 470.1 5 466.1 6 463.4 7 468.7 8 463.8 9 457.7 10 456.6M0 467 1 460.8 2 466.4 3 467.9 4 467.2 5 468.1 6 466.8 7 468.9 8 468.6 9 462.5 10 463.3M0 474.2 1 470 2 475.5 3 477 4 477.3 5 476.1 6 476.1 7 481.8 8 480.3 9 474.3 10 474.1M0 492.2 1 494.6 2 496.9 3 496.1 4 495.4 5 496.2 6 500.5 7 500.5 8 502 9 497.5 10 496.2M0 462.2 1 455.6 2 461 3 462.6 4 466.3 5 467.4 6 466.1 7 471.2 8 469.1 9 467.1 10 465.7M0 458.5 1 450.8 2 453.8 3 453.4 4 452.2 5 454.9 6 452.1 7 454.7 8 452.7 9 449.4 10 450M0 449 1 443.5 2 445.3 3 445 4 442.7 5 445.4 6 443.8 7 446.2 8 445.7 9 441 10 443.5M0 520.2 1 516.4 2 517.3 3 520.8 4 515.7 5 516.2 6 517.7 7 514.8 8 518.5 9 513.3 10 513.3M0 490.5 1 490.7 2 489.9 3 494.4 4 488.4 5 489.3 6 491.6 7 497 8 495.6 9 489.2 10 492.9M0 536.2 1 537.8 2 537.9 3 542 4 536.2 5 543.5 6 543 7 540.5 8 535.8 9 537.1 10 538.9M0 488 1 491.4 2 494.5 3 494.9 4 487.4 5 491.3 6 490.6 7 493.7 8 496.3 9 492.2 10 487.2M0 510.2 1 517.8 2 526.9 3 527 4 528.3 5 530.9 6 530.8 7 528.7 8 531.2 9 529 10 530.5M0 490.2 1 490.9 2 491.1 3 493.8 4 494 5 492.3 6 494.7 7 498.9 8 495 9 488.4 10 490.9M0 500.1 1 500.4 2 503.3 3 503.6 4 498.6 5 494 6 498.1 7 505.9 8 503.6 9 503.1 10 503.6M0 532.4 1 527.4 2 528.8 3 530.3 4 532 5 533.8 6 534.3 7 538.6 8 535.9 9 535.8 10 537.5M0 499.6 1 499.2 2 505.9 3 509.6 4 507.7 5 507.3 6 504.8 7 508.8 8 507.7 9 504 10 503.4M0 451.6 1 447.2 2 451.2 3 453 4 450.4 5 455 6 456.6 7 460.7 8 453.7 9 451.1 10 451.5M0 485.1 1 488.7 2 487.1 3 488.5 4 481.8 5 482.3 6 481.3 7 488.7 8 485.8 9 479.8 10 481.1M0 448.6 1 442.2 2 443.7 3 445.1 4 441.3 5 446.3 6 444.1 7 445 8 442.9 9 439.6 10 441.2M0 487.4 1 492.2 2 497.7 3 498.4 4 498.4 5 499.8 6 500.7 7 507.2 8 508.4 9 504.6 10 510.2M0 469.4 1 463.6 2 467.8 3 470.9 4 471.3 5 467.2 6 468.7 7 476.7 8 473.2 9 468.2 10 470.2M0 453.6 1 449.9 2 450.3 3 451.3 4 451.3 5 456.4 6 455.6 7 459.5 8 457.7 9 455 10 455.7M0 498.9 1 499 2 502.7 3 507.6 4 504.6 5 505.2 6 497.3 7 501.5 8 502.7 9 494.6 10 499.2M0 512.4 1 511.1 2 511.3 3 509 4 503 5 501.4 6 504.8 7 510.2 8 513.3 9 507.8 10 507.4M0 448.2 1 439.9 2 439.6 3 441.2 4 441.7 5 447.2 6 447.4 7 449 8 446.8 9 443.2 10 443.3M0 511.8 1 514.8 2 515.9 3 517.1 4 508.5 5 512.1 6 508 7 511.9 8 518.1 9 514 10 509.9M0 497.4 1 499.6 2 503 3 503.2 4 504.3 5 501.5 6 504.1 7 506.9 8 508.2 9 502 10 501.3M0 456.9 1 451.7 2 454.9 3 456.3 4 451.9 5 456.1 6 455.2 7 458.6 8 458.2 9 454.6 10 454.4M0 508.2 1 509.3 2 519.1 3 514.7 4 513.8 5 521.1 6 519.7 7 525.4 8 525.6 9 519.1 10 520.6M0 491.7 1 484.9 2 486 3 490.3 4 488.9 5 487.7 6 487.8 7 492.7 8 499.1 9 493.7 10 494.4M0 500.8 1 498.5 2 498.2 3 497.8 4 495.8 5 494.2 6 494.3 7 497.8 8 500.3 9 495.4 10 495.2M0 451.7 1 443.6 2 444.2 3 444 4 443.5 5 449.8 6 449.2 7 449.9 8 449.6 9 447.5 10 446.9M0 503 1 502.1 2 504 3 502.5 4 500.1 5 501.9 6 499.4 7 503.7 8 500.1 9 497.1 10 499.5M0 467.5 1 463.3 2 465.7 3 467.9 4 464 5 464.2 6 462.4 7 469.1 8 465.3 9 459.7 10 462M0 523.1 1 529.4 2 526.8 3 530 4 528.3 5 532.3 6 525.4 7 526.5 8 529.4 9 525.2 10 528.9M0 491.9 1 489.7 2 490.7 3 494.6 4 491.9 5 489.8 6 500.1 7 500.8 8 499.5 9 495.8 10 493.5M0 447.7 1 443.6 2 446.3 3 446 4 446.4 5 449.2 6 445.8 7 446.7 8 444 9 441.1 10 444.9M0 547.5 1 547.5 2 547.5 3 547.5 4 547.5 5 547.5 6 547.5 7 547.5 8 547.5 9 547.5 10 547.5" fill="none" stroke="#1c2545" stroke-width="0.6" stroke-opacity="0.3"/></g><g clip-path="url(#c15)" class="b0"><path d="M425.8 458.4V476.5M425.8 488.8V507.5" class="wh"/><rect x="420.2" y="476.5" width="11.2" height="12.3" class="bx"/><path d="M420.2 483H431.4" class="md"/><path d="M440.6 453.9V473.3M440.6 488.1V507.5" class="wh"/><rect x="435.1" y="473.3" width="11.2" height="14.8" class="bx"/><path d="M435.1 481.7H446.2" class="md"/><path d="M455.5 456.5V475.9M455.5 489.4V508.8" class="wh"/><rect x="449.9" y="475.9" width="11.2" height="13.6" class="bx"/><path d="M449.9 483H461.1" class="md"/><path d="M470.4 457.2V476.5M470.4 490.1V509.4" class="wh"/><rect x="464.8" y="476.5" width="11.2" height="13.6" class="bx"/><path d="M464.8 483.6H476" class="md"/><path d="M485.3 455.9V475.2M485.3 487.5V506.2" class="wh"/><rect x="479.7" y="475.2" width="11.2" height="12.3" class="bx"/><path d="M479.7 481H490.9" class="md"/><path d="M500.1 457.8V476.5M500.1 488.8V507.5" class="wh"/><rect x="494.6" y="476.5" width="11.2" height="12.3" class="bx"/><path d="M494.6 483.6H505.7" class="md"/><path d="M515 457.2V476.5M515 489.4V508.1" class="wh"/><rect x="509.4" y="476.5" width="11.2" height="12.9" class="bx"/><path d="M509.4 484.3H520.6" class="md"/><path d="M529.9 461V480.4M529.9 493.3V512.6" class="wh"/><rect x="524.3" y="480.4" width="11.2" height="12.9" class="bx"/><path d="M524.3 486.8H535.5" class="md"/><path d="M544.8 459.7V479.1M544.8 492.6V512" class="wh"/><rect x="539.2" y="479.1" width="11.2" height="13.6" class="bx"/><path d="M539.2 486.2H550.4" class="md"/><path d="M559.6 455.9V475.2M559.6 488.1V507.5" class="wh"/><rect x="554.1" y="475.2" width="11.2" height="12.9" class="bx"/><path d="M554.1 482.3H565.2" class="md"/><path d="M574.5 455.2V474.6M574.5 488.1V507.5" class="wh"/><rect x="568.9" y="474.6" width="11.2" height="13.6" class="bx"/><path d="M568.9 481.7H580.1" class="md"/><path d="M425.8 508.8V547.5" class="ob"/><path d="M425.8 443V457.2" class="ob"/><path d="M440.6 511.4V547.5" class="ob"/><path d="M440.6 437.1V452.6" class="ob"/><path d="M455.5 511.4V547.5" class="ob"/><path d="M455.5 437.8V455.9" class="ob"/><path d="M470.4 511.4V547.5" class="ob"/><path d="M470.4 439.7V455.9" class="ob"/><path d="M485.3 508.8V547.5" class="ob"/><path d="M485.3 437.8V452.6" class="ob"/><path d="M500.1 508.8V547.5" class="ob"/><path d="M500.1 443V455.9" class="ob"/><path d="M515 510.1V547.5" class="ob"/><path d="M515 441V453.9" class="ob"/><path d="M529.9 513.9V547.5" class="ob"/><path d="M529.9 443V455.9" class="ob"/><path d="M544.8 513.3V547.5" class="ob"/><path d="M544.8 441V455.9" class="ob"/><path d="M559.6 509.4V547.5" class="ob"/><path d="M559.6 437.8V452.6" class="ob"/><path d="M574.5 509.4V547.5" class="ob"/><path d="M574.5 439.7V455.9" class="ob"/></g><path d="M413.8 533.3H416.8" class="tk"/><text x="411.5" y="538.2" class="yl">0</text><path d="M413.8 501H416.8" class="tk"/><text x="411.5" y="505.9" class="yl">5</text><path d="M413.8 468.8H416.8" class="tk"/><text x="411.5" y="473.7" class="yl">10</text><path d="M413.8 436.5H416.8" class="tk"/><text x="411.5" y="441.4" class="yl">15</text>
<rect x="607.1" y="416.7" width="166.6" height="16.5" fill="#d3d3d3" stroke="#9a9a9a" stroke-width="1"/><text x="690.4" y="429" class="st">Cluster 16</text><rect x="607.1" y="433.5" width="166.6" height="118.6" fill="#f3f3f3" stroke="#a8a8a8" stroke-width="0.9"/><rect x="609" y="433.5" width="14.4" height="118.6" fill="#a4a6b6"/><rect x="623.4" y="433.5" width="29.8" height="118.6" fill="#a3cd9f"/><rect x="653.2" y="433.5" width="29.8" height="118.6" fill="#f6cda3"/><rect x="682.9" y="433.5" width="59.5" height="118.6" fill="#eeb3a5"/><rect x="742.4" y="433.5" width="14.9" height="118.6" fill="#deb1d2"/><rect x="757.3" y="433.5" width="14.1" height="118.6" fill="#b09dd1"/><g stroke="#000" stroke-width="0.8"><path d="M607.1 537.5H773.7" stroke-opacity="0.025"/><path d="M607.1 521.8H773.7" stroke-opacity="0.045"/><path d="M607.1 506.1H773.7" stroke-opacity="0.025"/><path d="M607.1 490.4H773.7" stroke-opacity="0.045"/><path d="M607.1 474.7H773.7" stroke-opacity="0.025"/><path d="M607.1 459H773.7" stroke-opacity="0.045"/><path d="M607.1 443.3H773.7" stroke-opacity="0.025"/><path d="M616 433.5V552.1" stroke-opacity=".04"/><path d="M630.9 433.5V552.1" stroke-opacity=".04"/><path d="M645.7 433.5V552.1" stroke-opacity=".04"/><path d="M660.6 433.5V552.1" stroke-opacity=".04"/><path d="M675.5 433.5V552.1" stroke-opacity=".04"/><path d="M690.4 433.5V552.1" stroke-opacity=".04"/><path d="M705.2 433.5V552.1" stroke-opacity=".04"/><path d="M720.1 433.5V552.1" stroke-opacity=".04"/><path d="M735 433.5V552.1" stroke-opacity=".04"/><path d="M749.9 433.5V552.1" stroke-opacity=".04"/><path d="M764.7 433.5V552.1" stroke-opacity=".04"/></g><g fill="#1c2545" clip-path="url(#c16)"><path d="M616 447.7L630.9 453.3V447.7L616 446.4ZM630.9 453.3L645.7 454.6V443.3L630.9 447.7ZM645.7 454.6L660.6 465.9V455.9L645.7 443.3ZM660.6 465.9L675.5 468.4V462.1L660.6 455.9ZM675.5 468.4L690.4 468.4V462.8L675.5 462.1ZM690.4 468.4L705.2 468.4V462.8L690.4 462.8ZM705.2 468.4L720.1 467.8V460.3L705.2 462.8ZM720.1 467.8L735 466.5V460.9L720.1 460.3ZM735 466.5L749.9 450.2V449L735 460.9ZM749.9 450.2L764.7 454.6V443.3L749.9 449Z" fill-opacity=".15"/><path d="M616 546.9L630.9 546.9V529L616 524.9ZM630.9 546.9L645.7 546.9V528.6L630.9 529ZM645.7 546.9L660.6 546.9V525.7L645.7 528.6ZM660.6 546.9L675.5 546.9V523.5L660.6 525.7ZM675.5 546.9L690.4 546.9V523.5L675.5 523.5ZM690.4 546.9L705.2 546.9V523.5L690.4 523.5ZM705.2 546.9L720.1 546.9V523.5L705.2 523.5ZM720.1 546.9L735 546.9V523.5L720.1 523.5ZM735 546.9L749.9 546.9V527L735 523.5ZM749.9 546.9L764.7 546.9V530.1L749.9 527Z" fill-opacity=".20"/><path d="M616 450.7L630.9 456.4V453.3L616 447.7ZM630.9 456.4L645.7 457.7V454.6L630.9 453.3ZM645.7 457.7L660.6 468.9V465.9L645.7 454.6ZM660.6 468.9L675.5 471.3V468.4L660.6 465.9ZM675.5 471.3L690.4 471.3V468.4L675.5 468.4ZM690.4 471.3L705.2 471.3V468.4L690.4 468.4ZM705.2 471.3L720.1 470.7V467.8L705.2 468.4ZM720.1 470.7L735 469.5V466.5L720.1 467.8ZM735 469.5L749.9 453.3V450.2L735 466.5ZM749.9 453.3L764.7 457.6V454.6L749.9 450.2Z" fill-opacity=".35"/><path d="M616 453.7L630.9 459.5V456.4L616 450.7ZM616 524.9L630.9 529V528.5L616 524.3ZM630.9 459.5L645.7 460.7V457.7L630.9 456.4ZM630.9 529L645.7 528.6V528L630.9 528.5ZM645.7 460.7L660.6 471.8V468.9L645.7 457.7ZM645.7 528.6L660.6 525.7V525.4L645.7 528ZM660.6 471.8L675.5 474.3V471.3L660.6 468.9ZM660.6 525.7L675.5 523.5V523.2L660.6 525.4ZM675.5 474.3L690.4 474.3V471.3L675.5 471.3ZM675.5 523.5L690.4 523.5V523.2L675.5 523.2ZM690.4 474.3L705.2 474.3V471.3L690.4 471.3ZM690.4 523.5L705.2 523.5V523.2L690.4 523.2ZM705.2 474.3L720.1 473.7V470.7L705.2 471.3ZM705.2 523.5L720.1 523.5V523.2L705.2 523.2ZM720.1 473.7L735 472.5V469.5L720.1 470.7ZM720.1 523.5L735 523.5V523.2L720.1 523.2ZM735 472.5L749.9 456.3V453.3L735 469.5ZM735 523.5L749.9 527V526.4L735 523.2ZM749.9 456.3L764.7 460.6V457.6L749.9 453.3ZM749.9 527L764.7 530.1V529.5L749.9 526.4Z" fill-opacity=".45"/><path d="M616 456.7L630.9 462.6V459.5L616 453.7ZM616 524.3L630.9 528.5V527.9L616 523.7ZM630.9 462.6L645.7 463.8V460.7L630.9 459.5ZM630.9 528.5L645.7 528V527.5L630.9 527.9ZM645.7 463.8L660.6 474.8V471.8L645.7 460.7ZM645.7 528L660.6 525.4V525L645.7 527.5ZM660.6 474.8L675.5 477.2V474.3L660.6 471.8ZM660.6 525.4L675.5 523.2V523L660.6 525ZM675.5 477.2L690.4 477.2V474.3L675.5 474.3ZM675.5 523.2L690.4 523.2V523L675.5 523ZM690.4 477.2L705.2 477.2V474.3L690.4 474.3ZM690.4 523.2L705.2 523.2V523L690.4 523ZM705.2 477.2L720.1 476.6V473.7L705.2 474.3ZM705.2 523.2L720.1 523.2V523L705.2 523ZM720.1 476.6L735 475.5V472.5L720.1 473.7ZM720.1 523.2L735 523.2V523L720.1 523ZM735 475.5L749.9 459.4V456.3L735 472.5ZM735 523.2L749.9 526.4V525.8L735 523ZM749.9 459.4L764.7 463.6V460.6L749.9 456.3ZM749.9 526.4L764.7 529.5V528.9L749.9 525.8Z" fill-opacity=".50"/><path d="M616 459.8L630.9 465.6V462.6L616 456.7ZM616 523.7L630.9 527.9V527.3L616 523.1ZM630.9 465.6L645.7 466.9V463.8L630.9 462.6ZM630.9 527.9L645.7 527.5V526.9L630.9 527.3ZM645.7 466.9L660.6 477.8V474.8L645.7 463.8ZM645.7 527.5L660.6 525V524.7L645.7 526.9ZM660.6 477.8L675.5 480.1V477.2L660.6 474.8ZM660.6 525L675.5 523V522.7L660.6 524.7ZM675.5 480.1L690.4 480.1V477.2L675.5 477.2ZM675.5 523L690.4 523V522.7L675.5 522.7ZM690.4 480.1L705.2 480.1V477.2L690.4 477.2ZM690.4 523L705.2 523V522.7L690.4 522.7ZM705.2 480.1L720.1 479.6V476.6L705.2 477.2ZM705.2 523L720.1 523V522.7L705.2 522.7ZM720.1 479.6L735 478.5V475.5L720.1 476.6ZM720.1 523L735 523V522.7L720.1 522.7ZM735 478.5L749.9 462.4V459.4L735 475.5ZM735 523L749.9 525.8V525.2L735 522.7ZM749.9 462.4L764.7 466.7V463.6L749.9 459.4ZM749.9 525.8L764.7 528.9V528.3L749.9 525.2Z" fill-opacity=".60"/><path d="M616 523.1L630.9 527.3V526.8L616 522.4ZM630.9 527.3L645.7 526.9V526.4L630.9 526.8ZM645.7 526.9L660.6 524.7V524.3L645.7 526.4ZM660.6 524.7L675.5 522.7V522.4L660.6 524.3ZM675.5 522.7L690.4 522.7V522.4L675.5 522.4ZM690.4 522.7L705.2 522.7V522.4L690.4 522.4ZM705.2 522.7L720.1 522.7V522.4L705.2 522.4ZM720.1 522.7L735 522.7V522.4L720.1 522.4ZM735 522.7L749.9 525.2V524.6L735 522.4ZM749.9 525.2L764.7 528.3V527.7L749.9 524.6Z" fill-opacity=".65"/><path d="M616 462.8L630.9 468.7V465.6L616 459.8ZM630.9 468.7L645.7 469.9V466.9L630.9 465.6ZM645.7 469.9L660.6 480.7V477.8L645.7 466.9ZM660.6 480.7L675.5 483V480.1L660.6 477.8ZM675.5 483L690.4 483V480.1L675.5 480.1ZM690.4 483L705.2 483V480.1L690.4 480.1ZM705.2 483L720.1 482.5V479.6L705.2 480.1ZM720.1 482.5L735 481.4V478.5L720.1 479.6ZM735 481.4L749.9 465.5V462.4L735 478.5ZM749.9 465.5L764.7 469.7V466.7L749.9 462.4Z" fill-opacity=".70"/><path d="M616 522.4L630.9 526.8V526.2L616 521.8ZM630.9 526.8L645.7 526.4V525.9L630.9 526.2ZM645.7 526.4L660.6 524.3V524L645.7 525.9ZM660.6 524.3L675.5 522.4V522.1L660.6 524ZM675.5 522.4L690.4 522.4V522.1L675.5 522.1ZM690.4 522.4L705.2 522.4V522.1L690.4 522.1ZM705.2 522.4L720.1 522.4V522.1L705.2 522.1ZM720.1 522.4L735 522.4V522.1L720.1 522.1ZM735 522.4L749.9 524.6V524L735 522.1ZM749.9 524.6L764.7 527.7V527.1L749.9 524Z" fill-opacity=".75"/><path d="M616 465.8L630.9 471.8V468.7L616 462.8ZM616 521.8L630.9 526.2V525.6L616 521.2ZM630.9 471.8L645.7 473V469.9L630.9 468.7ZM630.9 526.2L645.7 525.9V525.3L630.9 525.6ZM645.7 473L660.6 483.7V480.7L645.7 469.9ZM645.7 525.9L660.6 524V523.7L645.7 525.3ZM660.6 483.7L675.5 486V483L660.6 480.7ZM660.6 524L675.5 522.1V521.8L660.6 523.7ZM675.5 486L690.4 486V483L675.5 483ZM675.5 522.1L690.4 522.1V521.8L675.5 521.8ZM690.4 486L705.2 486V483L690.4 483ZM690.4 522.1L705.2 522.1V521.8L690.4 521.8ZM705.2 486L720.1 485.4V482.5L705.2 483ZM705.2 522.1L720.1 522.1V521.8L705.2 521.8ZM720.1 485.4L735 484.4V481.4L720.1 482.5ZM720.1 522.1L735 522.1V521.8L720.1 521.8ZM735 484.4L749.9 468.5V465.5L735 481.4ZM735 522.1L749.9 524V523.4L735 521.8ZM749.9 468.5L764.7 472.7V469.7L749.9 465.5ZM749.9 524L764.7 527.1V526.5L749.9 523.4Z" fill-opacity=".80"/><path d="M616 520.5L630.9 525.1V474.8L616 468.8ZM616 468.8L630.9 474.8V471.8L616 465.8ZM616 521.2L630.9 525.6V525.1L616 520.5ZM630.9 525.1L645.7 524.8V476.1L630.9 474.8ZM630.9 474.8L645.7 476.1V473L630.9 471.8ZM630.9 525.6L645.7 525.3V524.8L630.9 525.1ZM645.7 524.8L660.6 523.3V486.6L645.7 476.1ZM645.7 476.1L660.6 486.6V483.7L645.7 473ZM645.7 525.3L660.6 523.7V523.3L645.7 524.8ZM660.6 523.3L675.5 521.5V488.9L660.6 486.6ZM660.6 486.6L675.5 488.9V486L660.6 483.7ZM660.6 523.7L675.5 521.8V521.5L660.6 523.3ZM675.5 521.5L690.4 521.5V488.9L675.5 488.9ZM675.5 488.9L690.4 488.9V486L675.5 486ZM675.5 521.8L690.4 521.8V521.5L675.5 521.5ZM690.4 521.5L705.2 521.5V488.9L690.4 488.9ZM690.4 488.9L705.2 488.9V486L690.4 486ZM690.4 521.8L705.2 521.8V521.5L690.4 521.5ZM705.2 521.5L720.1 521.5V488.4L705.2 488.9ZM705.2 488.9L720.1 488.4V485.4L705.2 486ZM705.2 521.8L720.1 521.8V521.5L705.2 521.5ZM720.1 521.5L735 521.5V487.4L720.1 488.4ZM720.1 488.4L735 487.4V484.4L720.1 485.4ZM720.1 521.8L735 521.8V521.5L720.1 521.5ZM735 521.5L749.9 522.8V471.6L735 487.4ZM735 487.4L749.9 471.6V468.5L735 484.4ZM735 521.8L749.9 523.4V522.8L735 521.5ZM749.9 522.8L764.7 525.9V475.7L749.9 471.6ZM749.9 471.6L764.7 475.7V472.7L749.9 468.5ZM749.9 523.4L764.7 526.5V525.9L749.9 522.8Z" fill-opacity=".90"/></g><g transform="translate(616 0) scale(14.875 1)"><path vector-effect="non-scaling-stroke" d="M0 466.4 1 470.6 2 472.9 3 482.9 4 486.4 5 488.9 6 486.6 7 484.9 8 483.4 9 469.9 10 473.6M0 519.6 1 525.1 2 522.5 3 518.8 4 514.9 5 515.7 6 514.6 7 514.2 8 515 9 516.6 10 519.8M0 532.4 1 534 2 535.3 3 533.8 4 532.7 5 531.6 6 530.6 7 530.4 8 528.4 9 529 10 529.3M0 471.1 1 480.2 2 481.5 3 492.5 4 492.4 5 493.2 6 493.8 7 494.2 8 491.2 9 477.3 10 482.8M0 519.2 1 524.9 2 526.5 3 524.2 4 519.7 5 518.8 6 518.4 7 517.6 8 519.2 9 523.5 10 526.8M0 536.4 1 539.1 2 539.3 3 538.6 4 538.2 5 539.1 6 539.8 7 542.6 8 538.2 9 537.5 10 537.9M0 516.1 1 521 2 521.3 3 519.4 4 516.6 5 516.9 6 519 7 515.9 8 518 9 519.6 10 522.1M0 529.7 1 533.7 2 532.3 3 531.6 4 531.3 5 531 6 531.8 7 530.8 8 532.1 9 532 10 533M0 533.4 1 535.5 2 536 3 533.1 4 530.1 5 529.6 6 528.1 7 527.7 8 528.4 9 530.6 10 534.3M0 524.6 1 529 2 527.4 3 527.6 4 526.6 5 526.1 6 524.1 7 524.3 8 523.4 9 524.8 10 526.7M0 467.8 1 474.1 2 474.6 3 485.7 4 488.9 5 485.9 6 487.3 7 486.3 8 486.2 9 470.8 10 478.9M0 522.4 1 526.2 2 525 3 522.3 4 521.8 5 521.7 6 521.2 7 519.2 8 517.8 9 519.5 10 523M0 521.8 1 525.1 2 522 3 521.1 4 518.4 5 516.4 6 517.1 7 516.6 8 515.1 9 516.3 10 520M0 518.6 1 525 2 525.1 3 523.2 4 521.7 5 520.8 6 520.5 7 522.7 8 521.8 9 524 10 525.8M0 467.9 1 473.4 2 478.5 3 491 4 493.4 5 492.2 6 491.3 7 492.6 8 491.7 9 475.1 10 483.8M0 525.1 1 528.2 2 526.8 3 524.6 4 522.5 5 523.3 6 523.2 7 521.8 8 522.8 9 525 10 527.1M0 449.6 1 450.6 2 446.3 3 458.6 4 465.1 5 466 6 465.2 7 461.8 8 463.8 9 451.3 10 445.7M0 538.4 1 539.7 2 539.2 3 538.4 4 538 5 539.1 6 538.6 7 536.9 8 535.8 9 534.9 10 537.3M0 537.6 1 538.7 2 538.1 3 538.4 4 538.7 5 537.2 6 540.5 7 541.1 8 539.3 9 539.3 10 541.3M0 519.2 1 526.3 2 526.8 3 524.4 4 524.8 5 523.7 6 524.9 7 525.7 8 524.4 9 524.5 10 527.1M0 522.4 1 527.6 2 526.5 3 524.2 4 522.6 5 521.8 6 521.6 7 522.6 8 522.9 9 525.3 10 527.3M0 453.8 1 456.6 2 454.5 3 466.4 4 468.4 5 470.5 6 470.9 7 469.8 8 471.3 9 456.2 10 453.8M0 518.8 1 522.6 2 522.2 3 520.3 4 519.1 5 517.2 6 517.9 7 518.8 8 518 9 516.4 10 519.8M0 516.1 1 522.1 2 522.2 3 521.5 4 519.6 5 521.1 6 521.7 7 519.2 8 519.5 9 521.8 10 525.1M0 520.1 1 524.7 2 523.7 3 520.8 4 517 5 517.3 6 517.9 7 517 8 515.2 9 515.6 10 520.5M0 535.5 1 538.3 2 539.6 3 538.6 4 536.9 5 534.8 6 536.1 7 535.9 8 535.2 9 535.2 10 537M0 448.5 1 451 2 447.5 3 460.4 4 466.2 5 465.7 6 465.4 7 465.3 8 465.8 9 453.2 10 448.8M0 518.8 1 526.2 2 525.3 3 522.5 4 521.7 5 523.2 6 525 7 527 8 527.6 9 528.7 10 531.5M0 521.6 1 525.4 2 523.1 3 520.5 4 517.9 5 517.8 6 516.4 7 514.1 8 515 9 518.9 10 520.1M0 522.8 1 525.2 2 525 3 523.2 4 520.6 5 522.9 6 525 7 525.9 8 525.8 9 526.4 10 530.1M0 517.9 1 523.8 2 525.5 3 524.9 4 522 5 521.6 6 521.2 7 521.4 8 521.5 9 522.3 10 526.5M0 541.2 1 542.2 2 542.7 3 541.6 4 541.7 5 540.5 6 542 7 544.5 8 543.2 9 540 10 540.4M0 522.7 1 530.2 2 529.4 3 527.8 4 527.1 5 524.6 6 525.8 7 525 8 523.1 9 523.3 10 527M0 527.8 1 531.9 2 531.7 3 533.8 4 530.1 5 532.4 6 533.6 7 534.3 8 534.3 9 534.3 10 534.9M0 472.7 1 478.9 2 484.3 3 494.6 4 495.5 5 493.6 6 494.9 7 494.3 8 493.1 9 476.3 10 483.7M0 464.7 1 466.4 2 467.3 3 476.3 4 481.2 5 481.9 6 479.3 7 477.5 8 474.8 9 460.3 10 457.6M0 516.7 1 521.3 2 520.7 3 517.9 4 516.7 5 517.6 6 516.8 7 518.3 8 517.6 9 521.7 10 526.1M0 527.8 1 532 2 530.7 3 531.5 4 530.7 5 532 6 530.4 7 529.7 8 530.2 9 532.2 10 532.7M0 467.7 1 473.8 2 473.8 3 482.3 4 485.2 5 483.4 6 484.6 7 483.1 8 483.8 9 468.1 10 472.1M0 538.2 1 539.7 2 540.4 3 540.4 4 538.9 5 540.2 6 540 7 541.3 8 540.2 9 541.3 10 543.6M0 526.6 1 530.7 2 530.5 3 527.5 4 526.3 5 524.6 6 524.9 7 521.9 8 524 9 527.9 10 531M0 463.7 1 469.5 2 467.3 3 476.9 4 479.5 5 480 6 479.9 7 479.6 8 478.6 9 464.7 10 463.6M0 464.7 1 471.8 2 470 3 480.5 4 484.2 5 485.5 6 486.3 7 486.4 8 485.3 9 470.7 10 474.1M0 519.6 1 524.9 2 524.9 3 523.3 4 522.7 5 524.7 6 524.8 7 523.7 8 524.6 9 523.1 10 526.5M0 530.6 1 532.3 2 531.6 3 531.5 4 530.2 5 529.5 6 531.2 7 531.4 8 528.7 9 528.4 10 531.3M0 525.7 1 529.3 2 527.7 3 525.4 4 522.7 5 521.6 6 521.2 7 521 8 520 9 522.8 10 525.5M0 541.8 1 541.1 2 542.8 3 543 4 541.4 5 538.4 6 537.9 7 536 8 537.6 9 536.4 10 537.6M0 517.4 1 523.3 2 522 3 521 4 517.4 5 517.7 6 516.1 7 515.8 8 516.7 9 519.8 10 521.3M0 468.7 1 473.7 2 475.6 3 488.6 4 490.4 5 492 6 491 7 489.4 8 486.4 9 472 10 473.6M0 468.5 1 476 2 477 3 489.7 4 491.8 5 491.5 6 490.6 7 491.5 8 490.4 9 475.3 10 480.4M0 518.9 1 524.2 2 525.3 3 522.2 4 520.3 5 517.8 6 517.8 7 517.1 8 518.3 9 519.1 10 522M0 524.7 1 526.7 2 524.6 3 524.5 4 521.1 5 520.4 6 518.9 7 520.1 8 519.3 9 522.3 10 524.7M0 472.8 1 480.2 2 482.8 3 495.7 4 495.8 5 495.1 6 494.4 7 496.4 8 494.7 9 477.3 10 482.1M0 523.4 1 526.9 2 526.3 3 523 4 520.7 5 522.9 6 521.6 7 521.3 8 523 9 524.9 10 528M0 527.4 1 530.8 2 531.8 3 528.3 4 528.1 5 527.3 6 527.4 7 526.8 8 527.7 9 528.5 10 531.6M0 472.1 1 479.4 2 481.3 3 492.2 4 493.9 5 493.7 6 492 7 490.8 8 487.6 9 469.9 10 475.5M0 455.2 1 459.1 2 454.1 3 465.8 4 471.1 5 471.5 6 472.6 7 470.6 8 470.7 9 459.3 10 459.1M0 456.1 1 460.8 2 459 3 469.1 4 476 5 477.3 6 477.9 7 477 8 477.3 9 462.7 10 461.1M0 522.3 1 526.8 2 526.1 3 525.6 4 523.5 5 523.3 6 525.6 7 525.4 8 523.2 9 524.6 10 527.8M0 524.2 1 527.9 2 526.9 3 525.9 4 524.2 5 523 6 522.8 7 525.3 8 523 9 522.4 10 526M0 526.7 1 531.1 2 531.6 3 530.9 4 531.5 5 529.1 6 529.5 7 531.4 8 530 9 531.3 10 534.7M0 516.3 1 522.9 2 521.3 3 518.6 4 515.5 5 517.9 6 514.8 7 515.6 8 516.7 9 518.4 10 520.5M0 470.2 1 477.3 2 477.1 3 486.3 4 489.9 5 490.3 6 492.3 7 490 8 489.5 9 471.8 10 474.6M0 520.9 1 527.1 2 528.3 3 527.4 4 526.9 5 526 6 525.2 7 526.1 8 526.5 9 526.2 10 528.8M0 468.8 1 475.7 2 476.2 3 486.5 4 488.5 5 490.5 6 490.5 7 490.7 8 490.6 9 475 10 481M0 525.5 1 529.3 2 527.4 3 526.2 4 526.4 5 528.4 6 527.2 7 530.3 8 529.3 9 529.3 10 531.1M0 520.1 1 524.7 2 524.4 3 523.7 4 521.4 5 523.1 6 522.2 7 520.4 8 518.2 9 521.3 10 525.6M0 526.3 1 528.2 2 527.4 3 526.3 4 525 5 524.4 6 525.8 7 527.8 8 526.7 9 528.3 10 529.1M0 536.7 1 538.3 2 538.5 3 537.7 4 538.5 5 537.5 6 536.9 7 537.4 8 537.5 9 538.3 10 539.3M0 516.3 1 523.1 2 522.5 3 520 4 517.4 5 516.6 6 514 7 516.3 8 516.9 9 521.5 10 524.2M0 528 1 529.9 2 530.9 3 529.9 4 528.6 5 528.9 6 525.9 7 525 8 524.1 9 527.4 10 530.7M0 462.5 1 467.4 2 469.4 3 479.3 4 480.7 5 480.7 6 480.1 7 477.4 8 474.8 9 460.1 10 456.2M0 453.7 1 456 2 453 3 466.9 4 470.1 5 470.8 6 472 7 471.1 8 471.3 9 457.7 10 457.2M0 471.4 1 478.5 2 479.2 3 486.6 4 489 5 487.6 6 487.1 7 486.3 8 483 9 469 10 472.9M0 466.4 1 470.7 2 472.3 3 481.1 4 484.1 5 484.8 6 482.5 7 481.4 8 479.9 9 465 10 464.9M0 458.4 1 461.6 2 460.4 3 468.8 4 474.3 5 474.4 6 474.1 7 473.9 8 475.3 9 460.4 10 458.5M0 467.7 1 472.5 2 471.1 3 481.1 4 482.6 5 480.4 6 483.5 7 481 8 481 9 465.5 10 466.5M0 529.5 1 533.4 2 532.9 3 534.7 4 533.5 5 536.4 6 535.4 7 536.3 8 537.8 9 536.7 10 537M0 520.1 1 526 2 524.5 3 522.5 4 522.7 5 522 6 521.8 7 519.5 8 519.3 9 518.7 10 522.9M0 515.8 1 521.8 2 520.3 3 518 4 518.8 5 517.1 6 516.4 7 514.6 8 516.4 9 517.6 10 520.1M0 531.4 1 534.1 2 535 3 535.9 4 536 5 534 6 531.4 7 529.5 8 529.9 9 528.9 10 530.1M0 449.8 1 451.1 2 446 3 458 4 465.1 5 465.6 6 465.9 7 466.2 8 466.8 9 454.7 10 449.6M0 523.7 1 528.3 2 528.3 3 526.6 4 525 5 523.8 6 524.3 7 524.2 8 521.5 9 519.3 10 522.1M0 469.2 1 477.1 2 478.2 3 487 4 486.9 5 488.3 6 488.6 7 488.8 8 485.6 9 469.2 10 472.3M0 530.8 1 533 2 532.5 3 532 4 531.2 5 533.1 6 534.3 7 534.2 8 531.2 9 530.1 10 531.7M0 455.5 1 459.6 2 458 3 469.8 4 475.3 5 476.8 6 477 7 475.2 8 476.5 9 464.7 10 467.5M0 520.7 1 525.3 2 524.1 3 523.2 4 521.5 5 522 6 519.3 7 520.2 8 518 9 518.9 10 523.1M0 470.8 1 478.4 2 478.7 3 487.4 4 490.3 5 491.6 6 491.3 7 492.2 8 490.8 9 473.6 10 477.5M0 526.6 1 530.6 2 532.6 3 531.1 4 528.7 5 530.5 6 530.3 7 531.1 8 532.5 9 531.9 10 533.5M0 516.1 1 522 2 519.6 3 518.1 4 516.4 5 516.3 6 514.4 7 514.2 8 515.2 9 518.5 10 521.8M0 527.9 1 531.7 2 530.4 3 530.6 4 528.7 5 529.6 6 529.9 7 531.2 8 531.1 9 530 10 530.9M0 525.7 1 530.7 2 529.8 3 529 4 527.9 5 527.1 6 527.3 7 528.7 8 530 9 530.4 10 535.6M0 472.6 1 478.3 2 485.3 3 495.6 4 495.2 5 495.4 6 495.5 7 496.2 8 494.5 9 476.2 10 483.3M0 520.8 1 526.2 2 526.6 3 525.8 4 522.6 5 524.3 6 523.5 7 522.3 8 521.8 9 522 10 525.6M0 534 1 535.8 2 534.3 3 532.5 4 534 5 532.9 6 532.3 7 533.1 8 533.3 9 534.9 10 535.5M0 540.2 1 541.6 2 539.3 3 538.5 4 537 5 537.6 6 537.2 7 534.2 8 535.2 9 532.5 10 533.9M0 518.4 1 522.3 2 521.3 3 520.4 4 519 5 519.9 6 520.3 7 519.9 8 519.2 9 519.9 10 524.4M0 453.4 1 456.2 2 453.9 3 467.7 4 469.5 5 467.9 6 468.2 7 466.9 8 467.2 9 455.8 10 453.7M0 465 1 471.7 2 477.9 3 486.2 4 488.3 5 488.5 6 486.3 7 487.1 8 487.5 9 472.6 10 474.5M0 517.8 1 523.2 2 522 3 522.6 4 521.3 5 523 6 521.6 7 522.5 8 522.6 9 523.4 10 525.6M0 545.7 1 545.7 2 545.7 3 545.7 4 545.7 5 545.7 6 545.7 7 545.7 8 545.7 9 545.7 10 545.7M0 539.4 1 538.8 2 538.8 3 539.4 4 538.1 5 538.8 6 538.1 7 539.4 8 539.4 9 538.8 10 538.8" fill="none" stroke="#1c2545" stroke-width="0.6" stroke-opacity="0.3"/></g><g clip-path="url(#c16)" class="b1"><path d="M616 446.4V479.1M616 503V538.8" class="wh"/><rect x="610.4" y="479.1" width="11.2" height="23.9" class="bx"/><path d="M610.4 490.4H621.6" class="md"/><path d="M630.9 447.7V484.7M630.9 509.2V538.8" class="wh"/><rect x="625.3" y="484.7" width="11.2" height="24.5" class="bx"/><path d="M625.3 497.9H636.5" class="md"/><path d="M645.7 449.6V486M645.7 509.9V538.8" class="wh"/><rect x="640.2" y="486" width="11.2" height="23.9" class="bx"/><path d="M640.2 499.2H651.3" class="md"/><path d="M660.6 470.3V497.3M660.6 513.6V537.5" class="wh"/><rect x="655" y="497.3" width="11.2" height="16.3" class="bx"/><path d="M655 506.7H666.2" class="md"/><path d="M675.5 479.1V499.8M675.5 513.6V535.6" class="wh"/><rect x="669.9" y="499.8" width="11.2" height="13.8" class="bx"/><path d="M669.9 508H681.1" class="md"/><path d="M690.4 479.1V499.8M690.4 513.6V535.6" class="wh"/><rect x="684.8" y="499.8" width="11.2" height="13.8" class="bx"/><path d="M684.8 508H696" class="md"/><path d="M705.2 479.1V499.8M705.2 513.6V535.6" class="wh"/><rect x="699.7" y="499.8" width="11.2" height="13.8" class="bx"/><path d="M699.7 508H710.8" class="md"/><path d="M720.1 476.6V499.2M720.1 513.6V535.6" class="wh"/><rect x="714.5" y="499.2" width="11.2" height="14.4" class="bx"/><path d="M714.5 508H725.7" class="md"/><path d="M735 475.3V497.9M735 513.6V535.6" class="wh"/><rect x="729.4" y="497.9" width="11.2" height="15.7" class="bx"/><path d="M729.4 508H740.6" class="md"/><path d="M749.9 449V481.6M749.9 506.1V538.8" class="wh"/><rect x="744.3" y="481.6" width="11.2" height="24.5" class="bx"/><path d="M744.3 494.2H755.5" class="md"/><path d="M764.7 454V486M764.7 509.2V538.8" class="wh"/><rect x="759.2" y="486" width="11.2" height="23.2" class="bx"/><path d="M759.2 497.3H770.3" class="md"/><circle cx="616" cy="439.5" r="1.6"/><path d="M616 543.8V546.9" class="ob"/><circle cx="630.9" cy="445.2" r="1.6"/><path d="M630.9 545V546.9" class="ob"/><path d="M645.7 443.3V447.7" class="ob"/><path d="M645.7 545V546.9" class="ob"/><path d="M660.6 455.9V468.4" class="ob"/><circle cx="660.6" cy="539.4" r="1.6"/><path d="M660.6 545V546.9" class="ob"/><path d="M675.5 462.1V477.8" class="ob"/><path d="M675.5 537.5V541.9" class="ob"/><path d="M675.5 544.4V546.9" class="ob"/><path d="M690.4 462.8V477.8" class="ob"/><path d="M690.4 537.5V541.9" class="ob"/><path d="M690.4 544.4V546.9" class="ob"/><path d="M705.2 462.8V477.8" class="ob"/><path d="M705.2 537.5V541.9" class="ob"/><path d="M705.2 544.4V546.9" class="ob"/><path d="M720.1 460.3V474.7" class="ob"/><circle cx="720.1" cy="539.4" r="1.6"/><path d="M720.1 544.4V546.9" class="ob"/><path d="M735 460.9V474.1" class="ob"/><circle cx="735" cy="539.4" r="1.6"/><path d="M735 544.4V546.9" class="ob"/><circle cx="749.9" cy="438.3" r="1.6"/><path d="M749.9 544.4V546.9" class="ob"/><path d="M764.7 443.3V452.7" class="ob"/><path d="M764.7 544.4V546.9" class="ob"/></g><path d="M604.1 521.8H607.1" class="tk"/><text x="601.8" y="526.7" class="yl">0</text><path d="M604.1 490.4H607.1" class="tk"/><text x="601.8" y="495.3" class="yl">5</text><path d="M604.1 459H607.1" class="tk"/><text x="601.8" y="463.9" class="yl">10</text>
<rect x="36.4" y="555.2" width="166.6" height="16.5" fill="#d3d3d3" stroke="#9a9a9a" stroke-width="1"/><text x="119.7" y="567.5" class="st">Cluster 17</text><rect x="36.4" y="572" width="166.6" height="118.6" fill="#f3f3f3" stroke="#a8a8a8" stroke-width="0.9"/><rect x="38.3" y="572" width="14.4" height="118.6" fill="#a4a6b6"/><rect x="52.8" y="572" width="29.8" height="118.6" fill="#a3cd9f"/><rect x="82.5" y="572" width="29.8" height="118.6" fill="#f6cda3"/><rect x="112.3" y="572" width="59.5" height="118.6" fill="#eeb3a5"/><rect x="171.8" y="572" width="14.9" height="118.6" fill="#deb1d2"/><rect x="186.6" y="572" width="14.1" height="118.6" fill="#b09dd1"/><g stroke="#000" stroke-width="0.8"><path d="M36.4 686.2H203" stroke-opacity="0.045"/><path d="M36.4 668.7H203" stroke-opacity="0.025"/><path d="M36.4 651.2H203" stroke-opacity="0.045"/><path d="M36.4 633.7H203" stroke-opacity="0.025"/><path d="M36.4 616.2H203" stroke-opacity="0.045"/><path d="M36.4 598.7H203" stroke-opacity="0.025"/><path d="M36.4 581.2H203" stroke-opacity="0.045"/><path d="M45.3 572V690.6" stroke-opacity=".04"/><path d="M60.2 572V690.6" stroke-opacity=".04"/><path d="M75.1 572V690.6" stroke-opacity=".04"/><path d="M90 572V690.6" stroke-opacity=".04"/><path d="M104.8 572V690.6" stroke-opacity=".04"/><path d="M119.7 572V690.6" stroke-opacity=".04"/><path d="M134.6 572V690.6" stroke-opacity=".04"/><path d="M149.4 572V690.6" stroke-opacity=".04"/><path d="M164.3 572V690.6" stroke-opacity=".04"/><path d="M179.2 572V690.6" stroke-opacity=".04"/><path d="M194.1 572V690.6" stroke-opacity=".04"/></g><g transform="translate(45.32 0) scale(14.875 1)"><path vector-effect="non-scaling-stroke" d="M0 676 1 662.3 2 666.7 3 681.4 4 681 5 682.5 6 683.2 7 683.4 8 683.9 9 683.8 10 684.3M0 673.9 1 634.4 2 629.2 3 664.9 4 671.4 5 669.7 6 671.6 7 673 8 670.4 9 670.8 10 665.9M0 674 1 648.6 2 648.7 3 678 4 680.9 5 676.7 6 671.8 7 668.4 8 671.1 9 671.9 10 672M0 681.6 1 660.1 2 656.1 3 675.8 4 678.7 5 677.8 6 678 7 681.4 8 674.6 9 680.4 10 681.2M0 674.5 1 657.9 2 653 3 679.6 4 680.3 5 678.9 6 678.5 7 677.8 8 678.6 9 676.8 10 673.3M0 674.1 1 644.1 2 649.9 3 676.4 4 678.7 5 678.8 6 681.5 7 676.5 8 680.5 9 674.9 10 672.1M0 665 1 609.5 2 600.3 3 657.3 4 662.6 5 661.4 6 659.7 7 660.3 8 659.8 9 654.4 10 662.1M0 679 1 655.1 2 651.7 3 677.4 4 682.4 5 680.5 6 682.5 7 678 8 675.8 9 676.1 10 673.1M0 672 1 634 2 642.2 3 672.1 4 676.4 5 673.4 6 671.3 7 664.8 8 661.4 9 656.6 10 663.1M0 662 1 601.8 2 596.3 3 653.2 4 656.8 5 658.7 6 662.5 7 658.2 8 657.8 9 652.8 10 661.8M0 671.2 1 632.1 2 646.4 3 669.2 4 671.3 5 670.2 6 672.4 7 672.7 8 675.1 9 676.1 10 681.5M0 671.3 1 617.3 2 616.3 3 664.5 4 671.2 5 672.5 6 671.7 7 672.4 8 674.1 9 673.6 10 673M0 672.1 1 638.5 2 637.5 3 675.7 4 674.2 5 674.9 6 678.3 7 678.1 8 680.9 9 681 10 679.2M0 667.2 1 607.9 2 599.1 3 658.8 4 672.4 5 672.2 6 672.9 7 672 8 674.1 9 676.1 10 672.7M0 681.1 1 664.8 2 651.4 3 679.7 4 682 5 681.6 6 681.7 7 680.9 8 677.5 9 677.4 10 674M0 675.2 1 650.5 2 649.5 3 678.8 4 676.3 5 676.6 6 676.9 7 679.4 8 680.6 9 681.5 10 680.9M0 683.2 1 671.7 2 657.2 3 682.5 4 680.1 5 679.4 6 676.5 7 679.1 8 671.5 9 676 10 674.4M0 660.3 1 609.4 2 637.1 3 672 4 676.3 5 678.3 6 680.2 7 682.2 8 680 9 675.4 10 676.4M0 673.3 1 639.3 2 632.4 3 674.1 4 671.8 5 671.2 6 672.9 7 671.8 8 674.2 9 667.9 10 668.9M0 674.9 1 643.4 2 632.5 3 674.5 4 680.4 5 675.7 6 673.6 7 674.5 8 674.8 9 671.7 10 677.3M0 662.1 1 604.5 2 596 3 656.5 4 656.8 5 659.1 6 659 7 662.6 8 662.6 9 660 10 670M0 684 1 674.1 2 668.3 3 679.4 4 681.4 5 679.9 6 682 7 677.9 8 680 9 675.2 10 674.3M0 637.2 1 595.2 2 611.3 3 634.4 4 636.5 5 636.5 6 636.5 7 636.5 8 636.5 9 638.6 10 638.6M0 642.1 1 619.7 2 602.2 3 654 4 659.6 5 654 6 658.9 7 658.2 8 658.2 9 658.2 10 642.8M0 647 1 609.2 2 630.2 3 661.7 4 665.2 5 663.8 6 662.4 7 661 8 659.6 9 659.6 10 649.1M0 650.5 1 626.7 2 623.2 3 659.6 4 661 5 661 6 659.6 7 660.3 8 661.7 9 663.1 10 657.5" fill="none" stroke="#333" stroke-width="0.6" stroke-opacity="0.45"/></g><g clip-path="url(#c17)" class="b1"><path d="M45.3 657.5V668.7M45.3 675.7V684.8" class="wh"/><rect x="39.7" y="668.7" width="11.2" height="7" class="bx"/><path d="M39.7 672.9H50.9" class="md"/><path d="M60.2 584.7V622.5M60.2 650.5V677.8" class="wh"/><rect x="54.6" y="622.5" width="11.2" height="28" class="bx"/><path d="M54.6 632.3H65.8" class="md"/><path d="M75.1 586.1V611.3M75.1 651.9V677.8" class="wh"/><rect x="69.5" y="611.3" width="11.2" height="40.6" class="bx"/><path d="M69.5 640.7H80.7" class="md"/><path d="M90 651.2V662.4M90 678.5V684.1" class="wh"/><rect x="84.4" y="662.4" width="11.2" height="16.1" class="bx"/><path d="M84.4 672.9H95.5" class="md"/><path d="M104.8 656.1V670.8M104.8 679.9V684.1" class="wh"/><rect x="99.2" y="670.8" width="11.2" height="9.1" class="bx"/><path d="M99.2 674.3H110.4" class="md"/><path d="M119.7 657.5V670.1M119.7 679.2V684.1" class="wh"/><rect x="114.1" y="670.1" width="11.2" height="9.1" class="bx"/><path d="M114.1 673.6H125.3" class="md"/><path d="M134.6 658.2V670.1M134.6 679.2V684.1" class="wh"/><rect x="129" y="670.1" width="11.2" height="9.1" class="bx"/><path d="M129 673.6H140.2" class="md"/><path d="M149.4 657.5V665.9M149.4 679.2V684.1" class="wh"/><rect x="143.9" y="665.9" width="11.2" height="13.3" class="bx"/><path d="M143.9 672.9H155" class="md"/><path d="M164.3 657.5V665.2M164.3 679.9V684.1" class="wh"/><rect x="158.7" y="665.2" width="11.2" height="14.7" class="bx"/><path d="M158.7 672.9H169.9" class="md"/><path d="M179.2 652.6V668.7M179.2 679.2V684.1" class="wh"/><rect x="173.6" y="668.7" width="11.2" height="10.5" class="bx"/><path d="M173.6 673.6H184.8" class="md"/><path d="M194.1 661.7V669.4M194.1 676.4V684.8" class="wh"/><rect x="188.5" y="669.4" width="11.2" height="7" class="bx"/><path d="M188.5 672.9H199.7" class="md"/><circle cx="45.3" cy="650.5" r="1.6"/><circle cx="45.3" cy="647" r="1.6"/><circle cx="45.3" cy="644.2" r="1.6"/><circle cx="45.3" cy="642.1" r="1.6"/><circle cx="45.3" cy="639.3" r="1.6"/><circle cx="45.3" cy="637.2" r="1.6"/><circle cx="60.2" cy="577.7" r="1.6"/><circle cx="90" cy="634.4" r="1.6"/><circle cx="104.8" cy="636.5" r="1.6"/><circle cx="119.7" cy="636.5" r="1.6"/><circle cx="119.7" cy="654" r="1.6"/><circle cx="134.6" cy="636.5" r="1.6"/><circle cx="149.4" cy="636.5" r="1.6"/><circle cx="164.3" cy="636.5" r="1.6"/><circle cx="179.2" cy="638.6" r="1.6"/><circle cx="194.1" cy="657.5" r="1.6"/><circle cx="194.1" cy="649.1" r="1.6"/><circle cx="194.1" cy="642.8" r="1.6"/><circle cx="194.1" cy="638.6" r="1.6"/></g><path d="M33.4 686.2H36.4" class="tk"/><text x="31.1" y="691.1" class="yl">0</text><path d="M33.4 651.2H36.4" class="tk"/><text x="31.1" y="656.1" class="yl">5</text><path d="M33.4 616.2H36.4" class="tk"/><text x="31.1" y="621.1" class="yl">10</text><path d="M33.4 581.2H36.4" class="tk"/><text x="31.1" y="586.1" class="yl">15</text><path d="M45.3 690.6V693.9" class="tk"/><text transform="translate(54.5 696.6) rotate(-90)" class="xl">Male1-5d</text><path d="M60.2 690.6V693.9" class="tk"/><text transform="translate(69.4 696.6) rotate(-90)" class="xl">FCar24PBM</text><path d="M75.1 690.6V693.9" class="tk"/><text transform="translate(84.3 696.6) rotate(-90)" class="xl">Female1-5d</text><path d="M90 690.6V693.9" class="tk"/><text transform="translate(99.2 696.6) rotate(-90)" class="xl">Ov1-2dPE</text><path d="M104.8 690.6V693.9" class="tk"/><text transform="translate(114 696.6) rotate(-90)" class="xl">Ov24PBM</text><path d="M119.7 690.6V693.9" class="tk"/><text transform="translate(128.9 696.6) rotate(-90)" class="xl">Em0-1h</text><path d="M134.6 690.6V693.9" class="tk"/><text transform="translate(143.8 696.6) rotate(-90)" class="xl">Em2-4h</text><path d="M149.4 690.6V693.9" class="tk"/><text transform="translate(158.6 696.6) rotate(-90)" class="xl">Em4-8h</text><path d="M164.3 690.6V693.9" class="tk"/><text transform="translate(173.5 696.6) rotate(-90)" class="xl">Em8-12h</text><path d="M179.2 690.6V693.9" class="tk"/><text transform="translate(188.4 696.6) rotate(-90)" class="xl">Larvae</text><path d="M194.1 690.6V693.9" class="tk"/><text transform="translate(203.3 696.6) rotate(-90)" class="xl">Pupae</text>
<rect x="226.6" y="555.2" width="166.6" height="16.5" fill="#d3d3d3" stroke="#9a9a9a" stroke-width="1"/><text x="309.9" y="567.5" class="st">Cluster 18</text><rect x="226.6" y="572" width="166.6" height="118.6" fill="#f3f3f3" stroke="#a8a8a8" stroke-width="0.9"/><rect x="228.6" y="572" width="14.4" height="118.6" fill="#a4a6b6"/><rect x="243" y="572" width="29.8" height="118.6" fill="#a3cd9f"/><rect x="272.7" y="572" width="29.8" height="118.6" fill="#f6cda3"/><rect x="302.5" y="572" width="59.5" height="118.6" fill="#eeb3a5"/><rect x="362" y="572" width="14.9" height="118.6" fill="#deb1d2"/><rect x="376.9" y="572" width="14.1" height="118.6" fill="#b09dd1"/><g stroke="#000" stroke-width="0.8"><path d="M226.6 689.5H393.2" stroke-opacity="0.025"/><path d="M226.6 676H393.2" stroke-opacity="0.045"/><path d="M226.6 662.5H393.2" stroke-opacity="0.025"/><path d="M226.6 649H393.2" stroke-opacity="0.045"/><path d="M226.6 635.5H393.2" stroke-opacity="0.025"/><path d="M226.6 622.1H393.2" stroke-opacity="0.045"/><path d="M226.6 608.6H393.2" stroke-opacity="0.025"/><path d="M226.6 595.1H393.2" stroke-opacity="0.045"/><path d="M226.6 581.6H393.2" stroke-opacity="0.025"/><path d="M235.6 572V690.6" stroke-opacity=".04"/><path d="M250.4 572V690.6" stroke-opacity=".04"/><path d="M265.3 572V690.6" stroke-opacity=".04"/><path d="M280.2 572V690.6" stroke-opacity=".04"/><path d="M295.1 572V690.6" stroke-opacity=".04"/><path d="M309.9 572V690.6" stroke-opacity=".04"/><path d="M324.8 572V690.6" stroke-opacity=".04"/><path d="M339.7 572V690.6" stroke-opacity=".04"/><path d="M354.6 572V690.6" stroke-opacity=".04"/><path d="M369.4 572V690.6" stroke-opacity=".04"/><path d="M384.3 572V690.6" stroke-opacity=".04"/></g><g fill="#1c2545" clip-path="url(#c18)"><path d="M235.6 608.6L250.4 593.5V593.5L235.6 608.6ZM250.4 593.5L265.3 603.2V601.6L250.4 593.5ZM265.3 603.2L280.2 624.7V615.6L265.3 601.6ZM280.2 624.7L295.1 626.8V623.1L280.2 615.6ZM295.1 626.8L309.9 625.6V616.7L295.1 623.1ZM309.9 625.6L324.8 625.6V616.7L309.9 616.7ZM324.8 625.6L339.7 626.8V623.1L324.8 616.7ZM339.7 626.8L354.6 620.7V619.4L339.7 623.1ZM354.6 620.7L369.4 604.3V604.3L354.6 619.4ZM369.4 604.3L384.3 611.3V611.3L369.4 604.3Z" fill-opacity=".15"/><path d="M235.6 680.3L250.4 677.1V657.8L235.6 664.2ZM250.4 677.1L265.3 680.3V660.3L250.4 657.8ZM265.3 680.3L280.2 678.7V674.5L265.3 660.3ZM280.2 678.7L295.1 678.7V674.9L280.2 674.5ZM295.1 678.7L309.9 678.7V675.9L295.1 674.9ZM309.9 678.7L324.8 678.7V674.2L309.9 675.9ZM324.8 678.7L339.7 678.7V671.3L324.8 674.2ZM339.7 678.7L354.6 678.7V675L339.7 671.3ZM354.6 678.7L369.4 678.7V672.3L354.6 675ZM369.4 678.7L384.3 679.2V668.2L369.4 672.3Z" fill-opacity=".20"/><path d="M235.6 611.4L250.4 596.6V593.5L235.6 608.6ZM250.4 596.6L265.3 606.4V603.2L250.4 593.5ZM265.3 606.4L280.2 627V624.7L265.3 603.2ZM280.2 627L295.1 629.2V626.8L280.2 624.7ZM295.1 629.2L309.9 628.2V625.6L295.1 626.8ZM309.9 628.2L324.8 628.2V625.6L309.9 625.6ZM324.8 628.2L339.7 629.2V626.8L324.8 625.6ZM339.7 629.2L354.6 623.5V620.7L339.7 626.8ZM354.6 623.5L369.4 607.1V604.3L354.6 620.7ZM369.4 607.1L384.3 613.5V611.3L369.4 604.3Z" fill-opacity=".35"/><path d="M235.6 664.2L250.4 657.8V655.5L235.6 662ZM250.4 657.8L265.3 660.3V658.2L250.4 655.5ZM265.3 660.3L280.2 674.5V672.2L265.3 658.2ZM280.2 674.5L295.1 674.9V672.8L280.2 672.2ZM295.1 674.9L309.9 675.9V673.8L295.1 672.8ZM309.9 675.9L324.8 674.2V672.2L309.9 673.8ZM324.8 674.2L339.7 671.3V669.5L324.8 672.2ZM339.7 671.3L354.6 675V672.8L339.7 669.5ZM354.6 675L369.4 672.3V669.5L354.6 672.8ZM369.4 672.3L384.3 668.2V665.8L369.4 669.5Z" fill-opacity=".40"/><path d="M235.6 614.2L250.4 599.7V596.6L235.6 611.4ZM235.6 662L250.4 655.5V653.2L235.6 659.7ZM250.4 599.7L265.3 609.7V606.4L250.4 596.6ZM250.4 655.5L265.3 658.2V656.1L250.4 653.2ZM265.3 609.7L280.2 629.4V627L265.3 606.4ZM265.3 658.2L280.2 672.2V670L265.3 656.1ZM280.2 629.4L295.1 631.6V629.2L280.2 627ZM280.2 672.2L295.1 672.8V670.7L280.2 670ZM295.1 631.6L309.9 630.8V628.2L295.1 629.2ZM295.1 672.8L309.9 673.8V671.7L295.1 670.7ZM309.9 630.8L324.8 630.8V628.2L309.9 628.2ZM309.9 673.8L324.8 672.2V670.3L309.9 671.7ZM324.8 630.8L339.7 631.6V629.2L324.8 628.2ZM324.8 672.2L339.7 669.5V667.7L324.8 670.3ZM339.7 631.6L354.6 626.3V623.5L339.7 629.2ZM339.7 669.5L354.6 672.8V670.5L339.7 667.7ZM354.6 626.3L369.4 609.9V607.1L354.6 623.5ZM354.6 672.8L369.4 669.5V666.8L354.6 670.5ZM369.4 609.9L384.3 615.8V613.5L369.4 607.1ZM369.4 669.5L384.3 665.8V663.3L369.4 666.8Z" fill-opacity=".45"/><path d="M235.6 617.1L250.4 602.9V599.7L235.6 614.2ZM250.4 602.9L265.3 612.9V609.7L250.4 599.7ZM265.3 612.9L280.2 631.8V629.4L265.3 609.7ZM280.2 631.8L295.1 633.9V631.6L280.2 629.4ZM295.1 633.9L309.9 633.4V630.8L295.1 631.6ZM309.9 633.4L324.8 633.4V630.8L309.9 630.8ZM324.8 633.4L339.7 633.9V631.6L324.8 630.8ZM339.7 633.9L354.6 629.1V626.3L339.7 631.6ZM354.6 629.1L369.4 612.7V609.9L354.6 626.3ZM369.4 612.7L384.3 618V615.8L369.4 609.9Z" fill-opacity=".50"/><path d="M235.6 659.7L250.4 653.2V651L235.6 657.4ZM250.4 653.2L265.3 656.1V654L250.4 651ZM265.3 656.1L280.2 670V667.7L265.3 654ZM280.2 670L295.1 670.7V668.6L280.2 667.7ZM295.1 670.7L309.9 671.7V669.6L295.1 668.6ZM309.9 671.7L324.8 670.3V668.3L309.9 669.6ZM324.8 670.3L339.7 667.7V666L324.8 668.3ZM339.7 667.7L354.6 670.5V668.2L339.7 666ZM354.6 670.5L369.4 666.8V664L354.6 668.2ZM369.4 666.8L384.3 663.3V660.9L369.4 664Z" fill-opacity=".55"/><path d="M235.6 619.9L250.4 606V602.9L235.6 617.1ZM250.4 606L265.3 616.1V612.9L250.4 602.9ZM265.3 616.1L280.2 634.1V631.8L265.3 612.9ZM280.2 634.1L295.1 636.3V633.9L280.2 631.8ZM295.1 636.3L309.9 636V633.4L295.1 633.9ZM309.9 636L324.8 636V633.4L309.9 633.4ZM324.8 636L339.7 636.3V633.9L324.8 633.4ZM339.7 636.3L354.6 631.9V629.1L339.7 633.9ZM354.6 631.9L369.4 615.5V612.7L354.6 629.1ZM369.4 615.5L384.3 620.3V618L369.4 612.7Z" fill-opacity=".60"/><path d="M235.6 657.4L250.4 651V648.7L235.6 655.2ZM250.4 651L265.3 654V651.9L250.4 648.7ZM265.3 654L280.2 667.7V665.4L265.3 651.9ZM280.2 667.7L295.1 668.6V666.5L280.2 665.4ZM295.1 668.6L309.9 669.6V667.5L295.1 666.5ZM309.9 669.6L324.8 668.3V666.4L309.9 667.5ZM324.8 668.3L339.7 666V664.2L324.8 666.4ZM339.7 666L354.6 668.2V666L339.7 664.2ZM354.6 668.2L369.4 664V661.3L354.6 666ZM369.4 664L384.3 660.9V658.5L369.4 661.3Z" fill-opacity=".65"/><path d="M235.6 622.7L250.4 609.1V606L235.6 619.9ZM235.6 655.2L250.4 648.7V646.4L235.6 652.9ZM250.4 609.1L265.3 619.4V616.1L250.4 606ZM250.4 648.7L265.3 651.9V649.8L250.4 646.4ZM265.3 619.4L280.2 636.5V634.1L265.3 616.1ZM265.3 651.9L280.2 665.4V663.2L265.3 649.8ZM280.2 636.5L295.1 638.7V636.3L280.2 634.1ZM280.2 665.4L295.1 666.5V664.4L280.2 663.2ZM295.1 638.7L309.9 638.6V636L295.1 636.3ZM295.1 666.5L309.9 667.5V665.4L295.1 664.4ZM309.9 638.6L324.8 638.6V636L309.9 636ZM309.9 667.5L324.8 666.4V664.5L309.9 665.4ZM324.8 638.6L339.7 638.7V636.3L324.8 636ZM324.8 666.4L339.7 664.2V662.4L324.8 664.5ZM339.7 638.7L354.6 634.7V631.9L339.7 636.3ZM339.7 664.2L354.6 666V663.7L339.7 662.4ZM354.6 634.7L369.4 618.3V615.5L354.6 631.9ZM354.6 666L369.4 661.3V658.5L354.6 663.7ZM369.4 618.3L384.3 622.5V620.3L369.4 615.5ZM369.4 661.3L384.3 658.5V656L369.4 658.5Z" fill-opacity=".70"/><path d="M235.6 652.9L250.4 646.4V609.1L235.6 622.7ZM250.4 646.4L265.3 649.8V619.4L250.4 609.1ZM265.3 649.8L280.2 663.2V636.5L265.3 619.4ZM280.2 663.2L295.1 664.4V638.7L280.2 636.5ZM295.1 664.4L309.9 665.4V638.6L295.1 638.7ZM309.9 665.4L324.8 664.5V638.6L309.9 638.6ZM324.8 664.5L339.7 662.4V638.7L324.8 638.6ZM339.7 662.4L354.6 663.7V634.7L339.7 638.7ZM354.6 663.7L369.4 658.5V618.3L354.6 634.7ZM369.4 658.5L384.3 656V622.5L369.4 618.3Z" fill-opacity=".75"/></g><g transform="translate(235.55 0) scale(14.875 1)"><path vector-effect="non-scaling-stroke" d="M0 672.3 1 667.5 2 669.3 3 672.4 4 673.7 5 674.1 6 673.5 7 671.4 8 672.9 9 672.1 10 672M0 677.8 1 674.5 2 677.9 3 677 4 677.3 5 676.9 6 676.3 7 674.8 8 675.2 9 673.2 10 672.3M0 658.3 1 651.5 2 656.5 3 667.1 4 668 5 668.7 6 668 7 666.8 8 667.5 9 660.8 10 661.2M0 617.6 1 602.3 2 611.5 3 626.2 4 631.3 5 628 6 627.3 7 629.8 8 625.5 9 609.5 10 615.8M0 657.9 1 650 2 652 3 663 4 664.4 5 665.4 6 664.6 7 661.4 8 662.5 9 656.1 10 654.6M0 619.7 1 607.2 2 615.8 3 630.6 4 633.3 5 633.5 6 633.4 7 635.7 8 632 9 617.1 10 620.4M0 651.3 1 645.3 2 648 3 662.4 4 663.5 5 663 6 662.6 7 659.7 8 660.8 9 654.2 10 649.3M0 670.4 1 666.1 2 667.4 3 673.2 4 673.4 5 672.6 6 670.7 7 669.7 8 671.6 9 668.8 10 667M0 613.2 1 599.2 2 607.2 3 623.3 4 628.3 5 623.5 6 624 7 628.6 8 625 9 608.1 10 614.9M0 623.1 1 611.6 2 622 3 639.4 4 640.8 5 640.6 6 641.1 7 640.6 8 635.6 9 619.3 10 623.9M0 653.5 1 645.8 2 647.4 3 661.7 4 662.9 5 664.1 6 662.1 7 661.2 8 663.2 9 658 10 655.7M0 658.7 1 650.9 2 655.8 3 665.8 4 666.6 5 668.6 6 668.6 7 666 8 666.4 9 662.4 10 660.1M0 674.9 1 670.7 2 674.8 3 676.5 4 677.7 5 677.9 6 677.7 7 677.6 8 677.6 9 676.6 10 676.3M0 625.3 1 611.1 2 622.7 3 640.9 4 641.4 5 644 6 644.8 7 643 8 637.5 9 620 10 624.4M0 653.1 1 648 2 648.5 3 662.8 4 664.2 5 666.2 6 663.3 7 661.6 8 663.6 9 658.1 10 657.2M0 655.5 1 650.1 2 655.5 3 666.6 4 667 5 667.1 6 667.1 7 666 8 666.5 9 662.3 10 662.2M0 654 1 645.7 2 647.4 3 662.1 4 664.5 5 665.5 6 662.7 7 661.4 8 662.7 9 656.7 10 652.4M0 648.9 1 642.7 2 647.5 3 663.5 4 663.8 5 664.8 6 663.5 7 662.8 8 663.8 9 656.9 10 654.1M0 652 1 642.2 2 648.8 3 662.6 4 663 5 664.7 6 664.7 7 661.1 8 662.1 9 656.7 10 652.9M0 614.2 1 599.3 2 608.1 3 624.1 4 629.8 5 628.6 6 626 7 630.1 8 626.5 9 610.6 10 616M0 611.2 1 597.1 2 606.2 3 621 4 627 5 620.5 6 620.7 7 627.5 8 623.2 9 607 10 614.5M0 652.8 1 646.9 2 651.2 3 664.9 4 665.9 5 666.9 6 667.9 7 665.4 8 666.2 9 661.5 10 660.4M0 648.2 1 645.6 2 647.8 3 663.1 4 664.1 5 665.7 6 664.1 7 662.1 8 663.5 9 658.3 10 656.8M0 666.4 1 660.7 2 665.5 3 671.7 4 671.7 5 672.5 6 673.1 7 672.1 8 671.6 9 671.9 10 672.1M0 667.2 1 659.2 2 663.4 3 670.4 4 670.4 5 670.4 6 669.7 7 668.1 8 670.3 9 667.1 10 665.7M0 656.9 1 651.1 2 650.7 3 662.7 4 664.1 5 663.6 6 661.3 7 659.7 8 660.1 9 653.7 10 650.8M0 625.1 1 611.4 2 622.7 3 640 4 642.4 5 644.8 6 644.2 7 643.2 8 638.9 9 622.4 10 625.5M0 668.8 1 666.4 2 672.6 3 673 4 674.8 5 673.8 6 674.6 7 674 8 674.6 9 672.2 10 672.9M0 650.6 1 645.6 2 650.2 3 663.1 4 664.3 5 666 6 665.7 7 664.9 8 666.1 9 661 10 659.2M0 669.4 1 665.4 2 667.6 3 674 4 675.3 5 675.8 6 674.5 7 672.8 8 673.8 9 672 10 671.9M0 618.3 1 605.4 2 615.9 3 631.5 4 635.4 5 633.2 6 631.2 7 633.2 8 629.2 9 613.7 10 618.1M0 663.2 1 659.6 2 661.8 3 669.7 4 670.2 5 670.6 6 670 7 667 8 667.1 9 662.5 10 663.5M0 617.5 1 602.3 2 610.8 3 623.5 4 630.2 5 627.9 6 628.2 7 632.1 8 628.2 9 612 10 617.5M0 622.4 1 609.4 2 618.5 3 635.9 4 638.9 5 638.6 6 639.1 7 638.9 8 635 9 618.1 10 621.8M0 651 1 641.6 2 641.8 3 659 4 660.1 5 662.8 6 660.9 7 657.7 8 660.2 9 654 10 650.9M0 654.6 1 650.1 2 653.6 3 665.7 4 667 5 667.5 6 667.7 7 666.4 8 668 9 663.2 10 660M0 665.2 1 662.2 2 666.5 3 670.7 4 672 5 672 6 671 7 669.9 8 670.6 9 668.9 10 671.6M0 669.2 1 663.7 2 666.3 3 672.7 4 673.5 5 674.2 6 673.2 7 674 8 674.2 9 671.9 10 671.4M0 651 1 643.6 2 649.5 3 665 4 665.5 5 666.4 6 664.3 7 661.5 8 662.1 9 656.2 10 651.9M0 662.4 1 656.6 2 657.8 3 667.3 4 669.8 5 670.6 6 670.4 7 669 8 669.6 9 666.9 10 662.3M0 669.5 1 669.1 2 673.4 3 675.5 4 676.3 5 677.5 6 676.7 7 675.9 8 676.3 9 675.7 10 673.4M0 654.3 1 644.1 2 648.3 3 662.6 4 663.3 5 665.1 6 665.7 7 664.3 8 664.5 9 658 10 653.9M0 651.4 1 646.2 2 649.5 3 663.1 4 663.6 5 664.2 6 663.2 7 659.9 8 662.8 9 657.4 10 654M0 651.1 1 647.5 2 649.9 3 662.9 4 663.4 5 663.6 6 662.7 7 659.5 8 661.2 9 654.5 10 652.7M0 649 1 641 2 647.2 3 661.5 4 663.1 5 664.1 6 662.7 7 660.5 8 662.5 9 655.6 10 652.1M0 614.3 1 599.2 2 608.1 3 622.9 4 628.7 5 624 6 623.9 7 629.3 8 625.2 9 609.9 10 616M0 670.6 1 669.3 2 672 3 675.4 4 675.9 5 675.7 6 674.8 7 673.9 8 674 9 671.9 10 671.3M0 671.4 1 668.6 2 673.1 3 676.3 4 676.5 5 676.2 6 676.9 7 676.6 8 676.6 9 674.9 10 675.4M0 609.8 1 596.2 2 604 3 617.6 4 624.9 5 620.6 6 618.3 7 624.7 8 621.8 9 605.6 10 614.1M0 658.4 1 653.9 2 658.9 3 667.7 4 668.2 5 667.9 6 667.4 7 665.1 8 666.7 9 663.7 10 662M0 654.9 1 651 2 650.6 3 663.5 4 664.5 5 664.3 6 662.8 7 661.3 8 663.1 9 657.2 10 654.9M0 617.8 1 604.3 2 612.7 3 628.8 4 632 5 628.1 6 627.8 7 631.3 8 627.9 9 612 10 617.3M0 664.2 1 659.5 2 663.6 3 671.5 4 672.1 5 672.9 6 673.1 7 672.1 8 671.7 9 667.7 10 666.3M0 657.5 1 650.5 2 651.3 3 663.5 4 664.4 5 665 6 664.7 7 661.9 8 663.7 9 659.4 10 654.8M0 661.2 1 653.8 2 656 3 666.4 4 668.3 5 669.4 6 668.7 7 667.4 8 668.9 9 663.6 10 660.6M0 662.2 1 656.9 2 658.9 3 667.5 4 668.4 5 668.9 6 667.7 7 665.1 8 664.9 9 659.9 10 657.8M0 668.5 1 664.5 2 669.3 3 672.6 4 672.5 5 672.1 6 672.4 7 670.4 8 669.6 9 665.6 10 665.8M0 620.6 1 606.9 2 618.3 3 633.3 4 636.5 5 634 6 635.9 7 636.3 8 633.4 9 618.1 10 622.2M0 652.8 1 647.6 2 649.9 3 662.8 4 664.1 5 665.1 6 664.8 7 661.1 8 663.5 9 657.5 10 656.8M0 655.9 1 648.5 2 650.5 3 663.3 4 665 5 666.7 6 665.5 7 664.3 8 666.6 9 663.5 10 660.8M0 653.4 1 646.3 2 648.1 3 663.4 4 664.4 5 666.8 6 665.1 7 662.8 8 663.5 9 660.3 10 659.6M0 618.9 1 605.9 2 617.1 3 633.5 4 636.6 5 635.5 6 635 7 636.5 8 632.7 9 616 10 620.7M0 677.8 1 674.9 2 676.9 3 676.8 4 677.9 5 677.7 6 676.2 7 675 8 675.4 9 676.3 10 677.4M0 661.3 1 655.8 2 658.6 3 668 4 667.1 5 668.7 6 668.4 7 666.5 8 666.8 9 661.4 10 659.6M0 653.1 1 645.4 2 647.5 3 662.8 4 663.8 5 664.3 6 663.4 7 661.5 8 664.2 9 659.5 10 656.6M0 669.8 1 665 2 668.1 3 673.6 4 674.1 5 674.8 6 673.7 7 672.4 8 671.2 9 667.1 10 666.3M0 614.2 1 598.7 2 607.6 3 621.7 4 627.7 5 624.6 6 625.7 7 629.7 8 624 9 608 10 614.4M0 615 1 600.8 2 609.1 3 622.7 4 627.3 5 622.9 6 622.2 7 627.7 8 624.8 9 609.2 10 614.8M0 621.2 1 607.5 2 618.9 3 633.9 4 637.1 5 635.5 6 634.9 7 636.4 8 630.9 9 614.3 10 619.3M0 664.8 1 659 2 661.5 3 669.6 4 670 5 671.1 6 670.1 7 668.4 8 670 9 666.2 10 665.6M0 675.7 1 670.1 2 671.3 3 674.8 4 674.4 5 673.9 6 673.1 7 672.2 8 671.4 9 669.5 10 669.6M0 619.7 1 605.9 2 615.7 3 630.9 4 634.8 5 634.3 6 634 7 635.3 8 631 9 615.2 10 619.9M0 657.6 1 653.7 2 655.7 3 666.2 4 667.6 5 668.2 6 668.1 7 666.1 8 667.9 9 662.5 10 658.9M0 651.2 1 644.5 2 647 3 659.9 4 661.9 5 662.9 6 662.8 7 660.8 8 661.8 9 655.2 10 652M0 648.3 1 639.4 2 642.8 3 660.6 4 662.3 5 663.3 6 661.7 7 658.5 8 659.3 9 653 10 650M0 667.1 1 662.2 2 667.9 3 670.9 4 671.7 5 674.2 6 674.6 7 673.2 8 673.8 9 671.8 10 674.8M0 666.7 1 656.3 2 659.2 3 668.4 4 668.9 5 669.9 6 669.9 7 669.2 8 668.6 9 666.8 10 666.6M0 668.5 1 664.6 2 669.4 3 672.7 4 673.8 5 673.8 6 673.9 7 673.1 8 674.2 9 674.8 10 675M0 663.1 1 659.4 2 663.2 3 670.8 4 670.9 5 670.8 6 669.7 7 668.7 8 668.9 9 666.2 10 662.3M0 670.4 1 663.5 2 666.7 3 671.6 4 672.7 5 672.5 6 670.8 7 669.2 8 670.1 9 667.2 10 666.2M0 654.1 1 646.8 2 651.8 3 664.5 4 663.6 5 665.6 6 663.1 7 660.5 8 662.7 9 657.3 10 655.4M0 669.8 1 664.1 2 663.4 3 669.9 4 671 5 671.6 6 671.1 7 671.6 8 672.4 9 671.2 10 671M0 658.2 1 651.8 2 656.9 3 665.6 4 666.9 5 668.3 6 666.9 7 663.6 8 664.9 9 659.8 10 657.7M0 623.8 1 611.6 2 621.5 3 638.5 4 640 5 638.6 6 638.3 7 638.7 8 634.3 9 619.2 10 622.6M0 622.4 1 608.5 2 619.8 3 637.1 4 638.9 5 637.6 6 637.1 7 637 8 632.4 9 616.6 10 621M0 613.5 1 597.7 2 605 3 620.5 4 625.5 5 618.1 6 619 7 624.4 8 621.2 9 605.8 10 611.9M0 654.9 1 648.9 2 652.5 3 663.7 4 666 5 666.9 6 665.8 7 663.6 8 664.9 9 659.2 10 657.9M0 673.3 1 667.8 2 671.5 3 673.1 4 674.2 5 674.4 6 674.8 7 673.9 8 675 9 672.6 10 670.9M0 649.6 1 643.7 2 645.7 3 659.7 4 662.2 5 663.4 6 663 7 660.9 8 661 9 655.3 10 653.8M0 618 1 603.8 2 614.4 3 629.8 4 633.1 5 630.2 6 631.1 7 632.8 8 629.3 9 612.4 10 618.2M0 608.6 1 592.4 2 598.9 3 615.6 4 615.6 5 616.7 6 616.7 7 616.7 8 604.3 9 604.3 10 602.1M0 604.8 1 577.3 2 605.9 3 617.8 4 620.4 5 622.1 6 622.6 7 621.5 8 619.4 9 611.3 10 611.3" fill="none" stroke="#1c2545" stroke-width="0.6" stroke-opacity="0.3"/></g><g clip-path="url(#c18)" class="b1"><path d="M235.6 608.6V631.8M235.6 646.9V671.1" class="wh"/><rect x="230" y="631.8" width="11.2" height="15.1" class="bx"/><path d="M230 639.3H241.1" class="md"/><path d="M250.4 593.5V622.1M250.4 640.4V669.5" class="wh"/><rect x="244.8" y="622.1" width="11.2" height="18.3" class="bx"/><path d="M244.8 632.9H256" class="md"/><path d="M265.3 601.6V629.1M265.3 644.2V669.5" class="wh"/><rect x="259.7" y="629.1" width="11.2" height="15.1" class="bx"/><path d="M259.7 637.2H270.9" class="md"/><path d="M280.2 619.9V643.6M280.2 657.1V678.7" class="wh"/><rect x="274.6" y="643.6" width="11.2" height="13.5" class="bx"/><path d="M274.6 649.6H285.8" class="md"/><path d="M295.1 623.1V645.8M295.1 658.7V678.7" class="wh"/><rect x="289.5" y="645.8" width="11.2" height="12.9" class="bx"/><path d="M289.5 651.7H300.6" class="md"/><path d="M309.9 624.2V646.3M309.9 659.8V678.7" class="wh"/><rect x="304.3" y="646.3" width="11.2" height="13.5" class="bx"/><path d="M304.3 652.8H315.5" class="md"/><path d="M324.8 624.2V646.3M324.8 659.3V678.7" class="wh"/><rect x="319.2" y="646.3" width="11.2" height="12.9" class="bx"/><path d="M319.2 652.8H330.4" class="md"/><path d="M339.7 623.1V645.8M339.7 657.7V678.7" class="wh"/><rect x="334.1" y="645.8" width="11.2" height="11.9" class="bx"/><path d="M334.1 651.7H345.3" class="md"/><path d="M354.6 619.4V643.1M354.6 657.7V678.7" class="wh"/><rect x="349" y="643.1" width="11.2" height="14.6" class="bx"/><path d="M349 650.1H360.1" class="md"/><path d="M369.4 604.3V631.2M369.4 651.2V678.7" class="wh"/><rect x="363.8" y="631.2" width="11.2" height="20" class="bx"/><path d="M363.8 642H375" class="md"/><path d="M384.3 611.3V632.9M384.3 649.6V671.7" class="wh"/><rect x="378.7" y="632.9" width="11.2" height="16.7" class="bx"/><path d="M378.7 641.5H389.9" class="md"/><circle cx="235.6" cy="604.8" r="1.6"/><path d="M235.6 671.7V680.3" class="ob"/><circle cx="235.6" cy="685.7" r="1.6"/><circle cx="250.4" cy="592.4" r="1.6"/><circle cx="250.4" cy="583.2" r="1.6"/><circle cx="250.4" cy="581.1" r="1.6"/><circle cx="250.4" cy="577.3" r="1.6"/><path d="M250.4 671.7V677.1" class="ob"/><circle cx="250.4" cy="684.1" r="1.6"/><circle cx="265.3" cy="598.9" r="1.6"/><path d="M265.3 671.7V680.3" class="ob"/><circle cx="265.3" cy="684.6" r="1.6"/><path d="M280.2 615.6V619.4" class="ob"/><circle cx="280.2" cy="685.7" r="1.6"/><circle cx="295.1" cy="620.4" r="1.6"/><circle cx="295.1" cy="615.6" r="1.6"/><circle cx="295.1" cy="685.7" r="1.6"/><path d="M309.9 616.7V622.6" class="ob"/><circle cx="309.9" cy="685.7" r="1.6"/><path d="M324.8 616.7V622.6" class="ob"/><circle cx="324.8" cy="681.4" r="1.6"/><circle cx="324.8" cy="685.7" r="1.6"/><circle cx="339.7" cy="621.5" r="1.6"/><circle cx="339.7" cy="616.7" r="1.6"/><circle cx="339.7" cy="681.4" r="1.6"/><circle cx="339.7" cy="685.7" r="1.6"/><circle cx="354.6" cy="685.7" r="1.6"/><circle cx="354.6" cy="604.3" r="1.6"/><circle cx="369.4" cy="685.7" r="1.6"/><circle cx="384.3" cy="602.1" r="1.6"/><path d="M384.3 674.4V679.2" class="ob"/><circle cx="384.3" cy="685.7" r="1.6"/></g><path d="M223.6 676H226.6" class="tk"/><text x="221.3" y="680.9" class="yl">0</text><path d="M223.6 649H226.6" class="tk"/><text x="221.3" y="653.9" class="yl">5</text><path d="M223.6 622.1H226.6" class="tk"/><text x="221.3" y="627" class="yl">10</text><path d="M223.6 595.1H226.6" class="tk"/><text x="221.3" y="600" class="yl">15</text><path d="M235.6 690.6V693.9" class="tk"/><text transform="translate(244.8 696.6) rotate(-90)" class="xl">Male1-5d</text><path d="M250.4 690.6V693.9" class="tk"/><text transform="translate(259.6 696.6) rotate(-90)" class="xl">FCar24PBM</text><path d="M265.3 690.6V693.9" class="tk"/><text transform="translate(274.5 696.6) rotate(-90)" class="xl">Female1-5d</text><path d="M280.2 690.6V693.9" class="tk"/><text transform="translate(289.4 696.6) rotate(-90)" class="xl">Ov1-2dPE</text><path d="M295.1 690.6V693.9" class="tk"/><text transform="translate(304.2 696.6) rotate(-90)" class="xl">Ov24PBM</text><path d="M309.9 690.6V693.9" class="tk"/><text transform="translate(319.1 696.6) rotate(-90)" class="xl">Em0-1h</text><path d="M324.8 690.6V693.9" class="tk"/><text transform="translate(334 696.6) rotate(-90)" class="xl">Em2-4h</text><path d="M339.7 690.6V693.9" class="tk"/><text transform="translate(348.9 696.6) rotate(-90)" class="xl">Em4-8h</text><path d="M354.6 690.6V693.9" class="tk"/><text transform="translate(363.8 696.6) rotate(-90)" class="xl">Em8-12h</text><path d="M369.4 690.6V693.9" class="tk"/><text transform="translate(378.6 696.6) rotate(-90)" class="xl">Larvae</text><path d="M384.3 690.6V693.9" class="tk"/><text transform="translate(393.5 696.6) rotate(-90)" class="xl">Pupae</text>
<rect x="416.8" y="555.2" width="166.6" height="16.5" fill="#d3d3d3" stroke="#9a9a9a" stroke-width="1"/><text x="500.1" y="567.5" class="st">Cluster 19</text><rect x="416.8" y="572" width="166.6" height="118.6" fill="#f3f3f3" stroke="#a8a8a8" stroke-width="0.9"/><rect x="418.8" y="572" width="14.4" height="118.6" fill="#a4a6b6"/><rect x="433.2" y="572" width="29.8" height="118.6" fill="#a3cd9f"/><rect x="463" y="572" width="29.8" height="118.6" fill="#f6cda3"/><rect x="492.7" y="572" width="59.5" height="118.6" fill="#eeb3a5"/><rect x="552.2" y="572" width="14.9" height="118.6" fill="#deb1d2"/><rect x="567.1" y="572" width="14.1" height="118.6" fill="#b09dd1"/><g stroke="#000" stroke-width="0.8"><path d="M416.8 688.5H583.4" stroke-opacity="0.045"/><path d="M416.8 673.8H583.4" stroke-opacity="0.025"/><path d="M416.8 659.1H583.4" stroke-opacity="0.045"/><path d="M416.8 644.4H583.4" stroke-opacity="0.025"/><path d="M416.8 629.7H583.4" stroke-opacity="0.045"/><path d="M416.8 615H583.4" stroke-opacity="0.025"/><path d="M416.8 600.3H583.4" stroke-opacity="0.045"/><path d="M416.8 585.6H583.4" stroke-opacity="0.025"/><path d="M425.8 572V690.6" stroke-opacity=".04"/><path d="M440.6 572V690.6" stroke-opacity=".04"/><path d="M455.5 572V690.6" stroke-opacity=".04"/><path d="M470.4 572V690.6" stroke-opacity=".04"/><path d="M485.3 572V690.6" stroke-opacity=".04"/><path d="M500.1 572V690.6" stroke-opacity=".04"/><path d="M515 572V690.6" stroke-opacity=".04"/><path d="M529.9 572V690.6" stroke-opacity=".04"/><path d="M544.8 572V690.6" stroke-opacity=".04"/><path d="M559.6 572V690.6" stroke-opacity=".04"/><path d="M574.5 572V690.6" stroke-opacity=".04"/></g><g fill="#1c2545" clip-path="url(#c19)"><path d="M425.8 590.3L440.6 590.9V589.7L425.8 588.5ZM440.6 590.9L455.5 590.9V589.7L440.6 589.7ZM455.5 590.9L470.4 590.9V589.7L455.5 589.7ZM470.4 590.9L485.3 594.4V593.2L470.4 589.7ZM485.3 594.4L500.1 592.7V590.9L485.3 593.2ZM500.1 592.7L515 591.5V589.7L500.1 590.9ZM515 591.5L529.9 586.2V586.2L515 589.7ZM529.9 586.2L544.8 585V585L529.9 586.2ZM544.8 585L559.6 588.5V588.5L544.8 585ZM559.6 588.5L574.5 588.5V588.5L559.6 588.5Z" fill-opacity=".15"/><path d="M425.8 679.7L440.6 679.7V643.8L425.8 639.1ZM440.6 679.7L455.5 679.7V643.8L440.6 643.8ZM455.5 679.7L470.4 679.7V643.8L455.5 643.8ZM470.4 679.7L485.3 679.7V643.2L470.4 643.8ZM485.3 679.7L500.1 679.7V643.5L485.3 643.2ZM500.1 679.7L515 679.7V642.3L500.1 643.5ZM515 679.7L529.9 679.7V635.9L515 642.3ZM529.9 679.7L544.8 679.7V636.8L529.9 635.9ZM544.8 679.7L559.6 679.7V640.3L544.8 636.8ZM559.6 679.7L574.5 679.7V641.8L559.6 640.3Z" fill-opacity=".25"/><path d="M425.8 592.2L440.6 592.8V590.9L425.8 590.3ZM440.6 592.8L455.5 592.8V590.9L440.6 590.9ZM455.5 592.8L470.4 592.8V590.9L455.5 590.9ZM470.4 592.8L485.3 596.3V594.4L470.4 590.9ZM485.3 596.3L500.1 594.5V592.7L485.3 594.4ZM500.1 594.5L515 593.4V591.5L500.1 592.7ZM515 593.4L529.9 587.8V586.2L515 591.5ZM529.9 587.8L544.8 586.6V585L529.9 586.2ZM544.8 586.6L559.6 590.4V588.5L544.8 585ZM559.6 590.4L574.5 590.6V588.5L559.6 588.5Z" fill-opacity=".35"/><path d="M425.8 639.1L440.6 643.8V640.7L425.8 636.4ZM440.6 643.8L455.5 643.8V640.7L440.6 640.7ZM455.5 643.8L470.4 643.8V640.7L455.5 640.7ZM470.4 643.8L485.3 643.2V640.5L470.4 640.7ZM485.3 643.2L500.1 643.5V640.6L485.3 640.5ZM500.1 643.5L515 642.3V639.4L500.1 640.6ZM515 642.3L529.9 635.9V633.4L515 639.4ZM529.9 635.9L544.8 636.8V634.1L529.9 633.4ZM544.8 636.8L559.6 640.3V637.6L544.8 634.1ZM559.6 640.3L574.5 641.8V638.8L559.6 637.6Z" fill-opacity=".45"/><path d="M425.8 594.1L440.6 594.7V592.8L425.8 592.2ZM440.6 594.7L455.5 594.7V592.8L440.6 592.8ZM455.5 594.7L470.4 594.7V592.8L455.5 592.8ZM470.4 594.7L485.3 598.2V596.3L470.4 592.8ZM485.3 598.2L500.1 596.4V594.5L485.3 596.3ZM500.1 596.4L515 595.2V593.4L500.1 594.5ZM515 595.2L529.9 589.4V587.8L515 593.4ZM529.9 589.4L544.8 588.2V586.6L529.9 587.8ZM544.8 588.2L559.6 592.3V590.4L544.8 586.6ZM559.6 592.3L574.5 592.7V590.6L559.6 590.4Z" fill-opacity=".50"/><path d="M425.8 636.4L440.6 640.7V637.6L425.8 633.7ZM440.6 640.7L455.5 640.7V637.6L440.6 637.6ZM455.5 640.7L470.4 640.7V637.6L455.5 637.6ZM470.4 640.7L485.3 640.5V637.9L470.4 637.6ZM485.3 640.5L500.1 640.6V637.7L485.3 637.9ZM500.1 640.6L515 639.4V636.5L500.1 637.7ZM515 639.4L529.9 633.4V631L515 636.5ZM529.9 633.4L544.8 634.1V631.4L529.9 631ZM544.8 634.1L559.6 637.6V634.9L544.8 631.4ZM559.6 637.6L574.5 638.8V635.9L559.6 634.9Z" fill-opacity=".55"/><path d="M425.8 595.9L440.6 596.5V594.7L425.8 594.1ZM440.6 596.5L455.5 596.5V594.7L440.6 594.7ZM455.5 596.5L470.4 596.5V594.7L455.5 594.7ZM470.4 596.5L485.3 600.1V598.2L470.4 594.7ZM485.3 600.1L500.1 598.3V596.4L485.3 598.2ZM500.1 598.3L515 597.1V595.2L500.1 596.4ZM515 597.1L529.9 591V589.4L515 595.2ZM529.9 591L544.8 589.8V588.2L529.9 589.4ZM544.8 589.8L559.6 594.2V592.3L544.8 588.2ZM559.6 594.2L574.5 594.7V592.7L559.6 592.3Z" fill-opacity=".65"/><path d="M425.8 633.7L440.6 637.6V634.4L425.8 631.1ZM440.6 637.6L455.5 637.6V634.4L440.6 634.4ZM455.5 637.6L470.4 637.6V634.4L455.5 634.4ZM470.4 637.6L485.3 637.9V635.2L470.4 634.4ZM485.3 637.9L500.1 637.7V634.8L485.3 635.2ZM500.1 637.7L515 636.5V633.6L500.1 634.8ZM515 636.5L529.9 631V628.5L515 633.6ZM529.9 631L544.8 631.4V628.7L529.9 628.5ZM544.8 631.4L559.6 634.9V632.2L544.8 628.7ZM559.6 634.9L574.5 635.9V633L559.6 632.2Z" fill-opacity=".70"/><path d="M425.8 597.8L440.6 598.4V596.5L425.8 595.9ZM440.6 598.4L455.5 598.4V596.5L440.6 596.5ZM455.5 598.4L470.4 598.4V596.5L455.5 596.5ZM470.4 598.4L485.3 601.9V600.1L470.4 596.5ZM485.3 601.9L500.1 600.2V598.3L485.3 600.1ZM500.1 600.2L515 599V597.1L500.1 598.3ZM515 599L529.9 592.5V591L515 597.1ZM529.9 592.5L544.8 591.4V589.8L529.9 591ZM544.8 591.4L559.6 596.1V594.2L544.8 589.8ZM559.6 596.1L574.5 596.8V594.7L559.6 594.2Z" fill-opacity=".75"/><path d="M425.8 631.1L440.6 634.4V631.3L425.8 628.4ZM440.6 634.4L455.5 634.4V631.3L440.6 631.3ZM455.5 634.4L470.4 634.4V631.3L455.5 631.3ZM470.4 634.4L485.3 635.2V632.5L470.4 631.3ZM485.3 635.2L500.1 634.8V631.9L485.3 632.5ZM500.1 634.8L515 633.6V630.7L500.1 631.9ZM515 633.6L529.9 628.5V626L515 630.7ZM529.9 628.5L544.8 628.7V626L529.9 626ZM544.8 628.7L559.6 632.2V629.6L544.8 626ZM559.6 632.2L574.5 633V630.1L559.6 629.6Z" fill-opacity=".80"/><path d="M425.8 599.7L440.6 600.3V598.4L425.8 597.8ZM425.8 628.4L440.6 631.3V628.2L425.8 625.7ZM440.6 600.3L455.5 600.3V598.4L440.6 598.4ZM440.6 631.3L455.5 631.3V628.2L440.6 628.2ZM455.5 600.3L470.4 600.3V598.4L455.5 598.4ZM455.5 631.3L470.4 631.3V628.2L455.5 628.2ZM470.4 600.3L485.3 603.8V601.9L470.4 598.4ZM470.4 631.3L485.3 632.5V629.8L470.4 628.2ZM485.3 603.8L500.1 602.1V600.2L485.3 601.9ZM485.3 632.5L500.1 631.9V629L485.3 629.8ZM500.1 602.1L515 600.9V599L500.1 600.2ZM500.1 631.9L515 630.7V627.8L500.1 629ZM515 600.9L529.9 594.1V592.5L515 599ZM515 630.7L529.9 626V623.6L515 627.8ZM529.9 594.1L544.8 592.9V591.4L529.9 592.5ZM529.9 626L544.8 626V623.3L529.9 623.6ZM544.8 592.9L559.6 597.9V596.1L544.8 591.4ZM544.8 626L559.6 629.6V626.9L544.8 623.3ZM559.6 597.9L574.5 598.8V596.8L559.6 596.1ZM559.6 629.6L574.5 630.1V627.2L559.6 626.9Z" fill-opacity=".90"/><path d="M425.8 625.7L440.6 628.2V600.3L425.8 599.7ZM440.6 628.2L455.5 628.2V600.3L440.6 600.3ZM455.5 628.2L470.4 628.2V600.3L455.5 600.3ZM470.4 628.2L485.3 629.8V603.8L470.4 600.3ZM485.3 629.8L500.1 629V602.1L485.3 603.8ZM500.1 629L515 627.8V600.9L500.1 602.1ZM515 627.8L529.9 623.6V594.1L515 600.9ZM529.9 623.6L544.8 623.3V592.9L529.9 594.1ZM544.8 623.3L559.6 626.9V597.9L544.8 592.9ZM559.6 626.9L574.5 627.2V598.8L559.6 597.9Z" fill-opacity=".95"/></g><g transform="translate(425.77 0) scale(14.875 1)"><path vector-effect="non-scaling-stroke" d="M0 625.5 1 627.2 2 620.4 3 626.1 4 628.9 5 628.9 6 625.3 7 621.5 8 621.3 9 625.3 10 621.5M0 640.4 1 640.5 2 639.6 3 642 4 646.6 5 646.2 6 642.4 7 643.9 8 639.5 9 640.5 10 640.2M0 622.5 1 624.3 2 626.7 3 626.4 4 627.7 5 627.7 6 627.6 7 625.1 8 624.3 9 623.5 10 623M0 663.5 1 656.7 2 662.3 3 661.4 4 657.6 5 658.4 6 659.3 7 659 8 665.6 9 664.1 10 665M0 626.7 1 626.8 2 628.1 3 630.9 4 634.2 5 629.1 6 628.7 7 623.3 8 626.9 9 629.8 10 635.8M0 631 1 637.7 2 635.1 3 637.2 4 638.4 5 633.3 6 629.2 7 625.4 8 626.8 9 629 10 630.2M0 592.7 1 593.3 2 594.2 3 593.3 4 596 5 593.7 6 591.2 7 587.6 8 586.9 9 591 10 591.7M0 598.6 1 598.4 2 598.3 3 598.5 4 601.9 5 599.2 6 598.2 7 591.6 8 590.3 9 594.9 10 595.2M0 635.4 1 637.9 2 638 3 640.3 4 643.3 5 643.7 6 644.8 7 639.3 8 637.1 9 636.9 10 636.3M0 643.4 1 644.4 2 646.8 3 651.6 4 652.6 5 655.5 6 658.8 7 654 8 654.7 9 653.2 10 652.3M0 600.9 1 601.6 2 601.2 3 601.7 4 606.2 5 604.6 6 603.8 7 596.3 8 595.1 9 600.6 10 601.5M0 648 1 658.3 2 656.6 3 652.1 4 654.6 5 650.8 6 647.6 7 643.9 8 643.9 9 646.3 10 647.2M0 598 1 598.8 2 599.6 3 599.3 4 602.9 5 599.9 6 599.2 7 592.3 8 591.5 9 597.1 10 598.4M0 593.3 1 594.5 2 594.8 3 595 4 597.6 5 595.4 6 594 7 589.9 8 588.7 9 592.7 10 592.2M0 659.6 1 662.3 2 660.1 3 663.5 4 664.1 5 661.3 6 659 7 653.1 8 648.5 9 653.7 10 656.3M0 617 1 620.4 2 621.7 3 621.1 4 622.4 5 620.5 6 619.3 7 609.6 8 609.4 9 614.2 10 612.2M0 676.4 1 676.7 2 676 3 674.7 4 670.9 5 670.2 6 672.4 7 671.6 8 667 9 669 10 668.4M0 647.4 1 646.1 2 645.7 3 645.9 4 650.1 5 646.1 6 644.8 7 639.2 8 639.7 9 640.6 10 632M0 662.9 1 660.6 2 656.9 3 656.4 4 657.4 5 656.7 6 657 7 652.5 8 654.1 9 655.3 10 656.6M0 632.9 1 633.7 2 638.5 3 643 4 639.9 5 633.1 6 630.1 7 627.4 8 629.9 9 634.8 10 634.9M0 635 1 635.2 2 632.8 3 636.7 4 639.8 5 641.4 6 639.3 7 635.9 8 639.3 9 640.9 10 644.4M0 651.8 1 657.8 2 656.8 3 661.4 4 659.9 5 657.1 6 650.3 7 650.4 8 654.7 9 652.8 10 652M0 637.1 1 637.6 2 634.8 3 635.1 4 638 5 633.4 6 632 7 629.8 8 621 9 625.5 10 630.7M0 652.5 1 653.3 2 650.1 3 645.3 4 652.7 5 648.6 6 647.1 7 648.6 8 649.4 9 651.7 10 646.2M0 590.5 1 591.1 2 591.5 3 591.9 4 595.2 5 592.4 6 591.9 7 587.2 8 585.7 9 589.3 10 590M0 629.8 1 636.4 2 635.4 3 636.8 4 637.8 5 637.3 6 640.4 7 635.1 8 637.4 9 639.2 10 639.3M0 665.8 1 669.2 2 671.5 3 666.9 4 664.3 5 662.9 6 667.7 7 665.4 8 665.2 9 665.4 10 666.3M0 617 1 617.4 2 619.9 3 625.2 4 629 5 630.1 6 622 7 621.4 8 626.9 9 633.7 10 635.4M0 662.5 1 666.4 2 667.1 3 661 4 662.2 5 662.8 6 659.8 7 659.3 8 660 9 656 10 657.6M0 598 1 598.7 2 598.5 3 599.3 4 603.3 5 600.6 6 599.3 7 592.6 8 591.4 9 595.6 10 596.6M0 590.8 1 592.7 2 593 3 592.9 4 596.3 5 593.9 6 593 7 588.5 8 586.9 9 590.8 10 591M0 620.3 1 619.9 2 622.6 3 619.1 4 623.7 5 622.5 6 619.3 7 608.1 8 611.8 9 611.3 10 614.8M0 600.1 1 600.8 2 601.5 3 601.9 4 605.2 5 604.2 6 602.6 7 595.3 8 593.9 9 598.9 10 599.6M0 601.3 1 601.5 2 601.3 3 601.9 4 606.4 5 604.8 6 603 7 596.1 8 595.1 9 600.8 10 601.7M0 634.9 1 638.8 2 638.6 3 641.4 4 641.2 5 642.9 6 646.6 7 640.8 8 637.9 9 642.3 10 651.4M0 626.2 1 624 2 621.3 3 625 4 622.1 5 617.2 6 618 7 613.3 8 616.7 9 617.5 10 615.8M0 597 1 597.3 2 597.3 3 597.6 4 600.8 5 598.2 6 596.4 7 590.8 8 589.8 9 594.5 10 595.8M0 634.1 1 638.2 2 641.8 3 636.5 4 636 5 634.6 6 633.8 7 626.6 8 628.9 9 634.7 10 636.3M0 622.8 1 620 2 620.3 3 621.4 4 621.4 5 615.7 6 613.6 7 607.7 8 613.4 9 620.5 10 623.7M0 641.7 1 645.2 2 646.7 3 644 4 641.2 5 637.8 6 640.1 7 635.8 8 644.3 9 644.5 10 646.4M0 643.2 1 644.6 2 641.2 3 635 4 636.5 5 632.6 6 627.7 7 625.2 8 624.4 9 628.9 10 634.2M0 648.8 1 652.6 2 649.6 3 651.3 4 653.1 5 652 6 651.5 7 656.6 8 654.5 9 655 10 655.4M0 599.1 1 598.7 2 599 3 599.8 4 602.9 5 601.8 6 600.6 7 594.1 8 592.9 9 598.1 10 598.6M0 619.9 1 619.9 2 619.3 3 617.9 4 617.6 5 620.4 6 621.7 7 613.6 8 615 9 619.1 10 621.6M0 626.3 1 627.4 2 631.2 3 630.8 4 636.9 5 635.7 6 631.6 7 624.3 8 622 9 627.4 10 628.8M0 617.2 1 622.9 2 629.4 3 627.6 4 627.7 5 627.9 6 627.4 7 621.4 8 620.9 9 629.3 10 632.2M0 592.1 1 593.8 2 594.2 3 594.7 4 597.8 5 595.9 6 595 7 589.8 8 588 9 592 10 591.9M0 657.5 1 657 2 662.8 3 667.1 4 664.5 5 663 6 664.1 7 663.1 8 665.7 9 665.2 10 660.5M0 659.8 1 659.4 2 654.1 3 655.3 4 652.9 5 654.5 6 652.9 7 651.2 8 653.1 9 654.2 10 651.4M0 647.3 1 651.6 2 649.9 3 648.4 4 650.5 5 651.1 6 651.9 7 645.1 8 642.2 9 645.6 10 646.9M0 659.5 1 663.5 2 664.5 3 663.9 4 666.5 5 667.5 6 669 7 665.4 8 666.8 9 672.3 10 671.5M0 636.1 1 642.6 2 644.1 3 643.4 4 645.4 5 647.9 6 648.3 7 647.8 8 651.4 9 653.7 10 656M0 594.6 1 594.2 2 594.4 3 594.2 4 597.4 5 594.8 6 593.8 7 589.1 8 587.1 9 590.6 10 591.2M0 617.1 1 616.4 2 614.4 3 615.8 4 618 5 616.1 6 615.6 7 607.4 8 608.4 9 617.9 10 616.5M0 632.6 1 635.9 2 639.3 3 640.2 4 636.9 5 634.4 6 637.5 7 637.3 8 636.5 9 634.7 10 633M0 615.5 1 614.7 2 613.1 3 616.1 4 618.4 5 614.5 6 614.3 7 608.4 8 606.5 9 613 10 614.8M0 623.5 1 620.6 2 618.8 3 619.2 4 626 5 626.2 6 622.2 7 616.1 8 612 9 616.2 10 616.4M0 599.8 1 601 2 600.5 3 601.1 4 604.4 5 602.6 6 600.4 7 593.8 8 592.7 9 597.8 10 598.1M0 601 1 600.6 2 599.7 3 600 4 603.6 5 601.7 6 601.5 7 593.8 8 593.3 9 598.1 10 599.7M0 635.4 1 635.7 2 638.4 3 638.3 4 640 5 641.9 6 634.1 7 631.2 8 634.9 9 642.9 10 645.1M0 618 1 618.9 2 618.5 3 617.4 4 615.7 5 619.3 6 614.3 7 607.2 8 608.3 9 611.3 10 612.3M0 599.1 1 600.2 2 599.7 3 599.7 4 603 5 600.6 6 598.9 7 593.3 8 592.6 9 597.4 10 597.8M0 650.5 1 649.9 2 646.4 3 642.8 4 642.5 5 642.2 6 639.3 7 636.1 8 635.1 9 637.3 10 636.4M0 636 1 638.5 2 636.6 3 637 4 636.1 5 637.2 6 637.3 7 629.5 8 627.2 9 632.5 10 634M0 655.5 1 657.4 2 657.4 3 655.2 4 655.4 5 653.6 6 649.8 7 644.1 8 641.5 9 639.7 10 641.3M0 660 1 661.6 2 660.3 3 659.5 4 659.3 5 654.6 6 657.6 7 651.5 8 646.6 9 651 10 648.1M0 594.2 1 595.8 2 596.5 3 596.5 4 600 5 598.8 6 598.3 7 592.7 8 591.5 9 596 10 596.2M0 601.4 1 602.4 2 602.1 3 601.4 4 606 5 603.8 6 602.4 7 594.8 8 593.5 9 598.1 10 599.2M0 648.5 1 653.2 2 656.4 3 659.3 4 658 5 661.1 6 662.1 7 663.4 8 663.2 9 663 10 661.2M0 595.3 1 595.9 2 596.1 3 597.2 4 601.1 5 599.4 6 597.3 7 591.3 8 590.5 9 595.6 10 596.6M0 601.7 1 602 2 601.3 3 602.8 4 606.4 5 604.6 6 603.2 7 595.7 8 594.6 9 599.7 10 600.7M0 627.2 1 627.9 2 626.5 3 629.4 4 628.3 5 630.2 6 625.3 7 627.2 8 630.7 9 632.2 10 631.3M0 630.1 1 631.7 2 637.3 3 638.8 4 641.2 5 639.8 6 640.4 7 645.1 8 646.3 9 643.7 10 644.5M0 629.3 1 627.6 2 629.4 3 627 4 627.2 5 624.8 6 621.6 7 621.9 8 626.1 9 628.7 10 629.3M0 629.3 1 630.4 2 628.1 3 632.4 4 634.3 5 633.6 6 631.4 7 624.7 8 627.3 9 628.4 10 627.3M0 646.5 1 643.9 2 642.2 3 641.8 4 636 5 636.9 6 635.1 7 627.4 8 626.4 9 630.9 10 631.2M0 595.8 1 597 2 596.7 3 596.7 4 600.9 5 599.1 6 598.4 7 592.3 8 591.9 9 597.5 10 599.1M0 625.6 1 628 2 632.3 3 633.3 4 634.9 5 637 6 632.6 7 622.2 8 618.3 9 626.1 10 628.9M0 626.3 1 626.3 2 628.4 3 625.7 4 630.9 5 629.1 6 625.3 7 620 8 616.9 9 620.4 10 615.7M0 617.1 1 623.2 2 618.5 3 617.9 4 618.5 5 617.4 6 615.1 7 613.9 8 613.6 9 615 10 622.4M0 648.4 1 652.1 2 648.8 3 647.5 4 650.9 5 655.3 6 654.4 7 651.9 8 655 9 652.3 10 650.5M0 669.3 1 671.6 2 675 3 667.4 4 667.3 5 670.6 6 667.9 7 663 8 663.9 9 664.8 10 666.6M0 633.1 1 634.1 2 636 3 634.1 4 638.1 5 640.4 6 642.1 7 635.1 8 636.2 9 639.9 10 642.6M0 661 1 660.1 2 662.6 3 662.9 4 668.6 5 669.2 6 664.4 7 662.3 8 662.9 9 667.5 10 669.4M0 632.6 1 638.4 2 640.9 3 637 4 632.1 5 630.2 6 629.7 7 622.7 8 620.8 9 627.8 10 630.2M0 630 1 633.8 2 635.4 3 642.2 4 644 5 641.4 6 639.1 7 637.9 8 643.5 9 647.5 10 649.2M0 647 1 650.5 2 651.8 3 652.3 4 650.8 5 649.6 6 647.3 7 645.5 8 644.5 9 647.7 10 650.5M0 596 1 596.1 2 596.6 3 595.8 4 599.7 5 597.1 6 596.2 7 590.9 8 589.7 9 594 10 594.6M0 601 1 602.5 2 602.5 3 602.9 4 606 5 604 6 603.5 7 595.8 8 594.9 9 599.6 10 601M0 619.3 1 628.3 2 627.3 3 632.1 4 632.9 5 631.2 6 628.1 7 621.6 8 622.7 9 629.6 10 630.3M0 640.5 1 642.6 2 637.8 3 636 4 637.6 5 635.8 6 634 7 634.9 8 637.7 9 644.6 10 645.4M0 666.4 1 667.3 2 668.1 3 669.8 4 670.4 5 672.5 6 669.9 7 670.6 8 667.4 9 671.2 10 674M0 636.9 1 634.6 2 631.8 3 634.4 4 635.3 5 631 6 623.7 7 617.7 8 612.1 9 616.7 10 616.8M0 622 1 621.8 2 621.1 3 618.7 4 625.5 5 624.4 6 620.9 7 623 8 620.3 9 622.9 10 622.6M0 628.8 1 629.6 2 628.5 3 624.5 4 622.7 5 620.6 6 616.6 7 612.3 8 614.3 9 618.8 10 619.9M0 628 1 630 2 631.3 3 630.5 4 628.8 5 628.7 6 626.2 7 616.6 8 618.7 9 623.4 10 625.7M0 594.8 1 596 2 596.2 3 595.5 4 599.1 5 597.1 6 595.1 7 589.5 8 588.3 9 591.5 10 592.6M0 598.5 1 599.5 2 599.4 3 598.9 4 602.2 5 600.2 6 598.4 7 591.6 8 590.4 9 595.5 10 596.2M0 597.6 1 597.8 2 597.5 3 597.4 4 601.5 5 599.9 6 599.2 7 592.8 8 591.7 9 596.5 10 597M0 625.6 1 626 2 625.1 3 621.5 4 624.2 5 626.4 6 620.9 7 617.2 8 618.6 9 624.1 10 626.2M0 598.3 1 598.5 2 598.4 3 598.6 4 602.1 5 599.9 6 598.2 7 593 8 592.4 9 598.1 10 599.3M0 645.5 1 645.3 2 643.3 3 641 4 641.3 5 641 6 638.7 7 632.5 8 628.2 9 631.8 10 630.5M0 658.6 1 663.8 2 661.3 3 660 4 655.4 5 649.6 6 643.8 7 643.4 8 642.7 9 640.8 10 639.1M0 622.8 1 624.1 2 624.6 3 625.7 4 621.6 5 621 6 616.1 7 609.1 8 609 9 615.4 10 624.2M0 590.1 1 590.6 2 591.2 3 590.7 4 595.3 5 593.8 6 592.6 7 588.8 8 587.3 9 590.6 10 590.8M0 595.5 1 595.5 2 596.1 3 594.9 4 597.8 5 595.6 6 594 7 589.1 8 587.8 9 592.4 10 593M0 638.3 1 639.8 2 643.2 3 636.6 4 635.5 5 637.3 6 635.2 7 633.4 8 637.8 9 642.6 10 638.8M0 656 1 656.4 2 657.7 3 657.2 4 662.9 5 662.9 6 663.2 7 663.4 8 666.5 9 669.2 10 669.2M0 642.8 1 642.9 2 642.2 3 643.5 4 643.5 5 640 6 638.2 7 633.3 8 634.9 9 636.3 10 635.5M0 666.7 1 666.3 2 664.2 3 665.9 4 662.7 5 662.2 6 663.3 7 664.2 8 662.6 9 662.3 10 662.2M0 685 1 685 2 685 3 685 4 685 5 685 6 685 7 685 8 685 9 685 10 685M0 679.7 1 679.7 2 679.7 3 679.7 4 679.7 5 679.7 6 679.7 7 679.7 8 679.7 9 679.7 10 679.7M0 677.9 1 679.1 2 678.5 3 679.7 4 679.1 5 678.5 6 679.7 7 677.9 8 678.5 9 679.1 10 678.5" fill="none" stroke="#1c2545" stroke-width="0.6" stroke-opacity="0.3"/></g><g clip-path="url(#c19)" class="b0"><path d="M425.8 588.5V608.5M425.8 621.5V641.5" class="wh"/><rect x="420.2" y="608.5" width="11.2" height="12.9" class="bx"/><path d="M420.2 614.4H431.4" class="md"/><path d="M440.6 589.7V609.1M440.6 623.2V642.6" class="wh"/><rect x="435.1" y="609.1" width="11.2" height="14.1" class="bx"/><path d="M435.1 615H446.2" class="md"/><path d="M455.5 589.7V609.1M455.5 623.2V642.6" class="wh"/><rect x="449.9" y="609.1" width="11.2" height="14.1" class="bx"/><path d="M449.9 615H461.1" class="md"/><path d="M470.4 589.7V609.1M470.4 623.2V642.6" class="wh"/><rect x="464.8" y="609.1" width="11.2" height="14.1" class="bx"/><path d="M464.8 615H476" class="md"/><path d="M485.3 593.2V612.6M485.3 625.6V645" class="wh"/><rect x="479.7" y="612.6" width="11.2" height="12.9" class="bx"/><path d="M479.7 618.5H490.9" class="md"/><path d="M500.1 590.9V610.9M500.1 624.4V643.8" class="wh"/><rect x="494.6" y="610.9" width="11.2" height="13.5" class="bx"/><path d="M494.6 616.8H505.7" class="md"/><path d="M515 589.7V609.7M515 623.2V643.2" class="wh"/><rect x="509.4" y="609.7" width="11.2" height="13.5" class="bx"/><path d="M509.4 615.6H520.6" class="md"/><path d="M529.9 586.2V605.6M529.9 619.7V640.3" class="wh"/><rect x="524.3" y="605.6" width="11.2" height="14.1" class="bx"/><path d="M524.3 613.2H535.5" class="md"/><path d="M544.8 585V604.4M544.8 619.1V639.7" class="wh"/><rect x="539.2" y="604.4" width="11.2" height="14.7" class="bx"/><path d="M539.2 612.1H550.4" class="md"/><path d="M559.6 588.5V608.5M559.6 622.6V642.6" class="wh"/><rect x="554.1" y="608.5" width="11.2" height="14.1" class="bx"/><path d="M554.1 615.6H565.2" class="md"/><path d="M574.5 588.5V608.5M574.5 622.6V642.6" class="wh"/><rect x="568.9" y="608.5" width="11.2" height="14.1" class="bx"/><path d="M568.9 615H580.1" class="md"/><circle cx="425.8" cy="582.7" r="1.6"/><circle cx="440.6" cy="579.7" r="1.6"/><circle cx="455.5" cy="580.3" r="1.6"/><circle cx="470.4" cy="582.7" r="1.6"/><circle cx="485.3" cy="582.7" r="1.6"/><circle cx="500.1" cy="583.8" r="1.6"/><circle cx="515" cy="582.7" r="1.6"/><circle cx="529.9" cy="578.5" r="1.6"/><circle cx="544.8" cy="580.9" r="1.6"/><circle cx="559.6" cy="580.9" r="1.6"/><circle cx="574.5" cy="581.5" r="1.6"/><path d="M425.8 644.4V679.7" class="ob"/><circle cx="425.8" cy="685" r="1.6"/><path d="M440.6 647.3V679.7" class="ob"/><circle cx="440.6" cy="685" r="1.6"/><path d="M455.5 647.3V679.7" class="ob"/><circle cx="455.5" cy="685" r="1.6"/><path d="M470.4 647.3V679.7" class="ob"/><circle cx="470.4" cy="685" r="1.6"/><path d="M485.3 647.3V679.7" class="ob"/><circle cx="485.3" cy="685" r="1.6"/><path d="M500.1 647.3V679.7" class="ob"/><circle cx="500.1" cy="685" r="1.6"/><path d="M515 647.3V679.7" class="ob"/><circle cx="515" cy="685" r="1.6"/><path d="M529.9 643.8V679.7" class="ob"/><circle cx="529.9" cy="685" r="1.6"/><path d="M544.8 643.2V679.7" class="ob"/><circle cx="544.8" cy="685" r="1.6"/><path d="M559.6 645V679.7" class="ob"/><circle cx="559.6" cy="685" r="1.6"/><path d="M574.5 646.2V679.7" class="ob"/><circle cx="574.5" cy="685" r="1.6"/></g><path d="M413.8 688.5H416.8" class="tk"/><text x="411.5" y="693.4" class="yl">-5</text><path d="M413.8 659.1H416.8" class="tk"/><text x="411.5" y="664" class="yl">0</text><path d="M413.8 629.7H416.8" class="tk"/><text x="411.5" y="634.6" class="yl">5</text><path d="M413.8 600.3H416.8" class="tk"/><text x="411.5" y="605.2" class="yl">10</text><path d="M425.8 690.6V693.9" class="tk"/><text transform="translate(435 696.6) rotate(-90)" class="xl">Male1-5d</text><path d="M440.6 690.6V693.9" class="tk"/><text transform="translate(449.8 696.6) rotate(-90)" class="xl">FCar24PBM</text><path d="M455.5 690.6V693.9" class="tk"/><text transform="translate(464.7 696.6) rotate(-90)" class="xl">Female1-5d</text><path d="M470.4 690.6V693.9" class="tk"/><text transform="translate(479.6 696.6) rotate(-90)" class="xl">Ov1-2dPE</text><path d="M485.3 690.6V693.9" class="tk"/><text transform="translate(494.5 696.6) rotate(-90)" class="xl">Ov24PBM</text><path d="M500.1 690.6V693.9" class="tk"/><text transform="translate(509.3 696.6) rotate(-90)" class="xl">Em0-1h</text><path d="M515 690.6V693.9" class="tk"/><text transform="translate(524.2 696.6) rotate(-90)" class="xl">Em2-4h</text><path d="M529.9 690.6V693.9" class="tk"/><text transform="translate(539.1 696.6) rotate(-90)" class="xl">Em4-8h</text><path d="M544.8 690.6V693.9" class="tk"/><text transform="translate(554 696.6) rotate(-90)" class="xl">Em8-12h</text><path d="M559.6 690.6V693.9" class="tk"/><text transform="translate(568.9 696.6) rotate(-90)" class="xl">Larvae</text><path d="M574.5 690.6V693.9" class="tk"/><text transform="translate(583.7 696.6) rotate(-90)" class="xl">Pupae</text>
<rect x="607.1" y="555.2" width="166.6" height="16.5" fill="#d3d3d3" stroke="#9a9a9a" stroke-width="1"/><text x="690.4" y="567.5" class="st">Cluster 20</text><rect x="607.1" y="572" width="166.6" height="118.6" fill="#f3f3f3" stroke="#a8a8a8" stroke-width="0.9"/><rect x="609" y="572" width="14.4" height="118.6" fill="#a4a6b6"/><rect x="623.4" y="572" width="29.8" height="118.6" fill="#a3cd9f"/><rect x="653.2" y="572" width="29.8" height="118.6" fill="#f6cda3"/><rect x="682.9" y="572" width="59.5" height="118.6" fill="#eeb3a5"/><rect x="742.4" y="572" width="14.9" height="118.6" fill="#deb1d2"/><rect x="757.3" y="572" width="14.1" height="118.6" fill="#b09dd1"/><g stroke="#000" stroke-width="0.8"><path d="M607.1 689.1H773.7" stroke-opacity="0.025"/><path d="M607.1 674.4H773.7" stroke-opacity="0.045"/><path d="M607.1 659.7H773.7" stroke-opacity="0.025"/><path d="M607.1 645.1H773.7" stroke-opacity="0.045"/><path d="M607.1 630.4H773.7" stroke-opacity="0.025"/><path d="M607.1 615.7H773.7" stroke-opacity="0.045"/><path d="M607.1 601.1H773.7" stroke-opacity="0.025"/><path d="M607.1 586.4H773.7" stroke-opacity="0.045"/><path d="M616 572V690.6" stroke-opacity=".04"/><path d="M630.9 572V690.6" stroke-opacity=".04"/><path d="M645.7 572V690.6" stroke-opacity=".04"/><path d="M660.6 572V690.6" stroke-opacity=".04"/><path d="M675.5 572V690.6" stroke-opacity=".04"/><path d="M690.4 572V690.6" stroke-opacity=".04"/><path d="M705.2 572V690.6" stroke-opacity=".04"/><path d="M720.1 572V690.6" stroke-opacity=".04"/><path d="M735 572V690.6" stroke-opacity=".04"/><path d="M749.9 572V690.6" stroke-opacity=".04"/><path d="M764.7 572V690.6" stroke-opacity=".04"/></g><g fill="#1c2545" clip-path="url(#c20)"><path d="M616 654.8L630.9 654.2V645.1L616 645.7ZM616 684.7L630.9 684.7V678.5L616 677.3ZM630.9 654.2L645.7 654.1V648L630.9 645.1ZM630.9 684.7L645.7 683.2V678.8L630.9 678.5ZM645.7 654.1L660.6 660.1V649.8L645.7 648ZM645.7 683.2L660.6 681.7V678.8L645.7 678.8ZM660.6 660.1L675.5 660.1V652.4L660.6 649.8ZM660.6 681.7L675.5 681.7V678.8L660.6 678.8ZM675.5 660.1L690.4 659.6V652.4L675.5 652.4ZM675.5 681.7L690.4 681.7V679.1L675.5 678.8ZM690.4 659.6L705.2 659.6V652.4L690.4 652.4ZM690.4 681.7L705.2 681.7V679.1L690.4 679.1ZM705.2 659.6L720.1 659.6V651.2L705.2 652.4ZM705.2 681.7L720.1 681.7V679.1L705.2 679.1ZM720.1 659.6L735 659.6V650.9L720.1 651.2ZM720.1 681.7L735 681.7V679.1L720.1 679.1ZM735 659.6L749.9 601.1V601.1L735 650.9ZM735 681.7L749.9 684.7V684.7L735 679.1ZM749.9 601.1L764.7 646.5V646.5L749.9 601.1ZM749.9 684.7L764.7 684.7V682.6L749.9 684.7Z" fill-opacity=".20"/><path d="M616 656.4L630.9 655.8V654.2L616 654.8ZM616 677.3L630.9 678.5V677.6L616 676.6ZM630.9 655.8L645.7 655.8V654.1L630.9 654.2ZM630.9 678.5L645.7 678.8V678L630.9 677.6ZM645.7 655.8L660.6 661.3V660.1L645.7 654.1ZM645.7 678.8L660.6 678.8V678.1L645.7 678ZM660.6 661.3L675.5 661.3V660.1L660.6 660.1ZM660.6 678.8L675.5 678.8V678.1L660.6 678.1ZM675.5 661.3L690.4 660.7V659.6L675.5 660.1ZM675.5 678.8L690.4 679.1V678.3L675.5 678.1ZM690.4 660.7L705.2 660.7V659.6L690.4 659.6ZM690.4 679.1L705.2 679.1V678.3L690.4 678.3ZM705.2 660.7L720.1 660.7V659.6L705.2 659.6ZM705.2 679.1L720.1 679.1V678.3L705.2 678.3ZM720.1 660.7L735 660.7V659.6L720.1 659.6ZM720.1 679.1L735 679.1V678.3L720.1 678.3ZM735 660.7L749.9 605.3V601.1L735 659.6ZM735 679.1L749.9 684.7V682.1L735 678.3ZM749.9 605.3L764.7 648.2V646.5L749.9 601.1ZM749.9 684.7L764.7 682.6V681.1L749.9 682.1Z" fill-opacity=".45"/><path d="M616 657.9L630.9 657.3V655.8L616 656.4ZM616 676.6L630.9 677.6V676.7L616 675.9ZM630.9 657.3L645.7 657.5V655.8L630.9 655.8ZM630.9 677.6L645.7 678V677.2L630.9 676.7ZM645.7 657.5L660.6 662.5V661.3L645.7 655.8ZM645.7 678L660.6 678.1V677.4L645.7 677.2ZM660.6 662.5L675.5 662.5V661.3L660.6 661.3ZM660.6 678.1L675.5 678.1V677.4L660.6 677.4ZM675.5 662.5L690.4 661.9V660.7L675.5 661.3ZM675.5 678.1L690.4 678.3V677.5L675.5 677.4ZM690.4 661.9L705.2 661.9V660.7L690.4 660.7ZM690.4 678.3L705.2 678.3V677.5L690.4 677.5ZM705.2 661.9L720.1 661.9V660.7L705.2 660.7ZM705.2 678.3L720.1 678.3V677.5L705.2 677.5ZM720.1 661.9L735 661.9V660.7L720.1 660.7ZM720.1 678.3L735 678.3V677.5L720.1 677.5ZM735 661.9L749.9 609.6V605.3L735 660.7ZM735 678.3L749.9 682.1V679.5L735 677.5ZM749.9 609.6L764.7 649.8V648.2L749.9 605.3ZM749.9 682.1L764.7 681.1V679.6L749.9 679.5Z" fill-opacity=".55"/><path d="M616 659.5L630.9 658.9V657.3L616 657.9ZM616 675.9L630.9 676.7V675.9L616 675.2ZM630.9 658.9L645.7 659.1V657.5L630.9 657.3ZM630.9 676.7L645.7 677.2V676.4L630.9 675.9ZM645.7 659.1L660.6 663.6V662.5L645.7 657.5ZM645.7 677.2L660.6 677.4V676.7L645.7 676.4ZM660.6 663.6L675.5 663.6V662.5L660.6 662.5ZM660.6 677.4L675.5 677.4V676.7L660.6 676.7ZM675.5 663.6L690.4 663V661.9L675.5 662.5ZM675.5 677.4L690.4 677.5V676.7L675.5 676.7ZM690.4 663L705.2 663V661.9L690.4 661.9ZM690.4 677.5L705.2 677.5V676.7L690.4 676.7ZM705.2 663L720.1 663V661.9L705.2 661.9ZM705.2 677.5L720.1 677.5V676.7L705.2 676.7ZM720.1 663L735 663V661.9L720.1 661.9ZM720.1 677.5L735 677.5V676.7L720.1 676.7ZM735 663L749.9 613.8V609.6L735 661.9ZM735 677.5L749.9 679.5V676.9L735 676.7ZM749.9 613.8L764.7 651.5V649.8L749.9 609.6ZM749.9 679.5L764.7 679.6V678.1L749.9 676.9Z" fill-opacity=".65"/><path d="M616 661L630.9 660.4V658.9L616 659.5ZM616 675.2L630.9 675.9V675L616 674.5ZM630.9 660.4L645.7 660.8V659.1L630.9 658.9ZM630.9 675.9L645.7 676.4V675.6L630.9 675ZM645.7 660.8L660.6 664.8V663.6L645.7 659.1ZM645.7 676.4L660.6 676.7V676L645.7 675.6ZM660.6 664.8L675.5 664.8V663.6L660.6 663.6ZM660.6 676.7L675.5 676.7V676L660.6 676ZM675.5 664.8L690.4 664.2V663L675.5 663.6ZM675.5 676.7L690.4 676.7V675.9L675.5 676ZM690.4 664.2L705.2 664.2V663L690.4 663ZM690.4 676.7L705.2 676.7V675.9L690.4 675.9ZM705.2 664.2L720.1 664.2V663L705.2 663ZM705.2 676.7L720.1 676.7V675.9L705.2 675.9ZM720.1 664.2L735 664.2V663L720.1 663ZM720.1 676.7L735 676.7V675.9L720.1 675.9ZM735 664.2L749.9 618.1V613.8L735 663ZM735 676.7L749.9 676.9V674.3L735 675.9ZM749.9 618.1L764.7 653.1V651.5L749.9 613.8ZM749.9 676.9L764.7 678.1V676.6L749.9 674.3Z" fill-opacity=".80"/><path d="M616 662.5L630.9 662V660.4L616 661ZM616 674.5L630.9 675V674.1L616 673.8ZM630.9 662L645.7 662.5V660.8L630.9 660.4ZM630.9 675L645.7 675.6V674.8L630.9 674.1ZM645.7 662.5L660.6 666V664.8L645.7 660.8ZM645.7 675.6L660.6 676V675.3L645.7 674.8ZM660.6 666L675.5 666V664.8L660.6 664.8ZM660.6 676L675.5 676V675.3L660.6 675.3ZM675.5 666L690.4 665.4V664.2L675.5 664.8ZM675.5 676L690.4 675.9V675.1L675.5 675.3ZM690.4 665.4L705.2 665.4V664.2L690.4 664.2ZM690.4 675.9L705.2 675.9V675.1L690.4 675.1ZM705.2 665.4L720.1 665.4V664.2L705.2 664.2ZM705.2 675.9L720.1 675.9V675.1L705.2 675.1ZM720.1 665.4L735 665.4V664.2L720.1 664.2ZM720.1 675.9L735 675.9V675.1L720.1 675.1ZM735 665.4L749.9 622.3V618.1L735 664.2ZM735 675.9L749.9 674.3V671.8L735 675.1ZM749.9 622.3L764.7 654.7V653.1L749.9 618.1ZM749.9 674.3L764.7 676.6V675.1L749.9 671.8Z" fill-opacity=".90"/><path d="M616 673.8L630.9 674.1V662L616 662.5ZM630.9 674.1L645.7 674.8V662.5L630.9 662ZM645.7 674.8L660.6 675.3V666L645.7 662.5ZM660.6 675.3L675.5 675.3V666L660.6 666ZM675.5 675.3L690.4 675.1V665.4L675.5 666ZM690.4 675.1L705.2 675.1V665.4L690.4 665.4ZM705.2 675.1L720.1 675.1V665.4L705.2 665.4ZM720.1 675.1L735 675.1V665.4L720.1 665.4ZM735 675.1L749.9 671.8V622.3L735 665.4ZM749.9 671.8L764.7 675.1V654.7L749.9 622.3Z" fill-opacity=".95"/></g><g transform="translate(616 0) scale(14.875 1)"><path vector-effect="non-scaling-stroke" d="M0 676.2 1 677.2 2 676.8 3 677.2 4 676.9 5 676.9 6 676.7 7 675.9 8 675.9 9 673.5 10 676.8M0 665.1 1 663.6 2 662.8 3 666.5 4 666.5 5 666.4 6 667.7 7 668 8 667.5 9 624.2 10 655.5M0 672.8 1 672.9 2 673.8 3 674.2 4 674.1 5 674 6 674.1 7 673.7 8 673.9 9 668.8 10 673.2M0 651.8 1 651.8 2 654.2 3 657.1 4 658.4 5 657.8 6 658 7 656 8 656.2 9 609.4 10 649.8M0 673 1 673.2 2 674.4 3 674.9 4 675.2 5 674.7 6 675 7 674.3 8 674.5 9 670.9 10 675.7M0 665.3 1 664.4 2 665.2 3 670 4 669.6 5 669 6 668.8 7 668.6 8 668.4 9 628.6 10 656.9M0 683.5 1 682.8 2 681.6 3 680.4 4 681.2 5 680.5 6 680.3 7 680.5 8 680.8 9 683.8 10 683.5M0 663.7 1 663.9 2 665.8 3 670.3 4 669.4 5 668.5 6 669 7 668.9 8 669.1 9 628.2 10 656.2M0 665.1 1 663.3 2 663.3 3 668.4 4 668.3 5 669.3 6 668.3 7 669.1 8 668.2 9 626.4 10 656.2M0 672.1 1 671.9 2 672.8 3 673.6 4 673.9 5 674.2 6 674.1 7 674 8 674.6 9 673 10 676.9M0 658.8 1 658.9 2 658.8 3 659.6 4 661.3 5 661.4 6 661.8 7 662.4 8 661.8 9 618.7 10 653M0 652.9 1 652.1 2 653.3 3 655.4 4 657.6 5 656.5 6 655.6 7 653.7 8 654 9 605 10 648.5M0 653.2 1 651.5 2 654.1 3 657.1 4 658.6 5 658.4 6 659.3 7 658.8 8 659.9 9 615 10 651.1M0 675.4 1 676 2 676.1 3 676.6 4 676.5 5 676.7 6 676.9 7 677.6 8 677.9 9 677.2 10 678.6M0 665.3 1 666.8 2 666.3 3 669.5 4 669.6 5 668.4 6 669.2 7 669.4 8 669.6 9 628.2 10 656.8M0 653.5 1 651.7 2 654.4 3 656.8 4 657.1 5 656 6 656.5 7 656.2 8 655.6 9 608.7 10 649.5M0 655.1 1 653.9 2 656.1 3 660.2 4 662.1 5 663 6 661.7 7 662.9 8 663.9 9 619.7 10 653.7M0 673.3 1 673.3 2 674.1 3 675 4 675.3 5 675.3 6 674.7 7 674.4 8 674.2 9 669.5 10 672.9M0 672 1 672.3 2 673.4 3 674.2 4 673.9 5 674 6 673.3 7 673.2 8 673.8 9 669.5 10 672.8M0 652.5 1 652.2 2 652.6 3 656 4 658.2 5 657.6 6 657.5 7 656.4 8 656.5 9 608.1 10 649.1M0 651.3 1 650.3 2 653.3 3 654.9 4 657.7 5 656.9 6 656.5 7 657.1 8 656.6 9 611.7 10 650.4M0 665.2 1 666.3 2 665.8 3 670.1 4 668.6 5 667.9 6 666 7 665.9 8 664.5 9 620.6 10 654.1M0 676.9 1 677 2 676.6 3 676.9 4 676.6 5 676.5 6 676.9 7 677.4 8 678 9 678.3 10 680.3M0 662.3 1 661.8 2 661 3 664.4 4 663.7 5 665.2 6 665.1 7 665.5 8 664.2 9 618.8 10 653.7M0 656 1 654.4 2 657 3 658.3 4 659.2 5 660.9 6 661.5 7 661.2 8 659.2 9 613.2 10 651.9M0 674.7 1 674.8 2 675.4 3 676.1 4 676.3 5 676.6 6 676.5 7 677.1 8 676.6 9 673.8 10 677M0 660.8 1 661.1 2 661.4 3 663.4 4 664.4 5 662.4 6 661.2 7 661.4 8 660.6 9 616.4 10 652.5M0 682.9 1 682.5 2 681.1 3 679.5 4 679.5 5 680.2 6 680.1 7 680.1 8 679.7 9 680.5 10 681.2M0 674.6 1 674.8 2 675.5 3 676.3 4 676.7 5 676.5 6 675.9 7 675.8 8 675.9 9 674 10 677M0 675.3 1 675.1 2 675.5 3 675.9 4 676.2 5 674.9 6 675.4 7 676 8 676.5 9 675.1 10 677.6M0 681.8 1 682.2 2 681.3 3 680.9 4 680.7 5 680.3 6 680.4 7 680.2 8 680.7 9 681.5 10 681.7M0 674.3 1 673.5 2 674.9 3 675 4 674.9 5 675.4 6 675.4 7 675.2 8 675.3 9 673.5 10 676.5M0 648.7 1 648.6 2 650.5 3 652.9 4 654.6 5 653.7 6 653.6 7 653.8 8 653.5 9 606.2 10 648.2M0 665.2 1 666.2 2 665.3 3 669.2 4 668.6 5 667.6 6 667 7 665.7 8 665.8 9 622.1 10 655.4M0 678.3 1 678.6 2 678.4 3 678.1 4 678 5 677.9 6 677.7 7 677.5 8 677.4 9 676 10 677.3M0 672.9 1 672.7 2 674.2 3 674.5 4 674.7 5 674.3 6 673.9 7 673.4 8 673.2 9 668.1 10 672.7M0 681.8 1 682.4 2 681.1 3 679.8 4 679.7 5 679.9 6 679.5 7 679.9 8 679.8 9 681.5 10 682.2M0 672.4 1 673.9 2 674.1 3 674.9 4 675.1 5 675 6 675.3 7 674.8 8 674.8 9 671.8 10 675.2M0 675.9 1 676.9 2 676.9 3 676.5 4 676.6 5 676.2 6 676.2 7 676.3 8 676.2 9 674.2 10 677.1M0 675.7 1 676.1 2 675.5 3 675.5 4 675.6 5 675.7 6 675.7 7 675.8 8 676.3 9 673.8 10 676.3M0 664.6 1 662.5 2 663.1 3 667.3 4 666.1 5 666.5 6 666.6 7 666.1 8 666.3 9 624.2 10 655.3M0 673.3 1 674.5 2 675.1 3 675.4 4 675.3 5 675.4 6 675.2 7 675.3 8 675.8 9 674 10 676.1M0 677.1 1 677.5 2 677.3 3 677.4 4 677.8 5 677.5 6 677.5 7 677.8 8 678.2 9 678.1 10 680M0 671.8 1 672 2 672.5 3 673.8 4 674 5 674.1 6 674.3 7 674.3 8 674.2 9 670.5 10 674M0 682.4 1 682.4 2 680.6 3 679.3 4 679.7 5 679.9 6 679.8 7 680.3 8 680 9 682.6 10 683.1M0 677.6 1 677.8 2 676.9 3 676.2 4 676.2 5 676.4 6 676.2 7 676.2 8 675.7 9 671.8 10 675.2M0 661.4 1 661 2 661 3 665.1 4 665.5 5 664.9 6 664.9 7 664.1 8 663.7 9 620.4 10 655M0 672.5 1 673.1 2 674.6 3 674.9 4 674.9 5 674.4 6 674.3 7 674 8 673.8 9 668.1 10 672.4M0 672.1 1 672.1 2 673.4 3 674.1 4 674.1 5 674.4 6 674.5 7 674.6 8 674.5 9 670.4 10 673.7M0 673.1 1 673.8 2 675.2 3 675.9 4 675.7 5 676.2 6 675.5 7 676 8 675.1 9 671.1 10 674.6M0 676.4 1 676.8 2 676.2 3 676.5 4 676.9 5 677.3 6 677.4 7 677.4 8 677.3 9 677.8 10 680.2M0 672.1 1 672.1 2 672.4 3 673.8 4 673.5 5 673.5 6 673.3 7 673.2 8 673.8 9 669.3 10 673.5M0 651.6 1 652 2 653.6 3 655.6 4 658.3 5 657.9 6 658.5 7 656.9 8 656.4 9 609.1 10 648.3M0 658 1 656.2 2 658.3 3 659.5 4 660.9 5 660.8 6 661.3 7 661.2 8 659.6 9 613.6 10 651.8M0 661.7 1 661 2 659.3 3 662.5 4 663 5 663.3 6 662.7 7 662.8 8 661.3 9 614.8 10 651.5M0 673.5 1 673.6 2 674.2 3 674.8 4 674.8 5 674.6 6 674.9 7 675.3 8 675.1 9 673.2 10 676.4M0 680.7 1 681.4 2 681.2 3 680.4 4 680.8 5 680.2 6 679.9 7 680.1 8 679.4 9 679.7 10 680.9M0 659.1 1 659.4 2 659.9 3 662.5 4 662.8 5 662.2 6 662.2 7 662.9 8 662.9 9 617.8 10 653.5M0 665.3 1 664.9 2 666 3 670.8 4 668.9 5 669.1 6 668.6 7 668.9 8 668.7 9 628.3 10 656.5M0 676.2 1 676.4 2 676.8 3 676.4 4 676.2 5 676.4 6 676.7 7 677 8 677.2 9 675.8 10 678.4M0 676.7 1 676.8 2 676.7 3 676.7 4 676.6 5 676.2 6 676.5 7 677.3 8 677.4 9 676.1 10 678M0 672 1 672.4 2 673.1 3 674.5 4 674.5 5 674.5 6 675.2 7 674.4 8 674.5 9 670.8 10 674.3M0 679.4 1 680.5 2 680.4 3 679.8 4 680.1 5 680.1 6 680 7 680 8 680.1 9 681.2 10 681.3M0 674.2 1 674.7 2 675.8 3 676.1 4 676 5 676.1 6 676.5 7 676.4 8 676.1 9 674.6 10 677M0 680.7 1 681.9 2 680.4 3 679.1 4 678 5 678.1 6 678.7 7 678.8 8 678.7 9 679.4 10 680.4M0 672.8 1 672.9 2 673.7 3 674.1 4 674.8 5 675.1 6 675.1 7 675.1 8 675.2 9 671.5 10 675.3M0 675 1 675.3 2 674.7 3 675.1 4 674.6 5 673.9 6 674.7 7 674.6 8 674.5 9 670.4 10 673.7M0 659.8 1 658 2 658.4 3 661.2 4 663 5 662 6 661.3 7 660.4 8 660.5 9 614.3 10 652M0 677 1 677.1 2 676.8 3 676.4 4 676.8 5 676.6 6 676.5 7 676.3 8 676.5 9 674.2 10 676.6M0 678.6 1 678.3 2 677.7 3 677.9 4 677.9 5 678.2 6 678.4 7 678.4 8 678.4 9 679.2 10 680.3M0 676.8 1 677.1 2 676.7 3 676.9 4 677 5 677 6 676.8 7 677.3 8 678 9 677.3 10 678.8M0 679.5 1 678.9 2 679 3 678.1 4 677.7 5 677.5 6 678 7 677.8 8 678 9 676.7 10 679.1M0 661.6 1 662.7 2 662.9 3 665.7 4 665.5 5 664.8 6 664.4 7 663.6 8 664.3 9 620.8 10 654M0 680.1 1 680.6 2 680.8 3 680 4 679.7 5 679.8 6 679.8 7 679.6 8 679.1 9 678.2 10 679.5M0 671.8 1 673.2 2 674.1 3 675.2 4 674.9 5 674.5 6 674.4 7 673.7 8 674.3 9 670.4 10 674.5M0 674.5 1 675.5 2 676.1 3 676.1 4 676.5 5 676.3 6 676.1 7 675.4 8 676.1 9 671.7 10 675.2M0 678.9 1 678.8 2 678.6 3 678.2 4 677.7 5 677.1 6 677.5 7 677.1 8 676.7 9 676.4 10 678.2M0 660.9 1 660.4 2 663 3 667.1 4 666.9 5 666.2 6 665.2 7 664.8 8 667 9 626.6 10 656.8M0 663.9 1 665.4 2 664.8 3 669.5 4 669.4 5 669.2 6 669 7 668.9 8 669.5 9 627.2 10 657.1M0 654.1 1 654.8 2 654.3 3 657.7 4 659.3 5 658.8 6 658 7 656.8 8 657 9 610.4 10 649.6M8 659.7 9 577.6 10 650.9M8 662.7 9 586.7 10 656.8M8 656.8 9 597.3 10 645.1M0 684.7 1 684.7 2 685 3 685 4 685 5 685 6 685 7 685 8 685 9 684.7 10 684.7" fill="none" stroke="#1c2545" stroke-width="0.6" stroke-opacity="0.3"/></g><g clip-path="url(#c20)" class="b1"><path d="M616 658.3V666.8M616 672.6V684.7" class="wh"/><rect x="610.4" y="666.8" width="11.2" height="5.9" class="bx"/><path d="M610.4 670.3H621.6" class="md"/><path d="M630.9 656.8V666.2M630.9 672.6V684.7" class="wh"/><rect x="625.3" y="666.2" width="11.2" height="6.5" class="bx"/><path d="M625.3 669.7H636.5" class="md"/><path d="M645.7 658.3V667.1M645.7 673.5V683.2" class="wh"/><rect x="640.2" y="667.1" width="11.2" height="6.5" class="bx"/><path d="M640.2 670.9H651.3" class="md"/><path d="M660.6 661.8V669.1M660.6 674.1V681.7" class="wh"/><rect x="655" y="669.1" width="11.2" height="5" class="bx"/><path d="M655 671.8H666.2" class="md"/><path d="M675.5 661.8V669.1M675.5 674.1V681.7" class="wh"/><rect x="669.9" y="669.1" width="11.2" height="5" class="bx"/><path d="M669.9 671.8H681.1" class="md"/><path d="M690.4 660.9V668.5M690.4 673.8V681.7" class="wh"/><rect x="684.8" y="668.5" width="11.2" height="5.3" class="bx"/><path d="M684.8 671.2H696" class="md"/><path d="M705.2 660.9V668.5M705.2 673.8V681.7" class="wh"/><rect x="699.7" y="668.5" width="11.2" height="5.3" class="bx"/><path d="M699.7 671.2H710.8" class="md"/><path d="M720.1 660.9V668.5M720.1 673.8V681.7" class="wh"/><rect x="714.5" y="668.5" width="11.2" height="5.3" class="bx"/><path d="M714.5 671.2H725.7" class="md"/><path d="M735 660.9V668.5M735 673.8V681.7" class="wh"/><rect x="729.4" y="668.5" width="11.2" height="5.3" class="bx"/><path d="M729.4 671.2H740.6" class="md"/><path d="M749.9 601.1V639.2M749.9 665.6V684.7" class="wh"/><rect x="744.3" y="639.2" width="11.2" height="26.4" class="bx"/><path d="M744.3 653.3H755.5" class="md"/><path d="M764.7 646.5V661.8M764.7 672.6V684.7" class="wh"/><rect x="759.2" y="661.8" width="11.2" height="10.9" class="bx"/><path d="M759.2 667.7H770.3" class="md"/><path d="M616 645.7V653.3" class="ob"/><path d="M630.9 645.1V652.4" class="ob"/><circle cx="630.9" cy="642.1" r="1.6"/><circle cx="630.9" cy="639.8" r="1.6"/><path d="M645.7 648V655.9" class="ob"/><circle cx="645.7" cy="644.2" r="1.6"/><circle cx="645.7" cy="639.8" r="1.6"/><circle cx="645.7" cy="685" r="1.6"/><path d="M660.6 649.8V658.3" class="ob"/><circle cx="660.6" cy="685" r="1.6"/><path d="M675.5 652.4V658.3" class="ob"/><circle cx="675.5" cy="648.6" r="1.6"/><circle cx="675.5" cy="685" r="1.6"/><path d="M690.4 652.4V658.3" class="ob"/><circle cx="690.4" cy="648.9" r="1.6"/><circle cx="690.4" cy="685" r="1.6"/><path d="M705.2 652.4V658.3" class="ob"/><circle cx="705.2" cy="649.5" r="1.6"/><circle cx="705.2" cy="685" r="1.6"/><path d="M720.1 651.2V658.3" class="ob"/><circle cx="720.1" cy="685" r="1.6"/><path d="M735 650.9V655.3" class="ob"/><circle cx="735" cy="685" r="1.6"/><circle cx="749.9" cy="597.3" r="1.6"/><circle cx="749.9" cy="586.7" r="1.6"/><circle cx="749.9" cy="577.6" r="1.6"/><circle cx="764.7" cy="645.1" r="1.6"/></g><path d="M604.1 674.4H607.1" class="tk"/><text x="601.8" y="679.3" class="yl">0</text><path d="M604.1 645.1H607.1" class="tk"/><text x="601.8" y="650" class="yl">10</text><path d="M604.1 615.7H607.1" class="tk"/><text x="601.8" y="620.6" class="yl">20</text><path d="M604.1 586.4H607.1" class="tk"/><text x="601.8" y="591.3" class="yl">30</text><path d="M616 690.6V693.9" class="tk"/><text transform="translate(625.2 696.6) rotate(-90)" class="xl">Male1-5d</text><path d="M630.9 690.6V693.9" class="tk"/><text transform="translate(640.1 696.6) rotate(-90)" class="xl">FCar24PBM</text><path d="M645.7 690.6V693.9" class="tk"/><text transform="translate(654.9 696.6) rotate(-90)" class="xl">Female1-5d</text><path d="M660.6 690.6V693.9" class="tk"/><text transform="translate(669.8 696.6) rotate(-90)" class="xl">Ov1-2dPE</text><path d="M675.5 690.6V693.9" class="tk"/><text transform="translate(684.7 696.6) rotate(-90)" class="xl">Ov24PBM</text><path d="M690.4 690.6V693.9" class="tk"/><text transform="translate(699.6 696.6) rotate(-90)" class="xl">Em0-1h</text><path d="M705.2 690.6V693.9" class="tk"/><text transform="translate(714.4 696.6) rotate(-90)" class="xl">Em2-4h</text><path d="M720.1 690.6V693.9" class="tk"/><text transform="translate(729.3 696.6) rotate(-90)" class="xl">Em4-8h</text><path d="M735 690.6V693.9" class="tk"/><text transform="translate(744.2 696.6) rotate(-90)" class="xl">Em8-12h</text><path d="M749.9 690.6V693.9" class="tk"/><text transform="translate(759.1 696.6) rotate(-90)" class="xl">Larvae</text><path d="M764.7 690.6V693.9" class="tk"/><text transform="translate(773.9 696.6) rotate(-90)" class="xl">Pupae</text>
<text transform="translate(13.4 354.4) rotate(-90)" class="yt">regularized log transformation of counts</text>
</svg></body></html>
